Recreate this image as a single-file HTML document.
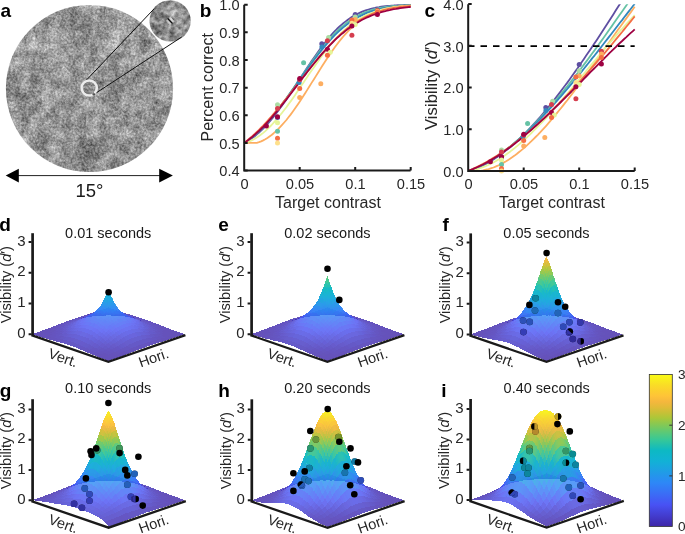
<!DOCTYPE html><html><head><meta charset="utf-8"><style>html,body{margin:0;padding:0;background:#fff;width:685px;height:534px;overflow:hidden}svg{display:block}</style></head><body>
<svg width="685" height="534" viewBox="0 0 685 534" style="will-change:transform">
<rect width="685" height="534" fill="#fff"/>
<defs>
<filter id="nz" x="0" y="0" width="100%" height="100%" color-interpolation-filters="sRGB"><feTurbulence type="fractalNoise" baseFrequency="0.45" numOctaves="2" seed="3" result="t1"/><feColorMatrix in="t1" type="matrix" values="1 0 0 0 0  1 0 0 0 0  1 0 0 0 0  0 0 0 0 1" result="g1"/><feTurbulence type="fractalNoise" baseFrequency="0.1" numOctaves="2" seed="17" result="t3"/><feColorMatrix in="t3" type="matrix" values="1 0 0 0 0  1 0 0 0 0  1 0 0 0 0  0 0 0 0 1" result="g3"/><feTurbulence type="fractalNoise" baseFrequency="0.03" numOctaves="2" seed="11" result="t2"/><feColorMatrix in="t2" type="matrix" values="1 0 0 0 0  1 0 0 0 0  1 0 0 0 0  0 0 0 0 1" result="g2"/><feComposite in="g1" in2="g3" operator="arithmetic" k1="0" k2="0.5" k3="0.42" k4="0" result="c1"/><feComposite in="c1" in2="g2" operator="arithmetic" k1="0" k2="1" k3="0.33" k4="-0.04"/></filter>
<filter id="gb" x="-50%" y="-50%" width="200%" height="200%"><feGaussianBlur stdDeviation="0.55"/></filter>
<filter id="nz2" x="0" y="0" width="100%%" height="100%%" color-interpolation-filters="sRGB"><feTurbulence type="fractalNoise" baseFrequency="0.2" numOctaves="3" seed="5" result="t1"/><feColorMatrix in="t1" type="matrix" values="1 0 0 0 0  1 0 0 0 0  1 0 0 0 0  0 0 0 0 1" result="g1"/><feTurbulence type="fractalNoise" baseFrequency="0.06" numOctaves="2" seed="9" result="t2"/><feColorMatrix in="t2" type="matrix" values="1 0 0 0 0  1 0 0 0 0  1 0 0 0 0  0 0 0 0 1" result="g2"/><feComposite in="g1" in2="g2" operator="arithmetic" k1="0" k2="0.7" k3="0.5" k4="-0.04"/></filter>
<clipPath id="cpA"><circle cx="89.5" cy="88.5" r="83.6"/></clipPath>
<clipPath id="cpI"><circle cx="170.1" cy="20.9" r="20.6"/></clipPath>
</defs>
<g clip-path="url(#cpA)"><rect x="0" y="0" width="180" height="180" filter="url(#nz)"/></g>
<g clip-path="url(#cpI)"><rect x="140" y="0" width="55" height="45" filter="url(#nz2)"/><g transform="translate(170.1,21) rotate(47)" filter="url(#gb)"><rect x="-3.6" y="-1" width="7.2" height="2" rx="1" fill="#000" opacity="0.9"/><rect x="-3.2" y="1.1" width="6.4" height="1.6" rx="0.8" fill="#eee" opacity="0.7"/><rect x="-3.2" y="-2.7" width="6.4" height="1.6" rx="0.8" fill="#eee" opacity="0.7"/><rect x="-2" y="-4.6" width="4" height="1.6" rx="0.8" fill="#222" opacity="0.6"/></g></g>
<line x1="84.8" y1="81.8" x2="154" y2="8.9" stroke="#111" stroke-width="1"/>
<line x1="93.6" y1="94.6" x2="181.7" y2="37" stroke="#111" stroke-width="1"/>
<circle cx="89.2" cy="88" r="7.6" fill="none" stroke="#ececec" stroke-width="2.5" stroke-dasharray="5.97 2.65 39.2"/>
<line x1="15" y1="175.6" x2="162" y2="175.6" stroke="#222" stroke-width="1"/>
<path d="M5.7 175.6 L18.8 168.8 L18.8 182.4 Z" fill="#000"/>
<path d="M172.9 175.6 L159.2 168.8 L159.2 182.4 Z" fill="#000"/>
<text x="89.5" y="196.8" text-anchor="middle" style="font-family:'Liberation Sans',sans-serif;font-size:18.5px" fill="#1a1a1a">15°</text>
<g fill="none" stroke-width="1.8" stroke-linejoin="round">
<polyline points="244.2,142.9 246.3,141.9 248.4,140.6 250.5,139.3 252.6,137.8 254.7,136.2 256.8,134.4 259.0,132.6 261.1,130.6 263.2,128.6 265.3,126.4 267.4,124.1 269.5,121.7 271.6,119.2 273.7,116.6 275.8,113.9 277.9,111.2 280.0,108.3 282.1,105.4 284.2,102.4 286.4,99.4 288.5,96.3 290.6,93.1 292.7,90.0 294.8,86.8 296.9,83.5 299.0,80.3 301.1,77.0 303.2,73.8 305.3,70.6 307.4,67.3 309.5,64.2 311.6,61.0 313.8,57.9 315.9,54.9 318.0,51.9 320.1,49.0 322.2,46.2 324.3,43.5 326.4,40.8 328.5,38.2 330.6,35.8 332.7,33.4 334.8,31.2 336.9,29.0 339.0,27.0 341.1,25.1 343.3,23.3 345.4,21.6 347.5,20.0 349.6,18.5 351.7,17.1 353.8,15.8 355.9,14.7 358.0,13.6 360.1,12.6 362.2,11.7 364.3,10.9 366.4,10.1 368.5,9.5 370.7,8.9 372.8,8.3 374.9,7.9 377.0,7.4 379.1,7.1 381.2,6.7 383.3,6.4 385.4,6.2 387.5,6.0 389.6,5.8 391.7,5.6 393.8,5.5 395.9,5.3 398.1,5.2 400.2,5.2 402.3,5.1 404.4,5.0 406.5,5.0 408.6,4.9 410.7,4.9" stroke="#5e4fa2"/>
<polyline points="244.2,142.9 246.3,141.6 248.4,140.2 250.5,138.6 252.6,136.9 254.7,135.2 256.8,133.3 259.0,131.3 261.1,129.3 263.2,127.1 265.3,124.9 267.4,122.6 269.5,120.1 271.6,117.6 273.7,115.1 275.8,112.4 277.9,109.7 280.0,106.9 282.1,104.1 284.2,101.2 286.4,98.3 288.5,95.3 290.6,92.3 292.7,89.3 294.8,86.3 296.9,83.2 299.0,80.1 301.1,77.1 303.2,74.0 305.3,71.0 307.4,67.9 309.5,64.9 311.6,62.0 313.8,59.0 315.9,56.2 318.0,53.4 320.1,50.6 322.2,47.9 324.3,45.3 326.4,42.7 328.5,40.3 330.6,37.9 332.7,35.6 334.8,33.4 336.9,31.3 339.0,29.3 341.1,27.4 343.3,25.6 345.4,23.9 347.5,22.3 349.6,20.7 351.7,19.3 353.8,18.0 355.9,16.7 358.0,15.6 360.1,14.5 362.2,13.5 364.3,12.6 366.4,11.8 368.5,11.0 370.7,10.3 372.8,9.7 374.9,9.1 377.0,8.6 379.1,8.1 381.2,7.7 383.3,7.3 385.4,7.0 387.5,6.7 389.6,6.4 391.7,6.2 393.8,6.0 395.9,5.8 398.1,5.7 400.2,5.5 402.3,5.4 404.4,5.3 406.5,5.2 408.6,5.1 410.7,5.1" stroke="#66c2a5"/>
<polyline points="244.2,142.9 246.3,141.6 248.4,140.1 250.5,138.5 252.6,136.8 254.7,135.0 256.8,133.1 259.0,131.1 261.1,129.1 263.2,126.9 265.3,124.7 267.4,122.3 269.5,120.0 271.6,117.5 273.7,114.9 275.8,112.3 277.9,109.7 280.0,106.9 282.1,104.2 284.2,101.3 286.4,98.5 288.5,95.6 290.6,92.6 292.7,89.7 294.8,86.7 296.9,83.7 299.0,80.8 301.1,77.8 303.2,74.8 305.3,71.8 307.4,68.9 309.5,66.0 311.6,63.1 313.8,60.3 315.9,57.5 318.0,54.7 320.1,52.1 322.2,49.4 324.3,46.9 326.4,44.4 328.5,42.0 330.6,39.7 332.7,37.4 334.8,35.2 336.9,33.2 339.0,31.2 341.1,29.3 343.3,27.4 345.4,25.7 347.5,24.1 349.6,22.5 351.7,21.1 353.8,19.7 355.9,18.4 358.0,17.2 360.1,16.1 362.2,15.1 364.3,14.1 366.4,13.2 368.5,12.4 370.7,11.6 372.8,10.9 374.9,10.3 377.0,9.7 379.1,9.1 381.2,8.7 383.3,8.2 385.4,7.8 387.5,7.5 389.6,7.1 391.7,6.9 393.8,6.6 395.9,6.4 398.1,6.2 400.2,6.0 402.3,5.8 404.4,5.7 406.5,5.5 408.6,5.4 410.7,5.3" stroke="#3288bd"/>
<polyline points="244.2,142.9 246.3,142.9 248.4,142.9 250.5,142.9 252.6,142.9 254.7,142.9 256.8,142.8 259.0,142.2 261.1,141.4 263.2,140.4 265.3,139.3 267.4,138.0 269.5,136.5 271.6,135.0 273.7,133.2 275.8,131.3 277.9,129.3 280.0,127.2 282.1,124.9 284.2,122.5 286.4,120.0 288.5,117.3 290.6,114.6 292.7,111.7 294.8,108.8 296.9,105.8 299.0,102.7 301.1,99.5 303.2,96.3 305.3,93.0 307.4,89.6 309.5,86.3 311.6,82.9 313.8,79.5 315.9,76.1 318.0,72.8 320.1,69.4 322.2,66.1 324.3,62.8 326.4,59.6 328.5,56.4 330.6,53.3 332.7,50.3 334.8,47.3 336.9,44.5 339.0,41.7 341.1,39.1 343.3,36.5 345.4,34.1 347.5,31.8 349.6,29.6 351.7,27.5 353.8,25.6 355.9,23.7 358.0,22.0 360.1,20.4 362.2,18.9 364.3,17.5 366.4,16.2 368.5,15.1 370.7,14.0 372.8,13.0 374.9,12.1 377.0,11.3 379.1,10.5 381.2,9.8 383.3,9.2 385.4,8.7 387.5,8.2 389.6,7.8 391.7,7.4 393.8,7.0 395.9,6.7 398.1,6.5 400.2,6.2 402.3,6.0 404.4,5.9 406.5,5.7 408.6,5.6 410.7,5.4" stroke="#fdae61"/>
<polyline points="244.2,142.9 246.3,142.4 248.4,141.7 250.5,140.9 252.6,139.9 254.7,138.8 256.8,137.5 259.0,136.1 261.1,134.5 263.2,132.9 265.3,131.1 267.4,129.2 269.5,127.1 271.6,125.0 273.7,122.7 275.8,120.4 277.9,117.9 280.0,115.3 282.1,112.7 284.2,110.0 286.4,107.2 288.5,104.3 290.6,101.4 292.7,98.4 294.8,95.4 296.9,92.3 299.0,89.2 301.1,86.1 303.2,83.0 305.3,79.8 307.4,76.7 309.5,73.6 311.6,70.5 313.8,67.4 315.9,64.4 318.0,61.4 320.1,58.4 322.2,55.5 324.3,52.7 326.4,50.0 328.5,47.3 330.6,44.7 332.7,42.2 334.8,39.8 336.9,37.5 339.0,35.2 341.1,33.1 343.3,31.1 345.4,29.2 347.5,27.3 349.6,25.6 351.7,23.9 353.8,22.4 355.9,21.0 358.0,19.6 360.1,18.3 362.2,17.2 364.3,16.1 366.4,15.1 368.5,14.1 370.7,13.3 372.8,12.5 374.9,11.7 377.0,11.0 379.1,10.4 381.2,9.9 383.3,9.4 385.4,8.9 387.5,8.5 389.6,8.1 391.7,7.8 393.8,7.4 395.9,7.2 398.1,6.9 400.2,6.7 402.3,6.5 404.4,6.3 406.5,6.1 408.6,6.0 410.7,5.8" stroke="#e6f598"/>
<polyline points="244.2,142.9 246.3,141.3 248.4,139.5 250.5,137.7 252.6,135.9 254.7,133.9 256.8,131.9 259.0,129.9 261.1,127.7 263.2,125.6 265.3,123.3 267.4,121.0 269.5,118.7 271.6,116.3 273.7,113.9 275.8,111.4 277.9,108.8 280.0,106.3 282.1,103.7 284.2,101.1 286.4,98.4 288.5,95.7 290.6,93.1 292.7,90.3 294.8,87.6 296.9,84.9 299.0,82.2 301.1,79.5 303.2,76.8 305.3,74.1 307.4,71.4 309.5,68.7 311.6,66.1 313.8,63.5 315.9,60.9 318.0,58.3 320.1,55.8 322.2,53.4 324.3,51.0 326.4,48.6 328.5,46.3 330.6,44.1 332.7,41.9 334.8,39.8 336.9,37.7 339.0,35.8 341.1,33.8 343.3,32.0 345.4,30.2 347.5,28.5 349.6,26.9 351.7,25.4 353.8,23.9 355.9,22.5 358.0,21.1 360.1,19.9 362.2,18.7 364.3,17.6 366.4,16.5 368.5,15.5 370.7,14.6 372.8,13.7 374.9,12.9 377.0,12.2 379.1,11.5 381.2,10.8 383.3,10.2 385.4,9.7 387.5,9.2 389.6,8.7 391.7,8.3 393.8,7.9 395.9,7.6 398.1,7.3 400.2,7.0 402.3,6.7 404.4,6.5 406.5,6.3 408.6,6.1 410.7,5.9" stroke="#f46d43"/>
<polyline points="244.2,142.9 246.3,141.5 248.4,140.0 250.5,138.3 252.6,136.6 254.7,134.8 256.8,132.9 259.0,130.9 261.1,128.9 263.2,126.8 265.3,124.6 267.4,122.3 269.5,120.0 271.6,117.6 273.7,115.1 275.8,112.6 277.9,110.1 280.0,107.5 282.1,104.9 284.2,102.2 286.4,99.5 288.5,96.7 290.6,94.0 292.7,91.2 294.8,88.4 296.9,85.7 299.0,82.9 301.1,80.1 303.2,77.3 305.3,74.6 307.4,71.8 309.5,69.1 311.6,66.5 313.8,63.8 315.9,61.2 318.0,58.7 320.1,56.2 322.2,53.7 324.3,51.3 326.4,49.0 328.5,46.7 330.6,44.5 332.7,42.3 334.8,40.2 336.9,38.2 339.0,36.3 341.1,34.4 343.3,32.7 345.4,30.9 347.5,29.3 349.6,27.7 351.7,26.2 353.8,24.8 355.9,23.5 358.0,22.2 360.1,21.0 362.2,19.8 364.3,18.8 366.4,17.7 368.5,16.8 370.7,15.9 372.8,15.0 374.9,14.3 377.0,13.5 379.1,12.8 381.2,12.2 383.3,11.6 385.4,11.1 387.5,10.5 389.6,10.1 391.7,9.6 393.8,9.2 395.9,8.9 398.1,8.5 400.2,8.2 402.3,7.9 404.4,7.6 406.5,7.4 408.6,7.2 410.7,7.0" stroke="#9e0142"/>
</g>
<circle cx="266.4" cy="125.9" r="2.5" fill="#9e0142"/>
<circle cx="277.5" cy="104.7" r="2.5" fill="#abdda4"/>
<circle cx="277.5" cy="117.4" r="2.5" fill="#5e4fa2"/>
<circle cx="277.5" cy="108.4" r="2.5" fill="#d53e4f"/>
<circle cx="277.5" cy="116.7" r="2.5" fill="#9e0142"/>
<circle cx="277.5" cy="122.8" r="2.5" fill="#e6f598"/>
<circle cx="277.5" cy="131.3" r="2.5" fill="#66c2a5"/>
<circle cx="277.5" cy="138.3" r="2.5" fill="#f46d43"/>
<circle cx="277.5" cy="142.9" r="2.5" fill="#fee08b"/>
<circle cx="299.1" cy="82.4" r="2.5" fill="#3288bd"/>
<circle cx="299.7" cy="79.8" r="2.5" fill="#d53e4f"/>
<circle cx="299.7" cy="78.5" r="2.5" fill="#9e0142"/>
<circle cx="299.7" cy="88.4" r="2.5" fill="#f46d43"/>
<circle cx="299.7" cy="97.5" r="2.5" fill="#fdae61"/>
<circle cx="303.6" cy="62.8" r="2.5" fill="#66c2a5"/>
<circle cx="320.8" cy="83.7" r="2.5" fill="#fdae61"/>
<circle cx="321.8" cy="43.8" r="2.5" fill="#5e4fa2"/>
<circle cx="321.9" cy="46.9" r="2.5" fill="#3288bd"/>
<circle cx="328.6" cy="37.6" r="2.5" fill="#abdda4"/>
<circle cx="327.4" cy="40.8" r="2.5" fill="#d53e4f"/>
<circle cx="327.4" cy="49.2" r="2.5" fill="#9e0142"/>
<circle cx="330.3" cy="52.2" r="2.5" fill="#e6f598"/>
<circle cx="327.4" cy="55.2" r="2.5" fill="#f46d43"/>
<circle cx="355.2" cy="14.6" r="2.5" fill="#5e4fa2"/>
<circle cx="355.2" cy="17.1" r="2.5" fill="#abdda4"/>
<circle cx="355.2" cy="19.5" r="2.5" fill="#fdae61"/>
<circle cx="351.9" cy="20.1" r="2.5" fill="#f46d43"/>
<circle cx="351.9" cy="23.2" r="2.5" fill="#fee08b"/>
<circle cx="355.2" cy="24.5" r="2.5" fill="#e6f598"/>
<circle cx="351.9" cy="25.9" r="2.5" fill="#9e0142"/>
<circle cx="351.9" cy="35.3" r="2.5" fill="#d53e4f"/>
<circle cx="377.4" cy="10.6" r="2.5" fill="#d53e4f"/>
<circle cx="377.4" cy="11.3" r="2.5" fill="#fdae61"/>
<circle cx="377.4" cy="12.2" r="2.5" fill="#f46d43"/>
<circle cx="377.4" cy="14.4" r="2.5" fill="#9e0142"/>
<defs><clipPath id="cpC"><rect x="468" y="4.2" width="170" height="170"/></clipPath></defs>
<g fill="none" stroke-width="1.8" stroke-linejoin="round" clip-path="url(#cpC)">
<polyline points="468.2,170.9 470.3,170.3 472.4,169.7 474.5,168.9 476.6,168.1 478.7,167.3 480.8,166.4 483.0,165.4 485.1,164.3 487.2,163.2 489.3,162.0 491.4,160.8 493.5,159.5 495.6,158.1 497.7,156.7 499.8,155.2 501.9,153.7 504.0,152.1 506.1,150.4 508.2,148.7 510.4,147.0 512.5,145.2 514.6,143.3 516.7,141.4 518.8,139.4 520.9,137.4 523.0,135.4 525.1,133.3 527.2,131.1 529.3,128.9 531.4,126.7 533.5,124.4 535.6,122.0 537.8,119.7 539.9,117.3 542.0,114.8 544.1,112.3 546.2,109.8 548.3,107.2 550.4,104.6 552.5,102.0 554.6,99.3 556.7,96.6 558.8,93.9 560.9,91.1 563.0,88.3 565.1,85.5 567.3,82.6 569.4,79.7 571.5,76.8 573.6,73.8 575.7,70.9 577.8,67.9 579.9,64.8 582.0,61.8 584.1,58.7 586.2,55.6 588.3,52.5 590.4,49.4 592.5,46.3 594.7,43.1 596.8,39.9 598.9,36.7 601.0,33.5 603.1,30.3 605.2,27.0 607.3,23.8 609.4,20.5 611.5,17.2 613.6,13.9 615.7,10.6 617.8,7.3 619.9,4.0 622.1,0.7 624.2,-2.6 626.3,-5.9 628.4,-9.3 630.5,-12.6 632.6,-16.0 634.7,-19.3" stroke="#5e4fa2"/>
<polyline points="468.2,170.9 470.3,170.2 472.4,169.4 474.5,168.6 476.6,167.7 478.7,166.7 480.8,165.7 483.0,164.7 485.1,163.6 487.2,162.4 489.3,161.2 491.4,159.9 493.5,158.6 495.6,157.3 497.7,155.8 499.8,154.4 501.9,152.9 504.0,151.3 506.1,149.7 508.2,148.0 510.4,146.3 512.5,144.6 514.6,142.8 516.7,141.0 518.8,139.1 520.9,137.2 523.0,135.3 525.1,133.3 527.2,131.2 529.3,129.2 531.4,127.1 533.5,124.9 535.6,122.7 537.8,120.5 539.9,118.3 542.0,116.0 544.1,113.7 546.2,111.3 548.3,109.0 550.4,106.6 552.5,104.1 554.6,101.6 556.7,99.1 558.8,96.6 560.9,94.1 563.0,91.5 565.1,88.9 567.3,86.2 569.4,83.6 571.5,80.9 573.6,78.2 575.7,75.5 577.8,72.7 579.9,70.0 582.0,67.2 584.1,64.4 586.2,61.6 588.3,58.7 590.4,55.9 592.5,53.0 594.7,50.1 596.8,47.2 598.9,44.3 601.0,41.4 603.1,38.4 605.2,35.5 607.3,32.5 609.4,29.5 611.5,26.6 613.6,23.6 615.7,20.6 617.8,17.6 619.9,14.5 622.1,11.5 624.2,8.5 626.3,5.5 628.4,2.4 630.5,-0.6 632.6,-3.6 634.7,-6.7" stroke="#66c2a5"/>
<polyline points="468.2,170.9 470.3,170.2 472.4,169.4 474.5,168.5 476.6,167.6 478.7,166.6 480.8,165.6 483.0,164.6 485.1,163.5 487.2,162.3 489.3,161.1 491.4,159.8 493.5,158.5 495.6,157.2 497.7,155.8 499.8,154.3 501.9,152.8 504.0,151.3 506.1,149.7 508.2,148.1 510.4,146.4 512.5,144.7 514.6,143.0 516.7,141.2 518.8,139.4 520.9,137.6 523.0,135.7 525.1,133.7 527.2,131.8 529.3,129.8 531.4,127.8 533.5,125.7 535.6,123.6 537.8,121.5 539.9,119.3 542.0,117.1 544.1,114.9 546.2,112.7 548.3,110.4 550.4,108.1 552.5,105.8 554.6,103.5 556.7,101.1 558.8,98.7 560.9,96.3 563.0,93.9 565.1,91.4 567.3,88.9 569.4,86.4 571.5,83.9 573.6,81.4 575.7,78.8 577.8,76.3 579.9,73.7 582.0,71.1 584.1,68.5 586.2,65.9 588.3,63.2 590.4,60.6 592.5,57.9 594.7,55.3 596.8,52.6 598.9,49.9 601.0,47.2 603.1,44.5 605.2,41.8 607.3,39.1 609.4,36.4 611.5,33.7 613.6,31.0 615.7,28.2 617.8,25.5 619.9,22.8 622.1,20.1 624.2,17.3 626.3,14.6 628.4,11.9 630.5,9.2 632.6,6.5 634.7,3.8" stroke="#3288bd"/>
<polyline points="468.2,170.9 470.3,170.9 472.4,170.9 474.5,170.9 476.6,170.9 478.7,170.9 480.8,170.8 483.0,170.5 485.1,170.0 487.2,169.5 489.3,168.9 491.4,168.2 493.5,167.5 495.6,166.6 497.7,165.7 499.8,164.7 501.9,163.6 504.0,162.4 506.1,161.2 508.2,159.9 510.4,158.5 512.5,157.1 514.6,155.6 516.7,154.0 518.8,152.3 520.9,150.6 523.0,148.9 525.1,147.0 527.2,145.1 529.3,143.2 531.4,141.2 533.5,139.1 535.6,137.0 537.8,134.9 539.9,132.7 542.0,130.4 544.1,128.1 546.2,125.8 548.3,123.4 550.4,120.9 552.5,118.5 554.6,116.0 556.7,113.4 558.8,110.8 560.9,108.2 563.0,105.6 565.1,102.9 567.3,100.2 569.4,97.4 571.5,94.7 573.6,91.9 575.7,89.0 577.8,86.2 579.9,83.4 582.0,80.5 584.1,77.6 586.2,74.7 588.3,71.7 590.4,68.8 592.5,65.9 594.7,62.9 596.8,59.9 598.9,57.0 601.0,54.0 603.1,51.0 605.2,48.0 607.3,45.0 609.4,42.0 611.5,39.1 613.6,36.1 615.7,33.1 617.8,30.1 619.9,27.2 622.1,24.2 624.2,21.3 626.3,18.4 628.4,15.5 630.5,12.6 632.6,9.7 634.7,6.8" stroke="#fdae61"/>
<polyline points="468.2,170.9 470.3,170.6 472.4,170.2 474.5,169.8 476.6,169.3 478.7,168.7 480.8,168.0 483.0,167.2 485.1,166.4 487.2,165.5 489.3,164.5 491.4,163.5 493.5,162.4 495.6,161.3 497.7,160.0 499.8,158.7 501.9,157.4 504.0,156.0 506.1,154.5 508.2,153.0 510.4,151.4 512.5,149.8 514.6,148.1 516.7,146.4 518.8,144.6 520.9,142.8 523.0,140.9 525.1,139.0 527.2,137.1 529.3,135.1 531.4,133.0 533.5,130.9 535.6,128.8 537.8,126.7 539.9,124.5 542.0,122.3 544.1,120.1 546.2,117.8 548.3,115.5 550.4,113.2 552.5,110.8 554.6,108.4 556.7,106.0 558.8,103.6 560.9,101.2 563.0,98.7 565.1,96.2 567.3,93.8 569.4,91.3 571.5,88.8 573.6,86.2 575.7,83.7 577.8,81.2 579.9,78.6 582.0,76.1 584.1,73.5 586.2,71.0 588.3,68.4 590.4,65.9 592.5,63.3 594.7,60.8 596.8,58.2 598.9,55.7 601.0,53.2 603.1,50.7 605.2,48.2 607.3,45.7 609.4,43.2 611.5,40.8 613.6,38.3 615.7,35.9 617.8,33.5 619.9,31.1 622.1,28.8 624.2,26.5 626.3,24.2 628.4,21.9 630.5,19.6 632.6,17.4 634.7,15.2" stroke="#e6f598"/>
<polyline points="468.2,170.9 470.3,170.0 472.4,169.1 474.5,168.1 476.6,167.1 478.7,166.1 480.8,165.0 483.0,163.9 485.1,162.7 487.2,161.6 489.3,160.4 491.4,159.1 493.5,157.8 495.6,156.5 497.7,155.2 499.8,153.8 501.9,152.4 504.0,150.9 506.1,149.4 508.2,147.9 510.4,146.4 512.5,144.8 514.6,143.2 516.7,141.6 518.8,140.0 520.9,138.3 523.0,136.6 525.1,134.8 527.2,133.1 529.3,131.3 531.4,129.5 533.5,127.6 535.6,125.7 537.8,123.9 539.9,121.9 542.0,120.0 544.1,118.0 546.2,116.0 548.3,114.0 550.4,112.0 552.5,109.9 554.6,107.8 556.7,105.7 558.8,103.6 560.9,101.5 563.0,99.3 565.1,97.1 567.3,94.9 569.4,92.7 571.5,90.4 573.6,88.2 575.7,85.9 577.8,83.6 579.9,81.3 582.0,78.9 584.1,76.6 586.2,74.2 588.3,71.9 590.4,69.5 592.5,67.1 594.7,64.6 596.8,62.2 598.9,59.7 601.0,57.3 603.1,54.8 605.2,52.3 607.3,49.8 609.4,47.3 611.5,44.8 613.6,42.2 615.7,39.7 617.8,37.1 619.9,34.6 622.1,32.0 624.2,29.4 626.3,26.8 628.4,24.2 630.5,21.6 632.6,19.0 634.7,16.4" stroke="#f46d43"/>
<polyline points="468.2,170.9 470.3,170.1 472.4,169.3 474.5,168.4 476.6,167.5 478.7,166.5 480.8,165.5 483.0,164.5 485.1,163.4 487.2,162.2 489.3,161.0 491.4,159.8 493.5,158.5 495.6,157.2 497.7,155.9 499.8,154.5 501.9,153.1 504.0,151.6 506.1,150.1 508.2,148.6 510.4,147.0 512.5,145.4 514.6,143.8 516.7,142.1 518.8,140.5 520.9,138.7 523.0,137.0 525.1,135.2 527.2,133.4 529.3,131.6 531.4,129.8 533.5,127.9 535.6,126.0 537.8,124.1 539.9,122.2 542.0,120.2 544.1,118.3 546.2,116.3 548.3,114.3 550.4,112.3 552.5,110.2 554.6,108.2 556.7,106.1 558.8,104.1 560.9,102.0 563.0,99.9 565.1,97.8 567.3,95.7 569.4,93.6 571.5,91.5 573.6,89.3 575.7,87.2 577.8,85.1 579.9,82.9 582.0,80.8 584.1,78.6 586.2,76.5 588.3,74.4 590.4,72.2 592.5,70.1 594.7,68.0 596.8,65.8 598.9,63.7 601.0,61.6 603.1,59.5 605.2,57.4 607.3,55.3 609.4,53.2 611.5,51.2 613.6,49.1 615.7,47.1 617.8,45.0 619.9,43.0 622.1,41.0 624.2,39.0 626.3,37.1 628.4,35.1 630.5,33.2 632.6,31.3 634.7,29.4" stroke="#9e0142"/>
</g>
<circle cx="490.4" cy="161.7" r="2.5" fill="#9e0142"/>
<circle cx="501.5" cy="150.1" r="2.5" fill="#abdda4"/>
<circle cx="501.5" cy="157.1" r="2.5" fill="#5e4fa2"/>
<circle cx="501.5" cy="152.1" r="2.5" fill="#d53e4f"/>
<circle cx="501.5" cy="156.7" r="2.5" fill="#9e0142"/>
<circle cx="501.5" cy="160.1" r="2.5" fill="#e6f598"/>
<circle cx="501.5" cy="164.6" r="2.5" fill="#66c2a5"/>
<circle cx="501.5" cy="168.4" r="2.5" fill="#f46d43"/>
<circle cx="501.5" cy="170.9" r="2.5" fill="#fee08b"/>
<circle cx="523.1" cy="136.7" r="2.5" fill="#3288bd"/>
<circle cx="523.7" cy="135.0" r="2.5" fill="#d53e4f"/>
<circle cx="523.7" cy="134.2" r="2.5" fill="#9e0142"/>
<circle cx="523.7" cy="140.5" r="2.5" fill="#f46d43"/>
<circle cx="523.7" cy="145.9" r="2.5" fill="#fdae61"/>
<circle cx="527.6" cy="123.4" r="2.5" fill="#66c2a5"/>
<circle cx="544.8" cy="137.5" r="2.5" fill="#fdae61"/>
<circle cx="545.8" cy="107.5" r="2.5" fill="#5e4fa2"/>
<circle cx="545.9" cy="110.4" r="2.5" fill="#3288bd"/>
<circle cx="552.6" cy="101.3" r="2.5" fill="#abdda4"/>
<circle cx="551.5" cy="104.6" r="2.5" fill="#d53e4f"/>
<circle cx="551.5" cy="112.5" r="2.5" fill="#9e0142"/>
<circle cx="554.3" cy="115.0" r="2.5" fill="#e6f598"/>
<circle cx="551.5" cy="117.5" r="2.5" fill="#f46d43"/>
<circle cx="579.2" cy="64.6" r="2.5" fill="#5e4fa2"/>
<circle cx="579.2" cy="70.8" r="2.5" fill="#abdda4"/>
<circle cx="579.2" cy="75.8" r="2.5" fill="#fdae61"/>
<circle cx="575.9" cy="77.1" r="2.5" fill="#f46d43"/>
<circle cx="575.9" cy="82.5" r="2.5" fill="#fee08b"/>
<circle cx="579.2" cy="84.6" r="2.5" fill="#e6f598"/>
<circle cx="575.9" cy="86.7" r="2.5" fill="#9e0142"/>
<circle cx="575.9" cy="98.8" r="2.5" fill="#d53e4f"/>
<circle cx="601.4" cy="51.2" r="2.5" fill="#d53e4f"/>
<circle cx="601.4" cy="54.1" r="2.5" fill="#fdae61"/>
<circle cx="601.4" cy="57.5" r="2.5" fill="#f46d43"/>
<circle cx="601.4" cy="64.1" r="2.5" fill="#9e0142"/>
<line x1="468" y1="46.2" x2="634.7" y2="46.2" stroke="#000" stroke-width="1.8" stroke-dasharray="6.5 6"/>
<path d="M244.2 4.7 V170.6 H410.6" fill="none" stroke="#1a1a1a" stroke-width="2"/>
<path d="M244.2 170.6 h3.5 M244.2 142.9 h3.5 M244.2 115.3 h3.5 M244.2 87.7 h3.5 M244.2 60.0 h3.5 M244.2 32.3 h3.5 M244.2 4.7 h3.5 M299.7 170.6 v-3.5 M355.2 170.6 v-3.5 M410.7 170.6 v-3.5" stroke="#1a1a1a" stroke-width="2"/>
<text x="239.6" y="176.3" text-anchor="end" style="font-family:'Liberation Sans',sans-serif;font-size:14.6px" fill="#262626">0.4</text>
<text x="239.6" y="148.6" text-anchor="end" style="font-family:'Liberation Sans',sans-serif;font-size:14.6px" fill="#262626">0.5</text>
<text x="239.6" y="121.0" text-anchor="end" style="font-family:'Liberation Sans',sans-serif;font-size:14.6px" fill="#262626">0.6</text>
<text x="239.6" y="93.4" text-anchor="end" style="font-family:'Liberation Sans',sans-serif;font-size:14.6px" fill="#262626">0.7</text>
<text x="239.6" y="65.7" text-anchor="end" style="font-family:'Liberation Sans',sans-serif;font-size:14.6px" fill="#262626">0.8</text>
<text x="239.6" y="38.0" text-anchor="end" style="font-family:'Liberation Sans',sans-serif;font-size:14.6px" fill="#262626">0.9</text>
<text x="239.6" y="10.4" text-anchor="end" style="font-family:'Liberation Sans',sans-serif;font-size:14.6px" fill="#262626">1.0</text>
<text x="244.5" y="189.4" text-anchor="middle" style="font-family:'Liberation Sans',sans-serif;font-size:14.6px" fill="#262626">0</text>
<text x="300.0" y="189.4" text-anchor="middle" style="font-family:'Liberation Sans',sans-serif;font-size:14.6px" fill="#262626">0.05</text>
<text x="355.5" y="189.4" text-anchor="middle" style="font-family:'Liberation Sans',sans-serif;font-size:14.6px" fill="#262626">0.1</text>
<text x="411.0" y="189.4" text-anchor="middle" style="font-family:'Liberation Sans',sans-serif;font-size:14.6px" fill="#262626">0.15</text>
<path d="M468.2 4.2 V170.9 H634.7" fill="none" stroke="#1a1a1a" stroke-width="2"/>
<path d="M468.2 170.9 h3.5 M468.2 129.2 h3.5 M468.2 87.5 h3.5 M468.2 45.8 h3.5 M468.2 4.1 h3.5 M523.7 170.9 v-3.5 M579.2 170.9 v-3.5 M634.7 170.9 v-3.5" stroke="#1a1a1a" stroke-width="2"/>
<text x="463.6" y="176.6" text-anchor="end" style="font-family:'Liberation Sans',sans-serif;font-size:14.6px" fill="#262626">0.0</text>
<text x="463.6" y="134.9" text-anchor="end" style="font-family:'Liberation Sans',sans-serif;font-size:14.6px" fill="#262626">1.0</text>
<text x="463.6" y="93.2" text-anchor="end" style="font-family:'Liberation Sans',sans-serif;font-size:14.6px" fill="#262626">2.0</text>
<text x="463.6" y="51.5" text-anchor="end" style="font-family:'Liberation Sans',sans-serif;font-size:14.6px" fill="#262626">3.0</text>
<text x="463.6" y="9.8" text-anchor="end" style="font-family:'Liberation Sans',sans-serif;font-size:14.6px" fill="#262626">4.0</text>
<text x="468.5" y="189.4" text-anchor="middle" style="font-family:'Liberation Sans',sans-serif;font-size:14.6px" fill="#262626">0</text>
<text x="524.0" y="189.4" text-anchor="middle" style="font-family:'Liberation Sans',sans-serif;font-size:14.6px" fill="#262626">0.05</text>
<text x="579.5" y="189.4" text-anchor="middle" style="font-family:'Liberation Sans',sans-serif;font-size:14.6px" fill="#262626">0.1</text>
<text x="635.0" y="189.4" text-anchor="middle" style="font-family:'Liberation Sans',sans-serif;font-size:14.6px" fill="#262626">0.15</text>
<text x="328" y="207.7" text-anchor="middle" style="font-family:'Liberation Sans',sans-serif;font-size:16px" fill="#262626">Target contrast</text>
<text x="552" y="207.7" text-anchor="middle" style="font-family:'Liberation Sans',sans-serif;font-size:16px" fill="#262626">Target contrast</text>
<text transform="translate(212.6,87.3) rotate(-90)" text-anchor="middle" style="font-family:'Liberation Sans',sans-serif;font-size:16px" fill="#262626">Percent correct</text>
<text transform="translate(436.6,85.6) rotate(-90)" text-anchor="middle" style="font-family:'Liberation Sans',sans-serif;font-size:16.8px" fill="#262626" textLength="89" lengthAdjust="spacing">Visibility (<tspan font-style="italic">d</tspan>′)</text>
<g><g opacity="0.80" shape-rendering="crispEdges"><path fill="#3f2db7" d="M131 316.9l1.8.4-4.3-.2-1.7-.3z"/><path fill="#3f30b7" d="M132.8 317.3l1.4.4-4.2-.3-1.5-.3zM134.2 317.7l1.4.4-4.2-.4-1.4-.3z"/><path fill="#3f30ba" d="M135.6 318.1l1.2.3-4.3-.4-1.1-.3zM136.8 318.4l1.1.3-4.3-.4-1.1-.3z"/></g>
<g opacity="0.80" shape-rendering="crispEdges"><path fill="#4236c6" d="M129 316.9l1.1.2 3.9 1.3-1.1-.3z"/></g>
<g opacity="0.80" shape-rendering="crispEdges"><path fill="#3f30ba" d="M137.9 318.7l1 .4-4.3-.5-1-.3zM138.9 319.1l.9.2-4.2-.5-1-.2z"/><path fill="#4236c6" d="M134 318.4l1 .3-3.9-1.2-1-.4z"/></g>
<g opacity="0.80" shape-rendering="crispEdges"><path fill="#4239c6" d="M131.1 317.5l1 .1 3.9 1.3-1-.2z"/></g>
<g opacity="0.80" shape-rendering="crispEdges"><path fill="#3f30ba" d="M81.2 318.1l4.3-.4-1.2.3-4.3.4zM80 318.4l4.3-.4-1.1.2-4.3.5zM78.9 318.7l4.3-.5-1 .4-4.3.4zM77.9 319l4.3-.4-1 .2-4.2.5zM139.8 319.3l1 .3-4.4-.5-.8-.3zM140.8 319.6l.7.3-4.1-.6-1-.2z"/><path fill="#4239c6" d="M136 318.9l.8.3-3.9-1.3-.8-.3z"/></g>
<g opacity="0.80" shape-rendering="crispEdges"><path fill="#4239c6" d="M80 319.1l3.9-1.3.9-.2-4 1.3zM132.9 317.9l.8.2 4.1 1.3-1-.2z"/></g>
<g opacity="0.80" shape-rendering="crispEdges"><path fill="#3f27ab" d="M123.2 312.4l3 1.2-4.5 1.2-3-1zM93.6 312.4l4.5 1.4-3 1-4.5-1.2zM126.2 313.4l2.6 1-4.6 1.1-2.6-.9z"/><path fill="#3f2aab" d="M128.8 314.2l2.4.9-4.6 1-2.4-.8z"/><path fill="#3f2aae" d="M131.2 315l2.1.7-4.6.8-2.1-.6z"/><path fill="#3f30b7" d="M84.1 317.3l4.2-.2-1.5.3-4.2.3zM82.6 317.7l4.2-.3-1.3.3-4.3.4z"/><path fill="#3f30ba" d="M75.4 319.9l4.1-.6-.7.3-4.3.6z"/><path fill="#4239c6" d="M80 319.1l3.9-1.3-.8.3-4 1.3zM78.4 319.7l3.9-1.4.8-.2-4 1.3zM137.8 319.4l.7.3-4-1.2-.8-.4z"/></g>
<g opacity="0.80" shape-rendering="crispEdges"><path fill="#3f27ab" d="M90.6 313.4l4.6 1.2-2.6.9-4.6-1.1z"/><path fill="#4239c6" d="M77.5 319.9l4-1.3.8-.3-3.9 1.4zM134.5 318.5l.9.2 3.9 1.3-.8-.3z"/><path fill="#453fd5" d="M131.4 317l.8.3 3.6 1.6-.9-.2zM80.2 319.1l3.6-1.6.8-.3-3.5 1.6z"/><path fill="#4851f0" d="M125.9 314.5l.8.2 3.1 1.5-.9-.3z"/><path fill="#4557f6" d="M123.5 313.3l.9.3 2.7 1.3-.8-.2z"/><path fill="#3c66f6" d="M92.5 313.2l2.3-1.5 1-.2-2.4 1.3z"/></g>
<g opacity="0.80" shape-rendering="crispEdges"><path fill="#3f27a8" d="M108.4 307.4l4.4 1.7-4.4 1.7-4.4-1.7zM104.2 308.9l4.4 1.7-4 1.4-4.4-1.6zM112.6 308.9l4 1.5-4.4 1.6-4-1.4zM100.3 310.2l4.5 1.6-3.7 1.3-4.5-1.5zM116.5 310.2l3.7 1.4-4.5 1.5-3.7-1.3zM108.4 310.4l4 1.4-4 1.3-4-1.3z"/><path fill="#3f27ab" d="M96.7 311.4l4.5 1.5-3.2 1.1-4.5-1.4zM120.1 311.4l3.2 1.2-4.5 1.4-3.2-1.1zM104.6 311.6l4 1.3-3.7 1.2-4.1-1.2zM112.2 311.6l3.8 1.3-4.1 1.2-3.7-1.2zM100.9 312.7l4.2 1.2-3.3.9-4.1-1zM115.9 312.7l3.2 1.1-4.1 1-3.3-.9zM108.4 312.7l3.7 1.2-3.7.9-3.7-.9z"/><path fill="#3f2aae" d="M97.8 313.6l4.1 1-3 .8-4.1-.8zM119 313.6l3 1-4.1.8-3-.8zM104.8 313.7l3.8.9-3.3.7-3.8-.7zM112 313.7l3.3.9-3.8.7-3.3-.7zM94.8 314.4l4.2.8-2.6.7-4.2-.6zM122 314.4l2.6.9-4.2.6-2.6-.7zM85.6 315l4.6.9-2.1.6-4.6-.8zM83.5 315.6l4.6.8-1.9.6-4.6-.7zM133.3 315.6l1.9.7-4.6.7-1.9-.6zM81.6 316.2l4.6.7-1.7.5-4.6-.6zM135.2 316.2l1.7.6-4.5.6-1.8-.5z"/><path fill="#3f2aab" d="M88 314.2l4.6 1.1-2.4.8-4.6-1z"/><path fill="#3f2db1" d="M101.6 314.4l3.8.7-3 .7-3.8-.6zM115.2 314.4l3 .8-3.7.6-3.1-.7z"/><path fill="#3f2db4" d="M108.4 314.4l3.4.7-3.4.4-3.4-.4zM98.6 315l3.9.6-2.6.2-3.9-.1zM118.2 315l2.6.7-3.9.1-2.5-.2zM89.8 315.8l4.3.3-2.2.4-4.2-.1zM127 315.8l2.1.6-4.2.1-2.2-.4zM87.7 316.3l4.2.1-1.9.4-4.2.1zM129.1 316.3l1.9.6-4.2-.1-1.9-.4z"/><path fill="#3f2ab1" d="M92.2 315.2l4.2.5-2.3.5-4.3-.3zM124.6 315.2l2.4.7-4.3.3-2.3-.5z"/><path fill="#3f30b7" d="M111.7 314.9l3.1.7-3.7-.1-2.9-.2zM105.1 314.9l3.5.4-2.8.2-3.7.1zM96 315.6l3.9.1-2.3.1-3.9.3zM120.8 315.6l2.3.5-3.9-.3-2.3-.1z"/><path fill="#3f30ba" d="M93.7 316.1l3.9-.3-2.2.2-3.9.4zM123.1 316.1l2.2.3-3.9-.4-2.2-.2zM72.9 320.7l4.2-.7-.8.6-4.3.5zM72 321.1l4.3-.5-1 .2-4.2.6z"/><path fill="#3f2db7" d="M85.8 316.9l4.2-.1-1.7.3-4.2.2z"/><path fill="#4236c6" d="M82.8 318.3l4-1.2 1-.3-3.9 1.3z"/><path fill="#4239c6" d="M76.7 320.2l3.9-1.3-.8.3-3.9 1.5zM140.1 320.3l.8.4-3.9-1.1-.8-.6z"/><path fill="#453fd5" d="M135.8 318.9l.8.3-3.6-1.5-.8-.4zM80.2 319.1l3.6-1.6-.8.4-3.6 1.5z"/><path fill="#423fd5" d="M136.6 319.2l.8.5-3.6-1.7-.8-.3z"/><path fill="#4557f6" d="M127.1 314.9l.8.4-2.8-1.3-.7-.4z"/><path fill="#4557f3" d="M127.9 315.3l.9.4-2.8-1.2-.9-.5z"/><path fill="#4260f6" d="M90.4 314.3l2.5-1.3.9-.4-2.4 1.3z"/><path fill="#3f66f6" d="M92.5 313.2l2.3-1.4-.9.7-2.3 1.2z"/></g>
<g opacity="0.80" shape-rendering="crispEdges"><path fill="#3f33bd" d="M99.5 315.7l3.6-.5 2.7.2-3.7.3zM111.1 315.4l2.6-.2 3.6.5-2.5 0z"/><path fill="#4233bd" d="M105.4 315.4l3-.5 3.1.5-3.3-.1zM89.6 316.8l3.9-.8 1.9 0-3.9.4zM121.4 316l2 0 3.8.8-1.9-.4z"/><path fill="#4233c0" d="M97.2 315.8l3.6-.7 2.3.2-3.6.5zM113.7 315.3l2.4-.3 3.5.8-2.3 0zM87.9 317.1l4-.9 1.6-.1-3.9.8zM123.4 316.1l1.5.1 4 .9-1.7-.2z"/><path fill="#4236c3" d="M102.7 315.3l3.2-.7 2.7.5-3.1.5zM108.2 315.1l2.7-.5 3.2.7-2.7.3zM86.4 317.5l3.9-1 1.6-.3-4 1zM124.9 316.2l1.6.3 3.9 1-1.5-.3zM85.1 317.8l3.9-1.2 1.3-.1-3.9 1zM126.5 316.5l1.3.1 4 1.2-1.4-.3zM83.9 318.1l3.9-1.3 1.2-.2-3.9 1.2zM127.8 316.6l1.2.3 3.9 1.2-1.1-.3z"/><path fill="#4236c6" d="M95 316l3.6-.9 2.2.1-3.6.7zM116.1 315.2l2.1-.1 3.6.9-2.2-.1z"/><path fill="#4239c9" d="M100.4 315.2l3.1-.8 2.5.4-3.3.7zM110.8 314.8l2.5-.4 3.2.8-2.4.3zM93.1 316.1l3.7-1 1.8.1-3.6.9zM118.2 315.2l1.9-.1 3.7 1-2 0z"/><path fill="#423ccc" d="M105.6 314.8l2.8-.7 2.8.7-2.8.5zM91.5 316.4l3.5-1.2 1.8-.1-3.7 1.1zM120.1 315.1l1.7.1 3.5 1.2-1.5-.2z"/><path fill="#423ccf" d="M98.2 315.2l3.2-1.1 2.2.5-3.2.8zM113.2 314.6l2.3-.5 3.1 1.1-2.1.2zM89.9 316.7l3.6-1.4 1.5-.1-3.5 1.2zM121.8 315.2l1.6.1 3.5 1.4-1.6-.3zM88.6 316.8l3.6-1.3 1.3-.2-3.6 1.4zM123.4 315.3l1.2.2 3.6 1.3-1.3-.1z"/><path fill="#423fd2" d="M108.2 314.3l2.6-.6 2.8.9-2.5.4zM103.2 314.6l2.8-.9 2.6.6-2.9.7zM87.4 317l3.5-1.4 1.3-.1-3.6 1.3zM124.6 315.5l1.3.1 3.5 1.5-1.2-.3zM86.4 317.3l3.4-1.5 1.1-.2-3.5 1.4zM125.9 315.6l1.1.2 3.5 1.5-1.1-.2zM127 315.8l1 .2 3.5 1.7-1-.4zM134.8 318.5l1 .4 3.5 1.5-1-.4z"/><path fill="#423fd5" d="M96.4 315.3l3.2-1.3 1.9.3-3.3 1.1zM115.4 314.3l1.8-.3 3.3 1.2-1.9.2zM85.4 317.5l3.4-1.5 1-.2-3.4 1.5zM84.4 317.8l3.5-1.6.9-.2-3.4 1.5zM128 316l.9.3 3.6 1.5-1-.1zM128.9 316.3l.8.2 3.6 1.6-.8-.3zM133.8 318l1 .5 3.5 1.5-.9-.3z"/><path fill="#4542d8" d="M110.6 313.9l2.2-.5 3 .9-2.3.5zM101.1 314.3l2.9-.9 2.2.5-2.9.9zM94.6 315.4l3.3-1.4 1.7.1-3.2 1.3zM117.2 314.1l1.7-.1 3.3 1.4-1.7 0z"/><path fill="#4545db" d="M105.8 313.9l2.6-.8 2.6.8-2.6.6zM93.1 315.5l3.3-1.5 1.5.1-3.3 1.3z"/><path fill="#4239c6" d="M81.8 318.7l4-1.4 1-.2-4 1.2zM80.8 318.9l4-1.3 1-.3-4 1.4zM74.9 320.9l4-1.3.9-.4-3.9 1.5z"/><path fill="#4545de" d="M112.7 313.6l2-.5 2.9 1.1-1.8.3zM99.2 314.2l2.9-1.1 2 .5-3 .9zM91.8 315.7l3.3-1.5 1.3-.1-3.3 1.4zM120.4 314.1l1.3.1 3.3 1.5-1.2-.2zM90.5 315.8l3.3-1.5 1.3-.1-3.3 1.5zM121.7 314.2l1.3.3 3.3 1.3-1.3-.1z"/><path fill="#4548e1" d="M103.7 313.6l2.7-1 2.2.7-2.7.8zM108.2 313.3l2.4-.7 2.5 1-2.2.5zM89.4 316l3.4-1.5 1-.2-3.3 1.5zM123 314.5l1.1 0 3.3 1.5-1.1-.2zM88.4 316.2l3.4-1.5 1-.2-3.4 1.5zM124.1 314.5l1 .2 3.3 1.5-1-.2zM87.5 316.4l3.3-1.5 1-.2-3.4 1.5zM125.1 314.7l.9.2 3.3 1.6-.9-.3zM126 314.9l.8.3 3.3 1.5-.8-.2zM130.1 316.3l.9.4 3.2 1.5-.8-.3zM131.9 317.1l1 .5 3.3 1.5-1-.4z"/><path fill="#4542db" d="M118.9 314.1l1.5-.1 3.4 1.5-1.6 0z"/><path fill="#4548e4" d="M114.6 313.3l1.9-.3 2.8 1.3-1.7.1zM97.5 314.3l3-1.3 1.7.3-3 1.1zM86.7 316.7l3.3-1.6.8-.2-3.3 1.5zM85.8 316.9l3.3-1.6.9-.2-3.3 1.6zM126.8 315.2l.9.3 3.3 1.5-.9-.3zM85 317.1l3.3-1.5.8-.3-3.3 1.6zM127.7 315.5l.8.2 3.3 1.5-.8-.2zM84.2 317.4l3.3-1.6.8-.2-3.3 1.5zM128.5 315.7l.9.3 3.2 1.5-.8-.3zM83.4 317.7l3.4-1.6.7-.3-3.3 1.6zM82.6 318.1l3.2-1.6 1-.4-3.4 1.6zM81.6 318.5l3.3-1.6.9-.4-3.2 1.6z"/><path fill="#454be7" d="M101.8 313.3l2.7-.9 2 .4-2.7 1zM110.4 312.8l1.9-.4 2.7.9-2 .5zM96 314.3l3-1.4 1.5.2-3 1.3zM116.4 313.1l1.4-.1 3 1.3-1.5.1z"/><path fill="#454bea" d="M106.1 312.8l2.3-.7 2.4.7-2.4.7zM94.7 314.4l3.1-1.3 1.2-.1-3 1.3zM117.8 313.1l1.3-.1 3 1.4-1.3-.1z"/><path fill="#484eed" d="M100.1 313.2l2.7-1.1 1.8.5-2.8.9zM112.2 312.6l1.8-.5 2.8 1.1-1.9.3zM92.4 314.7l2.9-1.4 1.1-.2-3 1.4zM120.4 313.2l1.1.3 3 1.2-1.1.1zM91.4 314.9l2.9-1.4 1-.2-2.9 1.4zM121.5 313.5l1 0 3 1.4-1-.2z"/><path fill="#453fd5" d="M83.5 318l3.6-1.5.8-.3-3.5 1.6zM82.7 318.3l3.5-1.6.9-.2-3.6 1.5zM129.7 316.5l.9.3 3.5 1.5-.8-.2zM81.9 318.5l3.5-1.6.8-.2-3.5 1.6zM130.6 316.8l.8.2 3.5 1.7-.8-.4zM81.1 318.8l3.5-1.6.8-.3-3.5 1.6z"/><path fill="#4851f0" d="M104.2 312.6l2.5-.9 1.9.6-2.4.7zM108.2 312.3l2-.6 2.4.9-1.9.4zM98.6 313.2l2.8-1.2 1.5.2-2.8 1.2zM113.9 312.2l1.5-.2 2.8 1.3-1.4.1zM89.6 315.3l3-1.5.8-.2-3 1.5zM124.2 313.9l.9.3 3 1.5-.9-.3zM88.7 315.5l3.1-1.5.8-.2-3 1.5zM125.1 314.2l.8.3 3 1.4-.8-.2zM87.9 315.8l3-1.5.9-.3-3.1 1.5zM87.1 316l3-1.4.8-.3-3 1.5zM126.7 314.7l.8.4 3 1.4-.7-.3zM86.4 316.3l2.9-1.4.8-.3-3 1.4zM85.4 316.7l3.1-1.5.8-.3-2.9 1.4z"/><path fill="#484eea" d="M93.4 314.5l3-1.5 1.4.1-3.1 1.4z"/><path fill="#454eea" d="M119.1 313.1l1.3 0 3 1.6-1.3-.3z"/><path fill="#4854f3" d="M102.5 312.3l2.4-.9 1.9.5-2.5.9zM110.1 311.9l1.8-.5 2.4.9-1.8.5zM106.4 311.9l2-.7 2.1.7-2.1.6zM96 313.3l2.8-1.3 1.2.1-2.6 1.3zM116.8 312.1l1.2 0 2.8 1.3-1.3 0z"/><path fill="#4851f3" d="M97.4 313.3l2.6-1.3 1.4.1-2.8 1.2zM115.4 312.1l1.4-.1 2.7 1.3-1.3.1z"/><path fill="#4557f3" d="M101 312.2l2.4-1 1.6.4-2.4.9zM111.8 311.6l1.7-.4 2.3 1-1.6.3zM93.9 313.7l2.9-1.4 1-.1-2.9 1.3zM119.1 312.3l1 .2 2.8 1.2-1 .1zM93 313.8l2.8-1.3 1-.2-2.9 1.4zM120.1 312.5l.9.1 2.8 1.3-.9-.2zM121 312.6l.9.2 2.7 1.3-.8-.2zM126 314.5l.9.3 2.9 1.3-1-.4z"/><path fill="#455af6" d="M104.6 311.6l2.1-.8 1.9.6-2 .7zM108.2 311.4l1.8-.6 2.2.8-1.8.5zM99.6 312.3l2.4-1.2 1.5.2-2.5 1.1zM113.4 311.3l1.3-.1 2.5 1.1-1.4.1zM114.7 311.3l1.2-.2 2.5 1.3-1.2 0z"/><path fill="#484ef0" d="M90.4 315.1l3-1.5.9-.1-2.9 1.4zM122.5 313.5l.9.2 3 1.4-.9-.2zM123.4 313.7l.8.2 3 1.5-.8-.3zM127.5 315.1l.9.4 3 1.4-.9-.4zM128.4 315.5l1 .4 2.9 1.4-.9-.4z"/><path fill="#4554f3" d="M94.9 313.5l2.9-1.3 1-.1-2.8 1.2zM118 312.2l1.1 0 2.8 1.5-1.1-.3z"/><path fill="#425df6" d="M103.1 311.4l2.2-.9 1.6.5-2.2.8zM109.9 311l1.6-.5 2.3.9-1.7.4zM106.5 311l1.9-.6 1.9.6-1.9.6zM97.4 312.4l2.4-1.3 1.1.1-2.5 1.2zM115.9 311.2l1.1 0 2.5 1.3-1.1 0zM96.4 312.5l2.4-1.3 1 0-2.4 1.3zM117 311.3l1 .2 2.5 1.2-1-.2zM95.4 312.7l2.5-1.2.9-.2-2.4 1.3zM118 311.5l.9-.1 2.5 1.4-.9 0zM123.9 313.3l.9.5 2.5 1.2-.9-.3z"/><path fill="#425af6" d="M98.4 312.3l2.5-1.2 1.2.1-2.5 1.2z"/><path fill="#4260f6" d="M101.7 311.3l2.2-.9 1.5.3-2.2.9zM111.4 310.7l1.5-.3 2.2 1.1-1.3.1zM94.5 312.9l2.5-1.4.9 0-2.5 1.2zM118.9 311.5l.9.2 2.5 1.3-.9-.2zM93.7 313.1l2.5-1.3.8-.2-2.5 1.3zM119.8 311.7l.8.2 2.5 1.3-.8-.2zM120.6 311.9l.8.3 2.5 1.3-.8-.3zM92.9 313.3l2.5-1.3.8-.2-2.5 1.3zM92.1 313.7l2.5-1.4.8-.3-2.5 1.3zM121.4 312.2l.8.3 2.6 1.3-.9-.3zM91.4 313.9l2.4-1.3.8-.3-2.5 1.4zM122.2 312.5l.8.3 2.5 1.4-.7-.4zM123 312.8l.9.5 2.5 1.4-.9-.5z"/><path fill="#3f60f6" d="M105 310.7l1.9-.8 1.7.7-2 .6zM108.2 310.6l1.7-.7 1.9.8-1.6.5zM100.5 311.4l2.2-1.2 1.3.4-2.3.9zM112.8 310.5l1.3-.3 2.2 1.2-1.3.2z"/><path fill="#4557f6" d="M92.2 314l2.7-1.3.9-.2-2.8 1.3zM121.9 312.8l.8.2 2.8 1.4-.9-.3zM91.4 314.2l2.7-1.3.8-.2-2.7 1.3zM122.7 313l.8.3 2.8 1.4-.8-.3zM90.5 314.5l2.8-1.4.8-.2-2.7 1.3zM89.7 314.8l2.8-1.3.8-.4-2.8 1.4zM88.9 315.1l2.9-1.4.7-.2-2.8 1.3zM88.1 315.4l2.7-1.3 1-.4-2.9 1.4z"/><path fill="#3f63f6" d="M109.7 310.1l1.5-.6 2 1.2-1.5.2zM103.6 310.7l2.1-1.2 1.4.6-2 .8zM99.4 311.4l2.4-1.3 1 .2-2.3 1.2zM114 310.3l1.1-.1 2.3 1.3-1.1 0zM115.1 310.3l1-.1 2.3 1.5-1-.1z"/><path fill="#3f66f6" d="M106.7 310.1l1.7-.7 1.7.7-1.7.7zM98.4 311.5l2.4-1.4 1 .1-2.4 1.3zM97.5 311.7l2.3-1.5 1 0-2.4 1.4zM116.1 310.3l.9.1 2.3 1.3-.9.1zM96.6 311.8l2.3-1.4.9-.1-2.3 1.5zM117 310.5l.9-.1 2.3 1.5-.9-.1zM117.9 310.5l.8.1 2.3 1.5-.8-.1zM118.7 310.7l.8.2 2.3 1.5-.8-.2zM119.5 311l.9.2 2.2 1.5-.8-.2zM120.4 311.3l.7.4 2.3 1.3-.8-.2zM121.1 311.7l.9.4 2.3 1.4-.9-.5zM90.6 314.2l2.3-1.2 1-.5-2.3 1.2z"/><path fill="#3c66f6" d="M111.1 309.6l1.4-.2 1.9 1.1-1.3.3zM102.4 310.5l2-1.3 1.4.4-2.1 1.2zM95.8 312l2.3-1.5.8 0-2.3 1.4zM95 312.2l2.3-1.5.8-.1-2.3 1.5zM94.2 312.5l2.3-1.5.8-.2-2.3 1.5zM93.4 312.8l2.4-1.3.7-.4-2.3 1.4z"/><path fill="#3c69f6" d="M108.2 309.6l1.6-.8 1.7.9-1.6.6zM105.4 309.7l1.6-1 1.6.9-1.7.7zM112.4 309.5l1.1-.4 2 1.4-1.2.1zM101.4 310.4l1.9-1.4 1.2.3-2 1.3z"/><path fill="#3c6cf6" d="M109.6 309l1.3-.6 1.9 1.3-1.4.2zM100.4 310.4l1.9-1.5 1.1.2-1.9 1.4zM113.4 309.2l1.1-.2 2 1.5-1.1.1zM99.4 310.5l2-1.6 1 .1-1.9 1.5zM114.4 309.1l1.1-.1 1.9 1.7-1-.1zM120.4 310.9l.8.6 2.1 1.4-.9-.5zM92.5 313.2l2.1-1.3 1-.7-2.1 1.6z"/><path fill="#396cf6" d="M104.1 309.4l1.8-1 1.3.5-1.6 1zM115.4 309.1l.9 0 2 1.6-1 .1zM119.4 310.3l1 .5 2 1.5-.9-.3z"/><path fill="#396ff6" d="M106.8 308.9l1.6-.9 1.6 1-1.6.8zM103 309.3l1.8-1.4 1.2.7-1.8 1zM110.8 308.5l1.2-.5 1.8 1.4-1.1.4zM98.5 310.7l2-1.7 1 0-2 1.6zM116.2 309.2l.8.2 2.1 1.5-.8-.1zM97.7 310.8l2-1.7.9 0-2 1.7zM117 309.5l.9 0 2 1.7-.8-.2zM96.9 311l2.1-1.6.8-.2-2.1 1.7zM96.1 311.3l2.1-1.7.8-.1-2.1 1.6zM117.8 309.6l.8.2 2.2 1.7-.9-.2zM118.6 309.9l.8.3 2.1 1.7-.7-.3zM95.4 311.8l2-1.8.8-.3-2.1 1.7zM94.4 312l2.1-1.5.9-.4-1.9 1.7z"/><path fill="#3972f6" d="M105.6 308.7l1.6-1.3 1.4.8-1.6.9zM108.2 308.2l1.4-.8 1.6 1.2-1.4.6zM102 309.2l1.8-1.6 1.1.4-1.8 1.4zM111.9 308.1l1.1-.4 1.8 1.6-1.1.2z"/><path fill="#3675f6" d="M104.5 308.2l1.6-1.5 1.3.9-1.6 1.2zM109.4 307.6l1.3-.9 1.6 1.6-1.3.5zM101.1 309.2l1.8-1.7 1 .2-1.8 1.6zM112.9 307.8l1-.2 1.9 1.7-1.1.1zM100.2 309.3l1.8-1.9 1 .2-1.8 1.7zM113.8 307.7l1-.1 1.8 1.8-.9 0zM114.7 307.7l.9 0 1.8 2.1-.9-.3zM115.5 307.7l1 .2 1.7 2-.9-.1zM116.4 307.9l.8.3 1.8 2-.9-.3zM117.1 308.2l.9.5 1.8 1.9-.9-.4zM96.1 310.9l1.8-1.9 1-.6-1.8 2zM117.9 308.7l.9.7 2 1.8-1.1-.6zM95.2 311.5l1.9-1.7.9-.8-1.8 1.9zM118.8 309.4l.9.7 1.9 1.7-.8-.6z"/><path fill="#3678f6" d="M107 307.6l1.4-1.2 1.4 1.2-1.4.8zM99.4 309.4l1.8-1.9.9 0-1.8 1.9zM98.6 309.8l1.8-2.1.9-.2-1.8 2zM97.8 310l1.9-2 .8-.3-1.8 2.1zM97 310.4l1.8-2 1-.4-1.9 2z"/><path fill="#3378f6" d="M103.5 307.9l1.7-1.7 1.1.6-1.7 1.5zM110.5 306.8l1.1-.4 1.7 1.6-1.1.4z"/><path fill="#337bf6" d="M105.9 306.9l1.4-1.4 1.3 1.1-1.4 1.2zM108.2 306.6l1.4-1.1 1.3 1.4-1.3.9zM102.6 307.8l1.7-1.9 1 .4-1.7 1.7zM111.5 306.5l1-.5 1.7 1.9-1 .2zM117.4 307.7l1.1 1 1.6 1.8-1-.7zM95.7 311.1l1.8-1.7 1-1-1.8 1.8z"/><path fill="#3081f6" d="M104.9 306.5l1.4-1.8 1.2.9-1.4 1.5zM109.4 305.6l1.2-.8 1.3 1.9-1.2.4zM107.1 305.7l1.3-1.3 1.4 1.3-1.4 1.1zM100.1 308.1l1.7-2.2 1-.2-1.8 2.2zM99.4 308.4l1.6-2.2.9-.3-1.7 2.2zM98.5 308.8l1.7-2.1.9-.5-1.6 2.2z"/><path fill="#337ef6" d="M101.7 307.7l1.7-2 1 .3-1.7 1.9zM112.4 306.1l1.2-.3 1.5 2.2-1 0zM113.4 305.8l.8 0 1.7 2.3-.9-.1zM115.7 306.4l.9.6 1.7 2.1-.9-.5zM97.6 309.4l1.7-2 1-.7-1.7 2.1zM116.5 307l1 .7 1.7 2.1-1-.7zM96.7 310.2l1.8-1.8.9-1-1.7 2z"/><path fill="#3084f6" d="M104 306.2l1.4-2.1 1.1.7-1.4 1.8zM110.4 304.9l1-.7 1.4 2.1-1.1.5zM98.1 308.8l1.7-2 .7-1.1-1.4 2.1zM116.2 306l.9 1.2 1.7 1.9-1.1-1z"/><path fill="#2d87f6" d="M106.1 305l1.3-1.8 1.2 1.4-1.3 1.3zM108.2 304.6l1.2-1.4 1.4 1.9-1.2.8zM103.1 306.1l1.6-2.3.9.3-1.4 2.2zM111.2 304.3l1.1-.4 1.5 2.2-1.2.3zM102.4 306.1l1.3-2.4 1.1.1-1.6 2.3zM112.1 303.9l.9-.1 1.5 2.4-.8 0zM112.9 303.8l.9.1 1.5 2.5-.9-.2zM113.7 303.9l.9.5 1.5 2.4-.9-.4zM99.9 307.1l1.5-2.3.9-.6-1.5 2.4zM114.5 304.4l1.1.6 1.2 2.4-.8-.6zM99 307.8l1.5-2.1 1-.9-1.5 2.3zM115.5 305l.8 1 1.5 2.1-1-.7z"/><path fill="#307ef6" d="M100.9 307.9l1.8-2.2.8 0-1.7 2.1zM114.1 305.8l.9.2 1.8 2.3-1-.2zM114.9 306l.9.4 1.7 2.2-.8-.3z"/><path fill="#2a8af3" d="M105.2 304.4l1.4-2 1 .9-1.3 1.8zM109.2 303.3l1.1-.9 1.3 2.1-1 .7zM115.2 304.1l.8 1.5 1.4 2-.9-1.2z"/><path fill="#2a8df3" d="M107.2 303.4l1.2-1.6 1.2 1.6-1.2 1.4zM110.1 302.5l1.1-.7 1.3 2.5-1.1.3zM114.3 302.9l.9 1.2 1.3 2.3-.8-1z"/><path fill="#2a8df0" d="M104.4 304.2l1.2-2.5 1.2.8-1.4 2z"/><path fill="#2790f0" d="M106.4 302.7l1.2-2.1 1 1.3-1.2 1.7zM108.2 301.9l1.1-1.3 1.2 2.1-1.1.9zM103.5 304.1l1.3-2.7 1 .3-1.2 2.5zM111 301.8l1-.3 1.3 2.7-1 .1zM102.7 304.2l1.3-2.7 1-.1-1.3 2.7zM111.8 301.5l1 .1 1.3 2.7-1-.1zM102 304.6l1.2-2.7.9-.4-1.2 2.7zM112.7 301.6l.9.5 1.2 2.7-.9-.5zM101.2 305.2l1.3-2.5.8-.8-1.2 2.7zM113.5 302.1l.8.8 1.4 2.5-1-.6zM100.3 306.1l1.4-2.2.8-1.2-1.3 2.5z"/><path fill="#2d8af6" d="M101.5 306.3l1.4-2.5 1-.1-1.3 2.4zM100.7 306.6l1.5-2.4.9-.4-1.5 2.5z"/><path fill="#2496ed" d="M105.4 302l1.2-2.4 1.2 1.1-1.2 2.1zM109.1 300.7l1.1-1 1.2 2.4-1.1.7zM113.3 300.8l.9 1.6 1.2 2.1-1-1.2z"/><path fill="#2496ea" d="M107.4 300.8l1-1.9 1.1 1.9-1.1 1.4zM101.5 304.3l1.2-2.2.8-1.5-1.2 2.5z"/><path fill="#2199ea" d="M104.6 301.8l1.2-2.7 1 .5-1.2 2.5zM110 299.7l1-.6 1.2 2.8-1 .3zM112.5 299.7l.9 1.1 1.1 2.5-.9-.8zM102.3 303.1l1.1-2.5.9-1-1.1 2.7z"/><path fill="#1e9ce7" d="M106.4 299.9l1.2-2.4 1 1.5-1 2zM108.2 299l1.1-1.5 1.1 2.5-1.1 1zM102.5 302.5l.7-1.9 1.2-2.1-1 2.5zM112.5 298.7l.7 1.9 1.2 2.2-1-1.6z"/><path fill="#3672f6" d="M95.2 311.5l1.9-1.7-1 1-1.9 1.4z"/><path fill="#2199e7" d="M110.9 299.1l.9.1 1.1 2.8-.9-.1zM103.9 301.9l1.1-2.9 1 .1-1.2 2.7zM111.7 299.2l.9.5 1.1 2.8-.9-.5zM103.1 302.3l1.1-2.7.9-.6-1.1 2.9z"/><path fill="#1ea2e4" d="M109.1 297.5l1-.8 1.1 2.8-1 .6zM111.6 297.2l1 1.5.9 2.5-.9-1.1z"/><path fill="#1ba2e4" d="M105.6 299.5l1.1-2.9 1.1.9-1.2 2.5zM103.3 301l1-2.5.9-1.4-1 2.9z"/><path fill="#1ba2e1" d="M107.4 297.7l1-2.1 1.1 2.1-1.1 1.6zM110 296.7l.9-.2 1 3.1-.9-.1zM104.9 299.4l1-3 .9.2-1 2.9zM104.1 300l1-2.9.9-.7-1 3zM110.8 296.5l.9.7 1 2.9-.9-.5z"/><path fill="#18a8de" d="M108.2 295.7l1-1.5 1.1 2.9-1 .8zM110.7 294.7l.8 2 1.2 2.4-1-1.5z"/><path fill="#18a8db" d="M106.5 296.9l1.1-2.7 1 1.5-1 2.2zM104.2 298.9l1.1-2.3.8-2-1 2.9z"/><path fill="#15abdb" d="M109 294.2l1-.4 1 3.1-.9.2zM105.8 296.8l1-3.1 1 .5-1.1 2.8zM105 297.5l1-2.9.9-.9-1 3.1zM109.9 293.8l.9.9 1 2.9-.9-.7z"/><path fill="#12b1d8" d="M107.4 294.5l1-2.5 1 2.5-1 1.5z"/><path fill="#12b4d2" d="M106.6 294.1l1-3.1 1 1-1 2.6zM108.2 292l1-1 1 3.2-1 .4zM105.9 295l.9-2.5.9-1.5-.9 3.1zM109.1 291l.9 1.5.9 2.6-.9-.9z"/><path fill="#0fb4cc" d="M107.4 291.3l1-2.8 1 2.8-1 1.1z"/></g>
<g opacity="0.80" shape-rendering="crispEdges"><path fill="#3f2ab1" d="M79.9 316.7l4.6.6-1.5.5-4.6-.5zM136.9 316.7l1.5.6-4.6.5-1.4-.5zM78.4 317.2l4.6.5-1.4.5-4.6-.5zM138.4 317.2l1.4.5-4.6.5-1.4-.5zM77 317.6l4.6.5-1.2.4-4.6-.4zM139.8 317.6l1.2.5-4.6.4-1.2-.4zM141 318l1.1.6-4.6.1-1.1-.3zM75.8 318l4.6.4-1.1.3-4.6-.1zM142.1 318.6l1 .2-4.6.3-1-.4zM74.7 318.6l4.6.1-1 .3-4.6-.2zM73.7 318.8l4.6.2-.9.3-4.6-.2zM143.1 318.8l.9.3-4.6.2-.9-.2zM144 319.1l.9.3-4.5.2-1-.3zM148.1 320.6l.9.3-4.6.2-.9-.3zM67.8 320.9l4.6.2-.9.3-4.6-.2zM149 320.9l.9.3-4.5.2-1-.3zM149.9 321.2l1 .4-4.5.2-1-.4zM66.9 321.2l4.6.2-1 .4-4.6-.2zM150.9 321.5l1.1.5-4.6.4-1-.6zM65.9 321.6l4.6.2-1.1.4-4.6-.2zM64.8 321.9l4.6.3-1.2.6-4.6-.2zM152 321.9l1.2.7-4.6.3-1.2-.6zM153.2 322.5l1.4.5-4.6.5-1.4-.7zM63.6 322.5l4.6.2-1.4.7-4.6-.4zM154.6 322.9l1.5.7-4.6.5-1.5-.7zM62.2 322.9l4.6.4-1.5.8-4.6-.5zM157.6 326.4l2.4 1.3-4.3.6-2.3-1.5zM56.8 327.4l4.3.5-2.7 1.6-4.2-.7zM55.4 330.5l3.7.6-3.4 1.9-3.7-.8zM55.7 332.6l3.4.5-3.7 2.3-3.4-.8zM55.5 335l3 .5-4.2 2.4-2.9-.9zM155.8 336.5l4.2 2.5-2.5.8-4.1-2.9zM57.1 338.1l2.5.6-4.5 2.4-2.5-.7zM151.5 340.8l4.6 2.7-1.5.6-4.6-2.9zM150 341.1l4.6 2.9-1.4.5-4.6-2.9zM148.6 341.5l4.6 2.9-1.2.5-4.6-2.9zM147.4 341.9l4.6 2.9-1.1.5-4.5-3zM146.4 342.2l4.5 3-1 .4-4.5-3zM145.4 342.5l4.5 3-.9.4-4.6-3zM139.4 344.5l4.6 3.2-.9.3-4.6-3zM138.5 344.9l4.6 3-1 .5-4.6-2.9zM137.5 345.4l4.6 2.9-1.1.5-4.6-3zM136.4 345.7l4.6 3-1.2.6-4.6-3zM135.2 346.2l4.6 3-1.4.6-4.6-2.9zM133.8 346.8l4.6 2.9-1.5.7-4.5-2.9zM120.5 348.7l4.1 2.6-2.7 1.3-4.1-2.4zM90.1 349.4l2.5 1.3-4.5 2.2-2.5-1.2zM105.2 349.4l3.4 1.9-3.7 1.9-3.4-1.8zM111.6 349.4l3.7 2.3-3.4 1.7-3.7-2.1zM98.9 349.7l3 1.7-4.1 2.1-3-1.6z"/><path fill="#3f2db1" d="M72.8 319.1l4.6.2-.9.3-4.6-.2zM144.9 319.4l.9.3-4.7.2-.7-.3zM71.9 319.4l4.6.2-.7.3-4.7-.2zM145.8 319.7l.7.3-4.6.2-.8-.3zM71.1 319.7l4.7.2-.9.3-4.5-.2zM146.5 320l.8.3-4.6.3-.8-.4zM70.4 320l4.5.2-.8.2-4.6-.1zM147.3 320.3l.8.3-4.6.2-.8-.2zM69.5 320.3l4.6.1-.8.3-4.6-.1zM68.7 320.6l4.6.1-.9.4-4.6-.2zM59.2 326.4l4.2.3-2.3 1.4-4.3-.5zM158.7 329.4l2.9 1.5-3.8.7-3-2zM157.8 333.4l3.8 2.3-2.9.7-3.9-2.6zM59.6 338.6l2.2.5-4.6 2.7-2.2-.8zM144.4 342.8l4.6 3-.9.4-4.6-3zM143.5 343.1l4.6 3-.8.4-4.6-3zM142.7 343.4l4.6 3-.8.4-4.6-3.1zM141.9 343.6l4.6 3.1-.7.4-4.7-3.1zM141.1 343.9l4.7 3.1-.9.4-4.5-3.1zM140.4 344.2l4.5 3.1-.9.5-4.6-3.2zM122.8 347.4l4.2 2.9-2.5 1.2-4.1-2.6zM88 348.2l2.2 1.4-4.5 2.3-2.2-1.2z"/><path fill="#3f30ba" d="M77 319.3l4.2-.5-.8.2-4.3.6zM76.1 319.6l4.3-.6-.9.3-4.1.6zM141.5 319.9l.8.3-4.2-.6-.7-.3zM74.5 320.2l4.3-.6-.9.2-4.2.6zM142.3 320.2l.8.5-4.2-.8-.8-.4zM73.7 320.4l4.2-.6-.8.3-4.2.6zM143.1 320.6l.8.2-4.2-.6-.8-.4zM143.9 320.8l.9.3-4.3-.5-.8-.5zM144.8 321.1l1 .3-4.3-.5-1-.3zM71.1 321.4l4.2-.7-1 .6-4.2.5zM145.8 321.4l1 .4-4.3-.5-1-.4zM70.1 321.8l4.2-.5-1.1.4-4.2.5zM146.8 321.8l1 .6-4.2-.6-1.1-.5zM69 322.2l4.2-.6-1.2.7-4.2.4zM147.8 322.3l1.2.5-4.2-.4-1.2-.7zM67.8 322.7l4.2-.4-1.2.6-4.4.4zM151.6 325.6l2.2 1.3-4-.2-2.1-1.6zM63 326.5l4-.3-2.4 1.8-3.9 0zM61.8 329.2l3.4-.1-3.1 2.3-3.4-.2zM62.1 331l3.1 0-3.4 2.6-3.1-.3zM149.9 334.1l3.9 3-2.3.5-3.8-3.1zM65.5 336.4l2 .3-4.2 3.1-1.9-.5zM144.8 338.4l4.2 3.4-1.3.5-4.1-3.5zM143.6 338.7l4.2 3.5-1 .4-4.3-3.5zM142.5 339l4.3 3.5-1 .4-4.3-3.4zM141.5 339.4l4.3 3.4-1 .4-4.3-3.6zM140.5 339.5l4.3 3.6-.9.4-4.2-3.6zM139.7 339.8l4.2 3.6-.8.4-4.2-3.7zM138.9 340l4.2 3.7-.8.3-4.2-3.5zM138.1 340.4l4.2 3.5-.8.4-4.1-3.6zM137.4 340.6l4.1 3.6-.7.4-4.4-3.6zM136.4 340.9l4.4 3.6-1 .4-4.2-3.6zM135.6 341.2l4.2 3.6-.9.5-4.3-3.6zM134.6 341.6l4.3 3.6-1 .6-4.3-3.7zM133.7 342l4.2 3.7-1.1.4-4.3-3.5zM132.6 342.5l4.2 3.5-1.3.6-4.1-3.4zM131.5 343.1l4.1 3.4-1.5.7-4.1-3.4zM89.9 344.5l2 1.2-4.1 2.9-2-.9zM119.3 344.6l3.8 3.1-2.4 1.4-3.8-2.9zM105.6 345.1l3 2.3-3.4 2.4-3.1-2.2zM111.3 345.4l3.5 2.5-3.2 1.9-3.4-2.4z"/><path fill="#4239c6" d="M77.5 319.9l4-1.3-.9.3-3.9 1.3zM139.3 320l.8.3-3.9-1.3-.8-.3zM140.9 320.7l1 .3-4-1.2-.9-.3zM74.9 320.9l4-1.3-1 .5-4 1.3zM68.7 324.9l3.6-.9-2.2 1.7-3.5.7zM67.5 327.1l3.3-.5-2.9 2.4-3.1.3zM67.9 328.6l2.9-.3-3.2 2.8-2.8.1zM139 335.5l3.9 3.8-1.1.5-3.9-4zM138 335.7l3.9 4.1-1.1.1-3.8-4zM137.1 335.9l3.8 4-.9.3-3.8-4zM136.3 336.2l3.8 4-.9.2-3.8-4zM135.5 336.4l3.8 3.9-.9.5-3.9-4.1zM134.6 336.7l3.9 4.1-.7.2-4.1-4zM133.8 337l4 3.9-1.1.4-3.8-3.8zM133 337.4l3.8 3.9-.9.3-3.8-4zM132.2 337.6l3.8 3.9-1.1.5-3.8-3.9zM131.2 338l3.8 3.9-1.1.5-3.8-3.8zM118.3 340.2l3.5 3.5-2.3 1.3-3.4-3.2zM105.8 340.6l2.8 2.5-3 2.4-2.9-2.2zM111 340.8l3.1 2.8-2.8 2.2-3.1-2.7z"/><path fill="#3f2aae" d="M60.7 323.5l4.6.5-1.7.8-4.6-.6zM156.1 323.5l1.7.7-4.6.7-1.7-.9zM157.8 324.1l2 .9-4.7.8-1.9-1zM59 324.1l4.6.6-1.8 1-4.7-.7zM57.1 324.9l4.7.7-2.2 1.2-4.6-1zM159.8 324.9l2 .9-4.6 1-2.1-1.1zM55 325.6l4.6 1-2.4 1.2-4.6-1zM159.9 327.5l2.7 1.3-4.1 1-2.8-1.7zM54.3 328.6l4.2.7-3 1.6-4.1-.9zM162.5 328.6l3 1.5-4.2 1-2.9-1.5zM161.4 330.7l3.4 1.7-3.7.9-3.4-1.9zM52.2 332l3.7.8-3.7 2-3.7-1.1zM161.1 332.9l3.7 2-3.4.9-3.7-2.3zM52.3 334.4l3.3.8-4.1 2-3.3-1zM161.3 335.4l4.2 2.2-3 .9-4.1-2.4zM158.5 336l4.1 2.4-2.7.7-4.2-2.5zM51.7 336.8l2.9.9-4.5 2.1-3-1zM54.5 337.5l2.7.8-4.5 2.2-2.7-.9zM157.2 339.4l4.6 2.4-2 .7-4.7-2.6zM155.1 339.8l4.7 2.6-2 .7-4.6-2.6zM153.2 340.4l4.6 2.6-1.7.6-4.6-2.7zM132.5 347.4l4.4 2.9-1.7.7-4.6-2.7zM130.7 348.2l4.5 2.7-2 .9-4.5-2.7zM128.8 349l4.5 2.7-2.2.9-4.5-2.5zM126.7 350l4.5 2.4-2.5 1.2-4.5-2.3zM117.9 350l4.1 2.4-3 1.4-4.1-2.1zM92.5 350.5l2.7 1.4-4.5 2.1-2.7-1.3zM108.4 351.1l3.7 2.1-3.7 1.7-3.7-1.9zM101.7 351.2l3.4 1.8-4.2 1.9-3.2-1.6zM95.1 351.7l3 1.6-4.5 1.9-3-1.4z"/><path fill="#3f30b7" d="M149 322.8l1.4.6-4.3-.3-1.3-.7zM66.4 323.3l4.4-.5-1.7 1-4.2.2zM150.4 323.4l1.5.6-4.2-.2-1.6-.7zM64.9 323.9l4.2-.2-1.6 1-4.3 0zM153.8 326.6l2.3 1.6-3.9.1-2.4-1.8zM155 329.5l3.1 2-3.4.3-3.1-2.3zM154.7 331.4l3.4 2.3-3.1.4-3.4-2.6zM61.9 333.2l2.7.3-3.8 2.7-2.7-.5zM152.3 334l3.8 2.8-2.4.4-3.9-3zM63.3 336.1l2.3.4-4.1 2.9-2.3-.5zM147.8 337.8l4.1 3.3-1.6.4-4.2-3.3zM146.1 338.1l4.3 3.3-1.5.5-4.1-3.4zM68.2 340.4l1.2.4-4.6 3-1.2-.5zM69.4 340.7l1.1.4-4.6 3-1.1-.4zM70.5 341l1 .5-4.6 2.9-1-.4zM71.5 341.4l.9.3-4.6 3.1-.9-.5zM72.4 341.6l.9.4-4.6 3-.9-.3zM73.3 341.9l.8.3-4.6 3.1-.8-.4zM74.1 342.1l.8.4-4.5 3.1-.9-.4zM74.9 342.4l.9.4-4.7 3-.7-.3zM75.8 342.7l.7.4-4.6 3-.8-.4zM76.5 343l.9.5-4.6 3-.9-.5zM77.4 343.4l.9.4-4.6 3-.9-.4zM78.3 343.7l1 .5-4.6 3-1-.5zM130.1 343.7l4.1 3.4-1.5.7-4.2-3.3zM79.3 344.1l1.1.6-4.6 2.9-1.1-.5zM80.4 344.6l1.2.6-4.6 2.9-1.2-.6zM128.6 344.4l4.2 3.3-1.9.9-4.1-3.1zM91.8 345.6l2.3 1.3-4.2 2.9-2.2-1.3zM99.8 345.7l2.7 1.9-3.8 2.5-2.7-1.7z"/><path fill="#4236c6" d="M141.9 321l1 .4-4-1.2-1-.4zM73.9 321.4l4-1.3-1.1.5-4 1.2zM142.9 321.3l1.1.6-4-1.1-1.1-.6zM72.8 321.7l4-1.1-1.3.7-3.9 1.1zM148.1 325l2.1 1.7-3.5-.5-2.2-1.7zM67.7 330.7l2.4 0-3.4 3.1-2.5-.1zM146.8 331.4l3.4 3-2.2.4-3.5-3.3zM70.9 333.5l1.9.2-4 3.5-1.7-.3zM140.1 335.2l3.9 3.8-1.2.4-3.9-3.8zM130.2 338.5l3.8 3.8-1.2.6-3.8-3.8zM129.1 339l3.8 3.8-1.2.7-3.9-3.8zM91.8 340.4l1.7 1.1-3.8 3.4-1.8-1zM100.7 341.4l2.4 1.9-3.5 2.8-2.4-1.8z"/><path fill="#4236c3" d="M144 321.8l1.2.7-3.8-.9-1.4-.9zM145.2 322.4l1.3.8-3.9-1-1.2-.7zM71.6 322.3l3.9-1.1-1.3.8-3.8 1zM70.4 322.9l3.8-1-1.4 1-4.1.9zM146.5 323.1l1.6.8-4-.8-1.5-1zM66.6 326.1l3.5-.6-2.3 2-3.6.4zM149.2 327.5l2.8 2.2-3.1-.2-2.8-2.4zM148.9 329.1l3.1 2.6-2.8.1-3.1-2.9zM69 333.4l2 .2-3.8 3.4-2-.3zM144.2 334.6l3.9 3.5-1.7.4-3.8-3.6zM142.7 334.8l3.8 3.6-1.4.4-3.7-3.7zM141.5 335l3.7 3.7-1.3.4-3.9-3.8zM77.9 338.9l.9.4-4.3 3.5-.8-.4zM78.8 339.2l.7.3-4.1 3.6-.9-.4zM127.9 339.6l3.9 3.8-1.5.7-3.8-3.6zM126.6 340.4l3.8 3.6-1.6.8-3.9-3.5zM93.4 341.4l2 1.4-3.8 3.2-2-1.2zM116.3 341.7l3.3 3.2-2.5 1.6-3.4-2.9z"/><path fill="#453fd5" d="M78.5 319.8l3.5-1.5 1-.4-3.6 1.5zM133.9 332.4l3.5 3.9-.9.3-3.5-4zM133.1 332.6l3.5 4-.9.2-3.5-4zM132.3 332.8l3.5 4-1 .3-3.4-4zM131.5 333.1l3.4 4-.9.3-3.4-4zM130.7 333.4l3.4 4-.9.4-3.5-4.1zM129.8 333.7l3.5 4.1-.9.2-3.5-4zM129 334l3.5 4-1.1.4-3.4-4z"/><path fill="#3f2db7" d="M151.9 323.9l1.7.9-4.2 0-1.7-1zM60.8 327.7l3.8 0-2.7 1.9-3.8-.2zM149.5 337.5l4.1 3.2-1.8.5-4.1-3.3zM65.3 339.7l1.5.5-4.6 2.8-1.5-.5zM66.8 340.1l1.4.4-4.6 2.9-1.4-.5zM81.6 345.1l1.4.8-4.6 2.9-1.4-.8zM83 345.8l1.5.8-4.6 2.8-1.5-.7zM117 346.1l3.8 2.8-2.7 1.5-3.7-2.5z"/><path fill="#423fd5" d="M78.5 319.8l3.5-1.5-1 .4-3.5 1.6zM77.5 320.3l3.5-1.6-1.1.6-3.5 1.5zM143.1 323l1.8 1.7-3.2-1-1.9-1.6zM72.9 327.9l2.2-.2-3.1 3.1-2.3.1zM141.8 328.4l3.1 3.3-1.9.1-3.2-3.5zM75.7 330.4l1.7.1-3.5 3.7-1.5-.3zM135.9 331.9l3.4 4-1.1.2-3.4-4zM134.9 332.1l3.4 4-1 .2-3.5-3.9zM128.1 334.4l3.4 4-1.1.5-3.4-4zM127.1 334.9l3.4 3.9-1.2.6-3.4-3.9zM93.4 336.1l1.6 1.1-3.4 3.6-1.7-1.1zM101.3 336.8l2.3 1.9-3 3.1-2.4-1.8z"/><path fill="#4548e4" d="M129.4 316l.7.3 3.3 1.6-.8-.4zM138.5 320.8l1.7 1.5-3-1-1.7-1.5zM77.7 325l1.9-.2-2.9 3-2 .1zM137.3 325.5l2.9 3-1.8.1-2.9-3.1zM80.2 327.4l1.4.1-3.1 3.4-1.5-.2zM81.5 327.4l1.3 0-3.2 3.7-1.2-.2zM131.1 329l3.1 3.8-.9.2-3.2-3.8zM130.2 329.2l3.2 3.8-.9.2-3.1-3.8zM129.5 329.4l3.1 3.8-.9.3-3.2-3.8zM128.6 329.7l3.2 3.8-.9.3-3.2-3.8zM127.8 330l3.2 3.8-1 .3-3.2-3.7zM126.9 330.4l3.2 3.7-.9.3-3.2-3.8zM126.1 330.6l3.2 3.8-1 .4-3.2-3.8zM93.7 331.4l1.4.7-3.2 3.5-1.4-.8zM95 332l1.4 1-3.2 3.5-1.4-1zM102 332.6l2.1 1.7-2.8 2.9-2.1-1.5z"/><path fill="#423fd2" d="M139.3 320.4l1.1.5-3.5-1.4-1.1-.6zM76.4 320.8l3.5-1.5-1.1.6-3.7 1.5zM140.4 320.9l1.4.8-3.7-1.5-1.2-.7zM75.1 321.4l3.7-1.5-1.4.8-3.6 1.4zM71.9 323.9l3.2-.8-2.1 1.9-3.3.7zM144.1 325.1l2.4 2.2-2.8-.4-2.5-2.4zM143.7 326.5l2.8 2.6-2.5-.1-2.8-2.8zM74 330.4l1.8.1-3.3 3.5-1.9-.2zM138.2 331.6l3.6 3.7-1.5.3-3.4-3.9zM137 331.7l3.4 3.9-1.2.3-3.4-4zM126 335.4l3.4 3.9-1.3.7-3.5-3.8zM124.7 336.1l3.5 3.8-1.4.9-3.4-3.8zM94.9 337.1l1.9 1.4-3.6 3.3-1.7-1.1zM115.6 337.2l3 3.3-2.3 1.6-3.1-3.1z"/><path fill="#3f2db4" d="M63.2 324.6l4.3 0-1.9 1.1-4.2-.1zM153.6 324.7l1.9 1-4.3.1-1.8-1.1zM61.4 325.5l4.2.1-2.2 1.2-4.2-.2zM155.5 325.6l2.1 1-4.2.3-2.2-1.2zM156 327.9l2.8 1.8-3.9.2-2.7-1.9zM58.2 329.1l3.8.2-3 2-3.8-.6zM58.9 330.9l3.4.2-3.4 2.3-3.4-.5zM157.9 331.2l3.4 2-3.4.6-3.4-2.3zM59 333l3 .3-3.8 2.5-3-.5zM154.9 333.7l3.9 2.6-2.8.6-3.8-2.8zM58.4 335.4l2.7.5-4.2 2.6-2.7-.7zM61 335.8l2.4.4-4.1 2.8-2.5-.6zM153.5 336.8l4.1 2.9-2.2.5-4.2-2.9zM151.3 337.2l4.2 2.9-2 .7-4.1-3.2zM61.8 339l1.8.5-4.6 2.7-1.9-.5zM63.6 339.4l1.7.4-4.6 2.8-1.7-.5zM126.9 345.4l4.1 3.1-2 .9-4.1-2.9zM125 346.4l4.1 2.9-2.2 1.1-4.2-2.9zM84.5 346.5l1.7 1-4.6 2.6-1.7-.8zM86.1 347.4l2 .9-4.5 2.6-2-.9zM94 346.8l2.4 1.6-4.1 2.5-2.5-1.2zM108.4 347.2l3.4 2.4-3.4 1.9-3.4-1.9zM102.3 347.4l3.1 2.2-3.7 2-3.1-1.7zM114.6 347.7l3.6 2.5-3.1 1.7-3.7-2.3zM96.3 348.2l2.7 1.7-4.1 2.2-2.7-1.4z"/><path fill="#3f2aab" d="M161.8 325.6l2.4 1.2-4.6 1.1-2.4-1.3zM51.5 329.8l4.1.9-3.3 1.7-4.1-1.1zM159.7 338.7l4.5 2.4-2.5.8-4.5-2.4zM115.1 351.5l4 2.1-3.2 1.5-4.2-1.9z"/><path fill="#4548e1" d="M131 316.7l.9.4 3.3 1.6-1-.5zM81.6 318.5l3.3-1.6-1 .6-3.3 1.4zM80.6 318.9l3.3-1.4-1.1.5-3.3 1.5zM136.2 319.1l1.1.6-3.3-1.5-1.1-.6zM79.5 319.5l3.3-1.5-1.2.7-3.2 1.4zM76.6 321.7l3-1-1.8 1.7-3.1.9zM139.2 322.6l2.4 2.1-2.6-.5-2.3-2.2zM139 323.8l2.6 2.6-2.4-.3-2.5-2.6zM78.7 327.4l1.6.1-3.2 3.3-1.7-.1zM134.1 328.4l3.2 3.7-1.2.2-3.2-3.7zM133 328.6l3.2 3.7-1.1.2-3.2-3.7zM132 328.8l3.2 3.7-1.1.3-3.1-3.8zM125.2 331l3.2 3.7-1.1.6-3.2-3.7zM124.2 331.5l3.2 3.7-1.2.6-3.2-3.6zM123.1 332.1l3.2 3.6-1.4.8-3.2-3.6zM96.3 332.9l1.6 1.2-3.2 3.4-1.6-1.1zM114.8 333l2.8 3.1-1.9 1.5-3-3z"/><path fill="#4236c0" d="M68.7 323.7l4.1-.9-1.8 1-3.9.9zM75.3 338.1l1 .4-4.3 3.5-.9-.3zM76.3 338.4l.8.3-4.2 3.6-.9-.4zM77.1 338.6l.8.4-4.2 3.5-.8-.3zM79.5 339.4l.9.5-4.3 3.5-.7-.4zM80.4 339.8l.8.4-4.2 3.6-.9-.5zM81.2 340.1l1 .5-4.3 3.5-.9-.4zM125 341.2l3.9 3.5-1.8 1.1-3.7-3.6z"/><path fill="#4233c0" d="M148.1 323.8l1.7 1-4-.7-1.7-1.1zM67.1 324.6l3.9-.9-1.9 1.4-3.9.6zM150.1 326.4l2.5 1.8-3.5-.3-2.4-2zM65 329l3.1-.3-3.1 2.6-3.1 0zM65.1 330.9l2.7-.1-3.5 3-2.7-.3zM149.1 331.4l3.5 2.9-2.5.2-3.4-3zM66.9 333.4l2.2.1-3.8 3.3-2.3-.4zM145.9 334.4l3.9 3.4-1.8.4-3.9-3.5zM72 337.4l1.2.3-4.2 3.4-1.2-.4zM73.2 337.6l1.1.3-4.2 3.5-1.1-.4zM74.3 337.8l1 .4-4.2 3.6-1-.5zM82.2 340.5l1 .5-4.3 3.5-1-.5zM83.2 340.9l1.1.6-4.3 3.5-1.1-.6zM84.2 341.4l1.3.7-4.2 3.4-1.3-.6zM123.5 342.1l3.7 3.6-2 1.1-3.8-3.3zM95.3 342.7l2.3 1.5-3.8 3-2.3-1.3zM108.4 342.9l3.1 2.7-3.1 2-3-2.3zM102.9 343.1l2.9 2.2-3.5 2.5-2.8-1.9z"/><path fill="#423ccf" d="M141.8 321.7l1.2.6-3.6-1.3-1.3-.8zM143 322.2l1.5 1-3.5-1.2-1.6-1zM73.8 322l3.6-1.3-1.6 1-3.4 1.3zM144.9 324.4l2.2 1.7-3.3-.6-2.1-2zM70.6 326.5l2.7-.5-2.7 2.6-2.9.3zM70.7 328.2l2.3-.2-3.2 3-2.4 0zM143.9 328.6l3.2 3.1-2.3.1-3.1-3.3zM72.2 330.4l1.9.1-3.4 3.4-2-.2zM141.1 331.4l3.4 3.5-1.6.3-3.5-3.7zM139.5 331.4l3.5 3.7-1.3.3-3.6-3.7zM80.5 335.1l1 .4-3.9 3.8-.9-.4zM81.4 335.4l.9.2-3.8 4-1-.4zM82.2 335.6l.9.4-4 3.8-.7-.2zM83 335.9l.9.4-3.8 3.9-1-.5zM123.5 336.9l3.4 3.8-1.7.9-3.4-3.7zM96.7 338.4l1.9 1.4-3.5 3.3-2-1.4zM108.4 338.4l2.8 2.6-2.8 2.3-2.8-2.5zM103.4 338.6l2.6 2.2-3.1 2.7-2.5-1.9z"/><path fill="#3f27ab" d="M164.2 326.6l2.6 1.2-4.6 1.2-2.6-1.3zM52.6 326.6l4.6 1-2.6 1.4-4.6-1.2zM166.7 327.6l3.1 1.3-4.6 1.4-3-1.5zM50.1 327.6l4.5 1.2-2.9 1.4-4.6-1.3zM169.7 328.7l3.1 1.4-4.5 1.5-3.2-1.5zM47.2 328.7l4.6 1.3-3.3 1.5-4.5-1.4zM165.4 329.9l3.2 1.5-4.1 1.2-3.3-1.7zM48.4 331.1l4 1.1-3.7 1.7-4-1.3zM168.4 331.2l3.7 1.5-4 1.4-3.7-1.7zM44.9 332.4l4 1.3-4 1.7-4.1-1.3zM164.6 332.2l3.7 1.7-3.7 1.2-3.7-2zM168.1 333.7l4 1.7-3.7 1.4-4-1.9zM48.7 333.5l3.7 1.1-4 1.8-3.7-1.2zM164.5 334.7l4.1 1.9-3.2 1.2-4.2-2.2zM45 335l3.6 1.2-4.5 1.9-3.7-1.3zM168.3 336.4l4.5 1.8-3.1 1.2-4.6-1.8zM48.5 336l3.3 1-4.6 2-3.2-1.1zM165.2 337.4l4.6 1.8-3.1 1.1-4.5-2zM162.3 338.1l4.5 2-2.7 1.1-4.5-2.3zM124.3 351.1l4.5 2.3-2.7 1.2-4.5-2.2zM121.7 352.2l4.5 2.2-3 1.4-4.5-2.2zM104.9 352.8l3.7 1.9-4 1.7-3.8-1.7zM111.9 353l4.1 1.9-3.8 1.6-4-1.8zM98 353.1l3.2 1.6-4.5 1.9-3.2-1.6zM118.8 353.4l4.5 2.2-3.2 1.3-4.5-2zM108.4 354.5l4 1.8-4 1.6-4-1.7zM101 354.5l3.8 1.7-4.5 1.7-3.7-1.5z"/><path fill="#4851f0" d="M84.5 317.1l3-1.4 1-.5-3.1 1.5zM134.3 318.7l1.6 1.3-2.8-.8-1.5-1.4zM80.9 319.5l2.9-1-1.8 1.5-2.8.9zM135.1 320.4l2 1.8-2.3-.4-2.1-2.1zM134.8 321.4l2.3 2.3-2.1-.2-2.3-2.4zM133.2 322.9l2.7 2.8-1.7.1-2.6-2.9zM84.1 324.4l1.3.2-2.9 3.2-1.3 0zM128.5 325.9l2.9 3.5-1 .2-2.9-3.5zM127.6 326.1l2.9 3.5-.8.2-3-3.4zM126.8 326.4l3 3.4-1 .3-2.9-3.5zM126 326.6l2.9 3.5-.9.3-2.9-3.5zM125.2 326.9l2.9 3.5-1 .4-2.9-3.6zM124.3 327.2l2.9 3.6-.9.2-2.9-3.5zM123.5 327.5l2.9 3.5-1 .4-2.9-3.3zM96.3 328.4l1.5.8-3 3.2-1.4-.7zM114.1 329.1l2.7 2.9-2 1.4-2.6-2.8z"/><path fill="#4233bd" d="M149.8 324.6l1.8 1.2-3.9-.5-1.9-1.3zM64.3 327.6l3.5-.4-2.7 2.2-3.5.1zM151.8 329.4l3.1 2.3-3.1.1-3.1-2.6zM147.8 334.4l3.8 3.1-1.9.4-3.9-3.4zM70.8 337.1l1.2.4-4.2 3.3-1.4-.4zM85.4 342l1.4.8-4.1 3.4-1.5-.8zM113.9 343.4l3.4 2.9-2.7 1.8-3.5-2.5z"/><path fill="#4545de" d="M137.3 319.7l1.2.7-3.3-1.5-1.2-.7zM78.4 320.1l3.2-1.4-1.3.8-3.3 1.4zM138.5 320.4l1.3.8-3.3-1.4-1.3-.9zM140.2 322.1l1.9 1.6-3.1-.7-1.8-1.9zM75.4 323.9l2.6-.6-2.6 2.5-2.5.4zM75.5 325.4l2.3-.3-3 2.9-2.2.2zM139.1 325.7l3 3-2-.1-2.9-3zM76.9 327.4l1.9.1-3.3 3.3-1.8-.1zM136.6 328.2l3.2 3.5-1.4.3-3.2-3.5zM135.3 328.4l3.2 3.6-1.3.1-3.2-3.7zM121.8 332.8l3.2 3.6-1.3.9-3.3-3.6zM97.8 334l1.8 1.5-3.1 3.3-1.9-1.4zM108.4 333.9l2.6 2.5-2.6 2.4-2.6-2.5zM103.9 334.2l2.3 2.1-2.8 2.7-2.3-2z"/><path fill="#484eed" d="M132.3 317.3l1 .5-2.9-1.3-1-.6zM133.3 317.8l1.1.6-3-1.3-1-.6zM83.5 317.7l3-1.5-1.1.6-3 1.4zM82.4 318.2l3-1.4-1.2.7-3 1.4zM135.9 319.7l1.7 1.6-2.8-.5-1.7-1.8zM79.9 321.4l2.3-.6-2.3 2.3-2.3.4zM80 322.7l2-.2-2.7 2.6-1.9.2zM134.9 323.1l2.7 2.7-1.8 0-2.7-2.8zM81.2 324.5l1.7 0-2.9 3.3-1.6-.1zM131.5 325.4l2.9 3.4-1.2.2-2.8-3.4zM130.5 325.6l2.8 3.4-1.1.2-2.8-3.5zM121.6 328.5l2.9 3.3-1.2.7-2.9-3.3zM120.5 329.1l2.9 3.3-1.4.8-2.9-3.3zM98.9 330.1l1.6 1.2-2.9 3.1-1.6-1.2zM108.4 330l2.4 2.2-2.4 2.1-2.3-2.2zM104.4 330.2l2.1 1.9-2.6 2.5-2.1-1.8z"/><path fill="#484ef0" d="M84.5 317.1l3-1.4-1 .5-3 1.5zM82.8 324.4l1.4 0-2.9 3.4-1.4 0zM129.5 325.7l2.8 3.5-1 .2-2.9-3.5zM122.6 328l2.9 3.3-1.1.6-2.9-3.3zM97.7 329.1l1.3 1.1-2.9 3.1-1.4-1z"/><path fill="#423ccc" d="M72.4 322.9l3.4-1.3-1.7 1.2-3.5 1.1zM144.5 323.1l1.7 1.1-3.5-1.1-1.7-1.2zM69.8 325.4l3.2-.7-2.3 2.2-3.3.5zM146.3 327l2.8 2.4-2.8-.2-2.8-2.6zM142.8 331.4l3.4 3.3-1.8.3-3.4-3.5zM76.7 334.1l1.2.4-3.9 3.7-1.2-.3zM77.8 334.4l1.1.3-3.9 3.8-1.1-.4zM78.8 334.6l1 .2-3.8 4-1.1-.4zM79.7 334.8l.9.3-3.8 3.9-.9-.2zM83.8 336.2l1 .5-3.9 3.8-.9-.4zM84.7 336.6l1.1.5-3.9 3.8-1.1-.5zM85.7 337l1.1.6-3.9 3.7-1.1-.5zM86.7 337.5l1.1.6-3.8 3.7-1.2-.6zM121.9 337.8l3.4 3.7-1.6 1-3.6-3.5zM113.4 338.9l3.1 3-2.6 1.9-3.1-2.8z"/><path fill="#3f33bd" d="M65.2 325.5l3.9-.6-2.1 1.5-4 .4zM152.5 327.9l2.7 1.9-3.5 0-2.7-2.2zM151.7 331.4l3.5 2.6-2.7.4-3.5-2.9zM64.5 333.4l2.5.1-3.9 3-2.4-.4zM67.4 336.6l1.7.3-4.1 3.2-1.8-.4zM69 336.8l1.8.4-4.3 3.3-1.6-.5zM86.7 342.7l1.6 1-4.1 3.2-1.6-.8zM88.2 343.6l1.8 1-4.1 3.2-1.8-1zM121.5 343.4l3.8 3.3-2.3 1.1-3.8-3.1zM97.5 344.1l2.4 1.8-3.8 2.7-2.4-1.5z"/><path fill="#4557f6" d="M87.1 315.9l2.8-1.4.9-.4-2.7 1.3zM84.8 317.6l2.5-1.1-1.5 1.4-2.4.8zM83.9 319l2.1-.4-2.1 2-2.1.4zM86.5 321.9l1.3.1-2.7 2.9-1.3-.2zM126.1 323.1l2.7 3.2-1 .2-2.7-3zM125.2 323.4l2.7 3.1-.9.3-2.6-3.3zM124.5 323.5l2.6 3.3-.9.2-2.7-3.2zM123.6 323.8l2.7 3.2-.9.3-2.7-3.3zM122.8 324l2.7 3.3-1 .3-2.6-3.2zM122 324.4l2.6 3.2-.9.3-2.7-3.2zM121.1 324.7l2.7 3.1-1 .6-2.7-3.1zM98.7 325.7l1.3 1-2.5 2.8-1.5-.8zM113.6 325.7l2.2 2.6-1.7 1.2-2.3-2.5zM108.4 326.4l2.1 2.2-2.1 1.8-2-2z"/><path fill="#4545db" d="M77 320.8l3.3-1.3-1.5 1.1-3.4 1.2zM74.8 323l3-.8-2.3 2.1-2.9.6zM141.4 324.4l2.5 2.4-2.5-.3-2.6-2.6zM138.2 328.2l3.2 3.5-1.7.1-3.2-3.5zM82.9 331.4l.9.1-3.5 4-.9-.3zM83.7 331.5l.9.3-3.4 4-1-.3zM84.5 331.8l.9.2-3.4 4-.9-.2zM85.3 332l.9.4-3.4 3.9-.9-.3zM86.1 332.4l1 .3-3.5 3.9-.9-.3zM87 332.7l.9.3-3.4 4-1-.4zM120.5 333.6l3.3 3.6-1.7 1-3.2-3.5zM112.9 334.5l2.9 3-2.4 1.8-2.8-3z"/><path fill="#4542db" d="M139.8 321.1l1.6 1-3.3-1.2-1.6-1.1zM80.9 330.9l1.1.2-3.4 3.9-1.1-.2zM81.9 331.1l1.1.3-3.5 3.8-1-.2zM87.8 333l1 .5-3.3 3.9-1.1-.4zM88.7 333.5l1.1.6-3.3 3.8-1.1-.6z"/><path fill="#454eea" d="M134.4 318.4l1.2.7-3-1.3-1.2-.7zM81.2 318.9l3-1.4-1.3 1.1-3 1.1zM79.2 320.6l2.8-.8-2 2-2.6.6zM119.2 329.8l2.9 3.3-1.4.9-2.9-3.3zM112.4 330.5l2.6 2.8-2.1 1.6-2.5-2.8z"/><path fill="#4557f3" d="M129.8 316.1l1 .6-2.9-1.2-1-.7zM87.1 315.9l2.8-1.4-1 .6-2.8 1.3zM86.1 316.4l2.8-1.3-1.1.6-2.8 1.3zM132 317.8l1.5 1.4-2.5-.6-1.5-1.6zM83.5 318.4l2.3-.7-1.8 1.7-2.4.6zM83.9 320.2l1.9-.2-2.2 2.4-2 .3zM131.1 320.7l2.4 2.5-1.6 0-2.4-2.6zM85.1 321.9l1.5.1-2.7 2.8-1.4-.1zM128 322.8l2.8 3.2-1.1.1-2.8-3zM127 323l2.8 3-1.1.3-2.7-3.2zM120.2 325.2l2.7 3.1-1.1.6-2.7-3.1zM119.2 325.7l2.7 3.1-1.2.7-2.7-3zM99.9 326.6l1.5 1.1-2.7 2.8-1.3-1.1zM104.8 326.6l2 1.8-2.4 2.2-1.9-1.6zM112 326.9l2.3 2.4-1.9 1.6-2.3-2.3z"/><path fill="#4239c9" d="M70.6 323.8l3.5-1.1-1.8 1.5-3.6.9zM146.2 324l1.9 1.3-3.6-.6-1.8-1.7zM147 325.8l2.4 2-3.2-.4-2.4-2.2zM146.2 328.8l3.2 2.9-2.4.1-3.2-3.1zM70 330.6l2.3-.1-3.5 3.3-2.2-.1zM144.6 331.4l3.5 3.3-2 .1-3.4-3.3zM72.7 333.6l1.5.3-3.7 3.6-1.8-.4zM74.1 333.8l1.4.2-3.8 3.8-1.3-.4zM88.9 338.7l1.4.8-3.8 3.6-1.4-.8zM90.2 339.4l1.7 1.1-3.9 3.5-1.6-1zM120.2 338.9l3.6 3.5-2.1 1.4-3.5-3.5zM98.5 339.7l2.3 1.8-3.5 3-2.3-1.5z"/><path fill="#454bea" d="M135.6 319l1.3 1-3-1.2-1.3-1zM79.9 319.6l3-1.1-1.6 1.1-2.9 1.1zM136.9 321.9l2.3 2.2-2.3-.3-2.3-2.3zM134 325.4l2.9 3.1-1.4.3-2.9-3.3zM85.7 328l1.1.2-3.3 3.7-.9-.1zM86.7 328.2l.8.2-3.2 3.8-.9-.3zM87.4 328.4l.9.3-3.2 3.7-.9-.2zM88.2 328.7l.9.3-3.2 3.8-.9-.4zM89 329l1 .4-3.2 3.7-1-.3zM89.9 329.4l.9.3-3.2 3.7-.9-.3zM117.9 330.6l2.9 3.3-1.6 1.1-2.8-3.2z"/><path fill="#4554f3" d="M130.8 316.7l1 .6-2.8-1.3-1.1-.5zM85 317l2.8-1.3-1.2.8-2.8 1.2zM129.1 322.8l2.7 2.9-1.1.3-2.8-3.2zM118.1 326.4l2.7 3-1.4.8-2.6-3z"/><path fill="#4260f6" d="M90.4 314.3l2.5-1.3-.9.5-2.5 1.2zM128.5 316l1.4 1.2-2.3-.7-1.4-1.3zM87.6 317l1.8-.5-1.8 1.9-2 .4zM87.7 318l1.5-.2-2.2 2.3-1.6.1zM127.7 318.4l2.2 2.4-1.5 0-2.2-2.5zM89.8 319.5l1.2.2-2.4 2.7-1.2-.2zM124 320.6l2.4 2.9-1 .3-2.4-3.1zM123.1 320.7l2.4 3.1-.8.1-2.5-3zM122.3 320.9l2.5 3-1 .3-2.4-3zM121.5 321.2l2.4 3-.9.2-2.4-3zM120.7 321.4l2.4 3-.9.4-2.4-3zM119.9 321.8l2.4 2.9-1 .4-2.4-2.8zM119 322.2l2.4 2.8-1 .6-2.4-2.9zM99.7 322.6l1.2.9-2.4 2.6-1.1-.7zM108.4 323.2l1.9 1.9-1.9 1.7-1.9-1.8zM105.2 323.4l1.7 1.6-2.1 2-1.7-1.3z"/><path fill="#4542d8" d="M75.4 321.7l3.4-1.2-1.8 1.3-3.3 1.1zM141.4 322l1.7 1.2-3.3-.9-1.7-1.5zM142 323.4l2.2 2-2.9-.6-2.3-2.1zM73.1 325.9l2.5-.4-2.8 2.8-2.4.2zM141.3 326.1l2.9 2.8-2.2-.1-3-3zM75 327.6l2-.1-3.2 3.3-1.9-.1zM139.9 328.2l3.2 3.5-1.8.1-3.2-3.5zM78.7 330.5l1.2.3-3.4 3.7-1.4-.3zM79.8 330.7l1.2.2-3.4 3.9-1.2-.4zM89.7 334l1.2.6-3.4 3.8-1.1-.6zM90.8 334.5l1.4.8-3.5 3.8-1.3-.8zM119 334.6l3.2 3.5-1.8 1.2-3.2-3.4zM99.5 335.4l2 1.5-3.2 3.2-1.9-1.4zM106 336.1l2.6 2.5-2.8 2.4-2.6-2.2z"/><path fill="#4854f3" d="M131.8 317.3l1.2.7-2.8-1-1.2-1zM83.8 317.6l2.8-1.1-1.4 1.1-2.7 1.1zM133.4 318.9l1.8 1.8-2.4-.7-1.8-1.7zM132.9 319.6l2.1 2.1-2.1-.3-2.1-2.2zM82 320.7l2.1-.4-2.3 2.5-2.1.2zM132.8 321l2.4 2.4-1.8-.1-2.4-2.5zM83.7 322l1.5 0-2.6 2.8-1.7 0zM130.3 322.7l2.7 3-1.3.1-2.7-2.9zM87.4 324.8l1.1.2-3 3.4-1-.2zM88.4 325l.9.2-2.8 3.4-1.1-.2zM89.2 325.2l.9.2-2.9 3.4-.8-.2zM90 325.4l.9.3-2.9 3.4-.9-.3zM90.8 325.7l1 .3-3 3.4-.9-.3zM91.7 326l.9.4-2.9 3.4-1-.5zM92.5 326.4l.9.3-2.9 3.4-.9-.3zM93.3 326.7l1 .6-2.8 3.2-1.1-.5zM116.9 327.1l2.6 3-1.4.9-2.7-2.9zM101.3 327.6l1.6 1.3-2.7 2.7-1.6-1.2zM106.6 328.2l2 2-2.3 2.1-2.1-1.9z"/><path fill="#425df6" d="M89.5 314.7l2.5-1.2-1 .5-2.5 1.3zM127.3 315l1 .7-2.5-1.2-1-.7zM88.5 315.3l2.5-1.3-1.1.7-2.5 1.2zM128.3 315.7l1.1.5-2.5-1.1-1.1-.6zM87.4 315.9l2.5-1.2-1.1.9-2.6 1.1zM86.9 316.4l2.3-.6-1.4 1.6-2.4.5zM129.8 316.9l1.6 1.6-2.2-.5-1.6-1.7zM129.3 317.6l1.9 1.8-1.9-.3-1.9-2zM85.8 318.5l2-.4-2.2 2.2-1.9.2zM129.2 318.7l2.2 2.3-1.6-.1-2.2-2.4zM87.2 319.7l1.6 0-2.5 2.6-1.5-.1zM88.7 319.6l1.2-.1-2.4 2.8-1.3-.1zM127 320.4l2.4 2.7-1.2.1-2.4-2.7zM125.9 320.4l2.4 2.7-1.1.3-2.4-3zM124.9 320.4l2.4 3-1 .1-2.4-2.9zM92.4 322.7l.9.2-2.7 3.2-.9-.3zM93.2 322.9l.9.3-2.6 3.2-1-.3zM118.1 322.6l2.4 2.9-1.1.6-2.4-2.8zM117.1 323.2l2.4 2.8-1.2.8-2.4-2.8zM100.8 323.4l1.3 1.1-2.4 2.5-1.3-1zM116 323.9l2.4 2.8-1.3.8-2.4-2.7zM111.6 323.6l2.2 2.4-1.8 1.3-2.1-2.3zM102 324.4l1.5 1.1-2.4 2.5-1.5-1.1zM106.7 324.8l1.9 1.8-2 2-2-1.8z"/><path fill="#454be7" d="M136.9 319.9l1.6 1.1-3-1.1-1.6-1.2zM137.5 321l1.9 1.9-2.6-.6-2-1.8zM77.6 322.1l2.5-.6-2.2 2.1-2.7.6zM77.8 323.2l2.3-.4-2.5 2.6-2.4.3zM136.8 323.4l2.6 2.6-1.9-.1-2.7-2.7zM79.5 324.7l1.8-.1-2.8 3.2-1.9-.1zM135.6 325.4l2.9 3.1-1.7.1-2.9-3.1zM82.7 327.4l1.2.2-3.2 3.7-1.2-.2zM83.8 327.6l1.1.2-3.2 3.7-1.1-.2zM84.8 327.8l1 .2-3.1 3.8-1.1-.3zM90.7 329.7l1.1.5-3.3 3.7-1-.6zM91.7 330.1l1.1.7-3.3 3.6-1.1-.6zM92.7 330.7l1.1.8-3.2 3.4-1.2-.6zM100.4 331.2l1.8 1.5-2.9 3.1-1.8-1.5zM106.3 331.9l2.3 2.2-2.6 2.4-2.3-2.1zM110.6 332l2.5 2.7-2.3 1.9-2.6-2.5z"/><path fill="#4542d5" d="M73.7 322.7l3.3-1-1.9 1.6-3.2.9zM72.7 324.6l2.9-.6-2.5 2.3-2.7.5zM77.3 330.4l1.5.2-3.6 3.7-1.4-.2zM92.1 335.2l1.4 1-3.5 3.6-1.4-.8zM117.3 335.8l3.2 3.4-2 1.4-3.1-3.3zM110.8 336.2l2.8 2.9-2.6 2.1-2.8-2.6z"/><path fill="#3f66f6" d="M124.3 313.5l.9.5-2.3-1.3-.9-.6zM90.2 314.6l2.1-.7-1.5 1.5-2 .6zM126.1 315.6l1.7 1.7-1.7-.3-1.7-1.9zM91.7 317.4l1.2.1-2.2 2.5-1.2-.2zM124 318l2.2 2.8-1.1 0-2.2-2.8zM123 318l2.2 2.8-1 .2-2.2-2.9zM122.1 318.1l2.2 2.9-1 .1-2.2-2.9zM117.1 319.7l2.2 2.8-1 .5-2.2-2.7zM116.2 320.2l2.2 2.7-1.1.7-2.2-2.7zM101.7 320.4l1.1.9-2.2 2.5-1.2-.9zM111.3 320.5l1.9 2.3-1.6 1.2-1.9-2.2z"/><path fill="#4851f3" d="M133 317.9l1.3 1-2.7-1-1.4-1zM82.5 318.6l2.7-1.1-1.4 1.1-2.9 1.1zM81.8 319.7l2.3-.6-2.1 2-2.3.6zM81.9 322.4l1.9-.3-2.8 2.8-1.8.1zM131.7 322.8l2.6 2.9-1.4.1-2.7-3zM85.3 324.5l1.2.1-2.9 3.4-1.2-.3zM86.4 324.6l1.1.2-2.9 3.4-1.1-.2zM94.2 327.2l1.1.6-2.8 3.3-1.1-.7zM95.2 327.7l1.2.8-2.9 3.3-1.1-.8zM115.5 328l2.7 2.9-1.5 1.2-2.8-2.9zM110.3 328.4l2.3 2.3-2 1.7-2.4-2.2zM102.7 328.8l1.9 1.5-2.6 2.7-1.9-1.5z"/><path fill="#454be4" d="M78.4 320.5l2.9-1-1.7 1.4-3 1zM116.6 331.7l2.7 3.2-1.8 1.3-2.9-3.1z"/><path fill="#3f63f6" d="M125.2 314l1 .7-2.3-1.2-1-.8zM90.6 314.2l2.3-1.2-1.1.9-2.3 1zM126.2 314.7l1.1.6-2.3-1.1-1.1-.7zM89.5 314.8l2.3-1-1.2 1-2.2.9zM126.5 315.1l1.5 1.4-2-.5-1.5-1.5zM88.9 315.7l2-.6-1.7 1.7-1.8.5zM89.2 316.4l1.7-.3-1.9 2-1.6.2zM126.1 316.6l1.9 2.1-1.6-.1-1.9-2.3zM89.1 317.7l1.5-.1-2 2.4-1.7 0zM90.5 317.5l1.3 0-2.2 2.4-1.2 0zM125.1 318.1l2.2 2.7-1.2 0-2.2-2.8zM91.9 319.6l1 .2-2.4 3-1-.4zM92.8 319.8l1 .1-2.3 3-1.1-.1zM93.7 319.9l.9.3-2.4 2.9-.8-.2zM94.5 320.2l.9.2-2.4 2.9-.9-.2zM95.3 320.4l.9.3-2.4 2.9-.9-.3zM96.1 320.7l.9.5-2.4 2.8-.9-.5zM96.9 321.1l1 .5-2.4 2.8-1-.5zM97.8 321.5l1 .6-2.3 2.8-1.1-.6zM115.2 320.8l2.2 2.7-1.2.8-2.2-2.6zM114.1 321.6l2.2 2.6-1.3.9-2.2-2.5zM102.7 321.2l1.3 1.1-2.2 2.5-1.3-1.1zM106.9 321.6l1.7 1.8-1.9 1.8-1.7-1.6zM109.9 321.7l1.9 2.1-1.7 1.5-1.9-1.9zM103.8 322.2l1.6 1.3-2.1 2.3-1.6-1.1z"/><path fill="#455af6" d="M129.4 316.1l1.2 1-2.5-1-1.2-1zM86.2 316.6l2.6-1.1-1.5 1.1-2.5 1.1zM130.6 317l1.4 1-2.5-.8-1.4-1.2zM131.3 318.2l1.8 1.7-2.2-.4-1.8-1.8zM131 319.1l2.1 2.2-1.9-.2-2.1-2.3zM85.7 319.9l1.6-.1-2.4 2.5-1.5 0zM129.6 320.5l2.4 2.6-1.5 0-2.4-2.6zM87.7 321.9l1.2.2-2.7 2.9-1.2-.2zM88.8 322l1.1.2-2.7 3-1.1-.3zM89.8 322.1l1 .4-2.6 2.9-1.1-.3zM95.7 324l1.1.6-2.8 3-1-.6zM96.7 324.5l1.1.7-2.8 2.9-1.1-.6zM97.7 325.1l1.1.7-2.7 3-1.2-.8zM114.8 324.7l2.4 2.7-1.6 1-2.2-2.6zM103.3 325.4l1.7 1.3-2.3 2.5-1.7-1.3z"/><path fill="#3f27a8" d="M172.7 329.9l3.7 1.4-4.6 1.6-3.6-1.5zM44.1 329.9l4.5 1.4-3.6 1.5-4.6-1.5zM176.2 331.1l4 1.6-4.4 1.6-4.1-1.6zM40.6 331.1l4.5 1.5-4.1 1.7-4.4-1.6zM171.9 332.5l4.1 1.6-4.1 1.5-4-1.7zM180 332.5l4.4 1.7-4.4 1.7-4.4-1.8zM36.8 332.5l4.4 1.6-4.4 1.7-4.4-1.6zM41 333.9l4.1 1.3-4.5 1.8-4-1.4zM175.8 333.9l4.4 1.8-4 1.5-4.5-1.8zM171.8 335.2l4.6 1.8-3.7 1.4-4.5-1.8zM115.8 354.7l4.4 2-3.7 1.4-4.5-1.8zM104.6 356l4 1.7-4.4 1.7-4-1.7zM112.2 356.1l4.4 1.8-4 1.6-4.4-1.8zM108.4 357.5l4.4 1.8-4.4 1.7-4.4-1.8z"/><path fill="#396ff6" d="M93.5 312.7l2.1-1.6.9-.5-2.1 1.4zM122.6 312.5l1.2.9-2-.9-1.1-1.5zM93.1 312.8l1.9-1.1-1.3 1.7-1.8.7zM123.2 313.5l1.6 1.9-1.6-.6-1.6-2.1zM93.6 313l1.6-.8-1.6 2-1.6.5zM93.6 313.8l1.4-.4-1.7 2.4-1.4.2zM121.9 313.9l1.9 2.5-1.4-.2-1.7-2.6zM94.5 315.1l1.1-.1-2 2.8-1.1 0zM95.5 315l1 0-2 2.8-1 0zM96.4 315l1 .1-1.9 2.8-1.1-.1zM120.5 315.6l1.9 2.9-1 .1-2-2.9zM119.5 315.7l2 2.9-.8.2-2.1-3zM118.7 315.8l2.1 3-1 .2-2-3zM117.9 316l2 3-.9.3-2-2.9zM117.1 316.4l2 2.9-.9.3-2-2.9zM100.5 316.2l1 .7-2 2.6-1-.4zM116.3 316.7l2 2.9-1 .5-1.9-2.9zM101.4 316.8l1 .7-1.9 2.6-1.1-.7zM115.5 317.2l1.9 2.9-1 .5-2-2.7zM102.2 317.4l1.2.9-1.8 2.5-1.2-.8zM108.4 316.9l1.6 1.9-1.6 1.7-1.6-1.7zM105.8 317.2l1.4 1.6-1.6 2-1.5-1.3zM111 317.4l1.8 2.3-1.5 1.2-1.7-2.2z"/><path fill="#3c6cf6" d="M123.3 312.9l1 .8-2.1-1.4-1-.8zM92.5 313.2l2.1-1.3-1.1.9-2.1 1.2zM123.8 313.1l1.1 1.7-1.9-.9-1.2-1.7zM92.1 313.8l1.7-.7-1.6 1.7-1.7.5zM92.2 314.4l1.6-.6-1.7 2.2-1.6.3zM93.4 315.4l1.2-.3-2 2.7-1.2 0zM122.3 315.8l2 2.6-1.1 0-2-2.7zM121.3 315.7l2 2.7-1 .1-1.9-2.9zM114.5 317.8l2 2.7-1.1.7-2-2.5zM103.2 318.2l1.3 1.1-2 2.3-1.1-.9zM113.5 318.6l2 2.5-1.3.9-1.8-2.5zM107 318.6l1.6 1.7-1.7 1.7-1.5-1.4zM109.8 318.6l1.7 2.1-1.6 1.4-1.7-1.8z"/><path fill="#3f60f6" d="M127.3 315.2l1.2 1-2.3-.8-1.2-1.2zM88.4 315.5l2.2-.8-1.4 1.4-2.3.6zM127.9 316.2l1.6 1.7-2-.5-1.6-1.7zM127.6 317l1.9 2-1.7-.2-1.9-2.1zM126.3 318.2l2.2 2.5-1.3.1-2.2-2.7zM90.9 319.6l1.1 0-2.4 2.9-1.1-.1zM98.7 322l1.1.7-2.3 2.8-1.1-.7zM113 322.5l2.1 2.5-1.4 1.1-2.3-2.4z"/><path fill="#3c69f6" d="M124.3 313.7l1.1.7-2-1.2-1.2-.9zM91.4 313.9l2.1-1.1-1.2 1.3-2.1.8zM124.8 314.4l1.5 1.5-1.7-.5-1.6-1.9zM90.7 315l1.7-.5-1.7 1.9-1.7.3zM124.6 315l1.7 1.9-1.6-.3-1.7-2.2zM92.2 315.6l1.3-.1-2 2.3-1.3 0zM123.5 316l1.9 2.5-1.2-.1-2-2.6zM92.8 317.4l1.1 0-2.2 2.6-1.1 0zM93.8 317.4l1 0-2.2 2.8-1-.3zM94.7 317.4l1.1.1-2.3 2.8-1-.1zM95.7 317.5l.8.2-2.2 2.9-.9-.3zM96.4 317.7l.9.3-2.2 2.8-.9-.2zM97.2 318l.9.5-2.2 2.6-.9-.3zM98 318.4l.9.3-2.2 2.8-.9-.5zM98.8 318.7l1 .5-2.2 2.7-1-.5zM99.7 319.1l1.1.7-2.3 2.6-1-.6zM100.7 319.7l1.1.8-2.3 2.5-1.1-.7zM104.3 319.2l1.5 1.3-2 2.1-1.4-1.1zM112.6 319.4l1.8 2.5-1.4 1-1.9-2.3zM108.4 320.1l1.7 1.8-1.7 1.7-1.7-1.8z"/><path fill="#3972f6" d="M121.6 311.8l1 .8-1.9-1.5-1-1zM94.2 312.1l1.9-1.4-1.1 1.2-1.9 1.1zM122.1 312.2l1.3 1.7-1.7-.8-1.3-1.9zM121.8 312.7l1.6 2.1-1.4-.5-1.6-2.3zM94.9 313.4l1.2-.4-1.8 2.5-1.2.3zM120.8 313.6l1.8 2.6-1.1-.1-1.8-2.7zM97.3 315.1l.9.3-2 2.7-.8-.2zM98.1 315.4l.9.1-2 2.9-.9-.3zM98.9 315.5l.9.3-2 3-.9-.4zM99.7 315.8l.9.4-2 2.9-.9-.3zM104.7 316.1l1.3 1.2-1.7 2.3-1.3-1.1zM112.1 316.4l1.7 2.5-1.2.9-1.8-2.3z"/><path fill="#3c66f6" d="M125.4 314.2l1.2 1.2-2.1-.6-1.1-1.7zM90.8 316l1.5-.3-1.9 2.2-1.6.1zM124.6 316.2l2 2.4-1.3-.1-1.9-2.5zM121.2 318.2l2.2 2.9-.9.2-2.1-2.9zM120.5 318.4l2.1 2.9-.9.3-2.2-3zM119.6 318.6l2.2 3-.9.2-2.2-2.9zM118.8 318.9l2.2 2.9-.9.4-2.2-3zM118 319.2l2.2 3-1 .4-2.2-2.8zM105.6 320.4l1.5 1.4-1.9 2-1.6-1.4z"/><path fill="#3378f6" d="M120 310.5l1.1.9-1.7-1.5-1-1.2zM96.2 310.7l1.4-.9-1.4 2.1-1.4.7zM119.6 311.4l1.5 2.6-1.2-.2-1.5-2.9zM99.7 312.7l.8.2-1.8 3-.9-.1zM100.4 312.9l.9.5-1.8 2.8-.9-.3zM108.4 313.6l1.4 2.1-1.4 1.6-1.4-1.7z"/><path fill="#3675f6" d="M121.1 311.1l1.1 1.5-1.8-1-1-1.8zM94.7 311.7l1.7-1-1.3 1.9-1.7.8zM95 312.2l1.4-.7-1.6 2.3-1.4.4zM120.5 312l1.7 2.3-1.3-.3-1.5-2.6zM96 313l1.1-.2-1.8 2.6-1.1.1zM97 312.8l1-.2-1.8 2.8-1 0zM119.8 313.4l1.8 2.7-.9-.1-1.9-2.9zM118.9 313.1l1.9 2.9-1.1.1-1.8-3zM114.8 314.1l1.8 3-.9.5-1.9-2.9zM102.8 314.4l1.1.8-1.7 2.6-1.1-.7zM113.9 314.7l1.9 2.8-1.2.7-1.7-2.7zM103.7 315.1l1.2 1.1-1.7 2.4-1.2-.9zM107.2 315.4l1.4 1.7-1.6 1.9-1.4-1.6zM109.6 315.5l1.6 2.2-1.4 1.3-1.6-1.9z"/><path fill="#3678f6" d="M95.7 311l1.8-1.6-1.1 1.6-1.8 1.1zM120.6 311.2l1.4 1.9-1.4-.7-1.4-2.2zM96.3 311.5l1.2-.6-1.6 2.5-1.3.4zM97.9 312.6l1 0-1.8 2.9-1-.1zM98.8 312.6l1 .1-1.9 3.1-.9-.3zM118 313.1l1.8 3-.9.1-1.8-3zM117.2 313.2l1.8 3-.9.2-1.7-3zM116.6 313.4l1.6 3-.9.4-1.8-3.1zM101.2 313.4l.9.3-1.8 2.9-.9-.4zM115.6 313.7l1.8 3.1-.9.3-1.8-3zM101.9 313.7l1.1.8-1.7 2.7-1.1-.6zM110.7 314.2l1.6 2.5-1.3 1.1-1.6-2.2zM106.1 314l1.3 1.5-1.6 2.1-1.3-1.2z"/><path fill="#3081f6" d="M98.2 308.8l1.6-2-1 1.6-1.7 1.4zM118.8 309.1l1 1.1-1.7-1.4-1-1.6zM118.3 308.6l1.3 2-1.3-.8-1.2-2.4zM118.2 309.4l1.6 2.4-1.2-.5-1.5-2.7zM98.7 308.9l1.1-.7-1.5 2.7-1.2.4zM99.2 310.1l1.1-.1-1.6 3-1.1 0zM100.2 310l.9 0-1.5 3.1-1.1-.1zM115.8 310.4l1.7 3.2-.8.2-1.8-3.2zM100.9 310l1 .2-1.7 3.1-.8-.2zM101.7 310.2l1.1.4-1.7 3.2-1-.5zM115 310.6l1.8 3.2-1.1.3-1.6-3.2zM102.7 310.6l.8.5-1.7 3-.9-.3zM114.3 310.9l1.6 3.2-1 .4-1.5-3.1zM103.3 311.1l1.1.8-1.6 2.9-1.1-.7zM106.3 310.6l1.2 1.5-1.4 2.3-1.2-1.3zM110.6 310.7l1.3 2.7-1.2 1.2-1.3-2.4z"/><path fill="#2a8df3" d="M100.3 306.1l1.4-2.2-.9 1.5-1.3 1.8zM116.2 305.6l1.1 2.2-1.1-1-1.1-2.6zM100.6 305.4l1.1-1.5-1.1 2.5-1.1 1zM100.6 306l1.1-.9-1.3 2.9-.9.6zM108.4 306.4l1.2 2.2-1.2 1.9-1.2-1.9zM106.6 306.9l1 1.6-1.3 2.5-1.1-1.3zM110.3 307l1.3 2.9-1 1.2-1.4-2.6z"/><path fill="#425af6" d="M85.5 317.6l2.3-.5-2 1.8-2.1.4zM128.2 320.4l2.4 2.6-1.3.2-2.4-2.7zM90.7 322.4l1.1.2-2.8 3-.9-.2zM91.7 322.5l.8.2-2.7 3.1-.9-.2zM94 323.2l.9.4-2.6 3.2-.9-.4zM94.8 323.6l1 .5-2.7 3-.9-.3zM110.1 324.9l2.1 2.2-1.9 1.7-2.1-2.2z"/><path fill="#337ef6" d="M97.2 309.4l1.6-1.2-1.4 2-1.4.9zM97.4 309.8l1.4-.9-1.5 2.4-1.3.6zM98.4 310.5l1-.4-1.7 2.9-1 .2zM117.5 310.6l1.7 2.9-1.1 0-1.6-3.1zM113.6 311.4l1.5 3.1-1.1.6-1.6-3zM104.2 311.9l1.1 1-1.6 2.6-1.1-.8zM112.6 312.1l1.6 3-1.1.7-1.6-2.6zM109.6 312.1l1.3 2.4-1.3 1.4-1.4-2.2zM107.3 312l1.3 1.8-1.4 2-1.3-1.5z"/><path fill="#337bf6" d="M119.8 309.8l1 1.8-1.5-1-1.2-2zM119.4 310.2l1.4 2.2-1.2-.6-1.5-2.4zM97.4 310.9l1.1-.4-1.6 2.7-1.2.2zM118.6 310.9l1.5 2.9-1-.3-1.7-2.9zM105.1 312.8l1.2 1.3-1.6 2.4-1.2-1.1zM111.7 313.1l1.6 2.6-1.2 1.1-1.6-2.5z"/><path fill="#2d87f6" d="M99.6 306.8l1.1-1.4-1.1 2-1.1 1.2zM117.5 307.4l.9 1.6-1.3-1.2-1-2.2zM117.2 307.4l1.2 2.4-1.1-.8-1.2-2.6zM99.7 308.2l.8-.6-1.3 2.9-1.1.4zM116.4 308l1.3 3-1-.2-1.2-3.2zM100.4 307.6l1.1-.2-1.4 3-1.1.1zM115.6 307.6l1.2 3.2-.9 0-1.3-3.3zM113.1 308l1.4 3.3-.9.5-1.5-3.1zM112.3 308.7l1.5 3.1-1.2.7-1.4-2.9zM104.6 308.4l1 1-1.4 2.9-1.1-.8zM109.4 308.4l1.4 2.6-1.2 1.5-1.4-2.3zM105.4 309.4l1.1 1.3-1.4 2.5-1.1-1z"/><path fill="#2790f0" d="M115.5 304.4l.8 1.6-1.2-1.4-.9-2.2zM115.2 304.2l1.1 2.6-1-1-1.1-2.9zM101.6 305.1l.9-.6-1.2 3.3-1 .2zM102.4 304.5l.9-.1-1.2 3.2-.9.2zM114.4 304.8l1.3 3.2-1-.1-1.2-3.4zM113.6 304.5l1.2 3.4-.9.1-1.2-3.4zM112.8 304.6l1.2 3.4-.9.4-1.2-3.4zM112 305l1.3 3.4-1 .7-1.3-3.3zM104.8 304.8l1 .9-1.2 3.1-1.1-.6zM111.2 305.8l1.3 3.3-1.1.9-1.3-3zM105.6 305.7l1.2 1.3-1.4 2.8-1-1z"/><path fill="#2793ed" d="M101.6 304.3l1.1-2.2-1.1 2.2-1.1 1.5zM101.6 303.9l1.1-1.2-1.1 2.8-1.1.9zM103.2 304.4l.9 0-1.2 3.4-.9-.2zM104 304.4l.9.4-1.2 3.4-.9-.4zM107.6 304.4l1 2.2-1.2 2.2-1-1.6zM109.3 304.5l1.2 2.8-1.1 1.5-1.2-2.2z"/><path fill="#3084f6" d="M98.6 308.2l1.1-1.2-1.1 2.3-1.4.9zM117.3 308.6l1.5 2.7-1.2-.3-1.3-3zM111.4 309.6l1.4 2.8-1.1 1.1-1.3-2.7zM108.4 310.1l1.4 2.2-1.4 1.7-1.3-1.8z"/><path fill="#12b1d8" d="M106 294.6l.9-2.1-.9 3.1-.9 1.4zM110.8 294.7l.9 2.4-.9-1.3-.9-3.3zM108.4 293l1 3.1-1 2-1-2.2z"/><path fill="#1ba5e1" d="M104.3 298.5l1-1.9-1 2.9-1 1.3zM108.4 297.7l1.1 2.7-1.1 2.2-1-2.2z"/><path fill="#1ba2e1" d="M112.7 298.7l.8 2.3-.9-1.4-1.1-2.9zM104.3 299.1l.9-.9-1 3.6-.9.4zM105.1 298.2l.9-.1-1 3.7-.9 0zM111.7 298.4l1 3.5-.9-.1-1-3.6zM105.9 298.1l.9.7-1 3.4-.9-.4zM110.9 298.2l1 3.6-.9.5-1-3.5zM106.7 298.8l1.1 1.4-1.2 3.1-1-1.1z"/><path fill="#0fb4cc" d="M107.6 291.4l.9-2.9-.9 3.4-.9 1zM109.2 291.4l.9 1.5-.9-.9-.9-3.5zM108.4 288.5l1 3.4-1 1.5-1-1.6z"/><path fill="#2199ea" d="M102.7 302.1l.8-1.7-.9 2.7-1.1 1.2zM103.4 301.8l.9-.4-1.1 3.4-.9.1zM113.4 302l1.1 3.2-.9-.3-1.1-3.4zM105.8 301.8l1 1.1-1.2 3.2-1-.9zM111 301.9l1.2 3.5-1 .8-1.2-3.2zM108.4 302.2l1.1 2.5-1.1 2.1-1-2.2z"/><path fill="#2496ea" d="M114.3 302.4l1 2.2-1-1.3-1-2.7zM102.6 302.7l.9-.9-1.1 3.1-.9.6zM106.6 302.9l1.2 1.6-1.2 2.8-1.2-1.3zM110.2 303l1.2 3.2-1.1 1.2-1.2-2.8z"/><path fill="#12b4d2" d="M106.8 292.5l.9-1-.9 3.7-.9.4zM110 292.5l.9 3.3-.9-.5-.9-3.7zM107.6 291.5l1 1.5-1 3.1-1-.9zM109.2 291.6l.9 3.7-.9.9-1-3.2z"/><path fill="#18a8db" d="M105.2 296.6l.9-1.4-1 3.4-.9.9zM111.6 296.7l1.1 2.9-1-.8-1-3.4zM107.6 295.7l1 2.1-1 2.8-1.1-1.4zM109.2 295.8l1.1 3.4-1 1.4-1.1-2.8z"/><path fill="#1e9ce4" d="M103.4 300.4l1-1.3-1 3.1-.9.9zM107.6 300.2l1 2.1-1 2.5-1.2-1.6z"/><path fill="#1e9ce7" d="M113.4 300.6l1 2.7-1-.9-.9-3.2zM109.3 300.2l1.1 3.1-1.1 1.6-1.1-2.6z"/><path fill="#2d8af6" d="M99.6 307l1.1-1-1.1 2.6-1.1.7zM101.3 307.4l.9-.2-1.3 3.2-.9 0zM114.7 307.5l1.3 3.3-.9.2-1.3-3.4zM113.9 307.6l1.4 3.4-1 .3-1.4-3.3zM103.7 307.8l1.1.6-1.5 3.1-.9-.5zM107.4 308.4l1.2 1.9-1.3 2.1-1.2-1.5z"/><path fill="#15aedb" d="M106 295.2l.9-.4-1 3.7-.9.1zM106.8 294.8l.9.9-1 3.5-.9-.7z"/><path fill="#15abdb" d="M110.8 295.4l1 3.4-.9-.2-1-3.7zM110 294.9l1 3.7-.9.6-1.1-3.4z"/><path fill="#1ba2e4" d="M112.6 299.2l.9 3.2-.9-.5-1-3.5zM110.1 298.8l1.1 3.5-1 1.1-1.1-3.2z"/><path fill="#2496ed" d="M114.3 302.9l1.1 2.9-1-.6-1.1-3.2z"/><path fill="#2a8af3" d="M116.2 306.4l1.2 2.6-1-.6-1.2-3zM102.1 307.2l1 .2-1.4 3.2-1-.2zM102.9 307.4l1 .4-1.3 3.2-1.1-.4z"/><path fill="#396cf6" d="M123.1 314.4l1.8 2.2-1.2-.2-1.9-2.5z"/><path fill="#2a8df0" d="M115.3 305.4l1.2 3-.9-.4-1.3-3.2z"/><path fill="#219ce7" d="M104.2 301.4l.9 0-1.1 3.4-.9 0zM105 301.4l.9.4-1.1 3.4-.9-.4z"/><path fill="#2199e7" d="M112.6 301.5l1.1 3.4-.9.1-1.1-3.6zM111.8 301.4l1.1 3.6-.9.4-1.1-3.5z"/><path fill="#307ef6" d="M116.6 310.4l1.7 3.1-.9.1-1.7-3.2z"/><path fill="#3672f6" d="M113.1 315.4l1.7 2.7-1.2.9-1.7-2.5z"/><path fill="#484eea" d="M132.7 325.4l2.9 3.4-1.3 0-2.9-3.4z"/><path fill="#4239cc" d="M75.4 333.9l1.4.3-3.9 3.8-1.3-.3zM87.7 338l1.3.8-3.8 3.6-1.3-.7z"/></g></g>
<path d="M31.4 335.1 L108.4 361.9 L185.4 335.1" fill="none" stroke="#1a1a1a" stroke-width="2.3" stroke-linejoin="miter"/>
<circle cx="108.6" cy="292.3" r="3.3" fill="#000"/>
<path d="M32.6 335.2 V233.2" stroke="#1a1a1a" stroke-width="2.7"/>
<path d="M31.6 334.2 h-3 M31.6 303.5 h-3 M31.6 272.8 h-3 M31.6 242.1 h-3" stroke="#1a1a1a" stroke-width="2"/>
<text x="25.7" y="337.8" text-anchor="end" style="font-family:'Liberation Sans',sans-serif;font-size:15px" fill="#262626">0</text>
<text x="25.7" y="307.1" text-anchor="end" style="font-family:'Liberation Sans',sans-serif;font-size:15px" fill="#262626">1</text>
<text x="25.7" y="276.4" text-anchor="end" style="font-family:'Liberation Sans',sans-serif;font-size:15px" fill="#262626">2</text>
<text x="25.7" y="245.7" text-anchor="end" style="font-family:'Liberation Sans',sans-serif;font-size:15px" fill="#262626">3</text>
<text transform="translate(11.4,284.6) rotate(-90)" text-anchor="middle" style="font-family:'Liberation Sans',sans-serif;font-size:14.6px" fill="#262626">Visibility (<tspan font-style="italic">d</tspan>′)</text>
<text transform="translate(61.4,362.5) rotate(19.3)" text-anchor="middle" style="font-family:'Liberation Sans',sans-serif;font-size:14.6px" fill="#262626">Vert.</text>
<text transform="translate(155.2,362.5) rotate(-19.3)" text-anchor="middle" style="font-family:'Liberation Sans',sans-serif;font-size:14.6px" fill="#262626">Hori.</text>
<g><g opacity="0.80" shape-rendering="crispEdges"><path fill="#3f33bd" d="M296 319.2l4.2-.6-.8.2-4.3.9z"/></g>
<g opacity="0.80" shape-rendering="crispEdges"><path fill="#3f33bd" d="M294.4 319.7l4.1-.7.9-.2-4.3.9z"/></g>
<g opacity="0.80" shape-rendering="crispEdges"><path fill="#3f30ba" d="M296.9 318.9l4.3-.8-1 .5-4.2.6z"/><path fill="#3f33bd" d="M294.4 319.7l4.1-.8-.7.4-4.3.8z"/></g>
<g opacity="0.80" shape-rendering="crispEdges"><path fill="#4239c9" d="M296.5 319.7l4-1.6.8-.3-3.9 1.6z"/></g>
<g opacity="0.80" shape-rendering="crispEdges"><path fill="#3f30ba" d="M356.9 318.6l1 .3-4.3-.6-1-.3zM357.9 318.9l.9.3-4.2-.6-1-.3zM358.8 319.2l1 .5-4.4-.9-.8-.2z"/><path fill="#3f30bd" d="M359.8 319.6l.7.3-4.1-.8-1-.4z"/><path fill="#3f33bd" d="M360.5 319.8l.8.4-4.2-.8-.7-.4zM293.5 320l4.3-.8-.9.4-4.2.8zM292.7 320.3l4.2-.8-.8.4-4.2.8z"/><path fill="#4239c9" d="M296.5 319.7l4-1.6-.9.4-3.9 1.5z"/></g>
<g opacity="0.80" shape-rendering="crispEdges"><path fill="#4239c9" d="M353.5 317.9l.9.3 3.9 1.5-.8-.2zM294.9 320.3l3.9-1.6.8-.2-3.9 1.5z"/><path fill="#2496ea" d="M315.8 303.6l1.6-2.8.9-1.2-1.6 3.2z"/><path fill="#1e9fe4" d="M317.2 301.2l1.5-2.7.8-1.5-1.4 3z"/></g>
<g opacity="0.80" shape-rendering="crispEdges"><path fill="#3f27a8" d="M327.4 307.4l4.4 1.7-4.4 1.7-4.4-1.7zM323.2 308.9l4.4 1.7-4 1.4-4.4-1.6zM331.6 308.9l4 1.5-4.4 1.6-4-1.4zM319.3 310.2l4.5 1.6-3.7 1.2-4.5-1.4zM335.5 310.2l3.7 1.4-4.5 1.4-3.7-1.2zM327.4 310.4l4 1.4-4 1.3-4-1.3z"/><path fill="#3f27ab" d="M315.7 311.4l4.5 1.4-3.2 1.2-4.5-1.4zM339.1 311.4l3.2 1.2-4.5 1.4-3.2-1.2zM323.6 311.6l4 1.3-3.7 1.2-4.1-1.3zM331.2 311.6l3.8 1.2-4.1 1.3-3.7-1.2zM342.2 312.4l3 1.2-4.5 1.2-3-1zM312.6 312.4l4.5 1.4-3 1-4.5-1.2zM319.9 312.6l4.2 1.3-3.3.9-4.1-1zM334.9 312.6l3.2 1.2-4.1 1-3.3-.9zM309.6 313.4l4.6 1.2-2.6.8-4.6-1.1zM345.2 313.4l2.6.9-4.6 1.1-2.6-.8z"/><path fill="#3f2aab" d="M327.4 312.7l3.7 1.2-3.7.9-3.7-.9z"/><path fill="#3f2aae" d="M316.8 313.6l4.1 1-3 .8-4.1-.8zM338 313.6l3 1-4.1.8-3-.8zM323.8 313.7l3.8.9-3.3.6-3.8-.6zM331 313.7l3.3.9-3.8.6-3.3-.6zM307 314.1l4.6 1.1-2.4.8-4.6-.9zM347.8 314.1l2.4 1-4.6.9-2.4-.8zM304.6 315l4.6.8-2.1.6-4.6-.7zM350.2 315l2.1.7-4.6.7-2.1-.6zM302.5 315.6l4.6.7-1.9.6-4.6-.6zM352.3 315.6l1.9.7-4.6.6-1.9-.6zM300.6 316.2l4.6.6-1.7.5-4.6-.5zM354.2 316.2l1.7.6-4.5.5-1.8-.5z"/><path fill="#3f2ab1" d="M313.8 314.4l4.2.8-2.6.5-4.2-.5zM341 314.4l2.6.8-4.2.5-2.6-.5zM298.9 316.7l4.6.5-1.5.5-4.6-.4zM355.9 316.7l1.5.6-4.6.4-1.4-.5zM297.4 317.2l4.6.4-1.4.5-4.6-.4zM357.4 317.2l1.4.5-4.6.4-1.4-.5zM296 317.6l4.6.4-1.2.3-4.6-.2z"/><path fill="#3f2db1" d="M320.6 314.4l3.8.6-2.9.5-3.9-.3zM334.2 314.4l3 .8-3.8.3-3-.5zM311.2 315.1l4.2.5-2.3.5-4.3-.3zM343.6 315.1l2.4.7-4.3.3-2.3-.5z"/><path fill="#3f2db4" d="M327.4 314.4l3.4.6-3.4.4-3.4-.4zM308.8 315.7l4.3.3-2.2.4-4.2-.1zM346 315.7l2.1.6-4.2.1-2.2-.4zM306.7 316.2l4.2.1-1.9.3-4.2.2zM348.1 316.2l1.9.6-4.2-.2-1.9-.3z"/><path fill="#3f2db7" d="M317.6 315.1l3.9.2-2.6.4-3.9-.1zM337.2 315.1l2.6.5-3.9.1-2.5-.4z"/><path fill="#3f30b7" d="M330.7 314.8l3.1.5-3.7-.1-2.9 0zM324 314.8l3.6.4-2.8 0-3.7.1zM304.8 316.8l4.2-.2-1.7.3-4.2.3zM350 316.8l1.8.4-4.3-.3-1.7-.3zM303.1 317.2l4.2-.3-1.5.3-4.2.4zM351.8 317.2l1.4.4-4.2-.4-1.5-.3z"/><path fill="#3f30ba" d="M315 315.6l3.9 0-2.3 0-3.9.4zM339.8 315.6l2.3.4-3.9-.4-2.3 0zM301.6 317.6l4.2-.4-1.3.2-4.3.6zM353.2 317.6l1.4.4-4.2-.4-1.4-.4zM300.2 318l4.3-.6-1.2.3-4.3.6zM354.6 318l1.2.3-4.3-.6-1.1-.1zM299 318.3l4.3-.6-1.1.3-4.3.6zM355.8 318.3l1.1.3-4.3-.6-1.1-.3zM297.9 318.6l4.3-.6-1 .2-4.3.7z"/><path fill="#4239c9" d="M359.1 320.1l.8.3-3.9-1.5-.8-.4zM293.9 320.7l4-1.6-1 .5-4 1.5zM292.9 321.1l4-1.5-1.1.5-4 1.6z"/><path fill="#219ce7" d="M317.2 301.2l1.5-2.7-.9 1.9-1.6 2.4z"/></g>
<g opacity="0.80" shape-rendering="crispEdges"><path fill="#3f33bd" d="M318.5 315.6l3.6-.8 2.7.4-3.7.1zM330.1 315.2l2.6-.4 3.6.8-2.5-.3zM310.5 316.3l3.9-.7 2.2 0-3.9.4zM338.2 315.6l2.2 0 3.9.7-2.2-.3z"/><path fill="#4233c0" d="M324.4 315.2l3-.6 3.1.6-3.2.2zM308.6 316.6l3.9-.9 1.9 0-3.9.7zM340.4 315.7l2 0 3.8.9-1.9-.2z"/><path fill="#4236c3" d="M316.2 315.6l3.6-.9 2.3.3-3.6.7zM332.7 315l2.4-.3 3.5.9-2.3.2zM306.9 317l4-1.1 1.6-.1-3.9.9zM305.4 317.3l3.9-1.3 1.6-.1-4 1.1zM343.9 315.9l1.6.2 3.9 1.2-1.5-.3z"/><path fill="#4236c6" d="M321.7 315l3.2-.8 2.7.6-3.1.6zM327.2 314.8l2.7-.6 3.2.8-2.7.4zM304.1 317.5l3.9-1.3 1.3-.2-3.9 1.3zM345.5 316.1l1.3.1 4 1.5-1.4-.4z"/><path fill="#4239c6" d="M314 315.7l3.6-1.1 2.2.3-3.6.8zM335.1 314.9l2.1-.3 3.6 1.1-2.2 0zM302.9 317.8l3.9-1.3 1.2-.3-3.9 1.3zM346.8 316.2l1.2.3 3.9 1.3-1.1-.1zM301.8 318.1l4-1.5 1-.1-3.9 1.3zM348 316.5l1.1.2 3.9 1.4-1.1-.3z"/><path fill="#4236c0" d="M342.4 315.7l1.5.2 4 1.1-1.7-.3z"/><path fill="#423ccc" d="M319.4 314.9l3.1-1.1 2.5.6-3.2.8zM329.8 314.4l2.5-.6 3.2 1.1-2.5.3z"/><path fill="#423ccf" d="M324.6 314.4l2.8-.9 2.8.9-2.8.6zM310.5 316.1l3.5-1.6 1.8.1-3.7 1.3zM339.1 314.6l1.7-.1 3.5 1.6-1.5-.2z"/><path fill="#4239cc" d="M312.1 315.9l3.7-1.4 1.8.3-3.6 1zM337.2 314.8l1.9-.3 3.7 1.4-2-.1z"/><path fill="#423fd2" d="M317.2 314.8l3.2-1.3 2.2.5-3.1 1.1zM332.2 314l2.3-.5 3.1 1.3-2.2.3zM308.9 316.2l3.6-1.7 1.5.1-3.5 1.6zM340.8 314.6l1.6 0 3.5 1.7-1.6-.1zM307.6 316.4l3.6-1.7 1.3-.1-3.6 1.6zM342.4 314.7l1.2.1 3.6 1.6-1.3-.1z"/><path fill="#4542d5" d="M327.2 313.7l2.6-.8 2.8 1.1-2.6.6zM322.2 314l2.8-1.1 2.6.8-2.8.9zM305.4 316.8l3.4-1.8 1.1-.2-3.5 2zM344.9 314.9l1.1.2 3.5 1.8-1.1-.2zM358.3 320l1.1.5-3.5-1.7-1.1-.6zM295.4 320.3l3.5-1.8-1.1.6-3.7 1.8z"/><path fill="#4542d8" d="M315.4 314.8l3.1-1.6 2 .5-3.3 1.3zM334.4 313.7l1.9-.5 3.2 1.6-2 .2zM304.4 317l3.4-1.8 1-.2-3.4 1.8zM346 315.1l1 .2 3.5 1.8-1-.2zM303.4 317.3l3.5-1.8.9-.3-3.4 1.8zM347 315.3l.9.2 3.6 1.9-1-.3zM302.5 317.5l3.6-1.9.8-.1-3.5 1.8zM347.9 315.5l.8.2 3.6 2-.8-.3zM301.7 317.8l3.5-2 .9-.2-3.6 1.9zM348.7 315.7l.9.3 3.5 1.9-.8-.2zM300.9 318l3.5-1.9.8-.3-3.5 2zM349.6 316l.8.2 3.5 1.9-.8-.2zM300.1 318.3l3.5-1.8.8-.4-3.5 1.9zM350.4 316.2l.8.3 3.6 1.9-.9-.3zM299.2 318.7l3.6-2 .8-.2-3.5 1.8zM351.2 316.5l.8.4 3.6 1.8-.8-.3zM298.4 318.9l3.6-1.9.8-.3-3.6 2zM352 316.9l.8.3 3.6 1.9-.8-.4zM297.5 319.3l3.5-1.8 1-.5-3.6 1.9zM352.8 317.2l1 .5 3.5 1.8-.9-.4zM296.5 319.8l3.5-1.9 1-.4-3.5 1.8zM295.4 320.3l3.5-1.8 1.1-.6-3.5 1.9z"/><path fill="#4545de" d="M329.6 313.1l2.2-.7 3 1.3-2.3.5zM320.1 313.7l2.9-1.3 2.2.7-2.9 1.1zM312.1 314.8l3.3-1.8 1.5.2-3.3 1.7zM337.9 313.2l1.5-.2 3.4 1.9-1.6 0z"/><path fill="#4545e1" d="M324.8 313.1l2.6-1 2.6 1-2.6.8z"/><path fill="#4545db" d="M313.6 314.8l3.3-1.7 1.7.2-3.2 1.6zM336.2 313.3l1.7-.2 3.3 1.7-1.7.1z"/><path fill="#4239c9" d="M300.8 318.3l4-1.5 1-.2-4 1.5zM349.1 316.7l1 .2 3.9 1.5-1-.3zM299.8 318.7l4-1.6 1-.3-4 1.5zM350.1 316.9l1 .3 3.9 1.5-1-.3zM299 318.9l3.9-1.6.9-.2-4 1.6zM351.1 317.2l.8.3 3.9 1.4-.8-.2zM298.1 319.1l4-1.5.8-.3-3.9 1.6zM351.9 317.5l.8.2 4.1 1.5-1-.3zM297.4 319.4l3.9-1.6.8-.2-4 1.5zM352.7 317.7l.8.2 4 1.6-.7-.3zM360.9 320.8l1 .4-4-1.4-1-.5z"/><path fill="#4548e4" d="M331.7 312.6l2-.6 2.9 1.4-1.9.5zM318.2 313.4l2.9-1.5 2 .7-2.9 1.3zM309.5 315l3.3-1.9 1.3 0-3.3 1.9zM340.7 313.2l1.3-.1 3.3 2-1.3 0z"/><path fill="#453fd5" d="M306.4 316.7l3.5-2 1.3 0-3.6 1.7zM343.6 314.8l1.3 0 3.5 1.9-1.2-.3z"/><path fill="#454be7" d="M322.7 312.6l2.6-1.2 2.3.9-2.7 1zM327.2 312.3l2.4-.9 2.5 1.2-2.3.7zM308.4 315.2l3.4-2 1 0-3.3 1.9zM307.4 315.4l3.4-1.9 1-.2-3.4 1.9zM343.1 313.5l1-.1 3.3 2.1-1-.1zM306.5 315.7l3.3-2.2 1 0-3.4 1.9zM344.1 313.5l.9.1 3.3 2.1-.9-.1zM345 313.7l.8.1 3.3 2.1-.8-.1zM345.8 313.9l.9.3 3.3 2-.9-.3zM348.4 314.7l.7.4 3.3 2-.8-.4zM349.1 315.1l.9.4 3.2 1.9-.8-.3zM350 315.5l.9.4 3.3 2-1-.5zM299.6 318.1l3.3-2 1-.5-3.3 2.2zM350.9 315.9l1 .6 3.3 1.9-1-.5zM298.5 318.7l3.3-2 1.1-.6-3.3 2z"/><path fill="#454bea" d="M333.6 312.1l1.9-.4 2.8 1.7-1.8.2zM316.5 313.4l2.9-1.8 1.8.4-2.9 1.6zM305.7 315.8l3.3-2.1.8-.1-3.3 2.2zM304.8 316l3.3-2.1.9-.1-3.3 2.1zM304 316.3l3.3-2.2.8-.1-3.3 2zM346.7 314.2l.8.3 3.3 1.9-.8-.2zM303.2 316.7l3.3-2.3.8-.2-3.3 2.1zM347.5 314.5l.9.1 3.2 2.1-.8-.3zM302.4 316.9l3.4-2.1.7-.3-3.3 2.3zM301.6 317.2l3.2-2.1 1-.3-3.4 2.1zM300.6 317.7l3.3-2.1.9-.4-3.2 2z"/><path fill="#4548e1" d="M310.8 314.9l3.3-1.9 1.3.1-3.3 1.8zM339.4 313.1l1.3 0 3.3 1.9-1.2 0z"/><path fill="#4851f0" d="M320.8 312.1l2.7-1.3 2 .8-2.7 1.2zM313.7 313.3l3.1-1.9 1.2.2-3 1.8zM336.8 311.6l1.3-.2 3 2-1.3 0z"/><path fill="#484ef0" d="M329.4 311.6l1.9-.8 2.7 1.4-2 .6z"/><path fill="#4851f3" d="M325.1 311.6l2.3-1.1 2.4 1.1-2.4.9zM312.4 313.4l3-2 1.4.1-3.1 1.9zM338.1 311.5l1.3-.1 3 2-1.3.1z"/><path fill="#484eed" d="M315 313.3l2.9-1.8 1.6.2-2.9 1.8zM335.4 311.8l1.5-.3 2.9 1.8-1.6.2z"/><path fill="#4854f3" d="M319.1 311.9l2.7-1.5 1.8.6-2.7 1.3zM331.2 310.9l1.8-.5 2.8 1.6-1.9.4zM311.4 313.5l2.9-2.1 1.1.1-3 2zM339.4 311.5l1.1 0 3 2.2-1.1-.2zM310.4 313.7l2.9-2.2 1 0-2.9 2.1zM340.5 311.6l1 0 3 2.1-1 .1zM341.5 311.7l.9.1 3 2.1-.9-.1zM347.4 313.6l1 .4 2.9 2.1-.9-.3zM348.4 314.1l1 .5 2.9 2.1-1-.5zM349.4 314.7l1 .8 3 1.8-1.1-.5zM301.4 316.9l3-2.1 1.1-.5-3 2.1zM301.4 316.9l3-2-1.2.8-3 2z"/><path fill="#454be4" d="M342 313.2l1.1.3 3.3 1.8-1.1-.1zM351.9 316.5l1.1.6 3.3 1.9-1.1-.6z"/><path fill="#4557f3" d="M323.2 311l2.4-1.3 2 1-2.3 1.1zM327.2 310.7l2.1-1 2.3 1.3-1.9.8zM317.6 311.8l2.7-1.8 1.6.5-2.7 1.5zM332.9 310.5l1.6-.5 2.7 1.8-1.5.3zM308.6 314l3-2.2.8-.1-3 2.2zM307.7 314.2l3.1-2.2.8-.1-3 2.2zM306.9 314.4l3-2.2.9-.1-3.1 2.2zM306.1 314.7l3-2.2.8-.2-3 2.2zM305.4 315l2.9-2.2.8-.2-3 2.2zM304.4 315.4l3.1-2.2.8-.3-2.9 2.2zM303.5 315.8l3-2.2 1-.3-3.1 2.2z"/><path fill="#425af6" d="M321.5 310.7l2.3-1.6 2 .8-2.5 1.3zM329.1 309.9l1.8-.8 2.4 1.6-1.8.5z"/><path fill="#425df6" d="M325.4 309.9l2-1.2 2.1 1.2-2.1 1zM315 311.7l2.7-2.1 1.3.3-2.5 1.9zM335.8 309.9l1.3-.2 2.7 2-1.4.1zM313.9 311.7l2.9-2.1 1 .1-2.7 2.1zM337 309.8l1.2-.1 2.7 2.1-1.1 0zM338.1 309.8l1 0 2.8 2.1-1 0zM345.9 312.3l1 .5 2.9 2.1-1-.5z"/><path fill="#455af6" d="M316.4 311.7l2.5-1.9 1.5.3-2.7 1.8zM334.4 310.1l1.5-.3 2.6 1.9-1.4.2z"/><path fill="#4260f6" d="M320 310.3l2.4-1.7 1.6.6-2.4 1.6zM330.8 309.2l1.7-.6 2.3 1.7-1.6.5zM312.9 311.8l2.9-2.2 1 .1-2.9 2.1zM312 311.9l2.8-2.2 1 0-2.9 2.2zM339.1 309.9l.9 0 2.8 2.2-.9-.1zM340 310l.9 0 2.7 2.3-.8-.1zM340.9 310.1l.8.3 2.8 2.1-.9-.1zM341.7 310.5l.8 0 2.8 2.2-.8-.1zM342.5 310.6l.9.2 2.7 2.2-.8-.2zM343.4 310.8l.7.4 2.8 2.2-.8-.3zM344.1 311.3l.9.3 2.8 2.2-.9-.3zM345 311.7l.9.5 2.9 2.1-1-.4zM305.1 314.5l2.8-2.1 1-.6-2.8 2.2zM304 315.1l2.8-2 1.1-.6-2.8 2.1z"/><path fill="#3f63f6" d="M323.6 309.3l2.1-1.4 1.9 1-2 1.2zM327.2 308.9l1.9-1 2.1 1.4-1.9.8zM318.6 310.1l2.4-1.9 1.5.5-2.4 1.7zM332.4 308.7l1.4-.5 2.4 1.9-1.5.3zM309.5 312.5l2.8-2.3.8-.1-2.7 2.3zM308.7 312.8l2.8-2.3.8-.2-2.8 2.3zM307.9 313.1l2.9-2.3.7-.2-2.8 2.3z"/><path fill="#4554f3" d="M309.4 313.8l3-2.2.9 0-2.9 2.2zM342.4 311.9l.8.1 3 2.1-.8-.1zM343.2 312.1l.9.1 3 2.2-.9-.2zM344.1 312.3l.8.1 3 2.3-.8-.2zM344.9 312.5l.8.2 3.1 2.2-.9-.1zM345.7 312.8l.8.3 3 2.2-.7-.3zM346.5 313.2l.9.3 3 2.2-.9-.3zM302.5 316.3l3-2.1 1-.5-3 2.2z"/><path fill="#3c66f6" d="M322.1 308.9l2.1-1.7 1.7.9-2.2 1.4zM328.9 308.1l1.6-.9 2.3 1.7-1.8.6zM334.9 308.1l1.2-.2 2.4 2.1-1.2.1zM344.8 311l1.1.9 2.5 2.1-1.1-.8z"/><path fill="#3c69f6" d="M325.5 308.1l1.9-1.3 1.9 1.3-1.9 1zM316.4 309.9l2.3-2.1 1.2.2-2.4 2zM315.4 309.9l2.3-2.2 1.1.2-2.3 2.1zM336 308l1.1-.1 2.4 2.2-1.1 0zM337 308l1-.1 2.4 2.3-1 0zM342.9 309.6l.9.6 2.5 2.4-.9-.6zM343.8 310.2l1 .8 2.5 2.2-1-.6zM306.4 313.5l2.5-2.1 1.1-.9-2.5 2.3z"/><path fill="#3f66f6" d="M317.4 309.9l2.4-2 1.3.4-2.4 1.9zM333.7 308.3l1.3-.3 2.4 2-1.3.2z"/><path fill="#3c6cf6" d="M320.7 308.5l2.2-1.9 1.5.7-2.2 1.7zM330.4 307.3l1.5-.6 2.2 1.8-1.4.5zM314.4 310l2.4-2.3 1 .1-2.3 2.2zM313.5 310.1l2.4-2.3 1 0-2.4 2.3zM337.9 308l1 0 2.4 2.3-1 0zM312.7 310.4l2.4-2.5.9 0-2.4 2.3zM338.8 308l.9.2 2.4 2.6-.8-.4zM339.6 308.2l.9.2 2.4 2.5-.9-.1zM311.9 310.6l2.4-2.4.9-.3-2.4 2.5zM340.4 308.4l.8.4 2.6 2.4-1-.3zM310.4 311.2l2.4-2.4.8-.4-2.5 2.5zM341.2 308.8l.8.4 2.5 2.4-.7-.4zM309.4 311.6l2.4-2.4 1-.4-2.3 2.4zM342 309.2l1 .4 2.4 2.4-1-.4zM308.5 312.1l2.5-2.3.9-.6-2.5 2.4zM307.5 312.8l2.5-2.3 1-.7-2.5 2.3z"/><path fill="#396ff6" d="M324 307.4l1.9-1.5 1.7 1.1-1.9 1.3zM327.2 307l1.7-1.1 1.9 1.5-1.7.9zM319.5 308.2l2.2-2 1.3.5-2.2 1.9zM331.8 306.8l1.3-.4 2.2 1.9-1.3.3z"/><path fill="#3f60f6" d="M311.2 312.1l2.7-2.3.9 0-2.8 2.2zM310.4 312.3l2.7-2.3.8-.1-2.7 2.3zM307.1 313.5l2.7-2.3 1-.3-2.9 2.3zM306.1 313.9l2.8-2.2.9-.5-2.7 2.4z"/><path fill="#3675f6" d="M328.7 306l1.6-.9 1.9 1.9-1.6.6zM322.6 306.9l2-1.9 1.5 1.1-1.9 1.5zM325.7 306.1l1.7-1.4 1.7 1.4-1.7 1.1zM317.4 308l2.3-2.3 1.1.2-2.3 2.3zM316.5 308l2.2-2.4 1.1.2-2.3 2.3zM335.1 305.9l1-.1 2.2 2.4-1 .1zM336 305.8l1 0 2.2 2.6-1-.1zM340.1 306.9l1 .6 2.2 2.5-1-.4zM341 307.5l1 .7 2.2 2.4-1-.6zM309.6 310.9l2.2-2.4 1.1-.8-2.2 2.5zM308.5 311.8l2.3-2.3 1.1-1-2.3 2.4z"/><path fill="#3972f6" d="M318.4 308.1l2.3-2.3 1.1.5-2.2 2zM333 306.5l1.2-.5 2.2 2.2-1.2.2zM342.9 309.1l1.1 1 2.3 2.2-1.1-.9zM307.4 312.8l2.2-2.1 1.2-1.2-2.3 2.3z"/><path fill="#3678f6" d="M330.1 305.2l1.5-.8 1.8 2.3-1.3.4zM321.4 306.5l1.9-2.1 1.5.7-2.1 1.9zM315.6 308.2l2.2-2.6 1 0-2.2 2.5zM314.8 308.3l2.2-2.6.9-.1-2.2 2.6zM336.9 305.8l.9.2 2.2 2.6-.9-.2zM337.7 306l.9.2 2.2 2.6-.9-.2zM314 308.6l2.2-2.7.9-.2-2.2 2.6zM313.2 308.8l2.2-2.6.9-.3-2.2 2.7zM338.5 306.2l1 .3 2.1 2.7-.9-.4zM312.4 309.2l2.3-2.6.8-.4-2.2 2.6zM339.4 306.5l.8.4 2.2 2.7-.9-.4zM311.5 309.6l2.2-2.5 1.1-.5-2.3 2.6zM310.6 310.2l2.2-2.5 1-.6-2.2 2.5z"/><path fill="#337bf6" d="M327.2 304.9l1.6-1.3 1.7 1.7-1.6 1zM324.4 305.2l1.6-1.7 1.6 1.4-1.7 1.4zM331.4 304.5l1.1-.5 2 2.3-1.2.5zM320.4 306.1l1.9-2.3 1.2.7-2 2.1zM341.2 307l1.2 1.4 2 2.1-1.2-1z"/><path fill="#3672f6" d="M334.1 306.1l1.1-.3 2.2 2.4-1.1.1zM341.9 308.2l1 .9 2.3 2.3-1-.8z"/><path fill="#3081f6" d="M328.6 303.7l1.4-1.1 1.8 2.1-1.5.8zM323.1 304.7l1.7-2.1 1.4 1-1.6 1.8zM318.4 306l2-2.6 1 .1-1.9 2.6zM333.4 303.6l1.1-.2 1.9 2.8-1 0zM334.4 303.4l.9 0 2 2.8-1 0zM317.5 306l2-2.8 1 .2-2 2.6zM338.4 304.5l1.1.7 1.9 2.7-1-.6zM339.4 305.2l.9.8 2 2.6-1-.7zM312.5 308.1l2-2.6 1-.8-2 2.8zM311.5 308.9l2-2.4 1.1-1-2 2.6z"/><path fill="#3084f6" d="M325.8 303.7l1.6-1.6 1.6 1.7-1.6 1.3zM335.2 303.4l.9.1 2 2.9-.9-.2zM316.7 306.1l2-2.9.9 0-2 2.8zM336 303.5l.9.2 2 2.9-.9-.2zM315.9 306.3l2-2.9.9-.2-2 2.9zM315.1 306.6l2-2.9.9-.3-2 2.9zM336.8 303.7l.9.3 2.1 2.9-1-.3zM337.6 304l.9.5 2 2.8-.8-.4zM314.4 307l1.9-2.9.9-.4-2 2.9zM313.4 307.5l2-2.8 1-.6-1.9 2.9z"/><path fill="#337ef6" d="M319.4 306.1l1.9-2.6 1.1.4-1.9 2.3zM332.4 304.1l1.1-.5 2 2.5-1.1.3zM340.2 306l1.1 1 2 2.5-1.1-.9zM310.4 309.9l2.1-2.2 1.1-1.2-2 2.4z"/><path fill="#396cf6" d="M311.1 310.9l2.4-2.5.9-.2-2.4 2.4z"/><path fill="#2d87f6" d="M322 304.1l1.7-2.3 1.3.9-1.7 2.1zM312.1 308.1l1.8-2.3 1.2-1.4-1.8 2.5z"/><path fill="#2d84f6" d="M329.8 302.7l1.3-.8 1.7 2.4-1.1.5z"/><path fill="#2d8af6" d="M324.6 302.9l1.6-2.1 1.4 1.5-1.6 1.6zM327.2 302.3l1.4-1.4 1.6 2-1.4 1.1zM321 303.8l1.7-2.6 1.2.7-1.7 2.3zM330.9 302l1.2-.6 1.7 2.5-1.2.5zM338.8 303.7l1 1.3 1.8 2.4-1.1-1z"/><path fill="#2a8df3" d="M323.5 302.1l1.6-2.4 1.3 1.2-1.6 2.1zM328.4 301l1.3-1.2 1.6 2.4-1.3.8zM319.2 303.6l1.8-3 1 .2-1.8 3zM332.8 300.9l1-.1 1.8 3-.9 0zM333.7 300.8l.9 0 1.8 3.1-.9-.1zM336.2 301.4l.8.5 1.7 3-.8-.5zM315.1 305.1l1.8-2.7.9-.9-1.7 3zM337 301.9l.9.8 1.9 2.9-1.1-.7zM314.2 305.9l1.8-2.7 1-.8-1.8 2.7z"/><path fill="#2790f0" d="M326 301l1.4-1.8 1.4 1.9-1.4 1.4zM329.5 299.9l1.2-1 1.6 2.8-1.2.6zM317.6 303.8l1.8-3.1.9-.2-1.8 3.1zM316.8 304.1l1.9-3.1.7-.3-1.7 3.1zM316 304.5l1.8-3 1-.5-1.9 3.1zM337.5 301.4l1 1.5 1.5 2.5-1-1.3z"/><path fill="#2a8af3" d="M320.1 303.8l1.8-3 1 .4-1.8 2.7zM331.9 301.4l1-.5 1.9 2.9-1.1.2zM337.9 302.7l.9 1 1.7 2.7-.8-.8zM313.2 306.9l1.8-2.5 1-1.2-1.7 2.7z"/><path fill="#2793f0" d="M322.5 301.5l1.6-2.7 1.2 1-1.6 2.4z"/><path fill="#2496ed" d="M324.9 300l1.4-2.3 1.3 1.7-1.4 1.8zM327.2 299.4l1.4-1.7 1.3 2.4-1.3 1.2zM321.6 301.2l1.6-3 1.1.6-1.6 2.8z"/><path fill="#2493ed" d="M330.5 298.9l1.1-.5 1.6 2.9-1.1.5zM336.5 300.1l1 1.3 1.5 2.7-.9-1z"/><path fill="#2a8df0" d="M318.4 303.6l1.8-3.1.9.1-1.8 3zM334.5 300.8l1 .2 1.7 3.1-.9-.2zM335.5 301l.7.4 1.8 3-.9-.3z"/><path fill="#2199e7" d="M323.9 299.1l1.4-2.6 1.2 1.3-1.4 2.3zM328.4 297.8l1.2-1.3 1.3 2.7-1.2 1zM319.2 301.1l1.5-3.3 1.1-.1-1.8 3.2zM318.5 301.4l1.5-3.3.8-.3-1.6 3.3zM336.2 298.9l1 1.9 1.5 2.5-1-1.5z"/><path fill="#219ce7" d="M326.1 297.9l1.3-2 1.4 2-1.4 1.7z"/><path fill="#2496ea" d="M320.7 301l1.6-3.2 1.1.4-1.6 3zM331.4 298.4l1.2-.4 1.5 3.2-1.1.1zM335.6 299.1l.9 1 1.6 3-.9-.8z"/><path fill="#1e9fe4" d="M323 298.6l1.4-3.1 1.1 1.1-1.4 2.6zM329.4 296.5l1-.9 1.4 3.2-1.1.5zM335.3 297.4l.9 1.5 1.5 2.9-1.1-1.3z"/><path fill="#1ba2e1" d="M325.1 296.8l1.3-2.6 1.2 1.9-1.3 2zM327.2 296l1.2-1.6 1.4 2.4-1.2 1.3zM322.1 298.2l1.5-3.3 1 .6-1.4 3.1zM321.5 298.1l1.2-3.5 1.1.3-1.5 3.3zM331.1 295.1l1-.3 1.3 3.5-.8.1zM333.6 295.4l1 .8 1.2 3.3-.9-.7zM318.1 300l1.3-3 1-1.1-1.3 3.2z"/><path fill="#2199ea" d="M319.9 300.9l1.8-3.2.8.1-1.7 3.2zM332.5 298l.7-.1 1.7 3.3-1 0zM333.2 297.9l.8.1 1.7 3.4-1-.2zM334 298l.8.4 1.6 3.4-.7-.4zM317.6 301.9l1.6-3.2.8-.6-1.4 3.3zM334.8 298.4l.8.7 1.6 3.2-.8-.5zM316.7 302.8l1.6-3.2.9-.9-1.6 3.2z"/><path fill="#1ba2e4" d="M330.2 295.6l1.1-.5 1.5 3.3-1.2.4zM334.5 296.2l.8 1.2 1.4 3.1-1-1z"/><path fill="#18a8de" d="M324.2 295.8l1.4-2.9 1 1.4-1.3 2.6zM328.2 294.5l1.1-1.5 1.3 2.9-1 1zM318.5 298.9l1.1-2.7 1.1-1.8-1.4 3zM334.2 294.7l.9 2 1.3 2.6-.9-1.5z"/><path fill="#18abdb" d="M326.2 294.4l1.2-2.2 1.2 2.5-1.2 1.6z"/><path fill="#15abdb" d="M323.4 295.3l1.2-3.3 1.2.9-1.4 3zM329.1 293l1.1-.9 1.3 3.4-1.1.5zM319.3 297.4l1.4-3 .8-1.5-1.2 3.4zM333.3 293.2l1 1.5 1.2 3.1-.8-1.2z"/><path fill="#12b1d8" d="M325.4 293.2l1.2-2.8 1 1.9-1.2 2.3zM327.2 292.3l1.1-1.9 1.2 2.9-1.1 1.5zM321.8 295.1l1.2-3.6.9 0-1.2 3.5zM321 295.5l1.2-3.6.9-.4-1.2 3.6z"/><path fill="#1ba5e1" d="M320.6 298.2l1.3-3.5.9-.1-1.2 3.5zM332 294.8l.9.1 1.3 3.5-.9-.1zM319.8 298.5l1.3-3.4.9-.4-1.3 3.5zM332.8 294.9l.9.5 1.3 3.4-.9-.4zM319 299.1l1.3-3.2.9-.8-1.3 3.4zM317.5 300.8l1.1-2 1.1-2.6-1.1 2.7z"/><path fill="#12aed8" d="M322.6 295l1.2-3.5.9.5-1.1 3.3zM330.9 291.6l.9.1 1.2 3.6-.9-.1zM331.7 291.7l.9.5 1.2 3.6-.9-.5zM320.2 296.3l1.2-3.4.9-1-1.2 3.6z"/><path fill="#15aed8" d="M330.1 292.1l.9-.5 1.2 3.6-.9.3zM332.5 292.2l.9 1 1.3 3.4-1-.8z"/><path fill="#12b4d2" d="M324.4 292.4l1.2-3.3 1.2 1.4-1.2 2.8zM328.1 290.4l1.1-1.2 1.2 3.3-1.1.9zM332.3 290.4l1 1.8 1.1 2.9-1-1.5z"/><path fill="#0fb4cf" d="M326.4 290.6l1-2.4 1.1 2.4-1.1 2zM323.7 291.9l1.1-3.5 1 .7-1.2 3.3zM329 289.2l1-.8 1.1 3.6-.9.5zM331.5 289l.9 1.4 1.1 3.2-.9-1zM321.3 293.3l1.1-3.3.9-1.2-1.1 3.5z"/><path fill="#0fb7c9" d="M325.4 289.4l1.2-3 1 1.9-1 2.5zM327.2 288.3l1.1-1.9 1.1 3.1-1.1 1.3zM321.5 292.2l.8-2.6 1.1-2.4-1 3.2zM331.5 287.5l.8 2.4 1.1 2.7-1-1.8z"/><path fill="#0fb4cc" d="M329.9 288.4l.9 0 1.1 3.7-.9-.1zM322.9 291.9l1.1-3.7.9.2-1.1 3.5zM330.7 288.4l.9.6 1.1 3.6-.9-.5zM322.1 292.3l1.1-3.5.9-.6-1.1 3.7z"/><path fill="#0cb7c6" d="M328.1 286.4l1-1.2 1.1 3.6-1 .8zM324.6 288.8l1.1-3.7 1.1 1.3-1.2 3.1zM330.6 285.8l1 1.7.9 3.3-.9-1.4zM322.3 290.4l1-3.2.9-1.6-1 3.6z"/><path fill="#0fbac0" d="M326.4 286.7l1-2.8 1.1 2.7-1.1 2z"/><path fill="#2793ed" d="M314.8 304.8l1.6-2.4 1-1.6-1.6 2.8z"/><path fill="#0cbac3" d="M329 285.2l.9-.2 1 3.8-.9 0zM329.8 285l.9.8 1 3.6-.9-.6z"/><path fill="#0fbac3" d="M323.9 288.6l1-3.8.9.3-1 3.7zM323.1 289.2l1-3.6.9-.8-1 3.8z"/><path fill="#1bbdb4" d="M327.2 284l1-1.9 1.1 3.5-1 1.2zM329.7 282.7l.8 2.3 1.2 2.9-1-1.7z"/><path fill="#1ec0b4" d="M325.5 285.5l1.1-3.4 1 1.9-1 2.8z"/><path fill="#24c0ab" d="M328.1 282.1l.9-.5 1 3.8-.9.2zM324.8 285.2l1-3.7.9.6-1 3.4zM328.9 281.6l.9 1.1 1 3.5-.9-.8z"/><path fill="#2dc69f" d="M326.4 282.4l1-3 1 3-1 1.9z"/><path fill="#0fb4d2" d="M320.5 294.8l1.2-3 .8-1.8-1.1 3.3z"/><path fill="#24c3ab" d="M324 286l1-3.5.9-1-1 3.7z"/><path fill="#3cc993" d="M325.7 281.9l.9-3.7 1 1.2-1 3.1zM327.2 279.4l1-1 .9 3.6-.9.5zM324.9 282.9l.9-3 .9-1.7-.9 3.7zM328.1 278.4l.9 1.6.9 3.1-.9-1.1z"/><path fill="#12b1d5" d="M319.5 296.6l1.1-2.5 1.1-2.3-1.1 3z"/><path fill="#1ec0b1" d="M323.2 287.6l1.1-2.8.8-2.3-1 3.5z"/><path fill="#51c97e" d="M326.4 278.5l1-3.1 1 3.3-1 1.1z"/></g>
<g opacity="0.80" shape-rendering="crispEdges"><path fill="#3f2ab1" d="M358.8 317.6l1.2.5-4.6.2-1.2-.3zM360 318.1l1.1.3-4.6.2-1.1-.3zM369.9 321.6l1.1.3-4.6.4-1-.6zM283.8 321.8l4.6.3-1.2.6-4.6-.3zM371 321.8l1.2.6-4.6.4-1.2-.6zM372.2 322.3l1.4.6-4.6.5-1.4-.7zM282.6 322.3l4.6.3-1.4.7-4.6-.4zM373.6 322.8l1.5.8-4.6.4-1.5-.7zM281.2 322.8l4.6.4-1.5.8-4.6-.4zM279.7 323.5l4.6.4-1.7.8-4.6-.5zM275.8 327.4l4.3.3-2.6 1.6-4.3-.6zM378.9 327.4l2.7 1.4-4.1.8-2.8-1.6zM274.4 330.4l3.7.5-3.4 1.9-3.7-.7zM377.5 335.9l4.1 2.4-2.7.8-4.2-2.6zM273.5 337.2l2.7.6-4.5 2.3-2.7-.8zM370.5 340.7l4.6 2.8-1.5.6-4.6-3zM369 341l4.6 3-1.4.5-4.6-3zM367.6 341.4l4.6 3-1.2.5-4.6-3.1zM355.4 345.6l4.6 3.1-1.2.5-4.6-3zM354.2 346.1l4.6 3-1.4.7-4.6-3.1zM352.8 346.6l4.6 3.1-1.5.6-4.5-2.8zM351.5 347.4l4.4 2.8-1.7.8-4.6-2.8zM339.5 348.5l4.1 2.7-2.7 1.3-4.1-2.4zM330.6 349.2l3.7 2.4-3.4 1.6-3.7-2.1zM311.5 350.1l2.7 1.5-4.5 2.2-2.7-1.5z"/><path fill="#3f2db1" d="M294.8 318.1l4.6.2-1.1.3-4.6-.2zM361.1 318.4l1 .4-4.6.1-1-.3zM293.7 318.4l4.6.2-1 .3-4.6-.1zM292.7 318.8l4.6.1-.9.3-4.6-.1zM362.1 318.8l.9.3-4.6.1-.9-.3zM291.8 319.1l4.6.1-.9.4-4.6-.2zM363 319.1l.9.3-4.5.2-1-.4zM363.9 319.4l.9.2-4.7.2-.7-.2zM290.9 319.4l4.6.2-.7.1-4.7-.1zM364.8 319.6l.7.3-4.6.2-.8-.3zM290.1 319.6l4.7.1-.9.3-4.5-.1zM365.5 319.9l.8.3-4.6.1-.8-.2zM289.4 319.9l4.5.1-.8.3-4.6-.1zM366.3 320.2l.8.4-4.6 0-.8-.3zM288.5 320.2l4.6.1-.8.3-4.6 0zM287.7 320.6l4.6 0-.9.3-4.6-.1zM367.1 320.6l.9.2-4.6.2-.9-.4zM286.8 320.8l4.6.1-.9.4-4.6-.2zM368 320.8l.9.3-4.5.2-1-.3zM368.9 321l1 .6-4.5.1-1-.4zM285.9 321.1l4.6.2-1 .4-4.6-.1zM284.9 321.6l4.6.1-1.1.4-4.6-.2zM376.6 326.4l2.4 1.2-4.3.6-2.3-1.5zM377.7 329.2l2.9 1.6-3.8.7-3-2zM274.7 332.4l3.4.4-3.7 2.3-3.4-.6zM376.8 333.4l3.8 2.3-2.9.6-3.9-2.6zM274.5 334.7l3 .5-4.2 2.4-2.9-.7zM374.8 336.4l4.2 2.6-2.5.8-4.1-3zM366.4 341.7l4.6 3.1-1.1.4-4.5-3zM365.4 342.1l4.5 3-1 .5-4.5-3.1zM364.4 342.4l4.5 3.1-.9.4-4.6-3.2zM363.4 342.6l4.6 3.2-.9.4-4.6-3.2zM362.5 342.9l4.6 3.2-.8.3-4.6-3.1zM361.7 343.2l4.6 3.1-.8.5-4.6-3.2zM360.9 343.5l4.6 3.2-.7.3-4.7-3.1zM360.1 343.8l4.7 3.1-.9.4-4.5-3.1zM359.4 344.1l4.5 3.1-.9.4-4.6-3.1zM358.4 344.4l4.6 3.1-.9.4-4.6-3.1zM357.5 344.7l4.6 3.1-1 .5-4.6-3.1zM356.5 345.1l4.6 3.1-1.1.6-4.6-3.1zM324.2 349l3.4 2.1-3.7 2-3.4-1.9zM317.9 349.4l3 1.8-4.1 2-3-1.6z"/><path fill="#3f33bd" d="M361.3 320.1l.8.2-4.2-.7-.8-.2zM291.9 320.6l4.2-.8-.8.4-4.3.8zM291 320.9l4.3-.8-1 .5-4.2.8zM370.6 325.5l2.2 1.3-4-.4-2.1-1.5zM371.5 327.7l2.7 2-3.5-.1-2.7-2.3zM281.1 330.6l3.1-.1-3.4 2.7-3.1-.2zM370.7 331.2l3.5 2.7-2.7.3-3.5-3zM368.9 333.9l3.9 3.1-2.3.4-3.8-3.3zM284.5 335.8l2 .2-4.2 3.2-1.9-.4zM359.5 339.4l4.3 3.5-.9.4-4.2-3.7zM358.7 339.5l4.2 3.7-.8.4-4.2-3.7zM357.9 339.8l4.2 3.7-.8.4-4.2-3.8zM289.5 340.4l1 .3-4.6 3.1-1-.4zM357.1 340l4.2 3.8-.8.4-4.1-3.7zM290.5 340.6l.9.4-4.6 3.1-.9-.4zM356.4 340.4l4.1 3.7-.7.4-4.4-3.8zM291.4 340.9l.9.3-4.6 3.1-.9-.3zM355.4 340.6l4.4 3.8-1 .4-4.2-3.7zM292.3 341.1l.8.4-4.6 3.1-.8-.4zM354.6 341l4.2 3.7-.9.4-4.3-3.6zM293.1 341.4l.8.4-4.5 3.1-.9-.4zM293.9 341.7l.9.4-4.7 3.1-.7-.4zM294.8 342l.7.5-4.6 3-.8-.4zM295.5 342.4l.9.3-4.6 3.1-.9-.4zM296.4 342.6l.9.5-4.6 3.1-.9-.5zM297.3 343l1 .5-4.6 3.1-1-.5zM308.9 343.9l2 1.2-4.1 3-2-1.1zM324.6 344.7l3 2.4-3.4 2.3-3.1-2.2z"/><path fill="#3f30bd" d="M362.1 320.3l.8.4-4.2-.7-.8-.5z"/><path fill="#3f30ba" d="M362.9 320.6l.9.5-4.3-.8-.8-.4zM363.8 321l1 .3-4.3-.6-1-.5zM290.1 321.3l4.2-.8-1 .5-4.2.8zM364.8 321.3l1 .4-4.3-.6-1-.4zM289.1 321.7l4.2-.8-1.1.7-4.2.5zM365.8 321.7l1 .6-4.2-.7-1.1-.6zM288 322.1l4.2-.5-1.2.4-4.2.7zM366.8 322.2l1.2.6-4.2-.6-1.2-.7zM286.8 322.6l4.2-.7-1.2.8-4.4.6zM368 322.7l1.4.6-4.3-.4-1.3-.8zM285.4 323.2l4.4-.6-1.7.8-4.2.6zM282 326.5l4-.6-2.4 1.9-3.9 0zM372.8 326.5l2.3 1.6-3.9 0-2.4-1.9zM280.8 328.9l3.4-.2-3.1 2.3-3.4 0zM280.9 332.8l2.7.1-3.8 2.9-2.7-.4zM371.3 333.8l3.8 2.9-2.4.4-3.9-3.1zM282.3 335.6l2.3.3-4.1 3-2.3-.5zM365.2 337.9l4.2 3.4-1.5.5-4.1-3.5zM363.9 338.2l4.1 3.5-1.3.4-4.1-3.5zM362.6 338.5l4.2 3.5-1 .5-4.3-3.7zM284.3 339.1l1.5.4-4.6 2.9-1.5-.4zM361.5 338.7l4.3 3.7-1 .4-4.3-3.7zM285.8 339.4l1.4.4-4.6 3-1.4-.5zM360.5 339l4.3 3.7-1 .3-4.3-3.5zM287.2 339.7l1.2.4-4.6 3-1.2-.4zM288.4 340l1.1.5-4.6 3-1.1-.5zM353.6 341.4l4.3 3.6-1 .5-4.3-3.7zM352.7 341.7l4.2 3.7-1.2.6-4.2-3.7zM351.6 342.2l4.2 3.7-1.3.6-4.1-3.6zM350.5 342.8l4.1 3.6-1.5.6-4.1-3.5zM349.1 343.4l4.1 3.5-1.5.9-4.2-3.5zM298.3 343.4l1.1.6-4.6 3-1.1-.5zM299.4 343.9l1.2.7-4.6 2.9-1.2-.6zM300.6 344.5l1.4.7-4.6 2.9-1.4-.7zM338.3 344.4l3.8 3.1-2.4 1.4-3.8-3zM302 345.1l1.5.9-4.6 2.8-1.5-.8zM310.8 345l2.3 1.6-4.2 2.6-2.2-1.2zM330.3 344.8l3.5 2.8-3.2 2-3.4-2.5zM318.8 345.2l2.7 2-3.8 2.6-2.7-1.8z"/><path fill="#4239c9" d="M358.3 319.7l.8.4-3.9-1.6-.8-.3zM294.9 320.3l3.9-1.6-.9.4-4 1.6zM359.9 320.4l1 .4-4-1.5-.9-.4zM287.7 324.5l3.6-1-2.2 1.7-3.5.9zM286.5 326.7l3.3-.7-2.9 2.5-3.1.4zM286.7 330.1l2.4-.2-3.4 3.3-2.5-.1zM289.9 332.7l1.9.2-4 3.6-1.7-.3zM358 335l3.9 4-1.1.4-3.9-4.2zM357 335.2l3.9 4.2-1.1.4-3.8-4.3zM356.1 335.5l3.8 4.3-.9.1-3.8-4.2zM355.3 335.7l3.8 4.2-.9.3-3.8-4.3zM354.5 335.9l3.8 4.3-.9.2-3.9-4.2zM353.6 336.2l3.9 4.2-.8.4-4-4.3zM352.8 336.5l4 4.3-1.1.2-3.8-4.2zM352 336.8l3.8 4.2-.9.4-3.8-4.3zM351.2 337.1l3.8 4.3-1.1.4-3.8-4.3zM350.2 337.5l3.8 4.3-1.1.3-3.8-4zM349.2 338l3.8 4-1.2.6-3.8-4zM310.8 339.5l1.7 1.3-3.8 3.5-1.8-1.1zM337.3 339.6l3.5 3.6-2.4 1.6-3.3-3.6zM330 340.1l3.1 3-2.8 2.1-3.1-2.6zM319.6 340.6l2.5 2.1-3.4 2.9-2.5-1.9z"/><path fill="#3f2aae" d="M375.1 323.5l1.7.7-4.6.6-1.7-.9zM376.8 324.1l2 .9-4.7.7-1.9-1zM278 324.1l4.6.5-1.8 1.1-4.7-.7zM276.1 324.9l4.7.7-2.2.9-4.6-.7zM378.8 324.9l2 .9-4.6 1-2.1-1.2zM274 325.6l4.6.8-2.4 1.4-4.6-1.1zM380.8 325.6l2.4 1.1-4.6 1.1-2.4-1.2zM273.3 328.5l4.2.6-3 1.7-4.1-.9zM381.5 328.6l3 1.4-4.2 1-2.9-1.6zM270.5 329.7l4.1.9-3.3 1.7-4.1-1.1zM380.4 330.6l3.4 1.8-3.7.9-3.4-2zM271.2 331.9l3.7.7-3.7 2-3.7-1zM380.1 332.9l3.7 1.9-3.4 1-3.7-2.2zM271.3 334.2l3.3.7-4.1 2.1-3.3-1zM380.3 335.4l4.2 2-3 1-4.1-2.4zM267.5 335.8l3.3 1-4.6 2-3.2-1.1zM270.7 336.6l2.9.8-4.5 2.1-3-.9zM378.7 338.7l4.5 2.2-2.5 1-4.5-2.4zM376.2 339.4l4.6 2.4-2 .7-4.7-2.6zM374.1 339.8l4.7 2.6-2.1.7-4.5-2.8zM372.2 340.2l4.6 2.8-1.7.6-4.6-2.8zM349.7 348.1l4.5 2.8-2 .9-4.5-2.8zM347.8 348.9l4.5 2.8-2.2.9-4.5-2.6zM345.7 349.9l4.5 2.5-2.5 1.1-4.5-2.3zM336.9 349.9l4.1 2.4-3 1.5-4.1-2.2zM327.4 350.9l3.7 2.1-3.7 1.8-3.7-1.9zM320.7 351l3.4 1.9-4.2 1.9-3.2-1.8zM334.1 351.4l4 2.2-3.2 1.5-4.2-2.1zM314.1 351.4l3 1.6-4.5 2-3-1.4zM317 352.8l3.2 1.8-4.5 1.8-3.2-1.6z"/><path fill="#4239c6" d="M361.9 321.2l1.1.5-4-1.4-1.1-.5zM291.8 321.7l4-1.6-1.3.6-3.9 1.4zM363 321.7l1.2.6-3.8-1.3-1.4-.7zM290.6 322l3.9-1.3-1.3.9-3.8 1.2zM367.1 324.9l2.1 1.5-3.5-.6-2.2-1.9zM365.8 330.9l3.4 3.3-2.2.2-3.5-3.5zM288 332.7l2 .1-3.8 3.5-2-.2zM360.5 334.6l3.7 3.9-1.3.4-3.9-4zM359.1 334.8l3.9 4-1.2.3-3.9-4zM296.1 337.8l.8.3-4.2 3.7-.8-.4zM296.9 338l.9.5-4.3 3.6-.8-.4zM297.8 338.4l.7.3-4.1 3.7-.9-.4zM298.5 338.6l.9.4-4.3 3.8-.7-.5zM348.1 338.5l3.8 4-1.2.7-3.9-4zM346.9 339.1l3.9 4-1.5.7-3.8-3.9zM312.4 340.7l2 1.4-3.8 3.3-2-1.2z"/><path fill="#3f30b7" d="M369.4 323.3l1.5.6-4.2-.3-1.6-.7zM283.9 323.9l4.2-.6-1.6 1.1-4.3.2zM370.9 323.8l1.7.9-4.2 0-1.7-1.2zM279.8 327.5l3.8 0-2.7 1.8-3.8-.1zM374 329.4l3.1 2-3.4.4-3.1-2.5zM373.7 331.4l3.4 2.3-3.1.3-3.4-2.7zM280 335.4l2.4.3-4.1 2.8-2.5-.5zM368.5 337.4l4.1 3.1-1.8.6-4.1-3.4zM366.8 337.6l4.1 3.4-1.6.4-4.2-3.4zM280.8 338.5l1.8.4-4.6 2.7-1.9-.5zM282.6 338.8l1.7.4-4.6 2.9-1.7-.6zM347.6 344.2l4.2 3.5-1.9.8-4.1-3.3zM303.5 345.9l1.7.9-4.6 2.8-1.7-.9zM336 345.8l3.8 2.9-2.7 1.6-3.7-2.7zM305.1 346.7l2 1.1-4.5 2.6-2-.9zM313 346.4l2.4 1.6-4.1 2.5-2.5-1.5z"/><path fill="#4542d8" d="M353.8 317.7l1 .5 3.5 1.8-1-.5zM362.1 322.5l1.8 1.6-3.2-1.1-1.9-1.7zM291.9 326.9l2.2-.3-3.1 3.4-2.3.1zM360.8 327.7l3.1 3.4-1.9 0-3.2-3.6zM354.9 331.2l3.4 4.2-1.1.2-3.4-4.2zM353.9 331.4l3.4 4.2-1 .3-3.5-4.4zM352.9 331.5l3.5 4.4-.9.2-3.5-4.3zM352.1 331.8l3.5 4.3-.9.2-3.5-4.3zM351.3 332l3.5 4.3-1 .3-3.4-4.4zM350.5 332.2l3.4 4.4-.9.3-3.4-4.4zM349.7 332.5l3.4 4.4-.9.3-3.5-4.4zM348.8 332.8l3.5 4.4-.9.3-3.5-4.3zM348 333.2l3.5 4.3-1.1.4-3.4-4.3zM347.1 333.6l3.4 4.3-1.1.5-3.4-4.3zM346.1 334.1l3.4 4.3-1.2.5-3.4-4.3zM320.3 335.7l2.3 2.2-3 3.1-2.4-1.9z"/><path fill="#4236c6" d="M364.2 322.2l1.3.8-3.9-1.2-1.2-.8zM289.4 322.7l3.8-1.2-1.4.9-4.1 1.1zM285.6 325.8l3.5-.8-2.3 2.1-3.6.6zM368.2 327.2l2.8 2.3-3.1-.3-2.8-2.5zM367.9 328.8l3.1 2.7-2.8 0-3.1-3zM361.7 334.4l3.8 3.8-1.4.4-3.7-3.9zM293.3 337l1 .5-4.2 3.5-1-.3zM294.3 337.4l1 .2-4.3 3.7-.9-.4zM295.3 337.5l.8.4-4.2 3.6-.9-.3zM299.4 338.9l.8.6-4.2 3.5-.9-.3zM300.2 339.4l1 .4-4.3 3.6-.9-.5zM301.2 339.7l1 .5-4.3 3.6-1-.5zM345.6 339.8l3.8 3.9-1.6.9-3.9-3.8zM335.3 341.1l3.3 3.6-2.5 1.5-3.4-3.2z"/><path fill="#3f2db7" d="M282.2 324.5l4.3-.3-1.9 1.2-4.2.3zM375 327.8l2.8 1.7-3.9.3-2.7-2zM277.9 330.7l3.4 0-3.4 2.4-3.4-.4zM278 332.7l3 .2-3.8 2.6-3-.5zM373.9 333.6l3.9 2.6-2.8.6-3.8-2.9zM345.9 345.1l4.1 3.3-2 .9-4.1-3.1zM327.4 346.9l3.4 2.5-3.4 1.9-3.4-2.1zM321.3 347l3.1 2.2-3.7 2.2-3.1-1.8z"/><path fill="#3f2db4" d="M372.6 324.6l1.9 1-4.3.1-1.8-1.1zM280.4 325.5l4.2-.3-2.2 1.6-4.2-.4zM374.5 325.5l2.1 1.1-4.2.2-2.2-1.2zM278.2 326.2l4.2.4-2.3 1.3-4.3-.3zM277.2 328.9l3.8.1-3 2.1-3.8-.4zM376.9 331.1l3.4 2.1-3.4.6-3.4-2.3zM277.4 335.1l2.7.4-4.2 2.6-2.7-.6zM372.5 336.7l4.1 3-2.2.5-4.2-3.1zM276.1 337.7l2.5.5-4.5 2.6-2.5-.8zM370.3 337l4.2 3.1-2 .5-4.1-3.1zM278.6 338.1l2.2.5-4.7 2.6-2.1-.5zM344 346.1l4.1 3.1-2.2 1.1-4.2-3zM341.8 347.2l4.2 3-2.5 1.2-4.1-2.8zM333.6 347.4l3.6 2.7-3.1 1.7-3.7-2.4zM307 347.7l2.2 1.3-4.5 2.4-2.2-1.2zM315.3 347.8l2.7 1.8-4.1 2.2-2.7-1.5zM309.1 348.8l2.5 1.5-4.5 2.2-2.5-1.3z"/><path fill="#4236c3" d="M365.5 322.9l1.6.8-4-1-1.5-1zM287.7 323.4l4.1-1.1-1.8 1.1-3.9 1zM369.1 326.1l2.5 1.9-3.5-.4-2.4-2.1zM284 328.6l3.1-.4-3.1 2.6-3.1.1zM284.1 330.4l2.7-.2-3.5 3-2.7-.1zM368.1 331.1l3.5 3-2.5.2-3.4-3.3zM285.9 332.8l2.2 0-3.8 3.4-2.3-.3zM364.9 334.1l3.9 3.6-1.8.3-3.9-3.7zM363.2 334.2l3.9 3.7-1.7.4-3.8-3.8zM289.8 336.4l1.2.3-4.1 3.4-1.5-.4zM291 336.6l1.2.3-4.2 3.5-1.2-.4zM292.2 336.8l1.1.3-4.1 3.7-1.2-.5zM302.1 340.1l1.2.6-4.2 3.6-1.2-.6zM303.2 340.6l1.3.9-4.2 3.4-1.3-.7zM344 340.7l3.9 3.8-1.8 1-3.7-3.7zM304.4 341.4l1.4.7-4.1 3.4-1.5-.7zM314.3 342l2.3 1.6-3.8 3.2-2.3-1.5zM327.4 342.4l3.1 2.6-3.1 2.3-3-2.4zM321.9 342.5l2.9 2.4-3.5 2.5-2.8-2z"/><path fill="#453fd5" d="M359.4 320.5l1.4.7-3.7-1.7-1.2-.7zM294.1 320.9l3.7-1.8-1.4.9-3.6 1.7zM357.2 330.9l3.6 4.1-1.5.2-3.4-4.2zM343.7 335.4l3.5 4-1.4.8-3.4-4z"/><path fill="#4236c0" d="M367.1 323.6l1.7 1.1-4-.9-1.7-1.2zM288 336.1l1.8.4-4.3 3.3-1.6-.4zM305.7 342l1.6 1-4.1 3.3-1.6-.9z"/><path fill="#423fd2" d="M360.8 321.2l1.2.7-3.6-1.6-1.3-.8zM362 321.9l1.5.9-3.5-1.5-1.6-1zM292.8 321.7l3.6-1.7-1.6.9-3.4 1.6zM363.9 323.8l2.2 1.9-3.3-.8-2.1-2.1zM289.6 325.9l2.7-.8-2.7 2.8-2.9.5zM289.7 327.5l2.3-.5-3.2 3.2-2.4.2zM362.9 328l3.2 3.2-2.3 0-3.1-3.4zM291.2 329.6l1.9-.1-3.4 3.6-2-.1zM360.1 330.7l3.4 3.8-1.6.3-3.5-3.9zM358.5 330.8l3.5 4-1.3.2-3.6-4.1zM295.7 333.2l1.2.3-3.9 3.9-1.2-.3zM296.8 333.4l1.1.2-3.9 4.2-1.1-.5zM297.8 333.6l1 .2-3.8 4.1-1.1-.1zM298.7 333.8l.9.2-3.8 4.2-.9-.3zM299.5 334l1 .5-3.9 3.9-.9-.2zM300.4 334.4l.9.1-3.8 4.3-1-.4zM301.2 334.5l.9.3-3.9 4.2-.8-.2zM302 334.8l.9.4-3.8 4.1-1-.3zM302.8 335.2l1 .3-3.9 4.3-.9-.5zM303.7 335.5l1.1.5-3.9 4.1-1.1-.3zM304.7 335.9l1.1.6-3.9 4-1.1-.5zM305.7 336.4l1.1.7-3.8 3.9-1.2-.6zM342.5 336.1l3.4 4-1.7 1-3.4-3.9zM315.7 337.4l1.9 1.5-3.5 3.5-2-1.4zM327.4 337.4l2.8 2.9-2.8 2.5-2.8-2.7zM322.4 337.7l2.6 2.4-3.1 2.8-2.5-2.1z"/><path fill="#3f27ab" d="M383.2 326.5l2.6 1.2-4.5 1.3-2.7-1.4zM271.6 326.5l4.6 1.1-2.6 1.3-4.6-1.2zM385.7 327.5l3.1 1.4-4.6 1.3-3-1.4zM269.1 327.5l4.5 1.2-2.9 1.4-4.6-1.2zM388.7 328.7l3.1 1.3-4.5 1.5-3.2-1.5zM266.2 328.7l4.6 1.2-3.3 1.5-4.5-1.4zM263.1 329.8l4.5 1.4-3.6 1.6-4.6-1.5zM384.4 329.8l3.2 1.5-4.1 1.3-3.3-1.8zM267.4 331l4 1.1-3.7 1.7-4-1.2zM387.4 331.1l3.7 1.6-4 1.4-3.7-1.7zM263.9 332.4l4 1.2-4 1.7-4.1-1.3zM387.1 333.7l4 1.7-3.7 1.4-4-2zM260 333.8l4.1 1.3-4.5 1.8-4-1.3zM383.5 334.6l4.1 2-3.2 1-4.2-2zM264 334.9l3.6 1.1-4.5 1.9-3.7-1.2zM387.3 336.4l4.5 1.8-3.1 1.2-4.6-2zM384.2 337.2l4.6 2-3.1 1.1-4.5-2.1zM381.3 338l4.5 2.1-2.7 1-4.5-2.2zM343.3 351l4.5 2.3-2.7 1.2-4.5-2.2zM340.7 352.1l4.5 2.2-3 1.5-4.5-2.2zM330.9 352.8l4.1 2.1-3.8 1.5-4-1.8zM337.8 353.4l4.5 2.2-3.2 1.2-4.5-1.9zM327.4 354.4l4 1.8-4 1.7-4-1.8zM320 354.4l3.8 1.7-4.4 1.7-3.8-1.6zM334.8 354.7l4.4 1.9-3.8 1.5-4.4-1.9zM323.6 355.9l4 1.8-4.4 1.7-4-1.8z"/><path fill="#4233c0" d="M286.1 324.3l3.9-1-1.9 1.4-3.9.7zM368.8 324.6l1.8 1.1-3.9-.6-1.9-1.4zM283.3 327.4l3.5-.6-2.7 2.2-3.5.2zM370.8 329.2l3.1 2.5-3.1-.1-3.1-2.7zM283.5 332.8l2.5.1-3.9 3.1-2.4-.3zM366.8 334l3.8 3.3-1.9.5-3.9-3.6zM286.4 335.9l1.7.3-4.1 3.3-1.8-.4zM342.5 341.7l3.7 3.7-2 1.1-3.8-3.5zM307.2 342.9l1.8 1.1-4.1 3.1-1.8-.9zM332.9 342.9l3.4 3.1-2.7 1.8-3.5-2.8zM316.5 343.5l2.4 1.9-3.8 2.8-2.4-1.5z"/><path fill="#454be7" d="M298.5 318.7l3.3-2-1.2.8-3.2 1.8zM295.6 320.7l3-1.4-1.8 1.9-3.1 1.2zM358.2 321.6l2.4 2.3-2.6-.7-2.3-2.5zM358 322.8l2.6 2.9-2.4-.5-2.5-3.1zM297.7 325.9l1.6-.1-3.2 4-1.7 0zM353.1 327.4l3.2 4-1.2.2-3.2-4.2zM352 327.4l3.2 4.2-1.1.2-3.2-4.3zM351 327.5l3.2 4.3-1.1.1-3.1-4.2zM344.2 329.7l3.2 4.3-1.1.5-3.2-4.3zM343.2 330.2l3.2 4.3-1.2.5-3.2-4.2zM342.1 330.8l3.2 4.1-1.4.9-3.2-4.1zM315.3 331.4l1.6 1.3-3.2 3.7-1.6-1.2zM333.8 331.6l2.8 3.5-2 1.7-2.9-3.3z"/><path fill="#4548e4" d="M356.3 319l1.2.7-3.3-1.8-1.2-.8zM297.4 319.3l3.2-1.8-1.3.8-3.3 1.9zM359.2 321.3l1.9 1.7-3.1-1.1-1.8-1.9zM294.4 322.8l2.6-.9-2.6 2.9-2.5.5zM294.5 324.4l2.3-.7-3 3.2-2.2.3zM358.1 324.8l3 3.2-2-.2-2.9-3.4zM295.9 326.1l1.9-.2-3.3 3.9-1.8-.1zM354.3 327.2l3.2 4.1-1.3.1-3.2-4zM303.5 330.4l.9.3-3.4 4.2-.9-.1zM304.3 330.7l.9.2-3.4 4.3-.9-.3zM340.8 331.6l3.2 4.1-1.3.8-3.3-3.9zM316.8 332.6l1.8 1.6-3.1 3.6-1.9-1.5zM327.4 332.6l2.6 2.8-2.6 2.4-2.6-2.6zM322.9 332.9l2.3 2.3-2.8 2.9-2.3-2.2z"/><path fill="#4548e1" d="M357.5 319.7l1.3.8-3.3-1.7-1.3-.9zM296 320.2l3.3-1.9-1.5 1.2-3.4 1.6zM293.7 322.1l3.1-1.1-2.3 2.2-2.9 1zM355.6 327.2l3.2 4-1.4.1-3.2-4.1zM299.9 329.6l1.1.1-3.4 4.3-1.1-.2zM300.9 329.7l1.1.2-3.5 4.3-1-.2zM301.9 329.9l.9.2-3.5 4.3-.9-.2zM302.7 330.1l.9.3-3.4 4.4-1-.4zM305.1 330.9l1 .5-3.5 4.2-.9-.4zM306 331.4l.9.3-3.4 4.2-1-.3zM306.8 331.7l1 .4-3.3 4.2-1.1-.4zM307.7 332.1l1.1.5-3.3 4.2-1.1-.5zM339.5 332.5l3.3 3.9-1.7 1.1-3.2-3.9zM331.9 333.4l2.9 3.3-2.4 1.8-2.8-3.2z"/><path fill="#423ccf" d="M291.4 322.5l3.4-1.6-1.7 1.3-3.5 1.3zM363.5 322.7l1.7 1.2-3.5-1.3-1.7-1.3zM288.8 324.9l3.2-.9-2.3 2.3-3.3.7zM365.3 326.6l2.8 2.5-2.8-.3-2.8-2.8zM289 329.8l2.3-.1-3.5 3.4-2.2 0zM361.8 330.7l3.4 3.7-1.8.2-3.4-3.8zM293.1 332.9l1.4.2-3.8 3.9-1.3-.3zM294.4 333l1.4.3-3.9 3.9-1.3-.3zM306.7 337l1.3.8-3.8 4-1.3-.9zM340.9 337.1l3.4 3.9-1.6 1.1-3.6-3.8zM307.9 337.7l1.4.9-3.8 3.8-1.4-.7zM332.4 338.1l3.1 3.3-2.6 1.9-3.1-3zM317.5 338.8l2.3 1.9-3.5 3.2-2.3-1.6z"/><path fill="#4233bd" d="M284.2 325.2l3.9-.7-2.1 1.6-4 .6zM340.5 342.9l3.8 3.5-2.3 1.2-3.8-3.1z"/><path fill="#4545de" d="M358.8 320.5l1.6 1-3.3-1.6-1.6-1.1zM294.4 321l3.4-1.5-1.8 1.3-3.3 1.5zM361 322.7l2.2 2.1-2.9-.8-2.3-2.3zM360.3 325.4l2.9 2.9-2.2-.2-3-3.2zM294 326.5l2-.4-3.2 3.7-1.9.1zM357.2 327.4l3.2 3.6-1.7.2-3.2-4zM297.7 329.4l1.2 0-3.4 4.2-1.4-.2zM309.8 333.4l1.4.7-3.5 4-1.3-.8zM338 333.5l3.2 3.9-1.8 1.2-3.2-3.7zM318.4 334.1l2.1 1.7-3.2 3.4-1.9-1.5z"/><path fill="#4851f3" d="M353.4 317.3l1.2.8-3-1.8-1.2-.8zM300.2 317.7l3-2-1.3 1-3 1.8zM298.2 319.2l2.8-1.2-1.9 2.1-2.7 1.1zM355.9 320.6l2.3 2.5-2.3-.6-2.3-2.8zM351.7 323.8l2.9 3.8-1.3.2-2.9-4.1zM304.7 326.2l1.1.2-3.3 4.1-.9-.2zM305.7 326.4l.8.2-3.2 4.2-.9-.3zM306.4 326.6l.9.3-3.2 4.2-.9-.3zM307.2 326.9l.9.3-3.2 4.1-.9-.2zM308 327.2l1 .3-3.2 4.3-1-.5zM308.9 327.5l.9.4-3.2 4.2-.9-.3zM338.2 328l2.9 3.9-1.4 1-2.9-3.8zM331.4 328.6l2.6 3.3-2.1 1.9-2.5-3.2z"/><path fill="#423ccc" d="M289.6 323.4l3.5-1.3-1.8 1.6-3.6 1zM366 325.4l2.4 2.1-3.2-.5-2.4-2.4zM365.2 328.4l3.2 3-2.4-.1-3.2-3.2zM291.7 332.8l1.5.2-3.7 3.8-1.8-.4zM309.2 338.5l1.7 1.1-3.9 3.7-1.6-1zM339.2 338.2l3.6 3.8-2.1 1.3-3.5-3.6z"/><path fill="#4239cc" d="M365.2 323.8l1.9 1.3-3.6-1-1.8-1.6zM286.9 328.1l2.9-.5-3.2 2.9-2.8.2zM363.6 330.8l3.5 3.5-2 .2-3.4-3.7zM324.8 339.9l2.8 2.7-3 2.5-2.9-2.4z"/><path fill="#4851f0" d="M354.6 318.1l1.3.9-3-1.7-1.3-1zM298.9 318.5l3-1.8-1.6 1.2-2.9 1.8zM355.8 322.1l2.6 3.1-1.9-.4-2.7-3.3zM298.5 323.1l1.8-.4-2.8 3.6-1.9.2zM353 323.9l2.9 3.7-1.4 0-2.9-3.8zM302.8 325.9l1.1.1-3.2 4.1-1.1-.1zM303.8 326l1 .2-3.1 4.1-1.1-.2zM309.7 327.9l1.1.5-3.3 4.1-1-.4zM310.7 328.4l1.1.5-3.3 4.1-1.1-.5zM336.9 329l2.9 3.8-1.6 1.1-2.8-3.6zM319.3 329.5l1.9 1.6-2.8 3.4-1.9-1.6z"/><path fill="#425df6" d="M349.8 314.9l1 .9-2.8-2.1-1.1-.8zM350.8 315.7l1.2.8-2.8-1.8-1.2-1zM304 315.1l2.8-1.9-1.2.9-2.8 1.8zM302.8 315.9l2.8-1.8-1.4 1-2.7 1.8zM302.4 316.4l2.4-1.4-1.7 2.1-2.5 1.1zM351.9 317.6l2.1 2.5-2.1-.8-2.1-2.6zM302.7 319.8l1.5-.4-2.6 3.5-1.7.2zM349.3 320.5l2.7 3.7-1.3-.1-2.7-3.7zM348.1 320.4l2.7 3.7-1.1.1-2.8-3.8zM307.4 322.6l.9.1-2.8 4.1-1.1-.2zM308.2 322.7l.9.3-2.9 4-.8-.2zM309 323l.9.2-2.9 4.1-.9-.3zM309.8 323.2l1 .3-3 4.1-.9-.3zM310.7 323.5l.9.4-2.9 4-1-.3zM311.5 323.9l.9.5-2.9 3.9-.9-.4zM337.1 323.8l2.7 3.7-1.4.9-2.6-3.6zM335.9 324.7l2.6 3.6-1.4 1.1-2.7-3.5zM331 324.4l2.3 3-1.9 1.6-2.3-2.9zM320.2 325.1l1.7 1.6-2.7 3.2-1.6-1.4z"/><path fill="#4545db" d="M360.4 321.4l1.7 1.3-3.3-1.3-1.7-1.5zM291.7 323.9l2.9-1-2.4 2.5-2.8.8zM292.1 325l2.5-.5-2.8 2.8-2.4.5zM358.9 327.4l3.2 3.6-1.8.1-3.2-3.6zM296.3 329.4l1.5 0-3.6 4-1.4-.1zM311.1 334l1.4 1-3.5 3.9-1.4-.9zM329.8 335.2l2.8 3.1-2.6 2.2-2.8-2.9zM325 335l2.6 2.6-2.8 2.7-2.6-2.4z"/><path fill="#484eed" d="M355.9 319l1.6 1.1-3-1.6-1.6-1.2zM297.4 319.7l2.9-1.8-1.7 1.5-3 1.5zM296.6 320.9l2.5-1.1-2.2 2.4-2.7.9zM296.8 321.8l2.3-.8-2.5 3-2.4.7zM354.6 324l2.9 3.8-1.7-.2-2.9-3.7zM300.5 325.7l1.3.1-3.2 4-1.2 0zM312.7 329.6l1.4 1-3.2 3.8-1.4-.7zM335.6 330.2l2.7 3.6-1.9 1.4-2.8-3.5zM325.3 330.4l2.3 2.4-2.6 2.6-2.3-2.3zM329.6 330.5l2.5 3.2-2.3 1.9-2.6-2.8z"/><path fill="#4542db" d="M292.7 322.2l3.3-1.5-1.9 1.6-3.2 1.4zM294.7 329.4l1.7.1-3.5 3.8-1.5-.2zM312.4 334.9l1.6 1.2-3.4 3.8-1.7-1.1zM336.3 334.8l3.2 3.7-2.1 1.5-3-3.5z"/><path fill="#455af6" d="M352 316.5l1.3 1-2.7-1.7-1.4-1.1zM301.5 316.9l2.7-1.9-1.4 1.6-2.9 1.5zM300.7 317.9l2.4-1.2-2 2.4-2.4.9zM301 318.7l2.1-.8-2.3 2.9-2.1.5zM350.7 320.7l2.6 3.6-1.4-.1-2.7-3.7zM304.3 322.4l1.2 0-2.9 3.9-1.2-.1zM305.4 322.4l1.1 0-2.9 4-1.1-.1zM313.2 324.8l1.1.6-2.8 3.9-1.1-.5zM314.2 325.4l1.2.9-2.9 3.7-1.1-.7zM334.5 325.8l2.7 3.5-1.5 1.3-2.8-3.4zM325.6 325.8l2 2.4-2.3 2.6-2.1-2.2zM329.3 326l2.3 2.8-2 2.1-2.4-2.7z"/><path fill="#454bea" d="M357.5 320l1.7 1.5-3-1.4-1.7-1.6zM356.3 324.4l2.9 3.3-1.8.1-2.9-3.8zM350.1 327.7l3.1 4.2-.9.3-3.2-4.3zM349.2 327.9l3.2 4.3-.9.2-3.1-4.3zM348.5 328.1l3.1 4.3-.9.2-3.2-4.2zM347.6 328.4l3.2 4.2-.9.3-3.2-4.3zM346.8 328.6l3.2 4.3-1 .3-3.2-4.3zM345.9 328.9l3.2 4.3-.9.4-3.2-4.2zM345.1 329.4l3.2 4.2-1 .4-3.2-4.3z"/><path fill="#3c69f6" d="M306.4 313.5l2.5-2.1-1.1 1.1-2.6 1.9zM305.9 313.6l2.3-1.5-1.4 2-2.4 1.3zM348.3 314.6l1.9 2.5-1.9-.9-1.9-2.6zM306.2 316.6l1.6-.4-2.5 3.4-1.5.2zM346 317.2l2.4 3.6-1.2 0-2.4-3.8zM344.9 317l2.4 3.8-1.1 0-2.4-3.9zM336.1 319.7l2.4 3.8-1.2.7-2.4-3.7zM335 320.5l2.4 3.6-1.3 1-2.4-3.4zM330.6 320l2.2 3.1-1.8 1.7-2.1-3zM320.9 321l1.6 1.5-2.3 3-1.6-1.3z"/><path fill="#3f66f6" d="M348.4 313.9l1.2 1.1-2.5-1.9-1.2-1.2zM305.2 314.3l2.6-1.8-1.5 1.1-2.5 1.7zM304.5 315l2.3-1.2-2 2.3-2.1 1zM304.8 315.7l2-.9-2.2 2.8-1.9.7zM347.2 317.4l2.4 3.5-1.3-.1-2.4-3.6zM307.8 319l1.1 0-2.7 3.8-1.1 0zM308.8 319l1 .1-2.6 3.9-1.1-.2zM309.7 319.1l1.1.3-2.8 3.7-.9-.1zM310.7 319.4l.8.1-2.7 3.9-.9-.3zM313 320l.9.4-2.6 3.9-.9-.4zM313.8 320.4l1 .5-2.7 3.9-.9-.5zM314.7 320.9l1.1.5-2.8 3.8-1-.4zM315.7 321.4l1.1.7-2.8 3.7-1.1-.6zM333.9 321.6l2.3 3.4-1.6 1.2-2.2-3.3zM325.7 321.5l1.9 2.3-2 2.4-2-2.1zM329.1 321.7l2.1 3-1.9 1.7-2.1-2.6z"/><path fill="#3f27a8" d="M391.7 329.8l3.7 1.5-4.6 1.6-3.6-1.6zM395.2 331.1l4 1.6-4.4 1.6-4.1-1.6zM259.6 331.1l4.5 1.5-4.1 1.6-4.4-1.5zM390.9 332.5l4.1 1.6-4.1 1.5-4-1.7zM399 332.5l4.4 1.7-4.4 1.7-4.4-1.8zM255.8 332.5l4.4 1.5-4.4 1.8-4.4-1.6zM394.8 333.9l4.4 1.8-4 1.5-4.5-1.8zM390.8 335.2l4.6 1.8-3.7 1.4-4.5-1.8zM331.2 356l4.4 1.9-4 1.6-4.4-1.8zM327.4 357.5l4.4 1.8-4.4 1.7-4.4-1.8z"/><path fill="#4557f3" d="M353.3 317.5l1.6 1.2-2.8-1.4-1.5-1.5zM299.9 318l2.9-1.5-1.8 1.7-2.8 1.3zM354.1 318.7l2 2.2-2.3-.8-2.1-2.5zM353.8 319.7l2.3 2.8-2.1-.6-2.3-3zM352.2 321l2.7 3.4-1.7-.1-2.6-3.6zM301.8 322.5l1.4-.1-2.9 3.7-1.4.1zM347.5 324l2.9 4.1-1 .2-2.9-4.1zM346.6 324.2l2.9 4.1-.8.2-3-4.1zM345.8 324.4l3 4.1-1 .3-2.9-4.2zM345 324.6l2.9 4.2-.9.2-2.9-4.1zM344.2 324.9l2.9 4.1-1 .3-2.9-4.1zM343.3 325.2l2.9 4.1-.9.5-2.9-4.2zM342.5 325.6l2.9 4.2-1 .3-2.9-4.1zM316.7 327.1l1.3 1.2-2.9 3.5-1.4-1zM333.1 327.1l2.7 3.4-2 1.5-2.6-3.3z"/><path fill="#4542d5" d="M290.9 323.5l3.2-1.3-2.1 2.1-3.3.9zM363.1 324.5l2.4 2.4-2.8-.6-2.5-2.6zM362.7 325.9l2.8 2.8-2.5-.3-2.8-2.9zM293 329.4l1.8.1-3.3 3.7-1.9-.2zM356 331l3.4 4.2-1.2.2-3.4-4.2zM345 334.6l3.4 4.2-1.3.7-3.5-4zM313.9 336l1.9 1.5-3.6 3.6-1.7-1.3zM334.6 336.4l3 3.5-2.3 1.6-3.1-3.3z"/><path fill="#3f63f6" d="M349.6 314.9l1.4 1.1-2.5-1.4-1.4-1.6zM303.8 315.2l2.5-1.7-1.5 1.7-2.4 1.6zM350.3 315.8l1.8 2.2-2.1-.9-1.9-2.5zM350 316.7l2.1 2.6-1.9-.5-2.1-3zM304.7 317.2l1.6-.6-2.4 3.2-1.5.4zM348.6 317.8l2.4 3.3-1.5-.2-2.4-3.5zM306.7 319.1l1.2-.1-2.7 3.8-1.2 0zM343.5 320.8l2.6 4-.9.2-2.7-4zM342.6 321l2.7 4-.9.3-2.7-3.9zM341.8 321.4l2.7 3.9-1 .3-2.6-4zM316.7 322.1l1.1.9-2.7 3.6-1.2-.9zM322.3 322.4l1.7 1.6-2.3 3-1.7-1.6zM332.6 322.8l2.2 3.3-1.7 1.4-2.3-3z"/><path fill="#396ff6" d="M346.3 312.3l1.2 1.1-2.3-1.9-1.2-1.4zM307.4 312.8l2.2-2.1-1.4 1.5-2.3 1.7zM346.9 312.9l1.6 2.1-2-1-1.6-2.4zM346.6 313.6l1.9 2.6-1.7-.7-1.9-2.9zM308.1 314l1.5-.6-2 3.2-1.7.4zM345.3 314.5l2.2 3.3-1.3-.2-2.2-3.5zM309.9 315.8l1.1-.1-2.4 3.7-1.1 0zM310.9 315.7l1 .1-2.4 3.7-1-.1zM316.8 317.5l1 .6-2.3 3.7-1.1-.5zM317.7 318.1l1.1.8-2.3 3.6-1.1-.7zM322.8 318.2l1.6 1.6-2.1 3-1.6-1.5zM332 318.6l2.1 3.3-1.5 1.3-2.2-3.1z"/><path fill="#4854f3" d="M354.9 318.5l1.7 1.7-2.8-1.2-1.7-1.8zM298.9 319.7l2.3-1-2.3 2.7-2.3.7zM299 321l2-.6-2.7 3.1-1.9.5zM353.9 321.5l2.7 3.3-1.8-.4-2.7-3.4zM300.2 322.7l1.7-.2-2.9 3.7-1.6.1zM350.5 323.7l2.9 4.1-1.2 0-2.8-4zM349.5 323.8l2.8 4-1.1.1-2.8-4zM340.6 326.6l2.9 4-1.2.6-2.9-4zM339.5 327.2l2.9 3.9-1.4.9-2.9-3.9zM317.9 328.2l1.6 1.4-2.9 3.4-1.6-1.3zM327.4 328l2.4 2.7-2.4 2.3-2.3-2.4zM323.4 328.4l2.1 2.2-2.6 2.7-2.1-2.1z"/><path fill="#4260f6" d="M351 315.9l1.5 1.5-2.5-1.4-1.5-1.5zM302.9 316.7l2.1-1-2.1 2.6-2.1.8zM302.9 317.9l1.9-.7-2.2 3-2 .6zM350.1 318.4l2.4 3-1.6-.3-2.4-3.3zM304.1 319.4l1.5-.2-2.7 3.6-1.4.1zM347 320.4l2.8 3.8-1.1.1-2.8-3.9zM346 320.4l2.8 3.9-1.1.1-2.7-4zM339.2 322.5l2.7 3.9-1.1.6-2.7-3.9zM338.2 323.1l2.7 3.9-1.2.6-2.7-3.8zM318.9 323.9l1.5 1.3-2.7 3.4-1.3-1.2zM327.4 323.6l2.1 2.6-2.1 2.2-2-2.4zM323.8 323.9l2 2.1-2.4 2.8-1.9-1.9z"/><path fill="#3c6cf6" d="M347.5 313.3l1.4 1.5-2.3-1.7-1.4-1.7zM306.6 313.8l1.8-1.2-1.8 2.6-2 .9zM306.7 314.8l1.5-.8-2.2 3-1.6.6zM346.7 315.1l2.2 3.1-1.5-.4-2.2-3.3zM307.7 316.2l1.2-.2-2.4 3.5-1.3.1zM343.9 316.9l2.4 3.9-1 0-2.4-3.8zM343 317l2.4 3.8-1 .2-2.4-4zM342.1 317l2.4 4-.8.2-2.5-4zM341.3 317.2l2.5 4-1 .2-2.4-4zM339.7 317.7l2.4 4.1-.9.2-2.4-4zM338.9 318l2.4 4-1 .4-2.4-3.9zM338 318.5l2.4 3.9-1 .5-2.4-3.9zM337.1 319l2.4 3.9-1.1.6-2.4-3.8zM319.8 319.8l1.3 1.3-2.4 3.2-1.3-1.1zM327.4 319.4l1.9 2.5-1.9 2.1-1.9-2.3zM324.2 319.7l1.7 1.9-2.1 2.7-1.7-1.6z"/><path fill="#3678f6" d="M344.4 310.5l1.2 1.3-2.1-1.9-1.1-1.5zM309.2 311l2.1-1.9-1.4 1.9-2.1 1.5zM309.7 311.7l1.6-.9-1.9 3-1.6.6zM343.6 311.8l2 3.1-1.4-.4-1.8-3.4zM311.8 312.7l1.1-.2-2.2 3.6-1.1.1zM341.1 313.5l2.2 3.9-1 0-2.2-3.9zM340.2 313.5l2.2 3.9-.9.2-2-4zM339.5 313.6l2.1 4-.9.2-2.2-4zM338.6 313.8l2.2 4-.9.3-2.2-4zM337.8 314.1l2.2 4-.9.3-2.2-3.9zM337 314.5l2.2 3.9-1 .5-2.2-3.9zM336.1 315l2.2 3.9-1 .5-2.2-3.8zM319.7 314.9l1.1 1-2.3 3.4-1.1-.8zM324.6 315.5l1.5 2.1-1.9 2.5-1.6-1.6zM330.3 315.8l1.9 3.1-1.6 1.5-1.9-2.8z"/><path fill="#337bf6" d="M310.4 309.9l2.1-2.2-1.2 1.5-2.1 1.9zM343.7 309.8l1.6 2.2-1.7-1.2-1.6-2.4zM343.6 310.4l1.7 2.6-1.6-.8-1.7-3zM311.2 310.8l1.3-.7-2 3.3-1.3.4zM342.6 311.1l1.8 3.4-1.3-.3-1.9-3.6zM312.8 312.5l1-.1-2.2 3.8-1-.1zM313.7 312.4l1.1.1-2.3 3.8-1-.1zM314.7 312.5l.8.1-2.2 3.9-.9-.2zM315.4 312.6l.9.3-2.2 3.9-.9-.3zM316.2 312.9l.9.3-2.2 3.8-.9-.2zM317 313.2l.9.4-2.2 3.8-.9-.4zM317.8 313.6l1 .6-2.2 3.7-1-.5zM318.7 314.2l1.1.7-2.3 3.6-1-.6zM323.3 314l1.5 1.6-2 3-1.4-1.4zM331.6 314.4l1.8 3.3-1.4 1.3-1.9-3.1z"/><path fill="#484ef0" d="M356.6 319.9l1.8 2-2.6-.9-2-2.2zM301.7 325.8l1.2.1-3.2 4.1-1.2-.2zM311.7 328.9l1.1.7-3.2 4.2-1.2-.9z"/><path fill="#2d84f6" d="M339.7 305l1.1 1.5 2 2.3-1.3-1.4z"/><path fill="#425af6" d="M352.5 317.1l1.7 1.9-2.4-1-1.8-2.2zM351.9 318.9l2.3 3-1.9-.5-2.3-3zM306.4 322.4l1.1.2-3 4-1-.2zM312.3 324.4l1 .4-2.8 4-1.1-.5z"/><path fill="#3c66f6" d="M348.9 314.6l1.5 1.6-2.3-1.2-1.5-2.1zM348.2 315.8l2.2 3-1.7-.6-2.1-3.1zM311.4 319.5l.9.2-2.7 3.9-.9-.2zM312.2 319.7l.9.3-2.6 3.9-1-.3z"/><path fill="#3675f6" d="M345.6 311.6l1.4 1.7-2.1-1.3-1.4-2.2zM345.1 311.6l1.7 2.4-1.7-1-1.7-2.6zM345.1 312.6l1.9 2.9-1.6-.6-1.9-3.1zM309.5 313.4l1.3-.4-2.2 3.4-1.2.2zM310.7 313l1.2-.3-2.2 3.5-1.2.2zM343 313.8l2.2 3.6-1.1-.1-2.2-3.7zM342 313.6l2.2 3.7-1 .1-2.2-3.9zM335.2 315.6l2.2 3.8-1.1.7-2.2-3.7zM334.3 316.4l2.1 3.7-1.3.8-2.1-3.4zM320.7 315.8l1.1 1.2-2.2 3.2-1.2-1zM321.6 316.9l1.4 1.4-2.1 3.1-1.4-1.3z"/><path fill="#3081f6" d="M342.8 308.7l1.1 1.5-1.9-1.5-1.2-2.2zM342.2 309.2l1.7 3-1.2-.7-1.8-3.3zM312.4 310.1l1.2-.5-2 3.5-1.2.3zM340.3 310.2l1.9 3.8-.9-.1-1.8-3.9zM339.6 310l1.7 3.9-.9 0-1.9-4zM334.6 311.5l1.8 3.9-1.1.6-1.9-3.8zM333.6 312.2l1.9 3.8-1.2.8-1.9-3.6zM322.2 312.7l1.3 1.4-1.9 3.2-1.2-1.2z"/><path fill="#3084f6" d="M312.1 308.1l1.9-2.3-1.2 1.9-1.9 1.8zM342.2 308.4l1.6 2.4-1.6-1.2-1.5-2.8zM312.6 308.4l1.4-1-1.7 3.1-1.4.7zM313.5 309.6l1.1-.2-2 3.5-1.1.2zM314.5 309.4l.9-.3-1.9 3.7-1 .1zM338.5 309.9l1.9 4-.7.1-2-4zM337.7 310l2.1 4-1 .2-1.9-4.1zM336.9 310.1l1.9 4.1-.8.3-1.9-4.1zM336.1 310.4l2 4.1-.9.4-2-4zM335.3 310.9l2 4-1.1.5-1.8-3.9zM320.3 310.8l1.1.9-1.8 3.6-1.2-.7zM321.2 311.7l1.2 1-1.8 3.5-1.2-.9zM324.8 311.4l1.4 1.8-1.6 2.7-1.5-1.6zM330 311.5l1.8 3.2-1.5 1.5-1.7-2.9z"/><path fill="#2a8df3" d="M340 305.4l1.1 1.5-1.7-2.1-.9-1.9zM314 306.1l1.3-1.3-1.5 3-1.4 1zM339.6 305.5l1.5 3.1-1.2-.7-1.4-3.5zM314.9 306.6l1.1-.6-1.6 3.8-1.1.2zM338 306.5l1.7 3.9-1.1-.1-1.6-4.1zM333.9 307.2l1.7 4.1-1 .6-1.8-4zM333 307.9l1.8 4-1.2.7-1.7-3.7zM322.7 308.4l1.2 1.4-1.7 3.3-1.2-1zM326.2 308.7l1.4 2.3-1.6 2.5-1.4-1.8z"/><path fill="#2790f0" d="M314.8 304.8l1.6-2.4-1 1.8-1.8 2zM339.6 304.7l1.3 2.5-1.3-1.3-1.3-2.8zM315.2 304.8l1.2-1.1-1.5 3.3-1.2.8zM316.8 305.7l1-.2-1.6 3.9-1 .1zM317.7 305.5l1 0-1.8 4-.8-.1zM318.7 305.5l.7.2-1.6 4.1-.9-.3zM336.3 306.2l1.6 4.2-.9.1-1.5-4.1zM319.3 305.7l.9.4-1.6 4-.9-.3zM335.6 306.4l1.5 4.1-.9.3-1.6-4.1zM320.1 306.1l.9.5-1.6 4-.9-.5zM334.7 306.7l1.6 4.1-.9.5-1.6-4.1zM320.9 306.6l1.1.8-1.7 3.8-1.1-.6zM329.7 307l1.6 3.4-1.3 1.5-1.6-3zM325.1 306.8l1.3 2-1.6 3-1.3-1.8z"/><path fill="#3972f6" d="M307.9 312.1l2-1.4-1.6 2.3-1.9 1.2zM308.2 312.6l1.7-.9-1.9 2.7-1.6.8zM344.1 314.1l2.2 3.5-1.2-.2-2.2-3.6zM311.8 315.8l1 .1-2.3 3.9-1.1-.3zM312.7 315.9l.9.2-2.4 3.8-.8-.1zM313.5 316.1l.9.3-2.4 3.7-.9-.2zM314.3 316.4l.9.2-2.4 3.8-.9-.3zM315.1 316.6l.9.4-2.4 3.8-.9-.4zM315.9 317l1 .5-2.4 3.8-1-.5zM333.2 317.4l2.1 3.4-1.4 1.2-2.1-3.3zM325.9 317.4l1.7 2.2-1.9 2.3-1.7-2zM328.9 317.5l1.9 2.8-1.7 1.8-1.9-2.5z"/><path fill="#337ef6" d="M311 309.1l1.8-1.6-1.6 2.4-1.7 1.2zM341.3 310.6l2 3.6-1.1-.2-1.9-3.8zM332.6 313.2l1.9 3.6-1.3 1-1.8-3.3zM328.8 313.2l1.7 2.9-1.6 1.8-1.7-2.5z"/><path fill="#2d8af6" d="M341.2 306.5l1.1 2.3-1.6-1.6-1.2-2.5zM340.8 306.8l1.5 2.8-1.3-1-1.5-3.1zM313.8 307.4l1.2-.8-1.6 3.4-1.3.5zM339.9 307.5l1.6 3.5-1.1-.4-1.6-3.7zM323.7 309.7l1.3 1.8-1.7 2.9-1.3-1.4z"/><path fill="#2a8af3" d="M313.6 305.9l1.7-1.8-1.2 2.4-1.7 1.4zM338.8 306.9l1.7 3.7-.8-.2-1.8-3.9zM332.1 308.9l1.7 3.7-1.2 1-1.7-3.5zM328.6 308.8l1.6 3-1.4 1.8-1.6-2.7z"/><path fill="#2496ea" d="M316.1 302.8l1.6-2.4-1.2 2.4-1.4 1.7zM316.4 302.4l1.3-1.4-1.4 3.1-1.2 1.1zM317.3 302.8l1-.6-1.5 3.9-1 .3zM336.6 302.9l1.5 4-1-.3-1.5-4.1zM323.2 304l1.1 1.2-1.6 3.6-1.1-1zM331.6 304.4l1.6 3.9-1.1 1-1.6-3.8zM328.6 304.1l1.3 3.2-1.3 1.9-1.4-2.6zM326.3 304l1.3 2.6-1.4 2.5-1.3-2z"/><path fill="#2496ed" d="M338.8 303.1l.9 2-1.4-1.6-1.1-2.7zM338.4 303.1l1.3 2.8-1.1-1.1-1.4-3.2zM337.6 303.5l1.4 3.8-1-.4-1.5-4z"/><path fill="#1ba2e1" d="M336.5 299.3l.9 1.9-1.3-1.8-1-2.7zM336.2 299l1.2 3-1.1-1.2-1.2-3.4zM335.4 299.4l1.3 3.9-1-.4-1.2-4.1zM319.4 298.8l1-.6-1.3 4.1-1 .3zM334.6 298.8l1.2 4.1-.9-.1-1.3-4.3zM331.3 299.7l1.5 4.2-1.2.9-1.4-4zM323.6 299.4l1 1.2-1.4 3.8-1.1-1z"/><path fill="#12b1d8" d="M334.4 295.1l.9 2-1.3-2.1-.8-2.8zM334.2 294.6l1.1 3.2-1-1.4-1.1-3.6zM321.4 294.6l.9-.4-1.2 4.2-.9.2zM332.6 294.6l1.2 4.3-.9 0-1.2-4.3zM331.8 294.6l1.2 4.3-.9.4-1.2-4.3zM323.8 294.7l.9 1.1-1.1 4-1-.8z"/><path fill="#2793f0" d="M315.2 304.1l1.3-1.7-1.3 2.8-1.3 1.3zM338.6 304.4l1.4 3.5-1.1-.6-1.4-3.8zM327.4 306.4l1.4 2.6-1.4 2.2-1.4-2.3z"/><path fill="#3f2aab" d="M383.6 332.2l3.7 1.7-3.7 1.1-3.7-1.9zM267.7 333.4l3.7 1-4 1.8-3.7-1.1zM323.9 352.7l3.7 1.9-4 1.7-3.8-1.7z"/><path fill="#1e9fe4" d="M317.7 300.4l1-2-1.1 3-1.3 1.4zM336.3 300.4l1.4 3.5-1.1-.6-1.3-3.9zM318.6 299.7l.9-.9-1.3 3.8-1 .6zM324.4 300.6l1.1 1.5-1.4 3.5-1.1-1.2zM330.4 300.8l1.4 4-1.1 1.1-1.3-3.5zM327.4 301.5l1.4 2.8-1.4 2.5-1.3-2.6z"/><path fill="#4545e1" d="M360.4 323.6l2.5 2.6-2.5-.4-2.6-2.9zM298.8 329.4l1.2.2-3.4 4.2-1.2-.2zM308.7 332.6l1.2.9-3.4 3.9-1.1-.6z"/><path fill="#219ce7" d="M337.3 300.8l1.2 2.7-1.2-1.5-1.2-3zM319.1 301.9l.9-.1-1.4 4.1-1 0zM319.9 301.8l.9.1-1.5 4.2-.8-.2zM320.7 301.9l1 .5-1.6 4.1-.9-.4zM321.6 302.4l.8.6-1.5 4-.9-.5zM329.6 302.4l1.3 3.4-1.2 1.6-1.3-3.2z"/><path fill="#30c69f" d="M325 282.5l.9-2.6-.9 3.6-.9 1.7zM327.4 280.5l1 3.5-1 2.4-1-2.6z"/><path fill="#2d87f6" d="M312.6 307.5l1.6-1.4-1.6 2.7-1.6 1.1zM341 308.2l1.8 3.3-1.4-.5-1.6-3.5zM315.4 309.1l.9-.1-1.7 3.9-1.2-.1zM316.3 309l.8.1-1.9 3.9-.7-.1zM317.1 309.1l.9.3-2 3.9-.9-.3zM317.9 309.4l.9.3-2 3.9-.9-.3zM318.7 309.7l.9.5-2 3.8-.9-.4zM319.4 310.2l1.1.6-1.9 3.8-1.1-.6zM331.1 310.1l1.7 3.4-1.2 1.3-1.8-3.2zM327.4 310.8l1.6 2.6-1.6 2.2-1.6-2.3z"/><path fill="#2dc69f" d="M329.8 282.7l.9 2.7-.9-1.8-.9-3.6z"/><path fill="#12bac0" d="M323.3 287.2l1-2.4-1 3.4-1 1.8zM327.4 286l1.1 3.2-1.1 2.6-1-2.7z"/><path fill="#0fbac0" d="M331.7 287.5l.8 2.8-.9-1.8-1.1-3.5zM324.1 286.6l.9-.2-1 4.4-.9 0zM324.9 286.4l.9.8-1 4.1-.9-.5z"/><path fill="#3378f6" d="M309.7 310.7l1.7-1.2-1.7 2.6-1.7.9zM327.4 315.2l1.7 2.5-1.7 2.1-1.7-2.2z"/><path fill="#51c97e" d="M326.6 278.6l.9-3.2-.9 3.7-.9 1.2zM328.2 278.8l.9 1.6-.9-1.2-.9-3.8zM327.4 275.4l1 3.7-1 1.8-1-1.9z"/><path fill="#18abdb" d="M335.2 296.7l1.1 2.7-1.1-1.6-1.1-3.2z"/><path fill="#15abdb" d="M319.6 296.2l1.1-2.1-1.1 3.1-1.1 1.6zM334.3 296l1.2 3.8-.9-.6-1.3-4.1zM330.2 296l1.3 4.1-1.1 1.1-1.3-3.8zM327.4 296.5l1.2 3.2-1.2 2.2-1.2-2.5z"/><path fill="#0fb4cf" d="M321.7 291.8l.8-2.2-.9 3.2-1.1 1.7zM333.3 292.2l1 2.8-1-1.8-1-3.3zM322.4 291.1l.9-.7-1.1 4.2-.9.4zM332.4 291.5l1.1 4-.9-.5-1.1-4.3zM324.8 290.9l1 1.5-1.2 3.8-.9-1.1zM330 291.1l1.1 4.3-.9 1-1.1-4zM327.4 291.4l1.1 3-1.1 2.5-1-2.5z"/><path fill="#3cc993" d="M325.8 279.9l.9-1.2-.9 4.2-.9.6zM329 280l.9 3.6-.9-.6-.9-4.2zM326.6 278.7l1 1.8-1 3.5-.9-1.1zM328.2 278.8l.9 4.2-.9 1.1-1-3.6z"/><path fill="#1ec0b1" d="M324.2 284.8l.9-1.7-1 3.9-.9 1.2zM326.6 283.6l1 2.5-1 3.2-1.1-1.7zM328.2 283.7l1.1 4.1-1 1.6-1.1-3.3z"/><path fill="#1ec0b4" d="M330.6 285l1.1 3.5-1-1.2-1-4.1z"/><path fill="#0fb7c9" d="M322.4 289.6l1-1.8-1 3.7-.9 1.3zM332.4 289.9l1 3.3-1-1.3-.9-3.8zM326.6 288.9l1 2.6-1 3.1-1.2-1.9zM328.3 289l1.1 3.7-1.1 1.9-1.1-3.1z"/><path fill="#12b1d5" d="M320.6 294.1l1.1-1.7-1.1 3.5-1.1 1.3zM322.2 294.2l.9 0-1.2 4.3-.9-.1zM323 294.2l.9.5-1.2 4.3-.9-.5zM326.6 294.2l1 2.4-1.2 3-1-1.9zM328.3 294.2l1.2 3.5-1.1 2.1-1.2-3.2z"/><path fill="#1ba5e1" d="M318.6 298.4l1.1-1.6-1.1 3.3-1.1 1.3zM333.7 298.5l1.3 4.3-.9.1-1.3-4.4zM332.9 298.5l1.3 4.4-.9.3-1.3-4.3zM332.1 298.9l1.3 4.3-.8.7-1.4-4.2zM326.4 299.2l1.2 2.5-1.3 2.7-1.2-2zM328.4 299.4l1.4 3.3-1.2 1.8-1.4-2.9z"/><path fill="#307ef6" d="M311.2 309.5l1.6-1.1-1.7 2.8-1.6.9zM326 313.1l1.6 2.3-1.7 2.4-1.5-2.1z"/><path fill="#27c3a8" d="M325 283.1l.9-.6-1 4.3-.9.2zM325.8 282.5l.9 1.1-1 4-.9-.8z"/><path fill="#24c0ab" d="M329.8 283.2l1 4.1-.9-.3-1-4.4z"/><path fill="#0cb7c3" d="M323.3 287.8l.9-1.2-1 4.2-.9.7zM325.7 287.2l1.1 1.7-1.2 3.9-1-1.5z"/><path fill="#0cb7c6" d="M331.6 288.1l.9 3.8-.9-.8-1-4.2zM329.1 287.4l1.1 4.1-1 1.3-1.1-3.8z"/><path fill="#0fb4d2" d="M321.6 292.4l.9-1.3-1.1 3.9-.9.9zM325.6 292.4l1.2 1.9-1.2 3.5-1.2-1.6zM329.2 292.4l1.2 4-1.1 1.4-1.2-3.6z"/><path fill="#12b4d2" d="M333.3 292.8l1.1 3.6-1-.9-1.1-4z"/><path fill="#18a8db" d="M319.6 296.8l1.1-1.3-1.3 3.7-.9.9zM325.6 297.4l1 1.9-1.3 3.2-1.1-1.5z"/><path fill="#18a8de" d="M335.2 297.4l1.2 3.4-1-1-1.2-3.8zM329.3 297.4l1.3 3.8-1 1.6-1.4-3.3z"/><path fill="#2199e7" d="M337.3 301.6l1.4 3.2-1.1-.9-1.4-3.5zM334.9 302.4l1.5 4.2-.8.2-1.6-4.3zM334.1 302.5l1.6 4.3-1 .3-1.5-4.3z"/><path fill="#1e9ce7" d="M317.6 301l1.1-1.3-1.4 3.5-1.1.9zM325.3 302.1l1.2 2-1.4 3.1-1.2-1.7z"/><path fill="#24c3ab" d="M329 282.6l1 4.4-.9.8-1-4.1z"/><path fill="#0fbac3" d="M330.7 286.9l1 4.2-.9-.1-1-4.4zM329.9 286.6l1 4.4-.9.5-1-4.1z"/><path fill="#15aed8" d="M320.6 295.5l.9-.9-1.2 4-1 .6zM324.6 295.8l1.2 1.6-1.4 3.6-1-1.2z"/><path fill="#2493ed" d="M316.3 303.7l1.1-.9-1.5 3.6-1.1.6zM324.1 305.2l1.2 1.7-1.6 3.2-1.2-1.4z"/><path fill="#0fb4cc" d="M323.2 290.4l.9 0-1.1 4.2-.9 0zM331.6 290.7l1.1 4.3-.9 0-1.1-4.4zM324 290.4l.9.5-1.1 4.2-.9-.5zM330.8 290.6l1.1 4.4-.9.4-1.1-4.3z"/><path fill="#12aed8" d="M333.4 295.1l1.3 4.1-1-.3-1.2-4.3zM331 295l1.2 4.3-.9.8-1.2-4.1z"/><path fill="#18a5de" d="M320.3 298.2l.9-.2-1.3 4.2-.9.1zM321.1 298l.9.1-1.3 4.2-.9-.1zM321.9 298.1l.9.5-1.2 4.2-1-.5zM322.7 298.6l1 .8-1.4 4-.8-.6z"/><path fill="#2199ea" d="M318.2 302.2l1-.3-1.5 4-1 .2zM335.7 302.5l1.5 4.1-.9 0-1.5-4.2zM333.3 302.8l1.5 4.3-.9.5-1.4-4.1zM322.3 303l1.1 1-1.6 3.8-1.1-.8zM332.6 303.5l1.5 4.1-1.1.7-1.6-3.9z"/><path fill="#2a8df0" d="M315.9 306l1-.3-1.6 3.8-1 .3zM337.1 306.2l1.6 4.1-.9.1-1.6-4.2zM321.8 307.4l1.1 1-1.7 3.7-1.1-.9z"/><path fill="#4557f6" d="M300.9 320.4l1.9-.6-2.8 3.3-1.8.4zM303.1 322.4l1.3 0-2.9 3.8-1.3-.1zM315.3 326.2l1.5 1-3 3.7-1.4-1zM321.7 326.6l1.9 1.9-2.6 2.9-1.9-1.6z"/><path fill="#454eea" d="M296.7 323.6l1.9-.5-2.9 3.4-2 .3zM299.2 325.8l1.4-.1-3.1 4.1-1.5 0zM314 330.5l1.4 1-3.2 3.8-1.4-1zM321 331l2.1 2-2.8 3.1-2.1-1.7z"/><path fill="#396cf6" d="M308.8 316l1.2-.2-2.4 3.6-1.2.1zM340.5 317.4l2.4 4-.9.4-2.4-4.1zM318.7 318.9l1.2 1-2.4 3.4-1.1-.8z"/><path fill="#3f60f6" d="M305.5 319.2l1.3-.1-2.7 3.7-1.3 0zM345.1 320.4l2.7 4-1 .2-2.7-4zM344.2 320.6l2.7 4-.9.2-2.6-4zM341 321.6l2.6 4-.9.4-2.7-4zM340.1 322l2.7 4-1 .4-2.7-3.9zM317.7 322.9l1.3 1.1-2.5 3.5-1.5-1z"/><path fill="#2793ed" d="M330.7 305.5l1.6 3.8-1.2 1.2-1.6-3.4z"/><path fill="#4554f3" d="M348.5 323.9l2.8 4-1 .2-2.9-4.1zM341.6 326l2.9 4.1-1.1.5-2.9-4z"/></g></g>
<path d="M250.4 335.1 L327.4 361.9 L404.4 335.1" fill="none" stroke="#1a1a1a" stroke-width="2.3" stroke-linejoin="miter"/>
<circle cx="327.5" cy="268.8" r="3.3" fill="#000"/>
<circle cx="339.3" cy="299.9" r="3.3" fill="#000"/>
<path d="M251.6 335.2 V233.2" stroke="#1a1a1a" stroke-width="2.7"/>
<path d="M250.6 334.2 h-3 M250.6 303.5 h-3 M250.6 272.8 h-3 M250.6 242.1 h-3" stroke="#1a1a1a" stroke-width="2"/>
<text x="244.7" y="337.8" text-anchor="end" style="font-family:'Liberation Sans',sans-serif;font-size:15px" fill="#262626">0</text>
<text x="244.7" y="307.1" text-anchor="end" style="font-family:'Liberation Sans',sans-serif;font-size:15px" fill="#262626">1</text>
<text x="244.7" y="276.4" text-anchor="end" style="font-family:'Liberation Sans',sans-serif;font-size:15px" fill="#262626">2</text>
<text x="244.7" y="245.7" text-anchor="end" style="font-family:'Liberation Sans',sans-serif;font-size:15px" fill="#262626">3</text>
<text transform="translate(230.4,284.6) rotate(-90)" text-anchor="middle" style="font-family:'Liberation Sans',sans-serif;font-size:14.6px" fill="#262626">Visibility (<tspan font-style="italic">d</tspan>′)</text>
<text transform="translate(280.4,362.5) rotate(19.3)" text-anchor="middle" style="font-family:'Liberation Sans',sans-serif;font-size:14.6px" fill="#262626">Vert.</text>
<text transform="translate(374.2,362.5) rotate(-19.3)" text-anchor="middle" style="font-family:'Liberation Sans',sans-serif;font-size:14.6px" fill="#262626">Hori.</text>
<g><g opacity="0.80" shape-rendering="crispEdges"><path fill="#3f33bd" d="M512.6 320.2l4.2-1.1-.8.5-4.2 1.1zM581.2 320.7l.8.2-4.2-.9-.8-.4zM582 320.8l.9.5-4.3-1-.8-.4z"/></g>
<g opacity="0.80" shape-rendering="crispEdges"><path fill="#3f33bd" d="M579.6 320l.8.4-4.2-1-.8-.4zM580.4 320.3l.8.4-4.2-1-.8-.4zM511 320.9l4.2-1.2.8-.2-4.2 1.2zM582.9 321.2l.9.5-4.2-1-1-.5z"/><path fill="#4239cc" d="M574.4 318.2l.7.4 3.9 1.8-.8-.3zM575.1 318.6l.9.4 4 1.8-1-.4z"/></g>
<g opacity="0.80" shape-rendering="crispEdges"><path fill="#3f2ab1" d="M573.3 316.5l1.7.6-4.6.6-1.7-.6zM575 317l1.5.6-4.6.2-1.5-.2zM576.5 317.5l1.4.5-4.5.3-1.5-.5zM577.9 318l1.2.4-4.6.2-1.1-.4z"/><path fill="#3f2db1" d="M579.1 318.4l1.1.3-4.6.2-1.1-.3zM580.2 318.7l1 .4-4.6.1-1-.3z"/><path fill="#3f30ba" d="M519.4 318.2l4.2-.6-1.2.2-4.3.9z"/><path fill="#3f33bd" d="M577.9 319.4l.9.4-4.3-.9-.8-.4zM578.8 319.7l.8.4-4.2-1.1-.9-.2zM511 320.9l4.2-1.2-.8.3-4.3 1.2zM510.1 321.1l4.3-1.1-1 .6-4.2.9zM509.2 321.4l4.2-.9-1 .4-4.2 1zM508.2 321.8l4.2-1-1.1.6-4.2 1zM507.1 322.3l4.2-1-1.2.6-4.2 1z"/><path fill="#4239c9" d="M580 320.8l1 .4-4-1.7-1-.5zM581 321.2l1.1.6-4-1.7-1.1-.6zM582.1 321.8l1.2.5-3.9-1.6-1.3-.6z"/></g>
<g opacity="0.80" shape-rendering="crispEdges"><path fill="#3f33bd" d="M517 318.8l4.3-.9 1.1-.1-4.3.9zM576 318.9l1 .4-4.3-1.1-1-.2zM516 319.1l4.3-.9-1 .4-4.2.9z"/><path fill="#423ccc" d="M512 321l4-1.9 1-.5-4 2.1zM510.9 321.5l4-1.9 1.1-.5-4 1.9z"/><path fill="#4239c9" d="M509.7 322l3.9-1.8 1.3-.6-4 1.9z"/><path fill="#4542d8" d="M575 317.9l1.2.8 3.6 2.2-1.3-.5z"/><path fill="#484eed" d="M572.1 315.4l1.3.8 3.2 2.8-1.2-.8z"/></g>
<g opacity="0.80" shape-rendering="crispEdges"><path fill="#3f27a8" d="M546.6 307.8l4.3 1.6-4.3 1.7-4.5-1.7zM542.3 309.2l4.5 1.7-4.1 1.4-4.3-1.5zM550.7 309.2l4.1 1.6-4.5 1.5-3.9-1.4zM538.6 310.6l4.3 1.5-3.7 1.3-4.5-1.5zM554.7 310.6l3.6 1.3-4.5 1.5-3.7-1.3zM546.6 310.7l3.9 1.4-3.9 1.4-4.1-1.4z"/><path fill="#3f27ab" d="M534.8 311.7l4.5 1.5-3.2 1.1-4.5-1.3zM558.2 311.7l3.2 1.3-4.5 1.3-3.2-1.1zM542.7 311.9l4.1 1.4-3.8 1.1-4.1-1.2zM550.3 311.9l3.8 1.3-4.1 1.2-3.6-1.1zM561.3 312.8l3 1.1-4.5 1.2-3-1zM531.7 312.8l4.5 1.3-3 1-4.5-1.2zM539 313l4.2 1.2-3.3.9-4.1-1zM554 313l3.2 1.1-4.1 1-3.3-.9zM528.7 313.7l4.6 1.2-2.5.9-4.7-1.1zM564.3 313.7l2.6 1-4.5 1.1-2.7-.9z"/><path fill="#3f2aab" d="M546.6 313.1l3.6 1.1-3.6.9-3.8-.9z"/><path fill="#3f2aae" d="M535.9 313.9l4.1 1-2.9.7-4.2-.7zM557.1 313.9l3 1-4.1.9-3-.9zM542.9 314l3.9.9-3.4.6-3.8-.6zM550 314l3.4.9-3.8.6-3.2-.6zM526.1 314.5l4.7 1.1-2.5.6-4.6-.8zM566.9 314.5l2.4.9-4.6.8-2.3-.6zM523.7 315.3l4.6.8-2.1.6-4.6-.7zM569.3 315.3l2.1.7-4.6.7-2.1-.6zM521.6 315.9l4.6.7-1.9.5-4.6-.5zM571.4 315.9l1.9.7-4.6.6-1.9-.6z"/><path fill="#3f2ab1" d="M532.9 314.7l4.2.7-2.6.7-4.1-.5zM560.1 314.7l2.7.9-4.3.4-2.6-.4zM519.7 316.5l4.6.5-1.7.7-4.6-.6zM518 317l4.6.6-1.5.2-4.6-.2zM516.5 317.5l4.6.3-1.3.4-4.7-.2z"/><path fill="#3f2db1" d="M539.7 314.7l3.8.6-2.9.5-3.9-.4zM553.3 314.7l3 .9-3.9.2-2.9-.5zM530.4 315.5l4.1.4-2.3.4-4.3-.2zM562.8 315.5l2.3.6-4.3.2-2.3-.4zM515.1 318l4.7.2-1.3.4-4.6-.2zM513.9 318.4l4.6.2-1.1.2-4.6-.1zM512.8 318.7l4.6.1-1 .3-4.6 0zM511.8 319.1l4.6 0-.9.3-4.6 0zM510.9 319.4l4.6 0-.9.3-4.6-.1z"/><path fill="#3f2db4" d="M546.6 314.7l3.3.6-3.2.3-3.6-.3zM527.9 316l4.3.2-2.2.5-4.2-.1zM565.1 316l2.1.6-4.2.1-2.2-.5z"/><path fill="#3f2db7" d="M536.7 315.3l3.9.3-2.6 0-3.9.3zM556.3 315.5l2.6.4-3.9-.2-2.6-.1zM525.8 316.6l4.2 0-1.9.1-4.2.3zM567.2 316.6l1.9.5-4.2-.3-1.9-.2z"/><path fill="#3f30ba" d="M549.9 315.1l2.9.5-3.6-.4-2.8.2zM540.2 315.6l3.6-.5 3 .3-3.7-.2zM522.2 317.6l4.2-.6-1.5.3-4.2.5zM570.8 317.6l1.5.2-4.2-.5-1.5-.3zM520.7 317.8l4.2-.5-1.3.3-4.2.6zM572.3 317.8l1.5.4-4.4-.6-1.3-.3zM573.8 318.2l1.1.5-4.3-.9-1.2-.2zM574.9 318.6l1.1.4-4.3-.9-1.1-.4z"/><path fill="#3f30b7" d="M523.9 317l4.2-.3-1.7.3-4.2.6zM569.1 317.1l1.7.5-4.2-.6-1.7-.2z"/><path fill="#3f33bd" d="M517 318.8l4.3-.9-1 .4-4.3.9zM577 319.3l.9.2-4.2-.9-1-.4zM514.2 319.8l4.3-1.2-.9.3-4.2 1.1zM513.4 320l4.2-1.1-.8.2-4.2 1.2z"/><path fill="#423ccc" d="M573.4 317.9l1 .3 3.8 1.9-.8-.3z"/><path fill="#4239c9" d="M509.7 322l3.9-1.8-1.3.8-3.9 1.7zM508.4 322.7l3.9-1.7-1.5.9-4 1.5z"/><path fill="#4542d8" d="M579.8 320.9l1.3.8-3.6-2-1.3-1z"/><path fill="#453fd5" d="M581.1 321.7l1.5 1-3.5-1.9-1.6-1.1z"/><path fill="#454bea" d="M576.6 319l1.3 1-3.3-2.5-1.2-1.3z"/></g>
<g opacity="0.80" shape-rendering="crispEdges"><path fill="#3f30ba" d="M531.8 316.2l4-.6 2.2 0-3.9.3zM555 315.7l2.4-.1 3.8.6-2.3-.3z"/><path fill="#4233bd" d="M537.6 315.6l3.6-.8 2.6.5-3.6.4zM549.2 315.3l2.7-.5 3.5.9-2.6 0zM529.6 316.6l3.9-1 2.3.1-4 .6z"/><path fill="#4233c0" d="M543.4 315.3l3.2-.7 3 .7-2.9.3zM527.7 316.7l3.9-1 1.9 0-3.9 1zM559.5 315.7l1.9 0 3.9 1.2-1.9-.2z"/><path fill="#3f33bd" d="M557.4 315.7l2.1-.1 3.9 1-2.2-.3zM515.1 319.4l4.2-.9-.8.1-4.3 1.2z"/><path fill="#4236c3" d="M535.4 315.7l3.3-1.2 2.5.5-3.6.8zM551.8 315l2.4-.4 3.6 1.1-2.4.2zM526 317.1l4-1.4 1.6.1-3.9 1zM561.4 315.7l1.6.1 4 1.3-1.7-.2z"/><path fill="#4239c9" d="M540.8 315l3.1-1 2.9.8-3.3.7zM546.4 314.8l2.6-.8 3.2 1-2.7.5zM533.1 315.7l3.7-1.3 2 .3-3.4 1.2zM554.2 314.8l2.2-.4 3.5 1.3-2.1.2zM522 317.9l3.9-1.8 1.2-.1-3.9 1.7zM565.9 316l1.2.2 3.9 1.7-1.2-.2zM520.9 318.1l3.9-1.8 1.1-.2-3.9 1.8zM567.1 316.2l1.1.3 3.9 1.7-1.1-.3zM568.2 316.5l1 .1 3.9 1.8-1-.2z"/><path fill="#423ccf" d="M538.4 314.7l3.3-1.3 2.4.8-3.2 1zM548.9 314.2l2.6-.8 3.1 1.4-2.5.4zM531.2 315.9l3.6-1.8 2 .5-3.7 1.3zM556.4 314.6l1.8-.5 3.6 1.8-1.9 0z"/><path fill="#423fd2" d="M543.7 314.2l2.9-1.2 2.7 1.2-2.7.8zM529.6 315.9l3.5-2 1.7.3-3.6 1.8zM558.2 314.2l1.7-.2 3.5 2-1.6 0z"/><path fill="#4236c6" d="M524.5 317.4l3.9-1.6 1.6-.1-4 1.4zM563 315.8l1.6.1 3.9 1.5-1.5-.3z"/><path fill="#4542d5" d="M536.4 314.7l3.1-2 2.3.9-3.3 1.3zM551.4 313.6l2.1-.8 3.3 1.9-2.3.3z"/><path fill="#4239c6" d="M523.2 317.7l3.9-1.7 1.3-.2-3.9 1.6zM564.6 315.9l1.3.1 3.9 1.7-1.3-.3z"/><path fill="#4545db" d="M546.4 313.2l2.5-1.2 2.9 1.6-2.7.8zM541.4 313.6l2.7-1.6 2.7 1.2-2.9 1.2zM524.4 316.5l3.5-2.5 1.1 0-3.5 2.4zM564 314.1l1.1 0 3.5 2.6-1.1-.2zM565.1 314.2l1 .2 3.5 2.4-1 0zM572.9 316.7l1 .5 3.5 2.5-1-.4zM573.9 317.3l1.1.5 3.5 2.5-1.1-.5zM513.2 320.4l3.6-2.5 1.2-.6-3.5 2.6zM513.2 320.4l3.6-2.4-1.3.9-3.6 2.3z"/><path fill="#4545de" d="M534.4 314.4l3.3-2.2 1.9.6-3.1 2zM553.4 312.9l2.1-.5 3.1 2-1.9.4zM523.4 316.7l3.5-2.6 1 0-3.5 2.5zM522.4 316.9l3.6-2.7.9 0-3.5 2.6zM566.1 314.5l.9 0 3.6 2.5-1-.1zM521.6 317.1l3.6-2.7.8-.1-3.6 2.7zM567 314.6l.8.1 3.6 2.6-.8-.2zM520.8 317.3l3.5-2.7.9-.1-3.6 2.7zM567.8 314.8l.9.1 3.5 2.6-.8-.1zM520 317.7l3.5-2.9.8-.1-3.5 2.7zM568.7 315l.8.2 3.5 2.6-.8-.2zM569.5 315.3l.9.2 3.4 2.6-.8-.2zM570.4 315.6l.7.2 3.7 2.6-1-.2zM517.5 318.5l3.6-2.7.8-.3-3.5 2.7zM571.1 315.9l.8.3 3.6 2.6-.7-.4zM516.6 318.8l3.5-2.6 1-.3-3.6 2.7zM571.9 316.3l1 .3 3.5 2.6-.9-.3zM515.6 319.3l3.5-2.7 1-.3-3.5 2.6zM514.5 319.8l3.5-2.6 1.1-.5-3.5 2.7z"/><path fill="#453fd5" d="M528 316l3.6-2.2 1.5.2-3.5 2zM559.9 314.1l1.5-.2 3.6 2.2-1.6 0z"/><path fill="#4548e4" d="M548.7 312.2l2.2-1.1 2.9 2-2.1.7zM539.2 312.9l2.8-1.9 2.3 1.2-2.7 1.6z"/><path fill="#454be7" d="M543.9 312.2l2.7-1.6 2.5 1.6-2.5 1.2zM531.2 314.1l3.2-2.5 1.6.3-3.2 2.4zM557 312l1.6-.3 3.2 2.5-1.6.2zM574.6 317.5l1.6 1.2 3.3 2.3-1.6-1z"/><path fill="#4548e1" d="M532.7 314.2l3.2-2.4 1.9.5-3.3 2.2zM555.4 312.5l1.7-.6 3.2 2.4-1.8.2z"/><path fill="#4542d8" d="M526.7 316.2l3.6-2.4 1.3.1-3.6 2.2zM561.4 314l1.3-.1 3.6 2.3-1.3 0zM562.7 314l1.3 0 3.5 2.4-1.2-.1zM510.4 322.1l3.5-2.2 1.6-1-3.6 2.3z"/><path fill="#4239cc" d="M519.9 318.4l3.9-1.9 1-.2-3.9 1.8zM569.2 316.6l1 .2 3.9 1.9-1-.3zM570.2 316.8l.8.3 3.9 1.9-.8-.3z"/><path fill="#484eed" d="M550.8 311.2l2-.8 3 2.3-2.1.5zM537.4 312.5l2.8-2.3 2 .9-2.9 2zM528.6 314.2l3.2-2.8 1.4.1-3.2 2.7zM559.8 311.6l1.4-.2 3.2 2.9-1.4 0zM515.1 319.2l3.3-2.8 1.4-1-3.4 2.9z"/><path fill="#423ccc" d="M518.9 318.7l3.9-2 1-.2-3.9 1.9zM518.1 318.8l3.9-1.9.8-.2-3.9 2zM517.2 319.1l4-2 .8-.2-3.9 1.9zM571 317.1l.8.2 4 1.9-.9-.2zM516.4 319.3l4-1.8.8-.4-4 2zM571.8 317.3l.8.3 4 1.9-.8-.3zM515.6 319.7l4-2.1.8-.1-4 1.8zM572.6 317.6l.8.3 4 1.9-.8-.3zM514.8 319.9l4-2 .8-.3-4 2.1zM514 320.2l3.9-1.9.9-.4-4 2zM513 320.7l4-2.1.9-.3-3.9 1.9z"/><path fill="#4542db" d="M525.5 316.3l3.5-2.4 1.3 0-3.6 2.4z"/><path fill="#4851f3" d="M541.8 311.2l2.6-1.8 2.4 1.4-2.7 1.6zM546.4 310.8l2.2-1.4 2.6 1.9-2.3 1.1zM552.7 310.5l1.8-.9 2.9 2.6-1.7.6zM535.6 312.1l2.9-2.6 1.8.8-2.8 2.3zM525.6 314.5l3.2-3.1 1 .1-3.3 3zM524.8 314.8l3.3-3.3.8-.1-3.3 3.2zM564.1 311.7l.8.1 3.3 3.3-.8-.2zM523.9 315l3.2-3.3 1-.2-3.2 3.3zM564.9 311.8l.9.3 3.3 3.2-.9-.2zM565.8 312.1l.8.3 3.3 3.2-.8-.3zM566.6 312.4l.8.2 3.4 3.3-.9-.3zM567.4 312.6l.8.4 3.3 3.2-.7-.3zM568.2 313l.9.4 3.2 3.2-.8-.4zM519.7 316.6l3.3-3.2.9-.6-3.1 3.4zM518.7 317l3.3-3.2 1-.4-3.3 3.2zM517.6 317.6l3.3-3.1 1.1-.7-3.3 3.2z"/><path fill="#454eea" d="M529.9 314.1l3.2-2.7 1.4.3-3.2 2.5z"/><path fill="#454bea" d="M558.5 311.8l1.4-.3 3.2 2.7-1.4.1z"/><path fill="#4557f6" d="M539.9 310.5l2.8-2.4 1.9 1.5-2.7 1.8zM548.4 309.6l2.2-1.5 2.5 2.6-2.1.8z"/><path fill="#455af6" d="M544.2 309.6l2.4-2 2.2 2-2.2 1.4zM532.8 311.7l2.9-3.1 1.4.5-2.9 2.9zM555.9 309.2l1.4-.5 2.9 3.1-1.4.3zM570.7 313.4l1.3 1.3 3 3.1-1.2-1.2zM516.4 317.9l3-2.9 1.6-1.4-2.9 3.2z"/><path fill="#4557f3" d="M534.1 311.9l2.9-2.9 1.6.6-2.9 2.6zM554.4 309.7l1.6-.6 2.9 2.9-1.6.3zM575 317.8l1.6 1.2-3-2.5-1.6-1.8z"/><path fill="#425df6" d="M538.2 309.8l2.6-2.7 2 1.1-2.8 2.4zM550.4 308.2l1.7-1.1 2.7 2.8-1.9.9zM531.5 311.7l2.9-3.3 1.4.3-2.9 3.1zM557.2 308.8l1.4-.3 2.9 3.2-1.4.2zM530.4 311.8l2.9-3.7 1.2.3-2.9 3.4zM558.5 308.5l1.2-.1 2.9 3.5-1.2-.1zM568.4 311.4l1.2 1 2.9 3.4-1.2-.9zM569.5 312.4l1.2 1 3.1 3.2-1.4-.8zM518 316.8l2.9-3.2 1.4-1.2-2.8 3.4z"/><path fill="#4851f0" d="M527.5 314.3l3.2-2.9 1.2.1-3.2 2.8zM526.5 314.4l3.2-3 1.1.1-3.2 2.9zM562.2 311.6l1.1-.1 3.2 3.3-1-.3zM563.2 311.5l.9.2 3.3 3.2-1-.1zM569.1 313.4l.9.5 3.3 3.1-1-.4zM570 313.9l1 .6 3.3 3.1-1-.6zM516.4 318.3l3.4-2.9 1.1-.9-3.3 3.1z"/><path fill="#484ef0" d="M561.1 311.5l1.2 0 3.2 2.9-1.2 0zM571 314.5l1.1.9 3.3 2.8-1.1-.6z"/><path fill="#3f63f6" d="M542.4 308.3l2.2-2.3 2.2 1.8-2.4 2zM546.4 307.8l2-1.8 2.4 2.3-2.2 1.5zM536.7 309.3l2.7-3.1 1.6 1-2.7 2.7zM552 307.2l1.6-.8 2.7 3-1.6.6zM527.7 311.9l3-3.7.8-.1-2.9 3.7zM526.8 312.1l2.9-3.7 1.1-.2-3 3.7zM563.2 308.7l.9.3 2.9 3.8-.9-.3zM526 312.3l2.9-3.8.9-.1-2.9 3.7zM564 309l.9.4 2.9 3.6-.9-.2zM525.2 312.6l2.9-3.9.9-.2-2.9 3.8zM524.4 312.9l2.9-3.8.9-.4-2.9 3.9zM523.5 313.2l3-3.7.9-.4-2.9 3.8zM522.6 313.8l2.9-3.8 1.1-.5-3 3.7zM521.6 314.2l2.9-3.6 1.1-.6-2.9 3.8z"/><path fill="#3c6cf6" d="M540.6 307.4l2.3-2.9 1.9 1.6-2.2 2.4zM534.1 308.8l2.7-3.8 1.3.5-2.6 3.5zM554.9 305.8l1.3-.6 2.7 3.7-1.4.2zM567.1 309l1.4 1.4 2.6 3.4-1.3-1zM520.6 314l2.6-3.4 1.6-1.4-2.8 3.6z"/><path fill="#3c69f6" d="M548.2 306.1l1.9-1.5 2.3 2.8-1.8 1.1zM535.4 308.9l2.6-3.4 1.5.8-2.7 3.1zM553.5 306.5l1.5-.8 2.6 3.3-1.4.5zM568.4 310.4l1.4 1.5 2.6 3.2-1.4-1.3zM519 315.4l2.8-3 1.5-1.8-2.6 3.4z"/><path fill="#396cf6" d="M544.4 306.2l2.2-2.3 2 2.3-2 1.8z"/><path fill="#4545e1" d="M519.2 317.8l3.6-2.7.7-.2-3.5 2.9zM518.4 318.1l3.5-2.7.9-.2-3.6 2.7z"/><path fill="#3972f6" d="M539.1 306.5l2.3-3.1 1.7 1.2-2.3 2.9zM549.9 304.7l1.7-1.3 2.3 3.3-1.7.8zM532 308.5l2.7-4.1 1.1.2-2.7 3.9zM531.1 308.5l2.7-4.1 1 0-2.7 4.1zM558.2 304.7l1 0 2.7 4.1-1 0zM559.1 304.7l1 0 2.7 4.2-1-.1zM563.2 305.9l1 .5 2.6 4.1-.9-.4zM564.2 306.4l.9.7 2.7 4-1.1-.6zM523.1 311.8l2.7-3.8 1.2-1-2.7 4z"/><path fill="#4260f6" d="M529.4 311.8l2.9-3.7 1.1 0-2.9 3.7zM559.6 308.4l1.1 0 2.9 3.5-1.1 0zM560.6 308.4l1 0 2.9 3.7-1-.2zM566.4 310.1l1.1.6 2.9 3.6-1-.5zM567.4 310.7l1.1.7 2.9 3.5-1.1-.6zM519.4 315.8l2.8-3.4 1.3-1-2.9 3.5z"/><path fill="#3678f6" d="M542.7 304.8l2.1-2.8 2 2.1-2.2 2.3zM546.4 304.1l1.8-2 2.1 2.8-1.9 1.5zM537.7 305.8l2.3-3.6 1.6 1.3-2.3 3.1zM551.4 303.5l1.6-1.1 2.3 3.6-1.6.8zM566.3 307.1l1.4 1.9 2.3 3.3-1.3-1.5zM521.4 312.8l2.4-3.2 1.5-2.1-2.3 3.5z"/><path fill="#4854f3" d="M523.1 315.2l3.3-3.3.8-.2-3.3 3.3zM522.4 315.5l3.2-3.3.8-.3-3.3 3.3zM521.5 315.8l3.3-3.3.8-.3-3.1 3.3zM520.7 316.2l3.1-3.4 1-.3-3.3 3.3z"/><path fill="#3f60f6" d="M528.5 311.8l2.9-3.7 1 0-2.9 3.7zM561.5 308.4l1 .1 2.8 3.7-.9-.1zM562.4 308.5l.9.2 2.9 3.8-1-.3zM564.8 309.4l.9.3 2.9 3.7-.9-.4zM565.6 309.7l.9.4 3 3.7-1-.4zM520.5 314.9l2.9-3.5 1.2-.8-2.9 3.6z"/><path fill="#396ff6" d="M533 308.5l2.7-3.9 1.2.4-2.7 3.8zM556.1 305.2l1.2-.3 2.7 3.9-1.2.1zM557.2 304.9l1.1-.2 2.7 4.1-1.1 0zM565 307.1l1.1.9 2.7 3.8-1.1-.7zM566 308l1.2 1 2.7 3.8-1.2-1zM521.9 312.8l2.8-3.6 1.2-1.2-2.7 3.8z"/><path fill="#307ef6" d="M541.2 303.7l2.1-3.3 1.7 1.7-2.1 2.8zM548 302.2l1.7-1.8 2.1 3.3-1.7 1.3zM554 301.6l1.2-.5 2.4 4.2-1.2.3zM564 304.1l1.1 1.4 2.3 3.9-1.1-1z"/><path fill="#3081f6" d="M544.6 302.2l2-2.6 1.8 2.7-1.8 2zM535.4 305l2.4-4.2 1.2.6-2.4 4zM555.1 301.1l1.1-.4 2.4 4.4-1.1.2zM563 303.1l1 1 2.3 4.3-1-.9zM524.5 309.6l2.2-3.8 1.2-1.4-2.3 4z"/><path fill="#337bf6" d="M536.5 305.4l2.4-4 1.3.8-2.4 3.7zM552.8 302.4l1.3-.8 2.4 4-1.3.5zM565.1 305.5l1.2 1.6 2.4 3.7-1.3-1.4zM522.9 311l2.4-3.5 1.4-1.7-2.2 3.8z"/><path fill="#2d87f6" d="M539.8 302.5l2.1-3.7 1.6 1.7-2.1 3.3zM549.5 300.5l1.6-1.5 2.1 3.7-1.6 1.1zM532.7 304.8l2.3-4.7.9.1-2.3 4.6zM557.1 300.5l.9 0 2.3 4.6-.9 0zM531.9 304.8l2.3-4.7.8 0-2.3 4.7zM558 300.5l.8.1 2.3 4.7-.8-.2zM558.8 300.6l.8.2 2.3 4.7-.8-.2zM559.6 300.8l.9.3 2.2 4.7-.8-.3zM560.5 301.1l.7.5 2.3 4.7-.8-.5zM528.6 306.1l2.3-4.7.9-.5-2.3 4.7zM561.2 301.6l.9.8 2.3 4.4-.9-.5zM527.7 306.8l2.3-4.6.9-.8-2.3 4.7zM526.7 307.4l2.3-4.3 1-.9-2.3 4.6zM564.5 303.7l1.3 2.3 2.1 3.4-1.4-1.9z"/><path fill="#2a8af3" d="M543.1 300.7l1.9-3.3 1.8 2.4-2 2.6zM546.4 299.8l1.6-2.3 1.9 3.2-1.7 1.8zM550.9 299l1.4-1.2 2.1 4.2-1.4.8zM563.2 301.7l1.3 2 2 3.8-1.2-1.6zM525.1 307.9l2.1-3.5 1.5-2-2.2 3.8z"/><path fill="#3675f6" d="M530.4 308.6l2.5-4.2 1 0-2.7 4.1zM529.4 308.8l2.7-4.4.9 0-2.5 4.2zM560.8 304.9l.9.2 2.7 4.3-.9-.3zM528.6 308.9l2.7-4.3.9-.2-2.7 4.4zM527.8 309.1l2.7-4.3.9-.2-2.7 4.3zM561.6 305.1l.9.3 2.6 4.4-.8-.4zM527.1 309.5l2.6-4.3.8-.4-2.6 4.3zM526.3 309.9l2.5-4.2.9-.5-2.6 4.3zM525.2 310.4l2.7-4 .9-.7-2.5 4.2z"/><path fill="#2a8df3" d="M538.6 301.8l2.1-4.1 1.4 1.1-2.1 3.8z"/><path fill="#3084f6" d="M534.4 304.8l2.4-4.4 1.1.4-2.4 4.2zM556.1 300.7l1-.2 2.3 4.6-.9 0zM562.1 302.4l.9.7 2.3 4.4-.9-.7zM525.6 308.4l2.3-4 1.1-1.3-2.3 4.3z"/><path fill="#2793ed" d="M547.8 297.6l1.6-2 1.9 3.7-1.6 1.5zM541.7 299.1l1.9-3.6 1.6 2-1.9 3.3zM553.2 297l1.2-.6 2.1 4.7-1.2.4zM561.1 298.8l1 1.3 2.1 4.4-1-1zM527.7 304.8l2.1-4.4 1.1-1.4-2.1 4.5z"/><path fill="#3672f6" d="M560 304.7l.9.2 2.7 4.2-.9-.2zM562.5 305.4l.8.5 2.7 4.2-.9-.3zM524.2 311l2.7-4 1.1-.6-2.7 4z"/><path fill="#2496ed" d="M544.8 297.6l1.8-2.9 1.6 3-1.6 2.3zM554.3 296.4l.9-.4 2.1 4.9-.9.2zM560.2 297.8l.9 1 2.1 4.7-.9-.7z"/><path fill="#2790f0" d="M537.5 301.2l2.1-4.5 1.3 1-2.1 4.1zM552.1 297.8l1.3-.8 2.1 4.5-1.3.5zM562.1 300.1l1.1 1.6 2.1 4.2-1.1-1.4zM526.5 306.2l2.2-3.8 1.1-2-2.1 4.4z"/><path fill="#2d84f6" d="M533.6 304.8l2.3-4.6 1 .2-2.4 4.4z"/><path fill="#2199ea" d="M549.2 295.7l1.4-1.7 1.9 4.2-1.4 1.2zM534 300.5l2.1-5.1.8 0-2.1 5.1zM556.9 295.9l.8.2 2.1 5.1-.8-.2zM557.7 296.1l.8.4 2.2 5-.9-.3zM530.7 301.8l2.1-4.9.9-.7-2.1 5.1zM561.5 297.8l1.2 2.4 2 3.9-1.3-2zM527 304.8l1.9-3.4 1.4-2.6-1.7 4z"/><path fill="#2199e7" d="M540.5 298.1l1.9-4.2 1.4 1.7-1.9 3.6zM533.2 300.6l2.1-5.1.8-.1-2.1 5.1zM532.5 300.9l2-5.1.8-.3-2.1 5.1zM531.6 301.3l2.1-5.1.8-.4-2 5.1z"/><path fill="#1e9fe4" d="M546.4 294.8l1.5-2.4 1.7 3.5-1.6 2zM543.4 295.8l1.7-3.4 1.7 2.5-1.8 2.9zM550.4 294l1.3-1.2 1.9 4.6-1.3.8zM539.4 297.1l1.9-4.5 1.3 1.3-1.9 4.2zM560.5 295.9l1 1.9 1.9 4.3-1.1-1.6z"/><path fill="#2493ed" d="M536.5 300.8l2.1-4.7 1.2.6-2.1 4.5z"/><path fill="#2496ea" d="M535.7 300.6l2.1-4.9.9.4-2.1 4.7zM555.2 296l.9-.1 2.1 5-.9 0zM556.1 295.9l.8 0 2.1 5.1-.8-.1zM558.5 296.5l.8.5 2.1 5-.7-.5zM559.3 297l.9.8 2.1 5-.9-.8zM528.8 303.5l2.1-4.5 1-1.2-2.1 4.8z"/><path fill="#18a5de" d="M547.7 292.5l1.4-2.1 1.7 3.9-1.4 1.7zM537.6 296.1l1.8-5.1 1 .6-1.8 4.9zM530.7 299.4l2-4.7 1-1.3-2 4.8zM560 294.1l1.2 2.9 1.7 3.6-1.2-2.4z"/><path fill="#18a8de" d="M542.2 294.2l1.7-4 1.4 2.3-1.7 3.4zM553.5 291.4l1.1-.4 1.7 5.3-1 .1zM536.7 295.8l1.9-5.2.9.4-1.8 5.1zM554.5 291l.8-.1 1.8 5.4-.9 0zM556.8 291.5l.8.6 1.9 5.3-.9-.5zM557.6 292.1l1 .9 1.8 5.2-1-.8zM531.7 298.2l2-4.8.8-1.2-1.9 5.1z"/><path fill="#18a8db" d="M544.9 292.6l1.7-3.2 1.5 3.2-1.5 2.5zM555.2 290.9l.9.2 1.8 5.4-.9-.2zM556 291.1l.9.4 1.8 5.4-.9-.4z"/><path fill="#2d8af6" d="M531.1 305l2.3-4.8.8-.1-2.3 4.7zM530.3 305.2l2.4-4.7.7-.3-2.3 4.8zM529.5 305.6l2.3-4.7.9-.4-2.4 4.7z"/><path fill="#1ba2e1" d="M538.5 296.5l1.8-4.9 1.2 1-1.9 4.5zM551.5 292.8l1.2-.9 1.8 4.9-1.1.6zM559.5 294.4l1 1.5 1.8 4.6-1.1-1.3zM529.6 300.8l1.9-4.2 1.2-1.9-2 4.7z"/><path fill="#2499ea" d="M534.8 300.5l2-5.1 1 .3-2.1 4.9zM529.8 302.6l2.1-4.8.9-.9-2.1 4.9z"/><path fill="#15aed8" d="M541.1 293l1.7-4.5 1.3 1.7-1.7 4.1zM548.9 290.4l1.3-1.8 1.7 4.6-1.3 1.2zM558.9 291.7l1.1 2.4 1.7 4.1-1-1.9z"/><path fill="#12b1d5" d="M543.7 290.5l1.6-3.8 1.5 2.9-1.7 3.2zM546.4 289.5l1.3-2.7 1.6 3.9-1.4 2.1zM540.1 292l1.7-4.9 1.2 1.4-1.7 4.5zM550 288.6l1.2-1.2 1.6 4.9-1.1.9zM557.9 289.8l1 1.9 1.8 4.6-1-1.5zM531.3 297l1.6-4.2 1.2-2.2-1.5 4.5z"/><path fill="#1ba5de" d="M552.6 291.9l1-.5 1.8 5-1 .4zM558.5 293l1.1 1.4 1.7 4.8-.9-1z"/><path fill="#484eea" d="M513.5 320.1l3.3-2.6 1.6-1.1-3.3 2.8z"/><path fill="#0fb4cc" d="M542.6 288.9l1.6-4.3 1.3 2.2-1.6 3.8zM547.5 286.9l1.3-2.2 1.6 4.3-1.3 1.8zM537.6 290.8l1.6-5.4.9.2-1.5 5.4zM553.7 285.9l.9.1 1.6 5.5-.9-.2zM554.5 286l.9.4 1.6 5.5-.9-.4zM535.2 291.8l1.6-5.4.9-.7-1.6 5.5zM534.3 292.6l1.6-5.2 1-1-1.6 5.4zM557.5 287.8l1.1 2.8 1.6 3.9-1.1-2.4z"/><path fill="#0fb7cc" d="M545.1 286.9l1.5-3.2 1.3 3.3-1.3 2.8zM536.8 290.9l1.6-5.5.9 0-1.6 5.4zM536 291.2l1.6-5.5.9-.3-1.6 5.5z"/><path fill="#0fb4d2" d="M539.3 291.4l1.6-5.2 1 .9-1.6 4.9zM551.1 287.4l1-.9 1.6 5.3-1 .5zM557 288.4l1 1.4 1.7 5-1.1-1.4z"/><path fill="#15abdb" d="M535.9 295.8l1.8-5.4 1 .2-1.9 5.2zM535.1 295.9l1.8-5.4.9-.1-1.8 5.4zM534.3 296.2l1.8-5.4.9-.3-1.8 5.4zM533.5 296.6l1.9-5.2.8-.6-1.8 5.4zM532.6 297.3l1.8-5.1 1-.8-1.8 5.2zM530.1 299.2l1.7-3.7 1.2-2.7-1.7 4.2z"/><path fill="#0fb7c6" d="M541.6 287.5l1.6-4.6 1.2 1.7-1.6 4.3z"/><path fill="#0fb7c9" d="M548.6 284.7l1.2-1.6 1.6 4.7-1.2 1.2zM556.5 285.4l1 2.4 1.6 4.3-1.1-1.9zM532.8 293.2l1.6-3.8 1.1-2.8-1.5 4.4z"/><path fill="#0fbac0" d="M544 284.9l1.4-3.9 1.4 2.8-1.5 3.3zM546.4 283.8l1.2-2.7 1.4 3.9-1.3 2.2zM540.8 286.6l1.5-5 1 1.3-1.5 4.6zM556.3 284.2l1.5 3.3 1 3.5-1.2-2.8z"/><path fill="#0fb4cf" d="M538.5 291l1.5-5.4 1 .6-1.6 5.2zM552 286.5l1-.5 1.7 5.4-1.1.4zM552.9 286l.9-.1 1.6 5.4-.8.1zM555.3 286.4l.9.8 1.6 5.3-.9-.6zM556.1 287.2l1 1.2 1.6 5-1-.9zM533.5 293.8l1.5-5 1-1.4-1.6 5.2z"/><path fill="#0cbac3" d="M549.7 283.1l1-1.2 1.5 5-1 .9zM555.6 283.6l1 1.8 1.5 4.8-1-1.4z"/><path fill="#21c0ae" d="M543 283.3l1.4-4.4 1.2 2.1-1.4 4z"/><path fill="#1ec0b1" d="M547.4 281.1l1.2-2.1 1.4 4.5-1.2 1.6zM538.3 285.8l1.5-5.4.9 0-1.5 5.4zM537.5 286.1l1.5-5.3.9-.4-1.5 5.4zM536.7 286.8l1.5-5.2.9-.8-1.5 5.3zM555.3 281.4l1.1 2.8 1.3 4-1.1-2.4z"/><path fill="#27c3a8" d="M545.2 281.2l1.4-3.2 1.2 3.3-1.2 2.8zM535.3 287l1.3-3.9 1.1-2.6-1.3 4.3z"/><path fill="#15bdba" d="M539.9 286l1.5-5.2 1 .8-1.5 5z"/><path fill="#15babd" d="M550.6 281.9l1-.7 1.5 5.2-1 .5zM554.7 282.4l1 1.2 1.5 5.2-1-1.2z"/><path fill="#2dc3a2" d="M542.1 282l1.5-4.6 1 1.5-1.4 4.4zM548.4 279l1.2-1.5 1.2 4.8-1 1.2zM554.5 279.2l.9 2.2 1.3 4.4-1-1.8z"/><path fill="#39c996" d="M544.2 279.2l1.4-3.8 1.2 2.7-1.4 3.3zM546.4 278.1l1.2-2.6 1.2 3.8-1.2 2.2zM554.2 277.8l1 3.2 1.3 3.6-1.1-2.8z"/><path fill="#1bbdb4" d="M539.1 285.8l1.5-5.4.9.4-1.5 5.2zM552.3 280.8l.9.1 1.5 5.5-.9-.1zM553.1 280.9l.9.5 1.5 5.4-.9-.4z"/><path fill="#18bdb7" d="M551.5 281.2l.9-.4 1.5 5.5-.9.1zM553.9 281.4l.9 1 1.5 5.2-.9-.8zM535.8 287.8l1.5-5 1-1.2-1.5 5.2z"/><path fill="#36c999" d="M541.3 281.2l1.3-5 1.1 1.2-1.4 4.6z"/><path fill="#36c699" d="M549.5 277.5l.9-1 1.3 5.1-1 .7zM553.5 277.7l1.1 1.5 1.2 4.8-1-1.2z"/><path fill="#4ec984" d="M543.4 277.8l1.2-4.4 1.2 2-1.4 3.9zM547.4 275.5l1-1.9 1.4 4.3-1.2 1.5zM553.3 275.4l1 2.4 1.2 4-.8-2.2z"/><path fill="#57c97b" d="M545.4 275.6l1.2-3.2 1.2 3.3-1.2 2.7z"/><path fill="#3fc990" d="M540.5 280.8l1.3-5.1.9.5-1.3 5zM551.1 276l.9.1 1.3 5.2-.9-.1zM551.9 276.1l.9.5 1.3 5.2-.9-.5z"/><path fill="#3cc993" d="M550.3 276.5l.9-.5 1.3 5.2-.9.4zM552.7 276.6l.9 1.1 1.3 5.1-.9-1z"/><path fill="#5dc975" d="M542.5 276.6l1.2-4.6 1 1.4-1.1 4.4z"/><path fill="#5ac978" d="M548.3 273.6l1-1.2 1.2 4.5-.9 1zM552.5 273.4l.9 2 1.3 4.2-1.1-1.5z"/><path fill="#6cc966" d="M544.4 273.7l1.2-3.7 1.2 2.5-1.2 3.3zM546.4 272.5l1-2.4 1.2 3.9-1 1.9zM540.9 276l1.2-4.9.9.3-1.2 4.7zM552.3 271.8l.9 3 1.2 3.4-1-2.4z"/><path fill="#42c98d" d="M539.7 280.8l1.3-5.2.9.1-1.3 5.1zM538.1 282l1.3-5 .9-1-1.3 5.2zM536.5 283.5l1.3-3.5 1-3.1-1.2 4z"/><path fill="#66c96c" d="M541.7 276.1l1.2-4.7.9.6-1.2 4.6z"/><path fill="#66c96f" d="M549.2 272.4l.9-.8 1.2 4.8-.9.5zM551.6 272.1l1 1.3 1.1 4.7-.9-1.1z"/><path fill="#81c957" d="M543.5 272.4l1.2-4 1.1 1.6-1.2 3.8zM547.2 270.1l1.1-1.6 1.2 4.3-1.1 1.2zM551.5 269.6l.9 2.2 1.1 4-.9-2z"/><path fill="#8dc951" d="M545.4 270.2l1.2-2.8 1 2.9-1 2.5z"/><path fill="#45c98a" d="M538.9 281.2l1.3-5.2.9-.4-1.3 5.2z"/><path fill="#69c969" d="M550 271.6l.9-.1 1.2 5-.9-.1zM550.8 271.5l.9.6 1.2 4.9-.9-.5zM539.3 277.4l1.3-4.6.8-1.2-1.2 4.8z"/><path fill="#90c94e" d="M542.8 271.8l1.1-4.4.9 1-1.1 4z"/><path fill="#8dc94e" d="M548.2 268.5l.9-1 1.1 4.5-.9.8zM550.6 268.1l1 1.5 1.1 4.2-1-1.3z"/><path fill="#a5c63f" d="M544.5 268.7l1.1-3.6 1.2 2.4-1.2 2.9z"/><path fill="#a2c63f" d="M546.4 267.5l1-2.3 1.1 3.7-1.1 1.6zM550.5 266.4l1.2 2.6.8 3.2-.9-2.2z"/><path fill="#12b4d2" d="M532.5 295.1l1.5-4.5 1.1-1.8-1.5 5z"/><path fill="#6fc966" d="M540.1 276.4l1.2-4.8.9-.5-1.2 4.9z"/><path fill="#12babd" d="M534.9 289.2l1.5-4.8 1-1.6-1.5 5z"/><path fill="#1e9ce4" d="M528.5 302.8l1.8-4 1.2-2.2-1.9 4.2z"/><path fill="#96c948" d="M549 267.5l.9-.1 1.1 4.5-.9.1zM549.8 267.4l.9.7 1.1 4.4-.9-.6z"/><path fill="#99c948" d="M542 271.5l1.1-4.4.9.3-1.1 4.4z"/><path fill="#b4c639" d="M547.2 265.2l1-1.2 1 3.9-.9 1zM543.8 267.8l1-4 1 1.3-1.1 3.7zM549.7 264.6l.9 1.8 1.1 3.6-1-1.5z"/><path fill="#bdc336" d="M545.4 265.3l1.2-2.7 1 2.8-1 2.4zM543 267.5l1-4 .9.3-1 4zM542.2 268l1-3.8.9-.7-1 4z"/><path fill="#39c993" d="M537.2 283.2l1.4-4.8.9-1.4-1.3 5z"/><path fill="#99c945" d="M541.2 272l1.1-4.4.9-.5-1.1 4.4z"/><path fill="#0cb7c6" d="M533.9 291l1.5-4.4 1.1-2.2-1.5 4.8z"/><path fill="#bac339" d="M548.1 264l.9-.2 1 4-.9.1zM548.9 263.8l.9.8 1 3.9-.9-.7z"/><path fill="#d2bd36" d="M546.4 262.6l.9-1.6 1.1 3.4-1 1.2zM544.6 264.2l1.1-3.2 1.1 1.7-1.2 2.8zM548.8 261.6l.9 2.2 1 3-.9-1.8z"/><path fill="#30c69c" d="M536.3 284.8l1.3-4.3 1.1-2.1-1.4 4.8z"/><path fill="#60c972" d="M538.5 278.8l1.1-4.3 1.1-1.7-1.3 4.6z"/><path fill="#93c94b" d="M540.5 273.2l1.1-4.2.8-1.4-1.1 4.4z"/><path fill="#dbbd36" d="M547.2 261l.9-.4 1 3.6-.9.2zM543.9 263.9l1-3.5.9.6-1 3.2zM543.1 264.6l1-3.2.9-1-1 3.5zM548 260.6l.9 1 1 3.4-.9-.8z"/><path fill="#e4ba39" d="M545.5 261.2l1.1-2.3.9 2.3-.9 1.8z"/><path fill="#54c97e" d="M537.5 280.9l1.2-4 1-2.4-1.1 4.3z"/><path fill="#87c954" d="M539.5 274.9l1.1-3.8 1.1-2.1-1.1 4.2z"/><path fill="#b7c339" d="M541.5 269.4l.9-3.5.9-1.7-1 3.8z"/><path fill="#edb73c" d="M544.7 260.8l1-2.8 1.1.9-1.1 2.5zM546.4 258.9l.9-.8 1 2.9-1 .4zM544 261.8l.9-2.6.9-1.2-.9 2.8zM547.2 258.1l.9 1.3.9 2.6-.9-1z"/><path fill="#75c960" d="M538.6 277.3l1.2-3.3.9-2.9-1.1 3.8z"/><path fill="#a8c63c" d="M540.5 271.5l1.2-3.1.8-2.5-.9 3.5z"/><path fill="#d5bd36" d="M542.3 266.3l1-2.9.9-2-1 3.2z"/><path fill="#f6ba3c" d="M545.5 258.2l1.1-1.5.9 1.7-.9.9z"/></g>
<g opacity="0.80" shape-rendering="crispEdges"><path fill="#3f2db1" d="M581.2 319.1l.9.3-4.6 0-.9-.2zM582.1 319.4l.9.2-4.6.1-.9-.3zM583 319.6l.8.3-4.6.1-.8-.3zM510 319.6l4.6.1-.8.2-4.6 0zM583.8 319.9l.8.3-4.6.1-.8-.3zM509.2 319.9l4.6 0-.8.3-4.6 0zM584.6 320.2l.8.4-4.6 0-.8-.3zM508.4 320.2l4.6 0-.8.4-4.6 0zM585.4 320.6l.8.2-4.6 0-.8-.2zM507.6 320.6l4.6 0-.8.2-4.6 0zM506.8 320.8l4.6 0-.9.3-4.6 0zM586.2 320.8l.9.3-4.6.1-.9-.4zM505.9 321.1l4.6 0-.9.3-4.6 0zM587.1 321.1l.9.3-4.6.2-.9-.4zM588 321.4l1 .4-4.6.1-1-.3zM505 321.4l4.6 0-1 .4-4.6 0zM589 321.8l1.1.4-4.6.3-1.1-.6zM504 321.8l4.6 0-1.1.5-4.6-.1zM502.9 322.2l4.6.1-1.2.5-4.6-.1zM595.8 326.6l2.3 1.2-4.3.6-2.3-1.5zM494.9 327.4l4.3.3-2.6 1.6-4.2-.5zM596.7 329.4l3.1 1.6-3.9.8-3-2.2zM595.9 333.5l3.9 2.3-3.1.6-3.8-2.6zM490.4 333.9l3.4.4-4.3 2.2-3.1-.7zM593.9 336.5l4.2 2.6-2.4.7-4.2-2.9zM586.7 341.5l4.6 3-1.2.5-4.6-3.1zM585.5 341.8l4.6 3.1-1.1.4-4.6-3.1zM584.4 342.1l4.6 3.1-1 .6-4.6-3.3zM583.4 342.4l4.6 3.3-.9.3-4.6-3.2zM582.5 342.7l4.6 3.2-.9.3-4.6-3.2zM581.6 342.9l4.6 3.2-.8.4-4.6-3.2zM580.8 343.2l4.6 3.2-.8.4-4.6-3.2zM580 343.5l4.6 3.2-.8.4-4.6-3.3zM579.2 343.7l4.6 3.3-.8.4-4.6-3.3zM578.4 344l4.6 3.3-.9.5-4.6-3.3zM577.5 344.4l4.6 3.3-.9.3-4.6-3.2zM576.6 344.7l4.6 3.2-1 .5-4.6-3.2zM575.6 345.1l4.6 3.2-1.1.5-4.6-3.2zM574.5 345.5l4.6 3.2-1.2.6-4.5-3.2zM558.6 348.4l4.2 2.7-2.8 1.4-4.1-2.7zM539.8 350.4l3.4 2.2-4.2 1.7-3.2-1.7z"/><path fill="#3f2ab1" d="M590.1 322.1l1.2.6-4.6.3-1.2-.6zM591.3 322.6l1.5.6-4.7.5-1.4-.8zM501.7 322.6l4.6.2-1.4.6-4.5-.2zM592.8 323.1l1.4.7-4.6.5-1.5-.7zM500.4 323.1l4.5.2-1.5.8-4.6-.3zM498.8 323.7l4.6.3-1.6.8-4.7-.2zM594.2 323.7l1.7.9-4.5.4-1.8-.8zM598 327.6l2.8 1.4-4.3.8-2.7-1.6zM492.5 328.6l4.1.5-2.9 1.7-4.3-.8zM490.3 331.8l3.7.6-3.7 1.9-3.7-.7zM486.7 335.6l3.1.7-4.5 2-3.2-.9zM596.5 336l4.3 2.5-2.8.7-4.2-2.6zM591.4 340.4l4.5 2.7-1.7.7-4.6-3zM589.6 340.7l4.6 3-1.4.5-4.7-3zM588.1 341.1l4.7 3-1.5.5-4.6-3zM573.4 346l4.5 3.2-1.4.6-4.6-3.1zM571.9 346.6l4.6 3.1-1.5.7-4.6-2.9zM570.4 347.4l4.6 2.9-1.8.8-4.5-3zM556 349.6l4.1 2.7-3 1.5-4.1-2.5zM546.6 350.5l3.6 2.3-3.6 1.7-3.8-1.9zM536.1 352.4l3.2 1.7-4.5 1.9-3.2-1.8z"/><path fill="#3f33bd" d="M583.8 321.6l1 .4-4.2-.9-1-.5zM589.8 325.6l2.1 1.4-4-.5-2.1-1.7zM497.8 337.1l2 .4-4.6 2.5-2.1-.3zM581.8 338.4l4.1 3.7-1.2.4-4.1-3.8zM580.7 338.6l4.1 3.8-1.1.4-4.1-3.9zM579.7 338.8l4.1 3.9-.9.4-4.3-3.9zM578.6 339.1l4.3 3.9-.9.3-4.2-3.8zM577.8 339.4l4.2 3.8-.8.4-4.2-3.9zM577 339.6l4.2 3.9-.8.4-4.2-4zM576.2 339.8l4.2 4-.8.3-4.2-3.9zM575.4 340.1l4.2 3.9-.8.4-4.3-3.9zM574.5 340.4l4.3 3.9-1 .5-4.1-4zM573.8 340.7l4.1 4-1 .4-4.2-3.9zM572.8 341.1l4.2 3.9-1.1.5-4.2-3.9zM571.8 341.5l4.2 3.9-1.2.5-4.2-3.8zM570.7 342l4.2 3.8-1.2.6-4.3-3.8zM526.1 346.5l2.2 1.4-4.5 2.4-2.2-1.3z"/><path fill="#3f30ba" d="M584.8 321.9l1.1.6-4.2-.8-1.1-.7zM585.9 322.4l1.2.6-4.2-.8-1.2-.6zM505.9 322.8l4.2-1-1.3.8-4.3.8zM587.1 322.9l1.4.8-4.3-.8-1.3-.8zM504.5 323.3l4.3-.8-1.6.8-4.2.8zM588.5 323.6l1.5.7-4.2-.6-1.6-.9zM503 324l4.2-.8-1.6 1-4.2.6zM591.9 326.7l2.3 1.6-3.8-.1-2.5-1.9zM498.8 327.5l4-.4-2.8 1.9-3.8.2zM593.1 329.5l3.1 2.2-3.4.1-3.1-2.5zM497 330.4l3.4-.2-3.4 2.4-3.4-.1zM592.8 331.4l3.4 2.4-3.1.3-3.4-2.8zM497.1 332.2l3 0-3.8 2.6-2.9-.3zM590.5 333.8l3.7 3-2.4.4-3.9-3.3zM496.5 334.4l2.7.2-4.2 2.6-2.6-.4zM495.2 336.8l2.6.4-4.6 2.6-2.5-.6zM585.9 337.6l4.1 3.4-1.6.5-4.2-3.6zM584.3 337.8l4.2 3.6-1.5.5-4.1-3.7zM583 338.1l4.1 3.7-1.3.4-4.1-3.7zM569.5 342.5l4.3 3.8-1.6.7-4.1-3.7zM568.2 343.2l4.1 3.7-1.6.9-4.1-3.8zM566.7 343.9l4.1 3.8-1.8.7-4.1-3.5zM555.1 345.4l3.8 3.3-2.7 1.3-3.8-2.8zM546.6 346.4l3.3 2.5-3.3 2-3.5-2.3zM540.4 346.2l3.1 2.4-3.7 2.2-3.1-2.1zM534.4 346.8l2.7 1.9-4.1 2.4-2.6-1.8zM528.2 347.7l2.6 1.6-4.6 2.3-2.5-1.5z"/><path fill="#3f2aae" d="M595.9 324.5l1.9.7-4.6.7-1.8-1zM497.1 324.5l4.7.2-2 1-4.6-.5zM495.2 325.1l4.6.5-2 1.1-4.7-.6zM597.8 325l2.1 1.1-4.5.9-2.2-1.2zM493.1 325.9l4.7.7-2.5 1.2-4.6-.8zM599.9 325.9l2.4 1.1-4.6 1-2.3-1.2zM600.7 328.8l2.9 1.5-4.1.9-3.1-1.6zM489.5 329.8l4.3.8-3.4 1.6-4-.9zM486.6 331.1l3.9.9-3.7 1.8-4-1.1zM599.7 330.8l3.2 1.8-3.7.8-3.4-1.8zM599.2 333l3.7 2-3.3.9-3.8-2.3zM486.8 333.4l3.7.7-3.9 1.9-3.8-1zM483.1 334.8l3.7 1-4.6 1.8-3.7-1zM599.5 335.5l4.1 2.1-2.9 1-4.3-2.5zM597.8 338.8l4.5 2.4-2.5.8-4.4-2.5zM595.5 339.4l4.4 2.5-2.2.7-4.5-2.6zM593.2 339.9l4.6 2.6-1.9.7-4.5-2.7zM568.8 348l4.5 3-2 .8-4.5-2.8zM566.9 348.9l4.5 2.8-2.2 1.1-4.5-2.9zM564.8 349.8l4.5 2.9-2.5.9-4.4-2.6zM553.2 351.1l4 2.5-3.2 1.4-4.2-2.2zM543 352.4l3.8 1.9-4.1 1.7-3.8-1.9zM550 352.6l4.1 2.2-3.8 1.5-3.9-2zM539.1 353.9l3.8 1.9-4.3 1.8-3.9-1.8z"/><path fill="#3f30b7" d="M590 324.2l1.8.7-4.4-.2-1.6-1.1zM501.4 324.6l4.2-.5-1.8 1.2-4.4.4zM587.5 337.4l4.3 3.3-1.9.4-4.1-3.4zM565 344.8l4.1 3.5-2 1-4.1-3.4z"/><path fill="#4239c6" d="M583.3 322.3l1.3.7-3.9-1.5-1.3-.8zM502.7 331.9l2.4-.2-3.9 3.2-2.4-.1zM580.8 334.1l3.8 4-1.4.4-3.8-4.3zM508.6 338.6l1 .4-4.6 3.1-1-.4zM509.6 338.9l.9.3-4.6 3.1-.9-.3zM510.5 339.1l.9.4-4.6 3.1-.9-.4zM511.4 339.4l.8.3-4.6 3.2-.8-.4zM512.2 339.6l.8.4-4.6 3.1-.8-.3zM513 339.9l.8.4-4.6 3.1-.8-.4zM513.8 340.2l.8.4-4.6 3.2-.8-.5zM514.6 340.5l.9.4-4.6 3.2-.9-.4zM515.5 340.8l.9.5-4.6 3.1-.9-.4zM516.4 341.2l1 .6-4.6 3.1-1-.6zM535.7 342.2l2.3 2.2-3.8 2.8-2.4-1.7z"/><path fill="#3f2db7" d="M591.8 324.8l1.8 1-4.2 0-2-1.3zM499.4 325.5l4.4-.4-2.3 1.4-4.1.2zM594.1 328l2.7 1.7-3.8.2-2.6-2zM496.3 328.9l3.8-.2-3 2.1-3.7-.1zM593 333.7l3.8 2.6-2.7.6-3.7-3zM493.7 334.2l2.9.3-4.1 2.4-3.1-.5zM492.8 336.5l2.5.4-4.5 2.4-2.7-.6zM589.5 337.1l4.1 3.1-1.9.6-4.3-3.3zM563.1 345.8l4.1 3.4-2.2 1-4.2-3.1zM552.6 347l3.7 2.8-3.1 1.7-3.7-2.6zM537 348.5l3 2.1-4.1 2.2-3-1.9zM530.7 349.1l2.6 1.8-4.5 2.1-2.7-1.6z"/><path fill="#4236c6" d="M584.6 323l1.6.8-4-1.2-1.5-1.1zM506.8 323.3l4-1.4-1.7 1.1-3.9 1.3zM582.3 334l3.9 3.9-1.7.3-3.8-4zM503.7 334.5l1.9.1-4.1 3.3-2.1-.2zM506.3 338.1l1.2.4-4.6 3-1.2-.4zM507.5 338.4l1.1.3-4.6 3.1-1.1-.4zM563.1 340.1l3.9 4.1-1.8 1-3.8-3.9zM517.4 341.7l1.1.6-4.6 3.1-1.1-.6zM518.5 342.2l1.3.7-4.7 3-1.2-.6zM528 342.4l2 1.4-4.1 3.1-2-1.2z"/><path fill="#4236c3" d="M586.2 323.7l1.6 1-3.9-1-1.7-1.2zM505.2 324.2l3.9-1.3-1.9 1.3-3.8 1.1zM588.3 326.2l2.5 1.9-3.7-.6-2.3-2.2zM502.5 327l3.4-.9-2.7 2.3-3.5.5zM587.2 331l3.6 3.1-2.6.1-3.4-3.4zM501.4 334.5l2.4.1-4.3 3.2-2.1-.4zM584 333.9l3.8 3.8-1.7.3-3.9-3.9zM503.4 337.7l1.5.3-4.5 2.9-1.6-.4zM504.9 337.9l1.4.3-4.6 3-1.3-.4zM561.5 341.2l3.8 3.9-2 1.1-3.8-3.7zM519.8 342.8l1.3.8-4.6 3-1.4-.8zM552 342.1l3.4 3.6-2.8 1.7-3.4-3zM521.1 343.5l1.5 1-4.6 2.8-1.5-.8zM529.9 343.7l2.3 1.7-4.2 2.7-2.2-1.3z"/><path fill="#3f2db4" d="M593.6 325.7l2.2 1.1-4.3.2-2.1-1.3zM497.4 326.5l4.1-.2-2.3 1.6-4.3-.3zM493.6 330.4l3.6.1-3.4 2.1-3.7-.6zM596 331.4l3.4 1.9-3.4.6-3.4-2.4zM493.8 332.2l3.4.1-3.6 2.3-3.5-.4zM489.7 336.1l3.1.6-4.6 2.1-3-.7zM591.6 336.8l4.2 2.9-2.3.6-4.1-3.1zM560.9 347l4.2 3.1-2.4 1.2-4.2-2.7zM543.3 348.4l3.5 2.3-3.8 2.1-3.4-2.2zM549.7 348.7l3.7 2.6-3.4 1.7-3.6-2.3zM533.2 350.7l3 1.9-4.5 1.8-3-1.6z"/><path fill="#3f27ab" d="M602.3 326.8l2.6 1.2-4.4 1.2-2.8-1.4zM604.8 327.8l3 1.3-4.5 1.4-2.9-1.5zM488.2 327.8l4.6 1-3.1 1.4-4.5-1.1zM607.7 328.9l3.2 1.4-4.4 1.5-3.3-1.5zM485.3 328.9l4.5 1.1-3.1 1.5-4.6-1.2zM482.2 330.1l4.6 1.2-3.7 1.6-4.6-1.3zM603.5 330.1l3.3 1.5-4.2 1.2-3.2-1.8zM606.6 331.4l3.6 1.5-4 1.4-3.7-1.7zM483 332.5l4 1.1-4 1.6-4.1-1.1zM606.2 333.9l4 1.7-3.6 1.3-4.1-1.9zM479.1 333.9l4.1 1.1-4.5 1.8-4-1.2zM602.6 334.8l4.2 1.9-3.3 1.1-4.1-2.1zM606.5 336.5l4.4 1.8-3.2 1.3-4.5-2zM603.3 337.4l4.5 2-3 1.1-4.4-2.1zM600.5 338.2l4.4 2.1-2.7 1-4.5-2.4zM559.8 352.1l4.5 2.3-3 1.4-4.5-2.2zM556.9 353.4l4.5 2.2-3.2 1.3-4.5-2.1zM546.6 354.1l3.9 2-3.9 1.7-4.1-2zM553.9 354.6l4.4 2.1-3.6 1.5-4.6-2.1zM542.7 355.6l4.1 2-4.5 1.7-3.9-1.9z"/><path fill="#3f2aab" d="M490.7 326.8l4.6.8-2.5 1.4-4.7-1zM602.7 332.4l3.7 1.7-3.7 1.1-3.7-2zM562.5 350.9l4.4 2.5-2.7 1.2-4.5-2.3z"/><path fill="#4233c0" d="M587.8 324.6l2 1.2-4-.8-1.9-1.4zM503.4 325.1l3.8-1-2.1 1.6-4 .8zM499.8 328.6l3.5-.5-3.1 2.4-3.4.2zM589.9 329.2l3.1 2.5-3.1-.1-3.1-2.8zM500 332.1l2.8-.1-3.9 2.9-2.7-.2zM585.9 333.9l3.9 3.5-2.1.4-3.8-3.8zM499.8 337.4l2 .2-4.7 2.7-1.9-.4zM501.8 337.5l1.6.3-4.6 2.8-1.7-.4zM559.6 342.4l3.8 3.7-2.3 1.3-3.7-3.5zM522.5 344.4l1.8 1.1-4.5 2.7-1.8-1zM549.4 344.2l3.4 3-3.1 1.9-3.3-2.5zM537.8 344.2l2.8 2.2-3.8 2.5-2.7-1.9zM524.2 345.4l2 1.2-4.5 2.6-2-1.1z"/><path fill="#4542d5" d="M510.4 322.1l3.5-2.2-1.7 1.3-3.5 1.9zM583 323.6l2.2 1.9-3.3-1.1-2.1-2.3zM582 327.4l3.2 3.6-2.3-.2-3.1-3.9zM560 336l3.4 4.4-1.7 1.2-3.5-4.3z"/><path fill="#423fd2" d="M582.6 322.7l1.7 1.1-3.5-1.7-1.7-1.3zM508.7 323.1l3.5-1.9-1.8 1.5-3.6 1.6zM584.4 326.4l2.8 2.6-2.8-.5-2.8-3zM506 327.2l2.8-.9-3.1 3.2-2.8.4zM580.9 330.2l3.4 4.1-1.8.1-3.4-4.4zM513.4 335.4l1 .3-4.3 3.8-.9-.3zM514.4 335.6l.8.4-4.2 3.8-.9-.4zM515.2 335.9l.8.3-4.2 3.8-.8-.3zM516 336.1l.8.4-4.2 3.8-.8-.4zM516.8 336.4l.8.4-4.2 3.8-.8-.4zM517.6 336.7l.9.4-4.3 3.8-.8-.4zM518.5 337l.8.5-4.2 3.7-.9-.4zM519.2 337.4l1.1.5-4.3 3.7-.9-.5zM558.3 337.2l3.5 4.3-2 1.3-3.4-4.1zM543.9 338.5l2.9 3.1-3.2 2.6-2.8-2.6z"/><path fill="#423ccf" d="M584.3 323.7l1.9 1.3-3.6-1.3-1.8-1.6zM506.8 324.2l3.6-1.6-2.2 1.9-3.5 1.2zM585.1 325.2l2.4 2.2-3.2-.6-2.4-2.7zM505.6 326l3.2-1.1-2.7 2.7-3.2.7zM584.3 328.1l3.2 3.2-2.4-.2-3.2-3.6zM505.8 329.1l2.4-.5-3.4 3.4-2.4.2zM582.7 330.4l3.5 3.8-2 .1-3.4-4.1zM507.1 331.4l2-.1-3.8 3.6-1.9-.1zM510 334.8l1.3.3-4.1 3.7-1.3-.4zM511.2 335l1.2.3-4.1 3.7-1.2-.3zM512.4 335.2l1 .3-4.1 3.8-1.1-.4zM520.2 337.8l1.1.7-4.3 3.6-1-.6zM521.2 338.4l1.2.5-4.2 3.7-1.2-.6zM522.3 338.8l1.3.8-4.1 3.6-1.4-.7zM556.6 338.6l3.3 4.1-2.2 1.5-3.5-3.7zM531.5 339l2 1.6-3.8 3.5-2-1.4zM549.1 338.9l3.1 3.4-2.8 2.3-3-3zM538.6 339.1l2.6 2.5-3.4 3-2.4-2.2z"/><path fill="#4233bd" d="M501.1 326.3l4-.8-2.3 1.8-4 .5zM590.7 327.8l2.6 2-3.5-.2-2.7-2.4zM589.8 331.2l3.5 2.8-2.6.2-3.6-3.1zM588 333.8l3.9 3.3-2.2.4-3.9-3.5zM499.1 334.5l2.4.1-4 2.9-2.6-.4zM557.5 343.8l3.7 3.5-2.4 1.5-3.8-3.3zM532.1 345.2l2.4 1.8-4 2.5-2.6-1.6z"/><path fill="#454be7" d="M513.5 320.1l3.3-2.6-1.7 1.6-3.3 2.4zM579.6 322.6l2.4 3.2-2.4-1-2.7-3.4zM511.2 323.5l2.6-1.3-2.9 3.6-2.5.8zM576.3 326l3.2 4.4-1.7 0-3.2-4.7zM513.8 327.2l1.7-.2-3.5 4.4-1.6 0zM557.1 331.7l3.2 4.6-1.8 1.3-3.1-4.4zM531.5 332.6l1.6 1.4-3.4 4.1-1.7-1.2zM544.1 332.9l2.7 3.1-2.9 2.9-2.5-2.7z"/><path fill="#4548e1" d="M579.5 321l1.7 1.3-3.3-2-1.7-1.7zM578 326.4l3.2 4.2-1.8-.2-3.2-4.4zM512.1 327.5l1.8-.3-3.4 4.2-1.8.2zM518.7 331.8l.9.2-3.9 4.5-.9-.2zM519.5 332l.9.4-3.9 4.4-.9-.3zM520.3 332.4l.9.2-3.9 4.5-.9-.3zM521.1 332.6l.9.3-3.8 4.5-1-.3zM533 333.9l1.8 1.6-3.5 3.9-1.7-1.4z"/><path fill="#4239c9" d="M586.2 324.8l2.1 1.7-3.5-1-2.2-1.9zM504.7 325.5l3.5-1.2-2.3 2.1-3.5.9zM587.3 327.1l2.8 2.4-3.1-.4-2.8-2.6zM503.1 328l3.1-.7-3.1 2.7-3.1.4zM587 328.7l3.1 2.8-2.8-.1-3.1-3.2zM503.2 329.6l2.7-.4-3.3 3.1-2.9.1zM584.9 330.7l3.4 3.4-2.2.2-3.5-3.8zM505.5 334.5l1.7.2-4.1 3.4-1.7-.3zM579.5 334.2l3.8 4.3-1.3.3-3.9-4.4zM578.2 334.4l3.9 4.4-1.2.2-3.9-4.5zM567.2 337.9l3.8 4.5-1.3.5-3.8-4.3zM566 338.5l3.8 4.3-1.4.8-3.8-4.3zM564.7 339.2l3.8 4.3-1.6.8-3.9-4.1zM554.4 340.4l3.4 3.7-2.6 1.7-3.4-3.6zM526.3 341.4l1.8 1.1-4.1 3.3-1.8-1.1zM546.6 341.4l3 3-3 2.4-3.2-2.8zM541 341.4l2.8 2.6-3.4 2.6-2.8-2.2z"/><path fill="#4548e4" d="M511.8 321.4l3.3-2.4-1.9 1.8-3.2 2zM580.2 322l2.1 2.3-2.8-1.3-2.4-2.6zM510.8 322.6l3-1.6-2.5 2.9-2.9 1.2zM579.6 324.4l2.7 3.4-2.3-.5-2.9-3.9zM511 325.4l2.2-.9-3.1 3.8-2.3.6zM555.6 333.1l3 4.4-1.9 1.5-3.3-4.1zM548.9 333.4l2.9 3.5-2.7 2.4-2.7-3.3zM539.4 333.7l2.4 2.5-3.2 3.3-2.2-2.1z"/><path fill="#4545de" d="M581.2 322.2l1.8 1.6-3.2-1.6-1.9-1.9zM510 322.7l3.2-1.9-2.1 2.1-3.3 1.6zM579.9 326.9l3.1 3.9-1.9-.2-3.2-4.2zM510.3 327.9l1.9-.4-3.4 4.1-2 .2zM574 330.1l3.4 4.8-1.1.2-3.4-4.9zM573 330.2l3.4 4.9-1 .2-3.5-4.9zM572 330.4l3.5 4.9-.8.3-3.6-5.1zM514.8 331.1l1.2.1-3.9 4.4-1.2-.2zM571.2 330.5l3.6 5.1-1.1.2-3.3-5.1zM515.9 331.2l1.1.2-3.9 4.4-1.1-.2zM570.5 330.7l3.3 5.1-.9.2-3.4-5zM516.9 331.4l1 .2-3.8 4.4-1.1-.2zM567.9 331.5l3.5 5.1-.9.3-3.5-5zM567.1 331.9l3.5 5-1.1.4-3.4-4.9zM566.2 332.4l3.4 4.9-1.1.5-3.4-5zM565.2 332.8l3.4 5-1.2.5-3.4-4.9zM522.7 333.4l1.1.4-3.8 4.4-1.1-.4zM523.7 333.8l1.1.6-3.8 4.4-1.1-.6zM524.7 334.4l1.2.6-3.8 4.2-1.2-.4zM553.6 334.8l3.2 4.1-2.4 1.9-3-4zM534.7 335.4l2.1 1.8-3.6 3.7-2-1.6z"/><path fill="#4851f3" d="M576.6 318.9l1.7 1.7-2.9-2.4-1.8-1.8zM514.7 319.3l3.1-2.6-1.9 2.2-3.1 2.2zM577.3 320.4l2.5 2.6-2.8-1.2-2.2-3.3zM513.6 321l2.5-1.6-2.5 3.2-2.6 1.3zM577.1 321.4l2.7 3.4-2.5-1-2.5-3.8zM575.5 322.5l2.8 4.3-1.8-.4-2.9-4.6zM515 323.8l1.8-.6-3.2 4.4-1.8.3zM570.1 325.4l3.2 5.2-1.1.2-3.1-5.3zM569.2 325.5l3.1 5.3-.9.1-3.2-5.3zM568.3 325.6l3.2 5.3-.8.2-3.3-5.3zM521 327.1l.9.3-3.4 4.8-1-.2zM521.8 327.4l1 .2-3.5 4.8-.9-.2zM522.7 327.6l.8.2-3.4 5-.9-.4zM564.2 327l3.2 5.3-1 .5-3.2-5.4zM523.4 327.8l.9.3-3.4 4.9-.9-.2zM563.3 327.4l3.2 5.4-1.1.4-3.2-5.3zM524.2 328.1l1 .4-3.5 4.8-.9-.3zM562.3 327.9l3.2 5.3-1.2.6-3.2-5.2zM525.1 328.5l.9.4-3.5 4.9-.9-.5zM552.9 329l2.9 4.4-2.2 1.8-2.8-4.1zM535.9 329.9l1.9 1.8-3.3 4.1-1.8-1.6zM546.6 330l2.5 3.6-2.5 2.6-2.7-3.1z"/><path fill="#4557f3" d="M516.4 317.9l3-2.9-1.6 1.8-3.1 2.6zM515.8 321.1l2-1-3 4.1-2 .7zM573.7 321.8l2.9 4.6-1.7-.3-2.9-4.7zM554.6 327.4l2.8 4.6-1.8 1.5-2.9-4.4zM540.1 327.9l2.1 2.6-2.8 3.6-2-2.2z"/><path fill="#3f27a8" d="M610.8 330.1l3.7 1.5-4.6 1.5-3.5-1.5zM614.3 331.4l4 1.5-4.4 1.6-4.1-1.6zM478.7 331.4l4.5 1.3-4.1 1.6-4.4-1.4zM610 332.7l4.1 1.6-4.1 1.5-4-1.7zM618.1 332.7l4.4 1.7-4.4 1.6-4.4-1.7zM474.9 332.7l4.4 1.4-4.4 1.7-4.4-1.4zM613.9 334.1l4.4 1.7-4 1.6-4.5-1.8zM609.9 335.4l4.6 1.8-3.7 1.3-4.4-1.8zM550.3 355.9l4.5 2.1-4.1 1.5-4.3-1.9zM546.6 357.4l4.3 1.9-4.3 1.7-4.5-1.9z"/><path fill="#3f63f6" d="M569.7 311.9l1.5 1.9 2.8 3-1.7-1.7zM519 315.4l2.8-3-1.7 2.1-2.7 2.6zM573.2 316l2 2.9-2.3-1.7-2.1-3.3zM518 316.7l2.3-1.9-2.3 3.4-2.3 1.6zM572.9 316.8l2.3 3.6-2.1-1.2-2.3-4zM571.3 317.7l2.7 4.5-1.8-.4-2.5-4.9zM566.5 320.4l2.9 5.5-.9.1-2.8-5.5zM565.7 320.5l2.8 5.5-.8.2-2.8-5.6zM564.9 320.6l2.8 5.6-.8.2-2.8-5.6zM564.1 320.8l2.8 5.6-.8.4-2.8-5.8zM563.3 321l2.8 5.8-.9.2-2.7-5.6zM562.5 321.4l2.7 5.6-.8.4-2.8-5.6zM561.6 321.8l2.8 5.6-.9.4-2.9-5.4zM560.7 322.4l2.9 5.4-1.1.5-2.9-5.4zM552.2 323l2.6 4.7-1.9 1.7-2.5-4.3zM546.6 324l2.2 3.6-2.2 2.8-2.4-3.2z"/><path fill="#484eed" d="M578.3 320.4l1.9 2-3.1-1.7-1.7-2.6zM512.8 320.9l3.1-2.2-2.1 2.7-3.1 1.6zM577.2 323.4l3 3.9-2-.5-2.8-4.3zM573.5 325.5l3.1 4.9-1.3 0-3.2-5zM516.7 326.9l1.3 0-3.4 4.6-1.4-.1zM517.9 326.9l1.2 0-3.4 4.7-1.2-.1zM559.9 329.4l3.2 5.1-1.4.8-3.2-4.9zM527.8 330l1.2.7-3.4 4.6-1.2-.5zM528.9 330.7l1.4 1-3.5 4.4-1.3-.8zM551 331l2.8 4.1-2.2 2-2.9-3.6z"/><path fill="#425df6" d="M574 316.8l1.8 1.7-2.9-2.3-1.7-2.4zM517.4 317l2.7-2.6-1.9 2.6-2.7 2.1zM573 318.8l2.8 4.1-2-.7-2.6-4.5zM517.7 320.1l1.7-.9-2.9 4.4-1.8.6zM570.8 320.9l3 5-1.4-.1-2.9-5.2zM569.6 320.6l2.9 5.2-1.2 0-2.8-5.4zM520.8 322.4l1.2 0-3.2 4.9-1.2 0zM521.9 322.4l1.1 0-3.2 5-1.1-.1zM522.9 322.4l1 .1-3.1 5-1.1-.1zM528.8 324.2l1 .5-3.2 5.1-1-.5zM529.7 324.7l1.1.7-3.2 5-1.1-.6zM557.3 324.7l2.9 5.1-1.4 1-2.9-4.9zM530.7 325.4l1.2.8-3.2 4.9-1.2-.7zM550.6 325l2.5 4.3-2.1 2.1-2.6-3.9zM538.4 325.9l1.9 2.1-2.7 4-2-1.8z"/><path fill="#3972f6" d="M570.1 312.3l1.5 1.9-2.5-2.7-1.4-2.5zM521.5 312.8l2.4-3.2-1.7 2.7-2.5 2.5zM569.3 313.7l2.2 4.4-1.6-.8-2.2-4.8zM523.2 314.4l1.6-.8-2.8 4.9-1.4.5zM566.1 315.4l2.6 5.4-1 0-2.6-5.7zM565.1 315.1l2.6 5.7-1 0-2.5-5.8zM557.3 317.7l2.7 5.6-1.2.8-2.7-5.5zM537.9 318.4l1.6 1.5-2.6 4.7-1.5-1.4zM550.1 318.8l2.3 4.5-1.8 2.1-2.4-3.9z"/><path fill="#4542d8" d="M507.8 324.3l3.3-1.6-2.4 2.5-3.2 1.1zM508.1 328.5l2.3-.5-3.5 3.8-2.2.1zM577.6 330l3.5 4.5-1.4.1-3.5-4.6zM510.7 331l1.6.1-3.8 4-1.7-.2zM561.5 334.9l3.5 4.6-1.7 1-3.4-4.4zM528.3 336.6l1.7 1.2-3.9 4-1.6-1.1zM551.6 336.7l3 4-2.6 1.8-3.1-3.5zM536.7 337.1l2.1 2.1-3.2 3.4-2.5-1.8z"/><path fill="#4557f6" d="M575.8 318.2l1.7 2.6-2.7-1.9-1.9-2.9zM515.6 318.7l2.6-2-2.2 3.1-2.6 1.6zM574.9 320l2.6 3.8-1.8-.9-2.8-4.1zM518.3 322.8l1.5-.3-3.3 4.8-1.4.1zM533.1 327.2l1.4 1.3-3.2 4.5-1.4-1zM548.6 327.4l2.6 3.9-2.3 2.5-2.5-3.7z"/><path fill="#3c69f6" d="M571.6 314l1.7 2.4-2.5-2.2-1.7-2.8zM519.7 314.4l2.5-2.3-2 3.1-2.4 1.9zM520 316.5l1.8-1.1-2.7 4.2-1.7.9zM569.8 316.9l2.5 4.9-1.3-.5-2.5-5.1zM522.2 318.1l1.3-.3-2.9 5-1.2.1zM523.4 317.8l1.2-.2-2.9 5.2-1.2 0zM533.3 320.6l1.2 1-2.9 5-1.2-.8zM534.4 321.6l1.4 1.2-2.9 4.8-1.4-1zM553.7 321.4l2.6 4.9-1.7 1.5-2.6-4.7zM548.4 321.4l2.4 3.9-2.2 2.5-2.2-3.7zM540.8 322l2 2.5-2.7 3.8-1.9-2.1z"/><path fill="#2d84f6" d="M525.1 307.9l2.1-3.5-1.4 2.7-2.2 2.9zM563 309.6l2.3 5.9-.9-.1-2.3-6zM549.7 312.4l2.1 4.6-1.7 2.2-2.1-4.3z"/><path fill="#307ef6" d="M568 309.4l1.4 2.4-2.2-3-1.4-2.8zM523.9 309.9l1.8-2.1-2 4.1-1.8 1.5zM567.4 309.9l2 4.2-1.6-1.2-2-4.7zM528.8 312.4l.9 0-2.6 5.6-.8-.1zM532.9 313.5l.9.6-2.6 5.7-.7-.6zM544.8 314.5l2 3.4-2.2 3.4-1.9-3z"/><path fill="#2793ed" d="M564.7 304.1l1.3 2.3-2-3.3-1.3-2.9zM527.3 304.5l1.6-2.3-1.8 4.2-1.6 1.8zM564.2 304.1l1.8 4.5-1.4-1.5-1.9-4.9zM553.4 306.8l2 6-1.2 1.1-2.1-5.5zM545 307.8l1.8 3.5-2 3.6-1.7-2.9z"/><path fill="#4545db" d="M582.2 324l2.4 2.7-2.9-.9-2.3-3.2zM508.6 324.8l2.8-1.2-2.8 3-2.8.9zM581.8 325.4l2.8 3-2.5-.6-2.7-3.4zM508.7 326.2l2.4-.7-3.2 3.4-2.4.5zM575.1 330l3.4 4.8-1.2.1-3.4-4.8zM513.5 331l1.4.1-3.9 4.3-1.3-.2zM564.1 333.4l3.4 4.9-1.3.6-3.5-4.8zM562.8 334.1l3.5 4.8-1.4.7-3.5-4.7zM525.8 334.9l1.3.9-3.8 4.1-1.3-.8zM546.6 335.8l2.7 3.3-2.7 2.7-2.9-3.1zM541.6 336l2.5 2.7-3.1 3.1-2.6-2.5z"/><path fill="#337ef6" d="M523.5 309.7l2.2-2.7-1.7 3.3-2.1 2.2zM527.9 312.4l.9 0-2.5 5.5-1 0zM533.8 314.1l.9.7-2.6 5.5-.9-.5zM548.2 314.8l2.1 4.3-1.9 2.7-2-4z"/><path fill="#3678f6" d="M569.5 311.5l1.6 2.8-2.1-2.1-1.7-3.5zM569.1 311.8l2 3.8-1.8-1.5-2-4.2zM567.7 312.5l2.3 4.8-1.3-.7-2.4-5.2zM524.7 313.6l1.1-.6-2.6 5.2-1.2.3zM536.7 316.9l1.4 1.5-2.5 4.8-1.5-1.2zM551.6 316.7l2.3 5.1-1.7 1.6-2.3-4.5z"/><path fill="#2790f0" d="M526.9 304.7l2-3.3-1.5 3.5-1.9 2.5zM563.3 305.5l2 5.5-1.2-.6-2-5.8zM530.9 307l.9-.1-2.3 5.9-.9 0zM531.8 306.9l.9.1-2.4 5.9-.8-.1zM532.7 307l.7.2-2.3 6-.8-.3zM533.4 307.2l.8.4-2.3 5.9-.8-.3zM534.2 307.6l.8.5-2.3 5.8-.8-.4zM534.9 308.1l1 .6-2.2 5.8-1-.6zM552.3 308.4l2.1 5.5-1.4 1.4-2.1-5.2zM548 308.1l1.9 4.6-1.7 2.5-1.8-4z"/><path fill="#2a8af3" d="M566.1 306.1l1.4 3-1.9-2.3-1.5-3.7zM565.7 306.4l1.8 3.9-1.6-1.7-1.8-4.5zM551.1 310.1l2.1 5.2-1.6 1.8-2.1-4.6z"/><path fill="#1e9fe4" d="M563 300.5l1.3 3-1.7-2.7-1.4-3.8zM562.7 300.4l1.6 4.1-1.5-1.9-1.6-4.7zM530.2 300.2l1.3-1.6-1.8 5.2-1.2 1.1zM561.6 300.5l1.8 5.4-1.2-.9-1.7-5.6zM532.7 301.4l1 0-2 5.9-1 .1zM533.6 301.4l.9 0-1.9 6-1-.1zM534.4 301.4l.9.1-2 6.1-.8-.2zM535.2 301.5l.9.3-2 6.2-.9-.4zM536 301.8l.9.6-2 6.1-.9-.5zM536.8 302.4l1 .8-2 5.9-1-.6zM542.4 302.4l1.4 2.6-1.9 4.6-1.4-2z"/><path fill="#1ba5e1" d="M530.1 299.2l1.7-3.7-1.3 3.4-1.8 2.9zM530.3 298.6l1.5-2.4-1.6 4.4-1.5 2zM545.1 300.9l1.7 3.7-1.8 3.6-1.6-3zM547.9 301.1l1.7 4.7-1.6 2.7-1.6-4z"/><path fill="#12b1d5" d="M560.2 294.5l1.2 2.9-1.7-3.1-1.1-3.7zM559.9 294l1.5 4.3-1.3-2.1-1.5-4.8zM532.9 294.1l1.2-1.7-1.5 5.4-1.3 1.2zM559 294.1l1.7 5.7-1.1-1-1.7-6zM536.1 295.4l.9.2-1.8 6.3-.9-.1zM536.9 295.6l.9.4-1.8 6.2-.9-.3zM542.8 295.5l1.3 2.4-1.7 4.9-1.3-2zM550.2 296.2l1.7 5.6-1.3 1.8-1.7-5.2z"/><path fill="#0fb4d2" d="M532.8 293.2l1.6-3.8-1.1 3.2-1.7 3.3zM558 292.8l1.7 6-1.1-.8-1.6-6.2zM547.7 294l1.6 4.7-1.4 2.8-1.5-4.2z"/><path fill="#18bdb7" d="M535.3 287l1.4-3.9-.9 3.1-1.6 3.6zM535.6 286.2l1.1-2.6-1.3 4.6-1.2 2.1zM536.4 286.1l1-1.1-1.5 5.8-1 .8zM551.6 286.2l1.5 6.2-1 1-1.5-6zM542.3 286.7l1 1.8-1.5 5.4-1-1.5zM547.6 286.9l1.4 4.8-1.3 2.7-1.3-4.2zM545.4 286.7l1.4 3.5-1.5 4-1.3-3z"/><path fill="#396cf6" d="M571 313.9l2.1 3.3-2.1-1.6-2-3.8zM525.5 317.5l1 0-2.9 5.4-.9-.1zM531.4 319.4l1 .5-2.9 5.2-1-.5z"/><path fill="#3675f6" d="M522 312.1l2-2.2-2 3.5-2.1 1.8zM522 313l1.8-1.5-2.2 4.3-1.9 1.1zM564.2 315l2.5 5.8-.8.1-2.6-5.9zM563.3 315l2.6 5.9-.8.1-2.6-5.9zM562.5 315.1l2.6 5.9-.8.2-2.6-6zM561.7 315.2l2.6 6-.8.2-2.6-5.9zM560.9 315.5l2.6 5.9-.8.4-2.6-5.9zM560.1 315.9l2.6 5.9-.9.4-2.6-5.8zM559.2 316.4l2.6 5.8-.9.6-2.6-5.9zM546.6 317.7l2 4-2 2.7-2.2-3.3zM542.9 318.1l1.9 2.9-2.2 3.8-2-2.5z"/><path fill="#2d8af6" d="M525.6 307l1.8-2.5-1.8 3.7-1.8 2.1zM527.9 308.2l1.1-.6-2.3 5.5-1.1.3zM560.6 309.4l2.1 6.1-.8.1-2.3-6.2zM559.6 309.4l2.3 6.2-.8.3-2.3-6.2zM558.8 309.7l2.3 6.2-.8.4-2.3-6.2zM537.7 310.7l1.3 1.3-2.3 5.3-1.3-1.2zM546.6 311.1l1.8 3.9-1.8 3.1-2-3.4z"/><path fill="#0fb7cc" d="M558.7 290.6l1.3 3.8-1.3-2.6-1.2-4.3zM555.4 291l1.6 6.5-.9.1-1.6-6.6zM554.6 291l1.6 6.6-.9.3-1.6-6.5z"/><path fill="#3081f6" d="M567.4 308.7l1.8 3.5-1.8-1.9-1.8-3.9zM525.2 310.1l1.5-1.1-2.1 5-1.6.8zM565.1 310.6l2.3 5.5-1.2-.3-2.2-5.8zM529.7 312.4l.8.1-2.6 5.7-.8-.2zM530.5 312.5l.8.3-2.6 5.6-.8-.2zM531.3 312.8l.8.3-2.6 5.7-.8-.4zM532.1 313.1l.8.4-2.4 5.7-1-.4zM554.2 313.5l2.3 5.5-1.4 1.2-2.3-5.3zM540 313.7l1.6 2.1-2.3 4.5-1.6-1.5z"/><path fill="#0fb7c6" d="M534.2 289.4l1.5-3.2-1.4 4.1-1.3 2.6zM557.6 289.2l1.5 5.3-1.1-1.3-1.5-5.7zM537.6 289.6l.9.1-1.6 6.3-.9-.2zM538.4 289.7l.9.4-1.6 6.3-.9-.4zM546.6 290.1l1.3 4.1-1.3 3.4-1.5-3.6z"/><path fill="#2dc6a2" d="M536.6 283.1l1.2-3.1-1.2 4-1.1 2.6zM546.6 283.1l1.2 4-1.2 3.4-1.4-3.6z"/><path fill="#18a8db" d="M561.3 297l1.5 3.8-1.5-2.5-1.5-4.3z"/><path fill="#27c3a8" d="M556.4 284.2l1.3 3.7-1.3-2.6-1.2-4.3zM539 283.9l.9.1-1.5 6.1-.9-.1zM539.8 284l.9.5-1.5 6-.9-.4zM548.6 284.4l1.4 5.1-1.2 2.3-1.4-4.9z"/><path fill="#e7ba39" d="M544.1 261.4l.9-2.2-.9 3-.9 1.6zM546.6 259.8l.9 2.8-.9 2.3-1.1-2.3z"/><path fill="#12aed8" d="M531.7 295.5l1.5-3-1.5 4.1-1.5 2.4zM534.4 295.8l1-.3-1.8 6.3-1 0zM538.6 296.6l.9.9-1.8 6.1-1-.8zM546.6 297.2l1.5 4.1-1.5 3.5-1.7-3.7z"/><path fill="#e4ba39" d="M548.9 261.6l.9 2.6-.9-1.7-.9-3.1z"/><path fill="#c3c336" d="M542.4 265.9l1-2.5-1 3.4-.9 2zM543.2 265.1l.9-.2-1 4.4-.9.2zM544 264.9l.9.8-1 4.3-.9-.7zM546.6 264.5l1 3.4-1 2.6-1.2-2.9z"/><path fill="#bdc336" d="M550.6 266.4l1.1 3-1.1-2.1-1-3.5zM549.8 265.6l1 4.5-.9-.3-1-4.6zM549 265.2l1 4.6-.9.6-1-4.5z"/><path fill="#219ce7" d="M528.8 301.4l1.6-2.8-1.6 4-1.6 2.3zM530.8 302.5l1.1-.7-2 5.8-1.1.4zM538.6 304.2l1.1 1.3-2 5.6-1.1-1.1zM546.6 304.4l1.6 3.9-1.6 3.2-1.8-3.5z"/><path fill="#f6ba3c" d="M545.6 258l1.1-1.3-1 2.2-.9.7zM547.2 258.1l1 1.7-.9-.8-.8-2.3zM546.6 256.7l.9 2.2-.9 1.3-1.1-1.5z"/><path fill="#57c97b" d="M554.3 277.8l1.1 3.6-1.1-2.5-1.1-4.1zM538.7 277.5l1-2-1.1 4.9-1.1 1.5zM544.6 277.4l1.2 2.4-1.4 4.5-1-2.2z"/><path fill="#5dc975" d="M538.7 276.9l1.1-2.9-1.1 3.9-1.1 2.5zM553.4 276.5l1.3 5-1.1-1-1.1-5.4zM546.6 276.4l1.2 3.8-1.2 3.3-1.2-3.5z"/><path fill="#2496ed" d="M564.2 303.1l1.6 3.7-1.6-2.3-1.6-4.1z"/><path fill="#93c94b" d="M540.6 271.1l1.1-2.7-1.1 3.6-1 2.4zM549.1 270l1.1 5.1-.9 1.1-1.1-4.8zM546.6 270.1l1 3.6-1 3.1-1.2-3.2z"/><path fill="#8dc951" d="M552.4 271.8l1 3.4-1-2.4-.9-3.8z"/><path fill="#455af6" d="M575 318.5l2.3 3.3-2.3-1.4-2.3-3.6zM515.9 319.4l2.3-1.6-2.5 3.7-2.3 1.1zM572.1 321.4l2.9 4.7-1.3-.2-3-5zM519.7 322.5l1.2-.1-3.2 4.9-1.3 0zM556.1 325.9l2.8 4.9-1.7 1.3-2.8-4.6zM531.8 326.2l1.4 1-3.2 4.8-1.4-.9zM544.4 327l2.4 3.2-2.7 3.1-2.3-2.7z"/><path fill="#f0b73c" d="M544.9 259.2l.9-.7-.9 3.3-.9.4zM545.7 258.5l1.1 1.3-1.1 3-1-1z"/><path fill="#edb73c" d="M548.1 259.4l.9 3.1-.9-.5-.9-3.4zM547.3 258.6l1 3.4-1 .8-.9-3z"/><path fill="#d5bd36" d="M543.3 263.4l.9-1.6-1 3.7-.9 1.3zM545.7 262.4l1.1 2.2-1.2 3.2-1-1.7zM547.3 262.4l1.1 3.9-1 1.7-1-3.5z"/><path fill="#d2bd36" d="M549.7 263.8l1 3.5-.9-1.3-1-3.9z"/><path fill="#abc639" d="M541.6 268.4l.9-2-.9 4-1.1 1.6zM545.6 267.4l1.2 2.8-1.2 3.6-1.1-2.4z"/><path fill="#a5c63f" d="M551.6 269l.9 3.8-.9-1.7-1.1-4.2z"/><path fill="#75c960" d="M539.7 274l1-2.4-1.1 4.3-1 2zM541.3 273.6l.9-.1-1.2 5.4-.9 0zM542.1 273.5l.9.6-1.2 5.4-.9-.6zM545.6 273.4l1.2 3.1-1.2 3.7-1.2-2.5zM547.4 273.5l1.2 4.5-1 2.4-1.2-3.9z"/><path fill="#6cc966" d="M553.3 274.8l1.1 4.1-1-2-1.1-4.5zM551.7 274.4l1.2 5.5-.9-.1-1.2-5.6z"/><path fill="#42c98d" d="M537.7 280l1.1-2.5-1.2 4.4-1.1 2.1zM552.8 279.5l1.3 6-.9 0-1.3-6.1zM551.2 279.9l1.3 6-.9.7-1.3-5.8zM545.6 279.8l1.2 3.4-1.4 3.9-1.2-2.9zM547.6 280l1.2 4.8-1.2 2.5-1.2-4.1z"/><path fill="#39c996" d="M555.3 281l1.2 4.3-1.1-2.2-1.2-4.6z"/><path fill="#0fbac0" d="M557.6 287.5l1.2 4.3-1.2-2.2-1.3-4.7zM556.6 287.5l1.5 5.7-1-1-1.5-5.8z"/><path fill="#0fb4cf" d="M533.1 292.5l1.3-2.6-1.5 4.6-1.3 2.1zM534 292.4l1.1-1.2-1.5 5.6-1.1 1zM557.1 291.8l1.6 6.2-1-.4-1.6-6.2zM552.1 293l1.6 6.2-1 1.2-1.6-6zM541.8 293.5l1.2 2-1.7 5.3-1.1-1.6zM545.3 293.8l1.5 3.6-1.7 3.9-1.4-3.1z"/><path fill="#debd36" d="M544.1 261.8l.9-.4-1 3.9-.9.2zM544.9 261.4l.9 1-1 3.7-.9-.8z"/><path fill="#dbbd36" d="M548.9 262.1l1 3.9-.9-.4-1-4zM548.1 261.6l1 4-.9.7-1-3.9z"/><path fill="#bac339" d="M542.4 266.4l.9-1.3-1 4.4-.8.9zM544.8 265.7l1 1.7-1.1 4.1-.9-1.5z"/><path fill="#b4c639" d="M550.6 266.9l1.1 4.2-1-1-1-4.5z"/><path fill="#8ac951" d="M540.6 271.6l1.1-1.6-1.1 4.6-1.1 1.3zM544.7 271.1l1.1 2.3-1.2 4.4-1.1-2z"/><path fill="#81c957" d="M552.4 272.4l1.1 4.5-.9-1.4-1.1-4.8z"/><path fill="#3c6cf6" d="M520.1 314.8l2.1-1.8-2.3 3.9-2.1 1.3zM571 315.2l2.3 4-1.9-1.1-2.2-4.4zM568.5 316.2l2.5 5.1-1.2-.3-2.6-5.3zM524.5 317.6l1-.1-2.8 5.3-1 0zM532.3 319.9l1.1.7-2.9 5.2-1.1-.7zM555.1 319.8l2.5 5.3-1.5 1.2-2.6-4.9zM544.6 320.9l2.2 3.3-2.4 3.2-2-2.8z"/><path fill="#4ec984" d="M554.3 278.5l1.2 4.6-.9-1.6-1.3-5z"/><path fill="#21c0ae" d="M556.4 284.9l1.3 4.7-1.1-1.7-1.3-5.2z"/><path fill="#27c3a5" d="M536.6 283.6l1.1-2.1-1.3 5-1.1 1.7zM544.4 283.9l1.2 2.9-1.4 4.5-1.2-2.4z"/><path fill="#0fb4cc" d="M558.7 291.4l1.5 4.8-1.2-1.7-1.5-5.3zM535 291.2l1-.8-1.6 5.8-.9.6zM556.2 291.4l1.6 6.2-.9-.1-1.6-6.5zM553.8 291.4l1.6 6.5-.8.5-1.7-6.4zM553 292l1.7 6.4-1.1.8-1.6-6.2zM540.9 292l1 1.5-1.6 5.7-1-1.3z"/><path fill="#0fb7c9" d="M534.3 289.9l1.2-2.1-1.5 5-1.2 1.7zM535.9 290.4l1-.6-1.6 6.1-1 .3zM536.8 289.8l.9-.2-1.6 6.2-.9.1zM539.2 290.1l.9.8-1.5 6.1-1-.6zM540 290.9l1 1.1-1.6 5.9-.9-.9zM548.8 291.4l1.6 5.2-1.3 2.2-1.6-4.8zM544.2 290.9l1.3 3-1.6 4.4-1.3-2.4z"/><path fill="#96c948" d="M541.6 270l.8-.9-1.1 4.9-.8.6zM543.9 269.6l.9 1.5-1.1 4.7-.9-1.3z"/><path fill="#90c94e" d="M551.6 270.7l1.1 4.8-1-.7-1.1-5.1z"/><path fill="#15abdb" d="M531.7 296.2l1.3-2.1-1.6 4.9-1.3 1.6zM557.7 297.2l1.8 6.6-.9-.2-1.8-6.5zM556.9 297.1l1.8 6.5-.9.2-1.8-6.6zM556.1 297.2l1.8 6.6-.9.2-1.8-6.5zM555.3 297.5l1.8 6.5-.9.5-1.7-6.5zM554.6 298l1.7 6.5-1 .7-1.8-6.4zM543.9 297.9l1.4 3.1-1.7 4.3-1.4-2.6zM549.1 298.4l1.7 5.2-1.4 2.3-1.7-4.7z"/><path fill="#18a8de" d="M561.3 297.9l1.6 4.7-1.3-1.7-1.6-5.1zM558.6 297.6l1.8 6.3-1-.1-1.8-6.6zM553.6 298.8l1.8 6.4-1 .9-1.8-6.1z"/><path fill="#66c96f" d="M539.6 275.5l1.1-1.3-1.3 5.2-.9 1zM543.7 275.4l1.1 2-1.2 4.7-1.1-1.6z"/><path fill="#4236c0" d="M500.2 330.1l3.1-.4-3.4 2.8-3.1 0zM543.6 343.8l3.2 2.8-3.5 2.2-3.1-2.4z"/><path fill="#2199e7" d="M528.8 302.2l1.5-2-1.7 4.7-1.6 1.5zM562.8 302.2l1.9 4.9-1.4-1.2-1.8-5.4zM558.6 303.2l2.1 6.6-1 0-2-6.4zM557.8 303.4l2 6.4-.9.3-2-6.5zM557 303.6l2 6.5-.9.4-2-6.4zM543.6 304.9l1.6 3-1.9 4.2-1.6-2.6z"/><path fill="#2dc3a2" d="M555.4 282.7l1.3 5.2-1-1.1-1.2-5.7z"/><path fill="#36c699" d="M537.6 281.5l1.1-1.5-1.4 5.4-1 1.1zM543.6 281.7l1 2.2-1.4 5-1-1.8z"/><path fill="#2d87f6" d="M525.6 307.8l1.6-1.8-2 4.5-1.6 1.4zM565.9 308.2l2 4.7-1.5-1.1-1.9-5.1zM526.7 309l1.2-.8-2.3 5.2-1.1.6zM562.1 309.4l2.3 6-.9 0-2.3-6.2zM561.2 309.2l2.3 6.2-.8.1-2.2-6.1zM558.1 310.1l2.2 6.2-1 .5-2.2-6.2zM557.2 310.6l2.2 6.2-1 .5-2.2-5.9zM556.3 311.4l2.2 5.9-1.1.8-2.2-5.7zM538.8 312l1.4 1.7-2.3 5.1-1.4-1.5zM543.3 311.7l1.7 2.9-2.1 3.9-1.7-2.5z"/><path fill="#0fbac3" d="M535.4 287.8l1.1-1.7-1.5 5.5-1.1 1.2zM543.2 288.5l1.2 2.4-1.6 5-1.2-2z"/><path fill="#9fc642" d="M542.3 269.1l.9-.2-1.1 5-.9.1zM543.1 268.9l.9.7-1.1 4.9-.9-.6z"/><path fill="#99c948" d="M550.7 269.7l1.1 5.1-.9-.2-1.1-5.2z"/><path fill="#6fc966" d="M540.6 274.2l.8-.6-1.2 5.3-.9.5zM550.9 274.2l1.2 5.6-.9.5-1.2-5.6zM542.9 274.1l.9 1.3-1.2 5.1-.9-1z"/><path fill="#66c96c" d="M552.6 275.1l1.1 5.4-.9-.6-1.2-5.5z"/><path fill="#15aed8" d="M560.1 295.8l1.6 5.1-1.1-1.1-1.7-5.7z"/><path fill="#36c999" d="M554.6 281.1l1.2 5.7-1-.9-1.3-5.8z"/><path fill="#3fc990" d="M538.6 280l.9-1-1.3 5.6-1 .8zM553.6 280.1l1.3 5.8-.9-.4-1.3-6zM542.6 280.1l1.1 1.6-1.4 5.4-1-1.3z"/><path fill="#b7c339" d="M548.2 265.9l1 4.5-.9 1.4-1.1-4.2z"/><path fill="#3f60f6" d="M518 317.8l2.1-1.3-2.5 4-2.1 1zM519.3 319.2l1.7-.6-2.9 4.6-1.7.4zM567.5 320.4l2.8 5.4-.9.1-2.9-5.5zM559.7 322.9l2.9 5.4-1.2.7-2.9-5.3zM536.9 324.2l1.7 1.8-2.8 4.3-1.7-1.6zM542.6 324.4l2 2.8-2.6 3.6-2.1-2.6z"/><path fill="#99c945" d="M549.9 269.4l1.1 5.2-.9.5-1.1-5.1z"/><path fill="#4851f0" d="M513.7 322.2l2.2-1.1-3 3.8-2.2.9zM572.2 325.4l3.2 5-1.2.1-3.2-5.1zM571.1 325.4l3.2 5.1-1.1.1-3.2-5.2zM519 326.9l1.1.1-3.4 4.8-1.1-.2zM520 327l1.1.1-3.5 4.9-1-.2zM525.9 328.9l1 .5-3.4 4.8-1.1-.4zM561.2 328.6l3.2 5.2-1.4.7-3.2-5.1zM526.8 329.4l1.1.6-3.4 4.8-1.1-.6zM542 330.4l2.3 2.7-2.7 3.3-2.4-2.5z"/><path fill="#2a8df0" d="M527.1 306l1.6-1.5-2.1 4.9-1.5 1.1zM530 307.2l.9-.2-2.3 5.8-.9 0zM535.8 308.7l1 .9-2.2 5.6-1-.7zM541.9 309.2l1.6 2.6-2.1 4.3-1.6-2.1z"/><path fill="#48c987" d="M539.4 279l.9-.5-1.3 5.8-.9.3zM541.8 279.1l.9 1-1.3 5.7-.9-.9z"/><path fill="#a8c63c" d="M547.4 267.6l1.1 4.2-1.1 2.1-1-3.7z"/><path fill="#1ec0b1" d="M537.3 285l1-.8-1.5 6-1 .6zM554 285.1l1.5 6.3-.9 0-1.5-6.3zM553.2 285.1l1.5 6.3-.9.4-1.5-6.3zM552.4 285.5l1.5 6.3-.9.6-1.5-6.2zM541.4 285.4l1 1.3-1.5 5.7-1-1.1z"/><path fill="#15bdba" d="M555.7 286.4l1.5 5.8-1-.4-1.5-6.3z"/><path fill="#337bf6" d="M523.8 311.5l1.5-1.4-2.2 4.7-1.6 1zM566.3 311.4l2.4 5.2-1.4-.5-2.2-5.5zM525.8 313l1.1-.3-2.6 5.3-1.1.2zM526.9 312.7l1-.3-2.6 5.5-1 .1zM534.7 314.8l1.1.9-2.7 5.3-1.1-.7zM535.7 315.7l1.2 1.2-2.7 5.1-1.2-1zM553 314.9l2.3 5.3-1.6 1.6-2.3-5.1zM541.4 315.7l1.7 2.5-2.3 4.2-1.7-2.2z"/><path fill="#18a5de" d="M531.4 298.6l1.3-1.2-1.9 5.5-1.2.9zM559.6 298.4l1.7 6-1-.5-1.8-6.3zM552.7 300l1.8 6.1-1.1 1.1-1.8-5.8zM541.3 300.4l1.3 2-1.9 5.2-1.3-1.7z"/><path fill="#4bc984" d="M540.2 278.5l.9 0-1.3 5.9-.9-.1zM541 278.5l.9.6-1.3 5.8-.9-.5z"/><path fill="#87c954" d="M548.3 271.4l1.2 4.8-1.1 1.8-1.2-4.5z"/><path fill="#2493ed" d="M528.7 304.5l1.1-1.1-2 5.2-1.3.8zM562.2 304.6l2 5.8-1.1-.4-2-6zM540.7 307.2l1.4 2-2.1 4.9-1.4-1.7z"/><path fill="#2a8df3" d="M564.6 306.7l1.9 5.1-1.3-.8-2-5.5zM529 307.6l1-.4-2.3 5.6-1 .3zM536.7 309.6l1.2 1.1-2.3 5.4-1.1-.9z"/><path fill="#69c969" d="M550.1 274.7l1.2 5.6-.9.9-1.2-5.4z"/><path fill="#1bbdb4" d="M554.8 285.5l1.5 6.3-.9-.4-1.5-6.3z"/><path fill="#24c0ab" d="M538.2 284.2l.9-.3-1.5 6.1-.9.2zM540.6 284.5l.9.9-1.5 5.9-.9-.8z"/><path fill="#45c98a" d="M552 279.4l1.3 6.1-.9.4-1.3-6z"/><path fill="#18abdb" d="M532.6 297.4l1.1-1-1.9 5.8-1.1.7zM540.3 298.8l1.1 1.6-1.8 5.5-1.1-1.3z"/><path fill="#1ba2e1" d="M560.6 299.4l1.7 5.6-1.1-.6-1.7-6zM551.7 301.4l1.9 5.8-1.3 1.6-1.9-5.6z"/><path fill="#60c972" d="M549.3 275.8l1.2 5.4-.9 1.6-1.3-5.2z"/><path fill="#2496ea" d="M529.7 303.4l1.2-.9-2 5.5-1.2.6zM561.2 304l2 6-1-.2-2-6.3zM554.4 305.7l2 6.1-1.1 1-2-6zM539.6 305.5l1.3 1.7-2.1 5.2-1.3-1.3z"/><path fill="#15aedb" d="M533.6 296.4l.9-.6-1.8 6-1 .4zM539.4 297.5l1 1.3-1.8 5.8-1-1z"/><path fill="#396ff6" d="M521.7 315.4l1.6-1-2.6 4.6-1.7.6zM567.2 315.7l2.6 5.3-1.1-.2-2.6-5.4zM526.5 317.5l.8.1-2.8 5.4-.9-.1zM527.3 317.6l.8.2-2.8 5.4-.8-.2zM528.1 317.8l.8.2-2.8 5.5-.8-.3zM528.9 318l.8.4-2.8 5.4-.8-.3zM529.7 318.4l1.1.4-3 5.3-1-.3zM530.7 318.8l.8.6-2.9 5.2-.9-.5zM556.3 318.6l2.6 5.5-1.5 1-2.5-5.3zM539.3 319.9l1.7 2.2-2.6 4.2-1.7-1.8z"/><path fill="#54c97e" d="M548.4 277.6l1.4 5.2-1.2 2-1.2-4.8z"/><path fill="#39c993" d="M550.4 280.8l1.3 5.8-1 1.2-1.2-5.4z"/><path fill="#30c69c" d="M549.6 282.4l1.2 5.4-1 1.7-1.4-5.1z"/><path fill="#12b1d8" d="M535.3 295.5l.9-.1-1.8 6.4-.9 0zM537.7 296l1 .6-1.9 6.2-.9-.6z"/><path fill="#1e9ce7" d="M531.8 301.8l1-.4-2 6-1 .2zM537.7 303.2l1 1-2 5.8-1-.9z"/><path fill="#454eea" d="M513.1 324.5l2-.7-3.2 4.1-1.9.4zM574.7 325.7l3.2 4.7-1.4 0-3.1-4.9zM537.6 331.6l2 2.2-3 3.7-2.2-1.8z"/><path fill="#2499ea" d="M560.3 303.5l2 6.3-1-.2-2-6.2zM555.3 304.8l2 6.2-1 .8-2-6.1z"/><path fill="#3084f6" d="M564 310l2.3 5.8-1-.3-2.3-5.9zM555.3 312.4l2.2 5.7-1.2.9-2.3-5.5z"/><path fill="#12babd" d="M550.7 287.4l1.5 6-1 1.4-1.5-5.7z"/><path fill="#2199ea" d="M559.4 303.4l2 6.2-.8.2-2.1-6.6zM556.2 304.1l2 6.4-1 .5-2-6.2zM549.4 305.5l1.9 4.9-1.6 2.4-1.9-4.6z"/><path fill="#0cb7c6" d="M549.8 289.1l1.5 5.7-1.1 1.8-1.6-5.2z"/><path fill="#3f66f6" d="M520.9 318.6l1.4-.5-2.8 4.8-1.5.3zM535.7 322.8l1.4 1.5-2.9 4.5-1.4-1.2z"/><path fill="#12b4d2" d="M551.2 294.4l1.6 6-1.1 1.4-1.6-5.6z"/><path fill="#4854f3" d="M516.7 323.2l1.7-.4-3.2 4.6-1.7.2zM567.5 325.8l3.3 5.3-1 .3-3.2-5.4zM566.7 326l3.2 5.4-.9.2-3.2-5.2zM565.9 326.4l3.2 5.2-1 .3-3.2-5.3zM565 326.6l3.2 5.3-.9.4-3.2-5.3zM534.4 328.4l1.6 1.6-3.2 4.3-1.6-1.4z"/><path fill="#423ccc" d="M505 331.6l2.2-.1-3.7 3.4-2.4-.1zM508.8 334.7l1.3.2-4.1 3.6-1.5-.3zM576.1 334.7l3.9 4.5-1.1.3-3.8-4.6zM575.2 334.9l3.8 4.6-.9.3-3.7-4.6zM574.5 335.2l3.7 4.6-.9.2-3.9-4.6zM573.5 335.4l3.9 4.6-.9.2-3.9-4.6zM572.7 335.6l3.9 4.6-.9.3-3.9-4.6zM571.9 335.9l3.9 4.6-1 .3-3.8-4.6zM571.1 336.2l3.8 4.6-.9.3-3.8-4.6zM570.3 336.5l3.8 4.6-1.1.4-3.8-4.6zM569.3 336.9l3.8 4.6-1.1.4-3.8-4.5zM568.3 337.4l3.8 4.5-1.2.5-3.8-4.5zM523.5 339.5l1.4 1-4.1 3.4-1.4-.8zM533.4 340.5l2.4 1.8-3.9 3.3-2.3-1.6z"/><path fill="#4260f6" d="M568.5 320.4l2.8 5.4-1 0-2.8-5.4zM523.8 322.5l1 .1-3.2 5.2-.9-.3zM524.7 322.6l.9.2-3.1 5.2-1-.2zM525.5 322.8l.9.3-3.2 5.1-.8-.2zM526.3 323.1l.9.3-3.2 5.1-.9-.3zM527.1 323.4l1 .3-3.2 5.2-1-.4zM528 323.7l.9.5-3.2 5.1-.9-.4zM558.6 323.7l2.9 5.3-1.4.8-2.9-5.1z"/><path fill="#453fd5" d="M579.2 330l3.4 4.4-1.6.1-3.5-4.5z"/><path fill="#1e9ce4" d="M550.6 303.2l1.9 5.6-1.4 1.7-1.9-5z"/><path fill="#454bea" d="M515.4 327l1.4-.1-3.5 4.5-1.4 0zM530.2 331.6l1.4 1.1-3.5 4.3-1.4-1z"/><path fill="#423fd5" d="M509 331.2l1.8-.1-3.9 3.9-1.7-.2zM529.9 337.7l1.7 1.4-3.8 3.7-1.8-1.1z"/><path fill="#4542db" d="M576.3 330l3.5 4.6-1.4.2-3.4-4.8zM512.2 331l1.4 0-3.8 4.2-1.4-.1zM527 335.7l1.4 1-3.8 4.1-1.4-1z"/><path fill="#3672f6" d="M558.3 316.9l2.6 5.9-1 .5-2.6-5.6z"/><path fill="#4239cc" d="M507.1 334.6l1.7.2-4.2 3.5-1.6-.3zM577.1 334.5l3.9 4.5-1.1.2-3.9-4.5zM524.8 340.4l1.6 1.1-4.1 3.3-1.6-1z"/><path fill="#4545e1" d="M569.6 331l3.4 5-.9.3-3.4-5.1zM568.8 331.2l3.4 5.1-.9.3-3.5-5.1zM517.8 331.6l1 .2-3.9 4.5-.9-.3zM521.9 332.9l.9.5-3.8 4.4-.9-.4z"/><path fill="#484eea" d="M558.6 330.4l3.2 4.8-1.6 1.2-3.2-4.6z"/></g></g><circle cx="535.6" cy="298.3" r="3.3" fill="#000"/><circle cx="535.6" cy="298.3" r="3.3" fill="#12b1d6" fill-opacity="0.75"/><circle cx="535.0" cy="310.5" r="3.3" fill="#000"/><circle cx="535.0" cy="310.5" r="3.3" fill="#288ff1" fill-opacity="0.75"/><circle cx="558.0" cy="313.1" r="3.3" fill="#000"/><circle cx="558.0" cy="313.1" r="3.3" fill="#2d87f7" fill-opacity="0.75"/><circle cx="523.1" cy="320.6" r="3.3" fill="#000"/><circle cx="523.1" cy="320.6" r="3.3" fill="#3b6cf6" fill-opacity="0.75"/><circle cx="529.7" cy="321.9" r="3.3" fill="#000"/><circle cx="529.7" cy="321.9" r="3.3" fill="#3a6ef6" fill-opacity="0.75"/><circle cx="523.5" cy="332.1" r="3.3" fill="#000"/><circle cx="523.5" cy="332.1" r="3.3" fill="#4751f2" fill-opacity="0.75"/><circle cx="569.4" cy="322.3" r="3.3" fill="#000"/><circle cx="569.4" cy="322.3" r="3.3" fill="#4160f5" fill-opacity="0.75"/><circle cx="580.3" cy="322.6" r="3.3" fill="#000"/><circle cx="580.3" cy="322.6" r="3.3" fill="#4649e4" fill-opacity="0.75"/><circle cx="563.2" cy="326.8" r="3.3" fill="#000"/><circle cx="563.2" cy="326.8" r="3.3" fill="#3f63f5" fill-opacity="0.75"/><circle cx="569.1" cy="332.5" r="3.3" fill="#000"/><circle cx="569.1" cy="332.5" r="3.3" fill="#4546e0" fill-opacity="0.75"/><circle cx="572.8" cy="339.0" r="3.3" fill="#000"/><circle cx="572.8" cy="339.0" r="3.3" fill="#423bcd" fill-opacity="0.75"/><circle cx="569.8" cy="331.5" r="3.3" fill="#000"/><circle cx="569.8" cy="331.5" r="3.3" fill="#4546e0" fill-opacity="0.75"/><path d="M572.13 333.83A3.3 3.3 0 0 0 567.47 329.17Z" fill="#000"/><circle cx="580.7" cy="341.3" r="3.3" fill="#000"/><circle cx="580.7" cy="341.3" r="3.3" fill="#4032bd" fill-opacity="0.75"/><path d="M580.70 344.60A3.3 3.3 0 0 0 580.70 338.00Z" fill="#000"/>
<path d="M469.5 335.3 L546.5 361.9 L623.5 335.3" fill="none" stroke="#1a1a1a" stroke-width="2.3" stroke-linejoin="miter"/>
<circle cx="546.6" cy="253.1" r="3.3" fill="#000"/>
<circle cx="529.4" cy="304.9" r="3.3" fill="#000"/>
<circle cx="558.0" cy="302.2" r="3.3" fill="#000"/>
<circle cx="565.2" cy="306.8" r="3.3" fill="#000"/>
<path d="M470.7 335.4 V233.4" stroke="#1a1a1a" stroke-width="2.7"/>
<path d="M469.7 334.4 h-3 M469.7 303.8 h-3 M469.7 273.2 h-3 M469.7 242.6 h-3" stroke="#1a1a1a" stroke-width="2"/>
<text x="463.8" y="338.0" text-anchor="end" style="font-family:'Liberation Sans',sans-serif;font-size:15px" fill="#262626">0</text>
<text x="463.8" y="307.4" text-anchor="end" style="font-family:'Liberation Sans',sans-serif;font-size:15px" fill="#262626">1</text>
<text x="463.8" y="276.8" text-anchor="end" style="font-family:'Liberation Sans',sans-serif;font-size:15px" fill="#262626">2</text>
<text x="463.8" y="246.2" text-anchor="end" style="font-family:'Liberation Sans',sans-serif;font-size:15px" fill="#262626">3</text>
<text transform="translate(449.5,284.8) rotate(-90)" text-anchor="middle" style="font-family:'Liberation Sans',sans-serif;font-size:14.6px" fill="#262626">Visibility (<tspan font-style="italic">d</tspan>′)</text>
<text transform="translate(499.5,362.7) rotate(19.3)" text-anchor="middle" style="font-family:'Liberation Sans',sans-serif;font-size:14.6px" fill="#262626">Vert.</text>
<text transform="translate(593.3,362.7) rotate(-19.3)" text-anchor="middle" style="font-family:'Liberation Sans',sans-serif;font-size:14.6px" fill="#262626">Hori.</text>
<g><g opacity="0.80" shape-rendering="crispEdges"><path fill="#3f2db4" d="M140.1 483.7l1.2.3-4.6 0-1.3-.3zM141.3 484l1.1.4-4.6-.1-1.1-.3zM142.4 484.4l1 .3-4.6-.1-1-.3zM143.4 484.7l.9.3-4.6-.1-.9-.3zM144.3 485l.9.3-4.6-.2-.9-.2z"/></g>
<g opacity="0.80" shape-rendering="crispEdges"><path fill="#3f2db4" d="M69.6 486.1l4.6-.5-.8.3-4.6.5zM68.8 486.4l4.6-.5-.9.3-4.6.5zM67.9 486.7l4.6-.5-.9.4-4.6.5zM67 487.1l4.6-.5-1 .3-4.6.5z"/><path fill="#4233c0" d="M135.8 483.5l.9.2 4.3 1.5-.9-.2z"/></g>
<g opacity="0.80" shape-rendering="crispEdges"><path fill="#3f2db4" d="M146 485.6l.8.2-4.6-.1-.8-.3z"/><path fill="#4233c0" d="M141 485.2l.8.3-4.3-1.5-.8-.3zM137.5 484l.9.3 4.2 1.5-.8-.3zM145.1 486.7l.9.3-4.3-1.4-.9-.4zM146 487l1 .5-4.3-1.4-1-.5zM147 487.5l1.1.4-4.3-1.3-1.1-.5z"/><path fill="#4236c3" d="M70.2 487l4.3-1.7 1-.4-4.3 1.8zM69.1 487.4l4.3-1.7 1.1-.4-4.3 1.7z"/><path fill="#4233bd" d="M148.1 487.8l1.2.7-4.2-1.2-1.3-.7z"/></g>
<g opacity="0.80" shape-rendering="crispEdges"><path fill="#4233c0" d="M138.4 484.3l.7.2 4.3 1.6-.8-.3z"/><path fill="#4236c3" d="M67.9 487.9l4.2-1.7-1.3.6-4.3 1.6z"/><path fill="#4236c0" d="M66.5 488.4l4.3-1.6-1.6.8-4.2 1.5z"/><path fill="#423ccf" d="M140.4 484.5l1.2.7 3.9 2.2-1.3-.6z"/></g>
<g opacity="0.80" shape-rendering="crispEdges"><path fill="#3f2db4" d="M145.2 485.3l.8.3-4.6-.2-.8-.3z"/><path fill="#4233c0" d="M143.4 486.1l.8.3-4.2-1.5-.9-.4z"/><path fill="#423ccc" d="M145.5 487.4l1.3.7-3.9-2.1-1.3-.8z"/><path fill="#423fd2" d="M68.8 487.8l4-2.3 1.5-.9-3.9 2.4z"/><path fill="#4239cc" d="M146.8 488.1l1.6.9-4-1.9-1.5-1.1z"/></g>
<g opacity="0.80" shape-rendering="crispEdges"><path fill="#3f2db4" d="M72.9 485l4.6-.3-.9.2-4.6.4zM72 485.3l4.6-.4-.8.2-4.6.5zM71.2 485.6l4.6-.5-.8.3-4.6.4zM146.8 485.8l.8.3-4.6-.1-.8-.3zM70.4 485.8l4.6-.4-.8.2-4.6.5z"/><path fill="#423fcf" d="M139.2 483.8l1.2.7 3.8 2.3-1.1-.5z"/><path fill="#423fd2" d="M68.8 487.8l4-2.3-1.7 1.1-4 2.1z"/><path fill="#4548e1" d="M138.4 482.1l1.3 1.1 3.6 3.1-1.3-.8z"/><path fill="#4545de" d="M139.7 483.2l1.5 1.3 3.6 2.9-1.5-1.1z"/></g>
<g opacity="0.80" shape-rendering="crispEdges"><path fill="#3f27a8" d="M108.6 473.6l4.4 1.6-4.4 1.7-4.4-1.7zM104.4 475l4.4 1.7-4.1 1.4-4.3-1.5zM112.8 475l4.1 1.6-4.3 1.5-4.2-1.4zM100.5 476.4l4.4 1.5-3.6 1.3-4.5-1.5zM116.8 476.4l3.6 1.3-4.5 1.5-3.5-1.3z"/><path fill="#3f27ab" d="M108.6 476.5l4.2 1.4-4.2 1.3-4.1-1.3zM96.9 477.5l4.5 1.5-3.3 1-4.5-1.3zM120.3 477.5l3.3 1.2-4.5 1.3-3.3-1zM104.7 477.7l4.1 1.3-3.6 1.1-4.2-1.1zM112.7 477.7l3.5 1.3-4.2 1.1-3.6-1.1zM123.5 478.5l3 1.1-4.5 1.2-3-1zM93.7 478.5l4.5 1.3-3 1-4.5-1.2z"/><path fill="#3f2aae" d="M101.1 478.8l4.2 1.1-3.3.9-4.2-1zM108.6 478.8l3.7 1.1-3.7.9-3.7-.9zM97.9 479.6l4.2 1-2.9.6-4.3-.6zM119.3 479.6l3 1-4.3.6-2.9-.6zM88.1 480.3l4.7.9-2.4.6-4.7-.7zM129.1 480.2l2.4.9-4.7.7-2.3-.6zM85.7 481l4.7.7-2.2.5-4.6-.5zM131.5 481l2.1.7-4.6.6-2.2-.6z"/><path fill="#3f2aab" d="M116.1 478.8l3.3 1-4.2 1-3.3-.9zM90.7 479.4l4.6 1.2-2.5.8-4.7-1zM126.5 479.4l2.6 1-4.6 1-2.6-.8z"/><path fill="#3f2ab1" d="M105 479.7l3.8.9-3.3.4-3.8-.4zM112.2 479.7l3.3.9-3.8.4-3.3-.4zM94.9 480.5l4.3.5-2.6.4-4.2-.2zM122.3 480.5l2.6.7-4.3.2-2.6-.4zM83.6 481.6l4.6.5-1.9.6-4.6-.4zM133.6 481.6l1.9.7-4.6.4-1.9-.5zM81.7 482.2l4.6.4-1.7.3-4.6-.1zM135.5 482.2l1.7.6-4.6.3-1.7-.5z"/><path fill="#3f2db4" d="M101.7 480.5l3.9.3-2.8.1-4 .1zM115.5 480.5l2.9.5-3.9 0-2.9-.2zM108.6 480.4l3.4.4-3.4-.3-3.4.3zM92.4 481.1l4.2.2-2.4.4-4.2 0zM124.9 481.1l2.3.6-4.2 0-2.4-.4zM77.1 483.7l4.7-.1-1.3.3-4.6.1zM75.9 484l4.6-.1-1.1.2-4.6.3zM74.8 484.4l4.6-.3-1 .3-4.6.3zM73.8 484.7l4.6-.3-.9.3-4.6.3z"/><path fill="#3f2db7" d="M90 481.7l4.2-.1-2.1.2-4.3.3zM127.2 481.7l2.2.5-4.3-.4-2.1-.2z"/><path fill="#3f2db1" d="M80 482.8l4.6.1-1.5.4-4.6-.1zM137.2 482.7l1.6.5-4.7.1-1.5-.3zM78.5 483.2l4.6.1-1.3.3-4.7.1zM138.8 483.2l1.3.5-4.7 0-1.3-.4z"/><path fill="#3f30ba" d="M87.8 482.1l4.3-.3-1.9.1-4.3.7z"/><path fill="#3f30b7" d="M129.4 482.2l1.9.4-4.3-.6-1.9-.2z"/><path fill="#423ccf" d="M67.1 488.7l4-2.1-1.9 1.2-4 1.9z"/><path fill="#454be7" d="M70.7 486.9l3.6-3 1.7-1.3-3.6 3.2z"/><path fill="#4545db" d="M144.8 487.4l1.7 1.1-3.6-2.4-1.7-1.6z"/><path fill="#3f66f6" d="M134.3 475.8l1.5 2 3 4-1.7-1.7z"/></g>
<g opacity="0.80" shape-rendering="crispEdges"><path fill="#3f30ba" d="M96.2 481.3l3.9-.6 2.7.2-4 .1zM114.5 480.9l2.6-.1 3.9.5-2.6-.3zM84.2 482.9l4.3-.9 1.7-.1-4.3.8zM127 482l1.7.1 4.3.9-1.7-.4z"/><path fill="#3f33bd" d="M108.4 480.7l3.1-.5 3.4.7-2.9.1zM102.4 480.9l3.4-.7 3 .5-3.6.2zM93.8 481.6l4-1 2.3.2-3.9.6zM117.1 480.9l2.4-.2 3.9.9-2.4-.2zM82.7 483.4l4.3-1.2 1.5-.1-4.3.9zM128.7 482.2l1.5.1 4.3 1.1-1.5-.3zM130.2 482.3l1.4.2 4.2 1.3-1.3-.4z"/><path fill="#4236c3" d="M99.7 480.8l3.5-1.2 2.7.8-3.4.7zM111.4 480.4l2.6-.7 3.5 1.2-2.7.2zM91.7 481.9l3.9-1.5 2.2.3-4 1zM76.2 485l4.3-1.7.9-.2-4.3 1.7zM75.4 485.2l4.4-1.6.7-.3-4.3 1.7zM74.6 485.5l4.3-1.7.9-.2-4.4 1.6zM73.8 485.7l4.3-1.7.8-.2-4.3 1.7zM73 486l4.2-1.7.9-.3-4.3 1.7zM72.1 486.3l4.3-1.7.8-.3-4.2 1.7zM71.2 486.7l4.3-1.8.9-.3-4.3 1.7z"/><path fill="#4236c6" d="M105.5 480.4l3.1-1 3.2 1-3.2.5zM89.8 482l4-1.8 1.8.3-3.9 1.5zM121.6 480.5l1.9-.1 3.9 1.7-1.9-.2z"/><path fill="#4236c0" d="M119.5 480.8l2.1-.4 3.9 1.5-2.1-.2zM78 484.5l4.3-1.6 1-.2-4.3 1.5zM77.1 484.8l4.3-1.7.9-.2-4.3 1.6z"/><path fill="#4239c9" d="M97.4 480.7l3.4-1.6 2.5.7-3.5 1.2zM113.9 479.9l2.6-.8 3.4 1.8-2.5.2zM88.1 482.2l3.9-2 1.8.1-4 1.8zM123.5 480.5l1.7-.1 3.9 1.9-1.7-.2z"/><path fill="#423ccf" d="M102.9 479.8l3.1-1.4 2.8 1.2-3.1 1zM108.4 479.6l2.8-1.2 3.1 1.5-2.6.7zM95.2 480.7l3.5-2.2 2.2.8-3.4 1.6zM116.4 479.2l2.1-.6 3.5 2.1-2.2.3zM85.2 482.7l3.9-2.6 1.4.1-3.9 2.3zM128.1 480.5l1.3 0 3.8 2.5-1.2-.2z"/><path fill="#4233bd" d="M81.4 483.7l4.2-1.2 1.4-.3-4.3 1.2zM131.6 482.5l1.2.3 4.3 1.3-1.3-.3z"/><path fill="#4542d8" d="M100.5 479.3l3.1-2.1 2.6 1.4-3.2 1.4zM111 478.6l2.5-1.2 3.3 1.9-2.6.8zM76.8 484.5l4-2.9.8-.1-3.9 2.8zM76 484.8l3.9-2.9.9-.2-4 2.9zM75.1 485.1l3.9-2.9.9-.2-3.9 2.9zM74.1 485.5l3.9-2.9 1-.3-3.9 2.9z"/><path fill="#4545db" d="M105.8 478.6l2.8-1.9 2.8 1.9-2.8 1.2zM91.6 480.5l3.5-2.9 1.8.5-3.4 2.5zM120.4 478.2l1.7-.4 3.5 2.9-1.8.1z"/><path fill="#4233c0" d="M80.1 484l4.3-1.5 1.2 0-4.2 1.2zM79 484.2l4.3-1.5 1.1-.2-4.3 1.5zM132.8 482.8l1.1.2 4.3 1.4-1.1-.3zM133.9 483l1 .2 4.3 1.5-1-.3zM144.2 486.4l.9.3-4.3-1.5-.8-.3z"/><path fill="#4542d5" d="M93.4 480.5l3.4-2.5 2 .6-3.5 2.2zM118.4 478.7l2.1-.6 3.4 2.6-2 .1zM79.4 483.8l3.8-2.9.8-.1-3.9 2.8zM78.5 484l3.9-2.9.8-.1-3.8 2.9zM77.7 484.2l3.9-2.8.8-.2-3.9 2.9zM73 485.9l3.9-2.8 1.1-.4-3.9 2.9z"/><path fill="#423ccc" d="M86.6 482.4l3.9-2.3 1.5.2-3.9 2zM126.7 480.5l1.4-.1 3.9 2.3-1.4-.1z"/><path fill="#4239cc" d="M125.2 480.5l1.5-.1 3.9 2.1-1.5-.2z"/><path fill="#4548e1" d="M98.4 478.8l3.3-2.6 2.1 1.1-3.2 2.2zM113.4 477.6l2.2-1.2 3.2 2.5-2.1.6zM90.1 480.4l3.6-3 1.5.3-3.5 2.9zM123.5 477.7l1.5-.3 3.5 3.3-1.5.1zM68.8 488l3.6-2.4 1.9-1.7-3.6 3z"/><path fill="#454be7" d="M108.4 476.9l2.6-1.8 2.8 2.5-2.6 1.2zM103.4 477.4l2.8-2.3 2.6 1.8-2.8 1.9zM87.5 480.5l3.5-3.5 1.3.3-3.5 3.2zM126.1 477.5l1.2-.1 3.5 3.6-1.1-.1zM136 480.4l1.1.8 3.7 3.6-1.2-.7z"/><path fill="#423fcf" d="M84 482.7l3.9-2.5 1.2 0-3.9 2.6zM129.4 480.6l1 0 3.9 2.6-1.1-.1z"/><path fill="#454bea" d="M96.5 478.3l3.2-2.9 2.1.9-3.3 2.6zM115.5 476.5l2-1.1 3.3 3-2.1.6zM86.4 480.8l3.5-3.8 1.2 0-3.5 3.6zM127.2 477.4l1.1.1 3.5 3.7-1.1-.2zM128.2 477.5l1 .1 3.6 3.8-1.1-.2zM134.1 479.4l.9.4 3.6 3.8-.8-.5zM135 479.8l1 .6 3.6 3.7-1-.5zM72.4 485.8l3.6-3.2 1.5-1.2-3.6 3.5z"/><path fill="#4545de" d="M122 477.9l1.6-.3 3.5 3.1-1.6.1z"/><path fill="#4851f3" d="M110.8 475.2l2.3-1.6 2.8 3.1-2.3 1.1zM101.4 476.5l2.7-2.9 2.3 1.7-2.8 2.3z"/><path fill="#423fd2" d="M82.9 482.9l3.9-2.5 1.1-.1-3.9 2.5zM81.9 483.1l3.9-2.7 1 .1-3.9 2.5zM130.4 480.7l1 .1 3.9 2.6-1-.1zM131.4 480.9l1 .1 3.8 2.7-.9-.2zM132.4 481.1l.8.1 3.9 2.7-.9-.1zM133.2 481.3l.8.1 3.9 2.8-.8-.2zM134 481.5l.8.2 4 2.8-.9-.2zM134.8 481.8l.8.2 3.9 2.7-.7-.1zM135.6 482.1l.8.4 4 2.6-.9-.3zM136.4 482.5l1 .2 3.8 2.7-.8-.2zM137.4 482.8l.8.5 3.9 2.5-.9-.3zM138.2 483.3l1 .5 3.9 2.5-1-.5z"/><path fill="#4554f3" d="M106 475.3l2.6-2.3 2.6 2.3-2.6 1.8z"/><path fill="#4851f0" d="M94.8 477.9l3.2-3.4 1.8 1-3.2 2.9zM117.4 475.5l1.8-.8 3.2 3.4-1.7.4zM81.2 481.8l3.5-4.1.9-.2-3.5 4zM80.4 482l3.5-4 .9-.3-3.5 4.1zM79.5 482.3l3.5-3.9 1-.4-3.5 4zM78.6 482.6l3.5-3.9 1-.3-3.5 3.9zM138.4 481.4l1.6 1.8 3.3 3.2-1.7-1.5z"/><path fill="#4548e4" d="M88.7 480.4l3.5-3.2 1.6.3-3.6 3zM124.9 477.5l1.3-.1 3.6 3.4-1.4 0z"/><path fill="#455af6" d="M112.9 473.7l2.1-1.3 2.8 3.3-2.1 1.1zM99.4 475.7l2.8-3.5 2.1 1.5-2.7 2.9zM122 473.7l1.3-.2 3.2 4.3-1.3 0zM134.2 477.4l1.4 1 3.2 4.1-1.4-.9z"/><path fill="#423fd5" d="M81 483.3l3.9-2.8.9 0-3.9 2.7z"/><path fill="#4260f6" d="M103.9 473.9l2.7-3.1 2.2 2.4-2.6 2.3zM108.4 473.2l2.3-2.3 2.6 2.9-2.3 1.7zM114.8 472.5l1.9-1.4 2.8 3.9-1.8.8zM88.6 477.4l3.2-4.6 1.1.1-3.2 4.5zM125.4 473.4l.9 0 3.2 4.6-1-.1zM126.2 473.4l1 .1 3.2 4.7-1-.2zM127.1 473.5l.9.2 3.2 4.7-.9-.2zM127.9 473.7l.9.2 3.2 4.9-.9-.4zM128.7 473.9l.9.3 3.2 4.8-.9-.2zM129.5 474.2l1 .4 3.1 4.7-.9-.3zM130.4 474.6l.9.5 3.2 4.7-1-.5zM131.2 475.1l1 .6 3.2 4.5-1-.4zM78.4 480.9l3.3-4.3 1.3-.9-3.2 4.5zM135.7 477.8l1.7 2.3 3 3.5-1.7-1.8z"/><path fill="#4854f3" d="M93.4 477.7l3.1-3.8 1.6.7-3.2 3.4zM119.1 474.8l1.6-.7 3.2 3.8-1.6.3zM136.8 479.7l1.6 1.7 3.2 3.5-1.6-1.3zM72 485.9l3.3-3.1 1.9-1.9-3.3 3.4z"/><path fill="#453fd5" d="M80.1 483.5l3.9-2.8.9-.1-3.9 2.8zM71.7 486.4l3.9-2.7 1.3-.5-3.9 2.8zM70.4 487l3.9-2.4 1.3-.8-3.9 2.7z"/><path fill="#3f60f6" d="M97.7 474.8l3-3.9 1.7 1.4-2.9 3.5zM87.7 477.5l3.2-4.7 1 0-3.2 4.6z"/><path fill="#4557f6" d="M91.9 477.6l3.2-4.2 1.5.6-3.1 3.8zM120.6 474.2l1.5-.5 3.2 4.1-1.5.2zM135.5 478.4l1.4 1.3 3.2 3.9-1.4-1.1zM73.9 484.3l3.3-3.4 1.7-1.7-3.2 3.8z"/><path fill="#3c69f6" d="M102 472.5l2.6-3.6 2.2 2-2.7 3.1zM110.5 471l2.1-2 2.6 3.7-2.1 1.3zM76.8 481.3l2.9-3.8 1.8-2.1-2.9 4.2z"/><path fill="#454eea" d="M85.4 480.8l3.5-3.8 1.1 0-3.5 3.8zM129.1 477.6l1 .2 3.5 3.8-.8-.2zM130 477.8l.9.2 3.5 3.8-.9-.2zM130.8 478l.8.4 3.6 3.7-.8-.3zM131.6 478.4l.8.2 3.6 3.8-.8-.3zM132.4 478.6l.8.3 3.6 3.9-.8-.4zM133.2 478.9l.9.5 3.7 3.7-1.1-.3zM73.9 484.9l3.6-3.5 1.3-.9-3.6 3.6z"/><path fill="#3c6cf6" d="M106.4 471l2.2-2.9 2.3 3-2.3 2.3zM94.8 473.8l2.9-4.6 1.5.8-2.9 4.3zM118 470.2l1.5-.7 2.9 4.6-1.5.4zM132.9 474.1l1.4 1.7 2.8 4.3-1.3-1.3z"/><path fill="#425af6" d="M90.7 477.4l3.2-4.3 1.3.3-3.2 4.2z"/><path fill="#3c66f6" d="M96.2 474.3l2.9-4.3 1.7 1-3 3.9z"/><path fill="#3f66f6" d="M116.5 471.2l1.6-1 2.9 4.3-1.6.6z"/><path fill="#484eed" d="M84.5 480.9l3.5-3.8 1-.1-3.5 3.8zM83.6 481.1l3.5-3.9 1-.1-3.5 3.8zM82.8 481.3l3.5-3.9.9-.2-3.5 3.9zM76.5 483.5l3.6-3.7 1.1-.6-3.5 3.8zM75.2 484.1l3.5-3.6 1.4-.7-3.5 3.7z"/><path fill="#3972f6" d="M100.4 471.2l2.5-4.1 1.9 1.9-2.6 3.6zM112.4 469.1l1.9-1.7 2.6 4-1.9 1.4zM120.6 469l1.2-.4 3 5.2-1.3.1zM130.6 471.7l1.1 1.1 2.8 5-1.1-1zM80.1 478.2l2.8-4.6 1.4-1.4-2.8 4.8zM136 478.2l1.7 2.3-2.6-3.7-1.6-2.9z"/><path fill="#425df6" d="M89.6 477.4l3.2-4.5 1.2.2-3.2 4.3zM123.2 473.5l1.3-.1 3.1 4.4-1.2 0zM124.4 473.4l1.1 0 3.1 4.5-1.1-.1zM132.1 475.7l1.1.7 3.2 4.4-1.1-.6zM133.1 476.4l1.2 1 3.2 4.2-1.2-.8zM77.1 481.8l3.2-4 1.5-1.2-3.3 4.3zM75.6 483l3.2-3.8 1.6-1.4-3.2 4z"/><path fill="#3678f6" d="M104.4 469.2l2.3-3.6 2.1 2.7-2.2 2.9zM108.4 468.3l2.2-2.7 2.2 3.7-2.1 2zM90.7 473.2l2.8-5.4.9.1-2.8 5.3zM89.8 473.2l2.9-5.5.8.1-2.8 5.4zM124.6 468.4l.9.2 2.7 5.5-.8-.2zM125.5 468.6l.7.2 2.8 5.5-.8-.2zM126.2 468.8l.8.3 2.8 5.5-.8-.3zM127 469.1l.8.5 2.9 5.4-.9-.4zM82.7 476.1l2.8-5.1 1.2-.9-2.9 5.3z"/><path fill="#337bf6" d="M98.8 470.4l2.6-4.7 1.7 1.5-2.5 4.1zM89 473.3l2.8-5.5.9-.1-2.9 5.5zM88.2 473.5l2.8-5.6.8-.1-2.8 5.5zM87.5 473.8l2.7-5.7.8-.2-2.8 5.6zM86.6 474l2.8-5.6.8-.3-2.7 5.7zM85.7 474.3l2.8-5.4.9-.5-2.8 5.6zM84.8 474.8l2.9-5.4.8-.5-2.8 5.4zM131.9 471.5l1.6 2.4 2.5 4.3-1.5-2z"/><path fill="#3378f6" d="M114.1 467.5l1.7-1.6 2.6 4.7-1.7.9zM83.8 475.4l2.9-5.3 1-.7-2.9 5.4z"/><path fill="#484ef0" d="M82 481.5l3.5-4 .9-.1-3.5 3.9zM77.6 483l3.5-3.8 1.1-.5-3.5 3.9z"/><path fill="#396ff6" d="M93.6 473.5l2.9-4.9 1.3.6-2.9 4.6zM119.4 469.5l1.3-.5 2.9 4.9-1.3.2zM131.7 472.8l1.2 1.3 2.9 4.7-1.3-1zM78.5 479.6l2.9-4.2 1.5-1.8-2.8 4.6z"/><path fill="#3084f6" d="M102.7 467.4l2.3-4 1.9 2.3-2.3 3.6zM110.4 465.7l1.8-2.3 2.3 4.3-1.9 1.7zM117 464.8l1.3-.8 2.7 5.4-1.3.5zM129.5 467.8l1.1 1.7 2.5 5-1.2-1.3zM81.2 475.8l2.5-4.4 1.6-2.2-2.6 4.8z"/><path fill="#2d87f6" d="M106.5 465.8l2.1-3.4 2.2 3.4-2.2 2.7zM96.2 469l2.7-5.4 1.3.9-2.7 5.1zM118.2 464l1.4-.6 2.4 5.6-1.1.4zM128.3 466.4l1.2 1.4 2.4 5.4-1.1-1.1zM82.7 474l2.6-4.8 1.4-1.8-2.6 5.2z"/><path fill="#3672f6" d="M92.5 473.3l2.9-5.1 1.2.4-2.9 4.9zM121.7 468.6l1.1-.2 3 5.4-1.1 0z"/><path fill="#3081f6" d="M97.4 469.6l2.6-5.1 1.6 1.2-2.6 4.7zM115.6 465.9l1.6-1.1 2.6 5.1-1.6.7zM130.6 469.5l1.3 2 2.6 4.7-1.4-1.7z"/><path fill="#3f63f6" d="M86.8 477.6l3.2-4.8 1 0-3.2 4.7zM86 477.8l3.2-4.9.9-.1-3.2 4.8zM85.2 477.9l3.2-4.8.9-.2-3.2 4.9zM84.4 478.1l3.3-4.7.8-.3-3.2 4.8zM83.6 478.4l3.2-4.8 1-.2-3.3 4.7zM82.7 478.8l3.2-4.9 1-.3-3.2 4.8zM81.8 479.1l3.2-4.7 1-.5-3.2 4.9zM80.8 479.6l3.2-4.6 1.1-.6-3.2 4.7zM79.7 480.2l3.2-4.5 1.2-.7-3.2 4.6zM74.9 483.2l3-3.3 1.9-2.4-2.9 3.8z"/><path fill="#2a8df3" d="M101.2 466l2.4-4.6 1.6 2.1-2.3 4zM112 463.5l1.7-2 2.3 4.7-1.7 1.6zM94.2 468.3l2.6-5.8 1 .4-2.6 5.7zM120.5 463l1-.2 2.4 6-.9 0zM121.5 462.8l.7 0 2.6 6-.9 0zM125.5 463.9l.8.7 2.6 5.9-.9-.5zM126.3 464.6l1 .8 2.5 5.8-.9-.7zM85.3 471.4l2.5-5.5 1.1-1.1-2.4 5.7zM129.8 467.1l1.5 2.9 2.4 4.3-1.6-2.4zM83.5 471.8l2.4-4.4-1.6 3.1-2.5 3.9z"/><path fill="#3675f6" d="M91.5 473.2l2.9-5.3 1.1.3-2.9 5.1zM122.8 468.4l.9 0 2.8 5.4-.8 0zM123.7 468.4l.9 0 2.8 5.5-.9-.1zM127.8 469.6l.9.5 2.8 5.4-.8-.5zM128.7 470.1l.9.7 2.8 5.3-.9-.6zM129.6 470.8l1 .9 2.8 5.1-1-.7zM81.5 477l2.8-4.8 1.2-1.2-2.8 5.1z"/><path fill="#2793ed" d="M104.8 463.7l2.1-4.2 1.9 3.1-2.1 3.4zM108.4 462.6l1.9-3 2.1 4.1-1.8 2.3zM113.5 461.5l1.6-1.6 2.3 5.3-1.6 1.1zM90 468.5l2.7-6.1.7-.2-2.6 6.1zM89.2 468.8l2.5-6.1 1-.3-2.7 6.1zM128.5 464.6l1.3 2.5 2.3 4.8-1.3-2z"/><path fill="#2493ed" d="M99.8 464.9l2.3-5.2 1.7 1.7-2.4 4.7zM83.5 471.8l2.4-4.4 1.5-2.7-2.3 4.9z"/><path fill="#2d8af6" d="M95.2 468.6l2.6-5.7 1.2.7-2.7 5.4z"/><path fill="#219ce7" d="M103.4 461.7l2-4.7 1.7 2.6-2.1 4.2zM110.1 459.7l1.7-2.6 2.1 4.7-1.7 2zM116.2 458.7l1.2-.8 2.3 5.9-1.3.6zM126.1 460.9l1.1 1.6 2.5 5.7-1.2-1.4zM127.9 462.7l1.6 3.5 2 4.2-1.5-2.9z"/><path fill="#1e9fe4" d="M106.7 459.7l1.9-3.6 1.9 3.7-1.9 3zM117.3 457.9l1.1-.5 2.3 6-1.1.4zM125.1 459.6l1 1.3 2.4 5.9-1-1zM86.5 467.8l2.2-5.4 1.3-1.8-2.4 5.7z"/><path fill="#2a8af3" d="M119.5 463.4l1-.4 2.5 5.8-1 .2zM127.3 465.4l1 1 2.5 5.7-1-.9zM84.1 472.6l2.6-5.2 1.1-1.5-2.5 5.5z"/><path fill="#2199ea" d="M98.6 464l2.3-5.6 1.4 1.3-2.3 5.2zM114.9 459.9l1.4-1.2 2.3 5.7-1.4.8zM127.2 462.5l1.3 2.1 2.3 5.3-1.1-1.7z"/><path fill="#1ba5e1" d="M101.9 460.1l2.1-5.2 1.6 2.1-2 4.8zM111.6 457.1l1.6-2 2.1 5.2-1.6 1.6zM120.1 456.8l.8 0 2.3 6.5-.8-.1zM120.9 456.8l.8.2 2.3 6.5-.8-.2zM121.7 457l.8.4 2.3 6.4-.8-.3zM122.5 457.4l1.1.5 2.1 6.4-.9-.5zM88.7 465.2l2.4-6 1-1.1-2.4 6.2zM126.6 459.7l1.3 3 2.1 4.8-1.3-2.5zM85.7 467.8l2.1-4.4 1.5-3.2-2.1 4.9z"/><path fill="#2a8df0" d="M93.3 468.2l2.5-6 1 .3-2.6 5.8zM122.2 462.8l.8.1 2.7 6.1-.9-.2zM124.6 463.4l.9.5 2.5 6.1-.8-.5z"/><path fill="#15abdb" d="M105.2 457.3l1.9-4.3 1.7 3.3-1.9 3.6zM108.4 456.2l1.7-3.2 1.9 4.4-1.7 2.6zM100.7 458.8l2.1-5.6 1.4 1.7-2.1 5.2zM113 455.1l1.4-1.6 2.1 5.6-1.4 1.2zM125.3 457.2l1.3 2.5 2.1 5.3-1.4-2.1zM87.2 465.1l2.1-4.9 1.4-2.7-2.2 5.3z"/><path fill="#1e9ce7" d="M97.6 463.3l2.2-5.9 1.2 1-2.2 5.6z"/><path fill="#454be4" d="M137.1 481.2l1.3.9 3.6 3.4-1.2-.7z"/><path fill="#2790f0" d="M92.5 468.1l2.5-6 .8.1-2.5 6zM91.6 468.2l2.6-6.2.8.1-2.5 6zM123 462.9l.8.2 2.6 6.1-.7-.2zM123.8 463.1l.8.3 2.6 6.1-.8-.3zM87.5 469.8l2.4-5.9 1-.7-2.6 6.1zM86.5 470.5l2.4-5.7 1-.9-2.4 5.9z"/><path fill="#1ba2e4" d="M96.6 462.9l2.2-6.2 1.1.7-2.2 5.9z"/><path fill="#12b1d2" d="M109.9 453.1l1.7-2.6 1.8 5-1.6 2zM123.2 453.7l1 1.7 2.1 5.9-1-1.3zM126.8 460.1l1.3 3-1.9-4.5-1.3-3.5z"/><path fill="#12b4d2" d="M103.8 455.2l1.9-4.8 1.6 2.7-1.9 4.3zM98.7 457.1l2-6.2 1.1.9-2 6z"/><path fill="#0fb4cf" d="M106.9 453.2l1.7-3.8 1.7 3.8-1.7 3.3zM97.8 456.8l2-6.6 1 .7-2 6.2zM117.3 450.8l1-.3 2 6.7-1 .1zM118.2 450.5l.9 0 2 6.7-.9 0zM120.6 451l1 .6 2.1 6.7-1.1-.5zM121.5 451.6l.8.9 2.1 6.5-.7-.7zM90.9 459.6l2-6.1 1.1-1.3-2 6.3z"/><path fill="#12b1d5" d="M99.7 457.8l2-6 1.2 1.4-2 5.6zM115.5 452.2l1.1-.8 1.9 6.4-1.1.5zM88.5 462.8l2.2-5.3 1.2-2.1-2 5.6z"/><path fill="#12b1d8" d="M114.3 453.5l1.3-1.3 1.9 6.1-1.2.8zM124.2 455.4l1.1 1.8 2.1 5.7-1.1-1.6z"/><path fill="#1ba2e1" d="M95.6 462.6l2.4-6.2.9.3-2.2 6.2zM118.3 457.4l.9-.5 2.5 6.3-1 .2zM119.2 456.9l.9-.1 2.3 6.4-.7 0zM123.5 457.9l.7.7 2.3 6.4-.8-.7zM124.2 458.6l.9 1 2.4 6.2-1-.8zM87.6 466.3l2.4-5.7 1.1-1.4-2.4 6z"/><path fill="#2793f0" d="M90.8 468.3l2.6-6.1.8-.2-2.6 6.2zM88.3 469.3l2.6-6.1.8-.5-2.5 6.1z"/><path fill="#0fb4cc" d="M111.4 450.5l1.3-2.1 1.9 5.5-1.4 1.6zM96.9 456.4l2-6.6 1 .4-2 6.6zM96.1 456.3l2-6.7.9.2-2 6.6zM119 450.5l.9.1 2 6.8-.9-.2zM119.8 450.6l.9.4 2 6.8-.9-.4zM91.9 458.5l2-6.3 1-1.1-2 6.7zM123.6 452.1l1.3 3 1.9 5-1.4-2.5zM89.1 460.6l1.9-4.6 1.3-3.2-1.7 5.1z"/><path fill="#0fb7cc" d="M102.6 453.6l2-5.5 1.3 2.3-1.9 4.9zM92.8 457.8l2-6.7.9-.7-2 6.7z"/><path fill="#18a5de" d="M94.8 462.5l2.2-6.5 1 .4-2.4 6.2zM89.7 464.3l2.4-6.2.9-.7-2.3 6.2z"/><path fill="#0cb7c6" d="M108.4 449.5l1.6-3.3 1.8 4.6-1.7 2.6zM105.5 450.7l1.7-4.6 1.6 3.4-1.7 3.9zM112.5 448.4l1.3-1.6 1.9 5.8-1.3 1.3zM101.6 452.2l1.8-5.8 1.4 1.7-2 5.5zM122.5 449.8l1.2 2.3 1.8 5.5-1.2-1.8zM90.5 457.9l1.7-5.1 1.5-2.6-1.9 5.6z"/><path fill="#18a8de" d="M94 462.4l2.3-6.5.8.1-2.3 6.5zM93.2 462.6l2.3-6.6.8-.1-2.3 6.5zM92.5 462.8l2.2-6.6.8-.2-2.3 6.6zM91.5 463.1l2.3-6.4.9-.5-2.1 6.6zM90.7 463.6l2.3-6.2.8-.7-2.3 6.4z"/><path fill="#0fb4d2" d="M116.5 451.4l.9-.6 2 6.5-1 .5zM122.3 452.5l.9 1.2 2.1 6.3-1-1zM89.8 461l2.1-5.6 1.1-1.9-2 6.1z"/><path fill="#1bbdb4" d="M109.8 446.3l1.4-2.6 1.7 5.1-1.3 2.1zM92.8 453.9l1.8-5.9 1.1-1.6-1.8 6.2zM122.1 447.4l1.2 3.4 1.8 4.7-1.4-3z"/><path fill="#1ec0b1" d="M104.4 448.5l1.6-5 1.4 2.7-1.7 4.6zM115.6 444.8l1-.4 1.8 6.5-1 .3zM119.7 445.5l1 1 1.8 6.4-.9-.9z"/><path fill="#24c0ab" d="M107 446.3l1.6-3.8 1.6 3.9-1.6 3.4zM98.8 450.2l1.8-6.5 1.1.7-1.9 6.2zM117.3 444.2l.9.2 1.8 6.6-.9-.1zM118.1 444.4l.9.4 1.8 6.6-.9-.4zM93.8 452.6l1.8-6.2 1.1-1.2-1.9 6.3z"/><path fill="#15bdba" d="M100.6 451.3l1.8-6.2 1.1 1.3-1.8 5.8z"/><path fill="#12babd" d="M113.7 446.8l1.1-1.2 1.9 6.2-1.1.8zM121.5 447.9l1.1 1.9 1.8 6-1.1-1.7z"/><path fill="#2dc6a2" d="M103.2 446.8l1.7-5.4 1.3 2.1-1.6 5z"/><path fill="#2dc3a2" d="M111 443.7l1.3-2 1.7 5.5-1.3 1.6zM121 444.6l1.2 2.8 1.6 5.1-1.2-2.3z"/><path fill="#3cc993" d="M105.8 443.8l1.6-4.4 1.4 3.2-1.6 3.9zM108.4 442.6l1.4-3.1 1.6 4.5-1.4 2.6zM102.3 445.5l1.6-5.7 1.1 1.6-1.6 5.4z"/><path fill="#1ec0b4" d="M99.7 450.6l1.9-6.2.9.7-1.8 6.2z"/><path fill="#18bdb7" d="M114.7 445.6l1-.8 1.8 6.4-.9.6zM120.6 446.5l1 1.4 1.8 6.2-1-1.2z"/><path fill="#39c996" d="M112.2 441.7l1.1-1.5 1.6 5.8-1.1 1.2zM120 442.5l1.1 2.1 1.6 5.6-1.1-1.9zM93.5 450.6l1.5-5.2 1.2-2.5-1.6 5.5z"/><path fill="#0fb7c9" d="M95.3 456.4l2-6.7.9-.1-2 6.7zM94.5 456.6l2.2-6.7.7-.2-2 6.7zM93.6 457.1l2-6.7 1.1-.5-2.1 6.7z"/><path fill="#57c97b" d="M104.7 441.8l1.6-5 1.3 2.7-1.6 4.4zM115.8 438.4l.9 0 1.6 6.4-.9-.2zM116.6 438.4l1 .4 1.5 6.4-.9-.4z"/><path fill="#54c97e" d="M109.6 439.5l1.3-2.5 1.6 5.1-1.3 2zM100.5 444.1l1.6-6.2 1 .7-1.5 6.2zM115 438.5l.9-.1 1.6 6.2-.9.2zM117.5 438.8l.8.8 1.6 6.3-.9-.7z"/><path fill="#5dc975" d="M107.2 439.6l1.4-3.7 1.4 3.8-1.4 3.2zM98.9 443.8l1.7-6.3.8 0-1.6 6.3zM98.1 444.1l1.6-6.3 1-.3-1.7 6.3zM97.3 444.8l1.6-6.4.9-.6-1.6 6.3z"/><path fill="#48c987" d="M101.5 444.8l1.5-6.2 1 1.2-1.6 5.7zM94.5 448.4l1.6-5.5 1.1-1.9-1.6 5.8z"/><path fill="#45c98a" d="M113.2 440.2l1-1.1 1.6 6.1-1 .8zM119.1 440.8l1 1.7 1.6 5.8-1-1.4z"/><path fill="#21c0ae" d="M116.5 444.4l.9-.2 1.8 6.7-.9 0zM118.9 444.8l.9.7 1.9 6.5-1-.6z"/><path fill="#27c3a8" d="M98 450l1.8-6.6.9.3-1.8 6.5zM94.7 451.5l1.9-6.3.9-.8-1.9 6.4z"/><path fill="#69c969" d="M103.7 440.2l1.6-5.3 1.2 1.9-1.6 5z"/><path fill="#69c96c" d="M110.7 437l1.2-1.8 1.5 5.4-1.1 1.5zM118.7 437.5l1.1 2.5 1.4 5-1.1-2.1z"/><path fill="#7ec95a" d="M106.1 437.1l1.5-4.2 1.2 3.1-1.4 3.8z"/><path fill="#7bc95a" d="M108.4 436l1.3-3 1.4 4.3-1.3 2.6z"/><path fill="#4ec981" d="M114.1 439.1l1-.6 1.6 6.3-1 .4zM118.2 439.6l1 1.2 1.6 6.1-1-1zM93.7 449l1.4-4.2 1.3-3.4-1.4 4.4z"/><path fill="#2ac3a5" d="M97.2 450.1l1.8-6.7.9 0-1.8 6.6zM96.5 450.3l1.7-6.6.9-.3-1.8 6.7zM95.5 450.8l1.9-6.4.9-.7-1.7 6.6zM92.1 453.2l1.8-4.6 1.2-3.2-1.5 5.2z"/><path fill="#7bc95d" d="M102.9 439l1.4-5.5 1.1 1.4-1.5 5.3z"/><path fill="#78c960" d="M111.8 435.2l1.1-1.3 1.4 5.6-1 1.1zM96 443.3l1.4-4.9 1.1-2.4-1.4 5.4z"/><path fill="#5ac978" d="M99.7 443.8l1.6-6.3.9.4-1.6 6.2zM96.5 445.6l1.5-6.1 1-1.1-1.6 6.4z"/><path fill="#99c948" d="M105.1 435.3l1.5-4.7 1.2 2.3-1.5 4.3zM99.6 438.2l1.5-5.8.9-.4-1.4 5.9z"/><path fill="#96c948" d="M109.5 433l1.2-2.1 1.4 4.7-1.2 1.8zM100.5 437.9l1.4-5.9.9.1-1.5 5.8zM98.8 438.8l1.4-5.7 1-.7-1.5 5.8zM117.5 433.1l1.1 2.9 1.3 4.4-1.1-2.5z"/><path fill="#a2c63f" d="M107.4 433.1l1.2-3.4 1.3 3.5-1.3 3.1z"/><path fill="#8ac951" d="M102 438.3l1.6-5.7.8.9-1.4 5.5zM113.6 433.1l1-.4 1.4 6.1-.9.1zM116 433.4l1 .8 1.4 5.8-.8-.8z"/><path fill="#84c957" d="M112.8 433.9l.9-.8 1.5 5.8-1 .6zM116.9 434.2l.9 1.4 1.5 5.6-1-1.2z"/><path fill="#aec639" d="M104.1 433.9l1.5-5 1.2 1.7-1.5 4.7z"/><path fill="#abc639" d="M110.6 430.9l1-1.5 1.4 4.9-1.1 1.3zM116.5 430.9l1.1 2.2 1.3 4.8-1.1-1.9z"/><path fill="#bdc336" d="M106.4 430.9l1.2-3.8 1.2 2.7-1.2 3.5z"/><path fill="#bdc339" d="M108.4 429.8l1.2-2.6 1.3 4-1.2 2.2z"/><path fill="#90c94b" d="M101.2 437.9l1.5-5.8 1 .5-1.6 5.7z"/><path fill="#bac339" d="M103.5 433l1.2-5.2 1 1.1-1.4 5z"/><path fill="#b7c339" d="M111.5 429.4l1.1-1 1.2 5.1-.9.8zM115.6 429.4l1 1.5 1.3 5.1-.9-1.4zM98.3 436.4l1.4-4.7 1-2-1.3 5.1z"/><path fill="#d5bd36" d="M105.4 429.3l1.3-4.2 1.1 2-1.2 3.9zM115.5 426.9l.8 2.5 1.4 4.1-1.1-2.2z"/><path fill="#d2bd36" d="M109.4 427.2l1.2-1.8 1.2 4.4-1.1 1.5z"/><path fill="#dbbd36" d="M107.4 427.3l1.2-3.1 1.2 3.2-1.2 2.7z"/><path fill="#90c94e" d="M114.5 432.7l.8.1 1.5 6-.9 0zM115.2 432.8l.9.6 1.6 5.8-1-.4zM97.9 439.9l1.5-5.5.9-1.3-1.4 5.7z"/><path fill="#c6c036" d="M102.6 432.5l1.3-5.3.9.6-1.2 5.2z"/><path fill="#c0c336" d="M112.5 428.4l.8-.6 1.4 5.3-1 .4zM114.8 428.4l.9 1 1.4 5.2-1-.8z"/><path fill="#e1ba39" d="M104.6 428.2l1.2-4.5 1.1 1.4-1.3 4.2z"/><path fill="#deba36" d="M110.5 425.4l.9-1.4 1.3 4.8-1.1 1z"/><path fill="#edb73c" d="M106.5 425.4l1.2-3.5 1.1 2.4-1.2 3.2zM108.4 424.3l1.2-2.3 1.2 3.7-1.2 1.9zM103 427.5l1.2-4.7.9.1-1.2 4.7zM101.5 428.8l1.1-4.6.9-1-1.2 4.6z"/><path fill="#2199e7" d="M85.1 469.6l2.3-4.9 1.3-2.3-2.2 5.4z"/><path fill="#c9c036" d="M101.8 432.4l1.3-5.3.9.1-1.3 5.3zM100.1 433.5l1.5-5.1.8-1-1.3 5.4z"/><path fill="#c3c036" d="M113.2 427.8l.9 0 1.3 5.4-.8-.1zM114 427.8l.9.6 1.3 5.4-.9-.6z"/><path fill="#eaba39" d="M103.8 427.6l1.2-4.7.9.8-1.2 4.5zM112.1 423.4l.9 0 1.2 4.8-.9 0zM112.9 423.4l.9.6 1.2 4.8-.9-.6z"/><path fill="#e7ba39" d="M111.3 424l.9-.6 1.2 4.8-.8.6zM113.7 424l.9 1.1 1.2 4.7-.9-1zM100.5 430.1l1.2-4.3 1-1.6-1.1 4.6z"/><path fill="#337ef6" d="M79.5 477.9l2.5-3.9 1.7-2.6-2.5 4.4z"/><path fill="#f6ba3c" d="M105.6 424.1l1.2-3.7 1.1 1.5-1.2 3.6zM109.4 422l1-1.5 1.2 3.9-1 1.4zM113.5 421.6l1.1 2 1.1 3.7-1.1-1.8z"/><path fill="#51c97e" d="M95.5 446.8l1.6-5.8 1-1.5-1.5 6.1z"/><path fill="#f9bd39" d="M107.5 422.1l1.1-2.7 1.2 2.8-1.2 2.4zM110.3 420.5l.9-.8 1.1 4.1-.9.6z"/><path fill="#ccc036" d="M101 432.8l1.3-5.4.9-.3-1.3 5.3zM98.6 434.8l1.3-3.7 1-3-1.2 4z"/><path fill="#15babd" d="M91.7 455.8l2-5.6 1-2.2-1.8 5.9z"/><path fill="#fcc039" d="M104.9 423.3l1.1-3.9.9 1-1.1 3.7zM111.1 419.7l.9-.1 1.1 4.2-.9 0zM111.9 419.6l.9.6 1.1 4.2-.9-.6zM102.5 424.6l1.1-3.8.9-1.2-1.1 4z"/><path fill="#ffc636" d="M106.6 420.7l1.1-3.2 1.1 2-1.1 2.8zM108.4 419.5l1.2-1.8 1 3.1-1 1.6zM112.6 418.7l1 2.3 1.1 3-1.1-2z"/><path fill="#f0b73c" d="M102.2 427.8l1.2-4.6.9-.4-1.2 4.7z"/><path fill="#84c954" d="M97 441.4l1.4-5.4 1.1-1.6-1.5 5.5z"/><path fill="#78c95d" d="M117.7 435.6l1.1 1.9 1.4 5.4-1-1.7z"/><path fill="#ffc339" d="M104.1 423.2l1.1-4.1.9.3-1.1 3.9zM103.3 423.6l1.1-4 .9-.5-1.1 4.1z"/><path fill="#fccc33" d="M109.4 417.7l.9-1 1.1 3.4-1 .8zM111.8 417.2l.9 1.5 1 3.3-.9-1.4z"/><path fill="#fccc30" d="M105.8 419.8l1.1-3.4 1 1.1-1.1 3.3z"/><path fill="#fccf30" d="M107.5 417.7l1.1-2.2 1.2 2.4-1.2 1.9zM110.2 416.7l.9-.2 1 3.5-.9.1zM105.1 419.5l1-3.4.9.3-1 3.4zM111 416.5l.9.7 1 3.4-.9-.6zM103.5 421.2l1.1-3.2.8-1.3-1 3.3z"/><path fill="#c3c336" d="M99.3 434.8l1.3-5.1 1.1-1.3-1.5 5.1z"/><path fill="#f9d82a" d="M108.4 415.6l1-1.2 1.1 2.7-.9 1zM106.7 416.7l1.1-2.5 1 1.4-1.1 2.3zM104.5 418.4l.8-2.4 1-1.6-1 2.7zM110.9 414.8l1 1.8.9 2.5-.9-1.5z"/><path fill="#e1ba36" d="M114.5 425.1l1.1 1.8 1.1 4.4-1-1.5z"/><path fill="#fcbd39" d="M112.7 420.2l.9 1.4 1.1 3.9-.9-1.1z"/><path fill="#fcd22d" d="M104.3 420l1-3.3.9-.6-1 3.4z"/><path fill="#f9db27" d="M109.2 414.4l1-.4 1.1 2.9-1 .2zM105.9 416.5l1.1-2.8 1 .5-1.1 2.6zM110.1 414l.9.8 1 2.8-.9-.7z"/><path fill="#54c97b" d="M119.7 440l1.2 3.2 1.4 4.6-1.2-2.8z"/><path fill="#63c96f" d="M94.9 445.8l1.4-4.4 1.2-3-1.4 4.9z"/><path fill="#f9e124" d="M107.6 414.4l1-1.8 1 2.1-1 1.2z"/><path fill="#a5c63c" d="M97.3 438.8l1.5-4.4 1-2.7-1.4 4.7z"/><path fill="#debd36" d="M99.6 432.1l1.2-4 1-2.3-1.2 4.3z"/><path fill="#f9bd3c" d="M101.6 426.2l1.1-3.6 1-1.8-1.1 3.8z"/><path fill="#f9de27" d="M105.2 417.1l1-2.7.9-.7-1 2.8z"/><path fill="#f9e721" d="M106.8 414l1-1.9 1 .6-1 1.9zM108.4 412.6l1-.4 1 2.2-1 .4zM106.1 414.8l.9-1.9.9-.8-.9 2zM109.3 412.2l.9 1 .9 2-.9-.8z"/><path fill="#8dc94e" d="M97.3 438.8l1.5-4.4-1.1 3.3-1.5 4.1z"/><path fill="#f3b73c" d="M100.7 428.5l1.2-3.3.9-2.6-1.1 3.6z"/><path fill="#fcc933" d="M102.6 423l1-2.9 1.1-2.1-1.1 3.2z"/><path fill="#f9ed1e" d="M107.6 412.3l1-.9 1 1-1 .6z"/></g>
<g opacity="0.80" shape-rendering="crispEdges"><path fill="#4233c0" d="M134.9 483.2l.9.3 4.3 1.5-.9-.3zM65 489.1l4.2-1.5-1.7 1-4.1 1.2zM63.4 489.7l4.1-1.2-1.9 1.1-4.2 1.1zM58.2 493.2l3.9-.5-3 2.1-3.9.2zM55.9 496.4l3.3-.2-3.8 2.6-3.3-.4zM146.5 502.6l4.3 4.1-1.6.3-4.1-4.2z"/><path fill="#3f2db4" d="M147.6 486.1l.8.3-4.6-.1-.8-.3zM148.4 486.4l.9.3-4.6-.1-.9-.3zM149.3 486.7l.9.4-4.6-.2-.9-.3zM150.2 487.1l1 .3-4.6 0-1-.5zM151.2 487.4l1.1.5-4.6-.1-1.1-.4zM66 487.4l4.6-.5-1.1.4-4.6.6zM64.9 487.9l4.6-.6-1.2.5-4.6.5zM152.3 487.9l1.2.4-4.6.1-1.2-.6zM63.7 488.3l4.6-.5-1.4.5-4.5.7zM62.4 488.9l4.5-.7-1.5.8-4.6.7zM60.8 489.6l4.6-.7-1.6.8-4.7.5zM157.9 492.2l2.4 1.4-4.3.2-2.3-1.6zM51.5 494.8l4.1 0-3.2 2-4.2-.5zM159 494.9l3 1.9-3.9.3-3-2.2zM48.3 496.1l4.2.5-3.8 1.6-4-.6zM158.1 498.9l3.9 2.5-3 .6-3.9-2.9zM156.1 501.9l4.2 2.8-2.5.6-4.1-3.1zM150.4 506.4l4.5 3.3-1.4.6-4.6-3.6zM148.9 506.6l4.6 3.6-1.2.4-4.6-3.7zM147.7 506.8l4.6 3.7-1.1.5-4.6-3.8zM146.6 507.1l4.6 3.8-1 .4-4.6-3.8zM145.6 507.4l4.6 3.8-.9.4-4.6-4zM122.1 514.7l4.4 5.5-3.1 1.3-4.4-5.5zM119.2 515.9l4.4 5.5-3.4 1.4-4.4-5.5zM116 517.2l4.4 5.5-3.7 1.2-4.3-5.3zM112.6 518.5l4.3 5.3-4.1 1.5-4.4-5.2zM108.6 520l4.4 5.2-4.4 1.6-4.4-5.3z"/><path fill="#3f2db1" d="M153.5 488.2l1.4.7-4.5.2-1.5-.7zM154.9 488.8l1.5.8-4.6.2-1.4-.8zM59.1 490.2l4.7-.6-2 1.1-4.6.2zM57.2 490.8l4.6-.2-2 1.1-4.7.1zM44.9 497.4l4 .6-4 1.8-4.1-.7zM41 498.9l4.1.7-4.4 1.7-4.1-.7zM158.8 501.6l4.1 2.5-2.7.7-4.2-2.8zM153.5 505.7l4.6 3.1-1.8.6-4.5-3.3zM151.8 506l4.6 3.3-1.5.5-4.5-3.3z"/><path fill="#4236c3" d="M69.1 487.4l4.3-1.7-1.3.5-4.2 1.7zM60.8 491.9l4-1-2.7 2.1-4 .5zM152.8 493l2.7 2.1-3.5-.3-2.6-2.8zM152 496.4l3.5 2.9-2.8 0-3.3-3.5zM150.3 498.8l3.8 3.6-2.2.2-3.9-3.9zM57.2 500.8l2.6.3-4.6 2.7-2.5-.6zM143.9 502.8l4.2 4.4-1.2.3-4.2-4.6zM142.8 502.9l4.2 4.6-1.1.3-4.2-4.7zM141.8 503.1l4.2 4.7-1 .1-4.2-4.7zM112.1 513.8l4.1 3.7-3.6 1.4-4.2-3.4zM108.6 515.4l4.2 3.4-4.2 1.6-4.1-3.5zM104.7 516.8l4.1 3.5-4.4 1.5-4-3.2z"/><path fill="#3f2ab1" d="M156.4 489.5l1.7.7-4.6.5-1.7-1zM158.1 490.1l1.9.8-4.6.6-1.9-.9zM55.1 491.7l4.7-.1-2.5 1.1-4.6 0zM160.3 493.4l2.6 1.3-4.1.6-2.8-1.7zM161.9 496.5l3.2 1.7-3.7.8-3.4-2.2zM161.4 498.6l3.7 2.2-3.3.7-3.8-2.5zM155.4 505.4l4.6 2.8-2 .7-4.5-3.1z"/><path fill="#3f33bd" d="M149.3 488.4l1.5.7-4.4-1.1-1.3-.8zM150.8 489l1.4.8-4.2-.9-1.6-1zM61.4 490.6l4.2-1.1-2.1 1.2-4.1 1zM154.1 492.2l2.3 1.5-3.9-.3-2.3-2.1zM55.3 494.7l3.9-.2-3.4 2.3-3.7-.1zM155.3 494.8l3.1 2.2-3.4 0-3.1-2.5zM155 496.6l3.4 2.6-3.1.2-3.4-2.9zM52.4 498.1l3.2.4-4.1 2.1-3.3-.6zM149.8 502.4l4.1 3.6-1.8.4-4.1-3.8z"/><path fill="#3f2aae" d="M160 490.8l2.1 1-4.6.7-2.1-1.1zM162.1 491.6l2.4 1.1-4.6 1.1-2.4-1.4zM52.7 492.6l4.6 0-2.5 1.2-4.7-.1zM50.1 493.5l4.7.2-3 1.5-4.6-.3zM47.3 494.7l4.5.3-3.3 1.5-4.5-.4zM162.8 494.5l3 1.5-4.1.9-3-1.8zM165.7 495.8l3.3 1.5-4.2 1.1-3.2-1.7zM164.9 498l3.9 1.8-3.9 1.1-3.7-2.1zM164.8 500.5l4.2 1.9-3.3 1.1-4.1-2.2zM161.7 501.1l4.1 2.3-3 .8-4.1-2.5zM160 504.4l4.5 2.5-2.5.9-4.5-2.8zM157.6 504.9l4.5 2.8-2.2.6-4.5-2.8z"/><path fill="#3f30ba" d="M152.2 489.7l1.7 1-4.2-.8-1.7-1.1zM59.4 491.6l4.1-1-2.3 1.5-4.3.6zM56.9 492.5l4.3-.6-2.7 1.7-4.1.2zM156.3 493.4l2.8 1.8-3.9 0-2.7-2.1zM52.3 496.4l3.7.1-3.7 2-3.8-.5zM155.2 499l3.9 2.9-2.8.4-3.8-3.3zM48.5 499.8l3.3.6-4.5 2-3.3-.7zM151.7 502.2l4.1 3.5-2 .4-4.1-3.6z"/><path fill="#3f30b7" d="M153.9 490.6l1.9.9-4.2-.4-1.9-1.3zM54.5 493.5l4-.2-3 1.8-4.1 0zM48.7 497.8l3.8.5-4.1 1.9-3.7-.6zM153.8 502.1l4.1 3.1-2.2.6-4.1-3.5zM143 507.8l4.6 4.4-.8.2-4.6-4.4zM142.2 508l4.6 4.3-.8.5-4.6-4.6zM141.4 508.2l4.6 4.6-.8.2-4.6-4.6zM140.7 508.4l4.5 4.6-1 .3-4.5-4.7zM139.8 508.6l4.5 4.7-1 .5-4.5-5zM138.9 508.8l4.5 5-1.1.2-4.5-4.9zM137.9 509.1l4.5 4.9-1.2.5-4.5-5.1zM136.8 509.4l4.5 5.1-1.3.4-4.6-5.2zM135.5 509.7l4.6 5.2-1.4.6-4.6-5.4zM134.2 510.1l4.6 5.4-1.7.6-4.5-5.5zM132.7 510.6l4.5 5.5-1.8.7-4.5-5.6zM131 511.2l4.5 5.5-2 .8-4.5-5.5zM129.1 511.9l4.5 5.5-2.2 1-4.6-5.6z"/><path fill="#4239c9" d="M148.4 489l1.7 1-4-1.7-1.7-1.2zM63.1 490.7l3.9-1.4-2.2 1.8-4 1zM150.6 491.3l2.3 2-3.5-1-2.4-2.4zM61.8 492.6l3.5-.9-3.1 2.6-3.4.4zM149.5 495.7l3.4 3.5-2.4 0-3.5-4zM61.1 498.4l2.4-.1-4 3.1-2.6-.3zM146.2 498.4l3.9 4.3-1.8.2-3.9-4.5zM61.8 501.1l2 .4-4.7 2.8-1.9-.4zM138.5 503.6l4.1 4.8-.9.2-4.2-4.9zM137.6 503.7l4.2 4.9-.9.2-4.2-5zM136.8 503.8l4.2 5-1 .2-4.2-5zM135.9 504l4.2 5-1 .2-4.2-5zM135 504.2l4.2 5-1.1.3-4.2-5zM123.1 508.5l4.1 4.5-2.4 1.1-4.2-4.4zM120.7 509.6l4.2 4.4-2.7 1.1-4.2-4.1zM101.2 514.5l3.7 2.5-4.3 1.8-3.8-2.4z"/><path fill="#3f2db7" d="M155.8 491.3l2.1 1.2-4.2-.1-2.1-1.5zM158.2 496.7l3.4 2.2-3.4.4-3.4-2.6zM45 499.4l3.6.6-4.5 1.9-3.6-.8zM144.7 507.5l4.6 4-.9.4-4.6-4.1zM143.8 507.7l4.6 4.1-.8.4-4.6-4.4zM126.9 512.7l4.6 5.6-2.5 1-4.5-5.5zM124.6 513.7l4.5 5.5-2.7 1.1-4.5-5.5z"/><path fill="#3f2aab" d="M164.5 492.5l2.6 1.2-4.6 1.2-2.6-1.3zM44.1 495.9l4.5.4-3.6 1.5-4.5-.5zM162.6 503.8l4.5 2.2-2.7 1-4.5-2.5z"/><path fill="#4236c6" d="M150.1 489.9l1.9 1.2-4-1.3-1.9-1.5zM152.1 494.4l3.1 2.5-3.1-.1-3.1-3.3zM59 494.4l3.4-.4-3.4 2.5-3.4.2zM58.4 498.4l2.8.1-4.2 2.7-2.6-.4zM140.9 503.2l4.2 4.7-1 .2-4.1-4.7zM115.3 512.4l4.1 3.8-3.4 1.4-4.1-3.7z"/><path fill="#3f27ab" d="M167 493.5l3 1.4-4.5 1.3-3-1.5zM169.9 494.7l3.3 1.4-4.5 1.4-3.3-1.5zM40.7 497.1l4.4.5-4.1 1.7-4.4-.6zM168.8 497.1l3.7 1.6-3.9 1.3-3.9-1.8zM172.3 498.5l4.1 1.6-4.1 1.5-3.9-1.8zM36.8 498.5l4.4.6-4.4 1.7-4.4-.6zM168.6 499.6l3.9 1.8-3.7 1.2-4.1-1.9zM168.7 502.2l4.5 1.9-3.3 1.2-4.5-2zM165.5 503.1l4.5 2-3 1.1-4.5-2.2z"/><path fill="#423ccc" d="M65.2 489.7l4-1.9-2.2 1.6-3.9 1.4zM62.2 493.9l3.1-.7-3.4 3-3.1.2zM62 495.8l2.8-.3-3.9 3.3-2.8-.1zM144.5 498.4l3.9 4.5-1.7.1-3.8-4.8zM63.8 501.4l1.6.1-4.6 3-1.7-.3zM132.9 504.7l4.2 5.1-1.4.3-4.1-5zM131.7 505.1l4.1 5-1.4.4-4.2-5zM130.3 505.5l4.2 5-1.6.5-4.2-5zM128.8 506l4.2 4.9-1.8.7-4.2-4.8zM127.1 506.7l4.2 4.8-2 .8-4.2-4.7zM105.1 512.8l3.7 2.8-4.1 1.6-3.7-2.5z"/><path fill="#4236c0" d="M152 491l2.1 1.4-3.9-.9-2.2-1.8zM55.5 498.4l3 .1-4 2.4-3.1-.4zM54.7 500.5l2.6.4-4.5 2.4-2.7-.5zM145.2 502.7l4.1 4.2-1.3.3-4.2-4.3z"/><path fill="#4542d5" d="M146.5 488.5l1.9 1.4-3.6-1.9-1.9-1.9zM65.1 491.6l3.1-1.1-3.1 3-3.1.7zM65.2 493.1l2.7-.6-3.3 3.3-2.9.3zM67.4 498l1.8.1-4.1 3.7-1.7-.1zM139.3 498.1l3.8 5.2-1.1.2-3.8-5.4zM72.5 502.4l.9.2-4.6 3.4-.9-.3zM90.3 508.8l2.5 1.3-4.6 2.3-2.5-1.1z"/><path fill="#4545de" d="M68.8 488l3.6-2.4-2.2 2-3.6 1.9zM67.6 489.4l3.2-1.7-2.7 3.1-3.2 1.1zM67.8 492.4l2.4-1-3.5 4-2.3.3zM143 494l3.5 4.8-1.8 0-3.5-5.3zM69.1 494.5l2-.2-3.9 4.1-2 0zM72 498l1.4.2-4.2 4.1-1.3-.3zM73.3 498.1l1.2.2-4.2 4.1-1.2-.2zM134.1 498.6l3.8 5.5-.9.1-3.8-5.5zM133.3 498.7l3.8 5.5-1 .2-3.7-5.5zM132.5 498.9l3.7 5.5-1 .2-3.8-5.5zM131.5 499.1l3.8 5.5-1.1.3-3.8-5.5zM125.3 501.4l3.8 4.9-1.8.8-3.8-4.9zM123.6 502.1l3.8 4.9-2 .9-3.8-4.6zM92 504.8l2.2 1.3-4.1 3.1-2.3-1.1zM111.6 504.4l3.3 3.3-3.1 2.1-3.4-3.1z"/><path fill="#423ccf" d="M148.4 489.8l2.2 1.7-3.6-1.4-2.2-2.2zM149.7 491.9l2.6 2.8-3.2-.9-2.7-3.1zM149.2 493.4l3.1 3.3-2.7-.6-3.2-3.6zM63.4 498.2l2.2 0-4.1 3.3-2.1-.2zM143 498.2l3.8 4.8-1.4.1-3.8-5zM65.4 501.4l1.5.3-4.5 3.1-1.6-.4zM111.8 509.4l3.7 3.3-3.4 1.5-3.7-2.9zM108.6 511.1l3.7 2.9-3.7 1.8-3.7-2.8zM98.1 512.7l3.3 2-4.5 1.9-3.3-1.9z"/><path fill="#454bea" d="M143.3 486.4l1.9 1.8-3.3-2.7-1.9-2.3zM138.5 492.9l3.5 5.6-1.3 0-3.6-5.8zM116.6 500.4l3.3 4.3-2.6 1.6-3.4-3.8zM95.5 501.2l2.3 1.7-3.9 3.5-2.2-1.3zM108.6 501.4l3.2 3.2-3.2 2.3-3.1-2.8zM103.1 501.5l2.8 2.6-3.3 2.9-2.9-2.2z"/><path fill="#4542d8" d="M66.6 489.4l3.6-1.9-2.3 2.2-3.5 1.4zM147.4 489.8l2.4 2.4-3.3-1.2-2.4-3.1zM146.5 492.4l3.3 3.7-2.6-.6-3.1-4.3zM144.9 494.5l3.5 4.5-2-.2-3.5-4.8zM66.9 495l2.3-.4-3.9 3.9-2.2 0zM69.1 498l1.7.1-4.2 3.9-1.6-.3zM138.3 498.1l3.8 5.4-1 .1-3.7-5.4zM137.5 498.2l3.7 5.4-.9.2-3.9-5.4zM73.4 502.5l.8.3-4.6 3.4-.8-.3zM74.2 502.7l.8.3-4.6 3.4-.8-.3zM75 502.9l.8.3-4.6 3.4-.8-.3zM75.8 503.1l.8.4-4.6 3.3-.8-.3zM76.6 503.4l.9.3-4.6 3.3-.9-.3zM77.5 503.6l.9.4-4.6 3.3-.9-.4zM78.4 503.9l1 .4-4.6 3.3-1-.4zM79.4 504.2l1.1.5-4.6 3.2-1.1-.4zM80.5 504.6l1.3.5-4.7 3.2-1.2-.5zM81.8 505l1.3.6-4.6 3.2-1.4-.6zM83.1 505.5l1.5.8-4.6 3-1.5-.6zM84.5 506.2l1.8.8-4.6 2.9-1.7-.7zM117.3 505.9l3.7 4-2.8 1.4-3.7-3.7zM86.2 506.9l2 1-4.5 2.7-2-.8zM108.6 506.5l3.4 3.1-3.4 1.9-3.4-2.6zM88.1 507.8l2.3 1.1-4.6 2.6-2.2-1zM96.5 507.4l2.7 1.8-4.2 2.4-2.6-1.5z"/><path fill="#3f27a8" d="M173.1 495.9l3.7 1.4-4.6 1.6-3.6-1.6zM176.6 497.1l4 1.6-4.4 1.6-4.1-1.6zM180.4 498.5l4.4 1.7-4.4 1.6-4.4-1.7zM176.2 499.9l4.4 1.7-4 1.5-4.5-1.7zM172.2 501.2l4.6 1.7-3.7 1.4-4.5-1.9z"/><path fill="#4851f0" d="M72 485.9l3.3-3.1-2.2 2.4-3.3 2.6zM135.1 492.5l3.4 6-.8.1-3.5-6.1zM76.8 493.6l1.2 0-3.8 5-1.2-.1zM91.9 498.7l1.9 1.3-3.9 4.1-1.8-1zM100.7 499.4l2.6 2.2-3.4 3.4-2.5-1.9z"/><path fill="#4548e1" d="M145.2 488.1l2.2 2.1-3.3-2-2.2-2.8zM68 490.4l2.8-1.4-3.1 3.8-2.8.6zM144.2 491.2l3.2 4.3-2.4-.6-3.1-4.7zM141.3 493.5l3.5 5.3-1.6-.2-3.5-5.4zM74.4 498.2l1.1.3-4.2 4.1-1.1-.3zM75.5 498.4l.9.1-4.2 4.3-1-.2zM76.4 498.5l.8.1-4.1 4.3-1-.1zM129.5 499.7l3.7 5.4-1.3.4-3.8-5.4zM128.2 500.1l3.8 5.4-1.5.4-3.8-5.3zM126.8 500.6l3.8 5.3-1.6.5-3.8-5zM88.4 502.8l1.8 1-4.2 3.5-1.8-.8zM90.1 503.7l2 1.2-4.2 3.3-2-1zM105.7 503.9l3.1 2.8-3.4 2.4-3-2.3zM99.9 504.6l2.9 2.2-3.9 2.6-2.7-1.8z"/><path fill="#455af6" d="M140.4 483.6l1.9 2.2-2.9-2.9-2-2.8zM139.6 485.8l2.7 4.8-2.1-1-2.8-5.2zM136.9 487.7l3.1 5.9-1.3-.3-3.1-6.1zM77.4 488.9l1.4-.4-3.5 5.5-1.4.1zM108.6 495.2l2.8 3.7-2.8 2.9-2.8-3.2zM103.6 495.6l2.6 3-3.1 3.3-2.6-2.2z"/><path fill="#423fd2" d="M64.5 490.8l3.4-1.3-2.7 2.5-3.5.9zM147.1 495.1l3.5 4.1-2.3-.2-3.5-4.5zM64.7 495.4l2.3-.3-3.8 3.5-2.4.1zM65.5 498.1l2 0-4 3.7-2.1-.4zM141.7 498.1l3.8 5-1.4.1-3.7-5.1zM68.3 501.7l1.2.3-4.6 3.2-1.2-.3zM69.5 501.9l1.1.2-4.6 3.3-1.1-.3zM101.9 510.8l3.4 2.2-4.1 1.9-3.4-2zM95.2 511.2l3 1.7-4.5 2-3-1.5z"/><path fill="#454be7" d="M69.8 487.6l3.3-2.5-2.3 3-3.3 1.7zM144.4 487.9l2.4 3.1-2.8-1.6-2.6-3.6zM144 489l2.8 3.8-2.5-1.2-2.9-4.2zM70.1 491.4l2.3-.8-3.5 4.3-2.3.5zM139.8 493.2l3.5 5.4-1.4-.1-3.5-5.6zM72.7 493.9l1.6-.2-3.8 4.7-1.7 0z"/><path fill="#4851f3" d="M142.3 485.5l2.2 2.8-3.1-2.1-2-3.4zM140.1 489.2l3.2 5.2-1.8-.5-3.1-5.5zM134.2 492.5l3.6 6.1-1.1.2-3.4-6.3zM133.3 492.5l3.4 6.3-.8 0-3.4-6.2zM77.9 493.6l1.1 0-3.8 5.2-1.1-.2zM132.5 492.6l3.4 6.2-.8 0-3.4-6.1zM78.9 493.6l1 .1-3.8 5.2-1-.1zM79.8 493.7l1 .1-3.9 5.2-.9-.1zM89 496.9l1.5.9-3.8 4.6-1.5-.6zM90.4 497.7l1.6 1.1-3.8 4.4-1.6-.9zM120.6 497.4l3.3 5-2 1.2-3.5-4.7zM106 498.4l2.8 3.2-3.1 2.7-2.8-2.6zM111.2 498.7l3.1 4-2.7 2.1-3.2-3.2z"/><path fill="#425df6" d="M74.9 483.2l3-3.3-2.1 3.1-3.1 2.5zM75.2 486.4l2-1.2-3.2 5.1-2 .7zM135.6 487.2l3.1 6.1-1.3-.2-3.1-6.3zM78.7 488.5l1.4-.1-3.5 5.6-1.4 0zM93.7 492.9l1.5 1.2-3.5 5-1.6-1z"/><path fill="#3c69f6" d="M137.8 480.5l2 2.7-2.8-2.9-1.8-3.5zM137.2 481.4l2.5 4.8-2.1-1.4-2.4-5.4zM77.8 482.1l1.9-1.6-2.8 5.1-2 1.2zM135.8 483l2.9 5.8-1.6-.7-2.8-6.1zM128.8 486.4l3.1 6.7-.8.1-3.1-6.8zM128 486.4l3.1 6.8-.8.1-3.1-6.7zM127.2 486.6l3.1 6.7-.9.2-3.1-6.7zM126.3 486.8l3.1 6.7-.9.3-3-6.7zM125.5 487.1l3 6.7-1 .3-3-6.5zM124.5 487.6l3 6.5-1.1.4-3.1-6.4zM123.3 488.1l3.2 6.4-1.3.6-3.2-6.2zM97.9 489.2l1.9 1.9-3.1 4.9-1.9-1.6zM113.1 489.7l2.8 4.8-2.3 2.3-2.8-4.3z"/><path fill="#3675f6" d="M79.5 477.9l2.5-3.9-1.8 3.1-2.6 3.2zM131.7 480.5l2.8 6.7-1.1-.3-2.8-6.9zM85 482.2l.9-.1-3.1 6.5-.9 0zM85.9 482.1l.9.1-3.1 6.6-.9-.2zM86.8 482.2l.9.2-3.2 6.4-.8 0zM91.8 483.9l1 .6-3.1 6.3-1-.5zM92.8 484.5l1.2.9-3.2 6.1-1.2-.7zM110.7 485.4l2.6 4.6-2.3 2.8-2.6-4.2z"/><path fill="#3084f6" d="M133.7 474.3l1.7 2.9-2.5-3.7-1.6-3.5zM133.1 474.6l2.3 5.2-1.8-1.8-2.3-5.6zM97.6 480.6l1.6 1.6-2.8 5.9-1.6-1.3zM108.6 481.2l2.3 4.4-2.3 3.3-2.2-3.7z"/><path fill="#4557f3" d="M72.7 485.1l3.1-2.4-2.5 3.5-2.9 1.9zM138.5 488.4l3.1 5.5-1.6-.3-3.1-5.9zM75.9 489.4l1.6-.5-3.5 5.2-1.6.2zM113.6 496.4l3.2 4.3-2.7 2.1-3.1-4z"/><path fill="#3c6cf6" d="M77.5 479.9l2.6-2.9-2.1 3.8-2.6 2.3zM137.2 480l2.2 4-2.2-2.2-2.3-4.6zM80.3 483.6l1.4-.6-3.2 5.9-1.3.4zM108.6 488.5l2.6 4.1-2.6 3-2.6-3.4zM104.1 489l2.3 3.2-2.8 3.8-2.2-2.5z"/><path fill="#4260f6" d="M139.7 482.8l2.1 3.4-2.6-2.2-2.1-4zM139.3 483.6l2.5 4.2-2.2-1.6-2.5-4.8zM134.3 486.8l3.1 6.3-1.1-.1-3.1-6.5zM80 488.4l1.2-.2-3.5 5.8-1.2 0zM81.1 488.2l1.1 0-3.5 5.8-1.1 0zM92.2 491.9l1.6 1-3.6 5.2-1.5-.8zM117.6 492.5l3.2 5.2-2.2 1.5-3.1-4.9zM101.6 493.2l2.2 2.5-3.1 4.1-2.3-2.1z"/><path fill="#3378f6" d="M135.5 476.9l1.8 3.5-2.4-2.8-1.9-4.2zM135 477.2l2.3 4.6-2-2-2.3-5.2zM100.6 484.1l1.8 2.4-2.8 4.9-1.9-1.9z"/><path fill="#2d84f6" d="M81.7 474.4l2.5-3.9-1.8 3.9-2.5 3zM85.5 476.5l1.2-.5-2.9 6.8-1.1.2zM114.3 480.1l2.6 5.9-1.9 1.9-2.6-5.3z"/><path fill="#219ce7" d="M85.7 467.8l2.1-4.4-1.6 4.1-2.2 3.4z"/><path fill="#2793ed" d="M131.6 470.3l1.6 3.5-2.1-3.2-1.6-4.4zM84.1 470.5l2-3.3-2 4.6-2 2.6zM131.2 470.2l2 4.8-1.8-2.2-1.9-5.4zM126.3 472.4l2.6 7.5-.9-.1-2.5-7.7zM119.6 474.2l2.4 7.2-1.2.8-2.5-7z"/><path fill="#12b1d5" d="M89.1 460.6l1.9-4.6-1.4 3.9-2 3.9zM125.4 460.8l2 7-1.2-1.2-2-7.2zM92.9 461.7l.9-.2-2.2 7.5-.9.1zM93.7 461.5l1-.1-2.1 7.6-1.1 0zM97 462.4l1 .6-2.3 7.4-.9-.5zM97.9 463l1 1-2.2 7.2-1.1-.8zM104 463l1.6 3-2 5.6-1.7-2.5z"/><path fill="#15abdb" d="M128.1 463.1l1.6 3.5-2.1-3.5-1.4-4.5zM127.8 462.7l1.9 5.1-1.7-2.7-1.8-5.6zM126.7 462.5l2 6.5-1.4-1.2-2-7zM89.9 463.8l1.2-.9-2.3 7-1.2.7zM122.6 464.5l2.2 7.9-.9 0-2.2-7.9zM121.8 464.5l2.2 7.9-.9.2-2.2-7.9zM121 464.7l2.2 7.9-.9.3-2.2-7.9zM120.2 465l2.2 7.9-.8.4-2.4-7.8zM105.4 466l1.7 3.5-2.1 4.9-1.6-2.9z"/><path fill="#0cb7c6" d="M125.1 455.5l1.3 3.5-1.8-4.1-1.3-4.1zM93.9 455.4l1-.7-2 7.4-1 .5zM100.7 457.2l1.1 1.5-2 6.9-1.1-1.2z"/><path fill="#18bdb7" d="M92.1 453.2l1.8-4.6-1.3 3.9-1.8 3.9z"/><path fill="#3cc993" d="M122.2 447.8l1.3 3.4-1.6-4-1.1-4zM97.4 447.5l.9-.1-1.7 7.4-1.1 0z"/><path fill="#7ec95a" d="M119.9 440.4l1.1 3.2-1.6-4-.9-3.6zM119.6 439.6l1.4 4.7-1.2-2.5-1.3-5.2zM118.8 439.4l1.4 6.1-1-1.2-1.5-6.4zM111.9 440.2l1.5 6.1-1.1 1.9-1.5-5.8z"/><path fill="#bdc336" d="M117.7 433.5l1 2.9-1.5-3.7-.9-3.3zM116.6 432.6l1.3 5.7-.9-1-1.4-5.9z"/><path fill="#edb73c" d="M115.7 427.3l.8 2.5-1.2-3.4-.8-2.8zM115.4 426.4l1.1 4-.9-2-1.1-4.3zM101.7 426.6l1-1.2-1.1 4.9-1.1 1.1zM112.2 426l1.2 5.3-.8.9-1.3-5.2zM105.8 426.4l1 1.7-1.2 4.7-1-1.5z"/><path fill="#4545db" d="M146.6 490.6l2.8 3.2-2.8-1-2.8-3.8zM70.7 498l1.4.1-4.1 4-1.5-.2zM135.7 498.4l3.8 5.4-.8.2-3.9-5.6zM134.9 498.4l3.9 5.6-1 .1-3.8-5.5zM121.7 503.2l3.8 4.6-2.2 1.1-3.8-4.4zM94.1 506l2.5 1.6-4.1 2.7-2.5-1.2z"/><path fill="#484eed" d="M70.6 487.7l2.8-1.9-2.8 3.6-2.8 1.4zM70.7 489l2.4-1.4-3.2 4.2-2.4 1zM137.2 492.7l3.6 5.8-1.3 0-3.5-5.9zM136.1 492.6l3.5 5.9-1.1 0-3.4-6zM75.5 493.6l1.4 0-3.8 4.9-1.4-.1zM118.6 498.8l3.4 4.7-2.3 1.3-3.3-4.3zM93.7 499.9l1.9 1.4-3.8 3.9-2-1.2z"/><path fill="#2d87f6" d="M133.1 473.4l2 4.2-2-2.6-2-4.8zM82.2 474l2-2.6-2.3 4.8-2 2.1zM130.6 474.9l2.5 6.6-1.3-.6-2.3-7zM86.7 476l1-.2-2.9 6.8-1 .2zM96.4 479.4l1.4 1.2-2.8 6.2-1.4-1z"/><path fill="#18a8db" d="M87.7 463.4l1.8-3.6-1.8 4.7-1.8 3.1zM119.3 465.5l2.4 7.8-1.1.5-2.3-7.6zM100.9 466.8l1.4 1.9-2.3 6.3-1.3-1.6zM111.8 466.7l2.1 6.1-1.7 2.4-2.1-5.3z"/><path fill="#60c972" d="M120.9 443.2l1.3 4.3-1.3-3.2-1.4-4.7zM97.1 442.8l1-1.1-1.5 6.7-1.1.9zM117.6 442.7l1.5 7.4-.9-.1-1.6-7.3z"/><path fill="#1e9fe4" d="M129.6 466.2l1.7 4.4-1.7-2.8-1.9-5.1zM87.3 466.8l1.4-1.7-2.1 6.4-1.5 1.3zM127.2 467.4l2.5 6.9-1.3-.7-2.3-7.4zM90.9 468.7l.8-.1-2.5 7.4-.9 0zM91.6 468.6l1.1 0-2.7 7.4-.8 0zM92.7 468.6l.7.2-2.6 7.4-.8-.2zM93.4 468.8l.8.2-2.6 7.4-.8-.2zM94.2 469l.8.5-2.4 7.3-1-.4zM94.9 469.5l.9.5-2.4 7.3-.9-.5zM95.7 470l1.1.8-2.5 7.1-1-.6zM115.1 470.2l2.3 6.7-1.6 1.6-2.3-6.1zM103.6 471.2l1.6 2.9-2.3 5.3-1.7-2.4z"/><path fill="#72c963" d="M96.1 441.6l1.6-3.9-1.4 4.4-1.3 3.1zM101.3 441.2l.9.8-1.6 6.8-.9-.6z"/><path fill="#b1c639" d="M98.7 434.4l1.2-3.3-1.2 4.1-1.2 2.9zM106.6 434.6l1.2 2.8-1.5 4.8-1.2-2.4z"/><path fill="#24c0ab" d="M123.4 450.8l1.5 4.4-1.5-3.2-1.4-4.9zM103.4 452.6l1.4 2.3-2 6.1-1.2-1.9z"/><path fill="#4554f3" d="M141.6 485.8l2.6 3.6-2.6-1.6-2.5-4.2zM73 487.6l2.3-1.2-3.2 4.6-2.3.8zM129.2 493.1l3.6 6.2-1.1.2-3.5-6.1zM128.3 493.4l3.5 6.1-1.1.3-3.5-6.1zM127.3 493.7l3.5 6.1-1.1.3-3.6-6zM126.2 494.1l3.6 6-1.4.4-3.5-5.8z"/><path fill="#a2c63f" d="M118.7 436l1 4-1.1-3-1.3-4.3zM103.6 436.1l.8 1.4-1.4 6-1-1.1z"/><path fill="#f9e424" d="M106.3 414.4l.8-1.5-.9 2.2-1 1.3zM108.6 413.4l1 2.2-1 1.8-1-2z"/><path fill="#33c699" d="M93.8 448.6l1.4-3.8-1.4 4.7-1.5 3.3zM101.6 449.4l.9 1.4-1.8 6.8-1-1.1z"/><path fill="#f9e124" d="M111 414.8l1 2.2-1-1.4-.9-2.4z"/><path fill="#3f63f6" d="M75.6 482.7l2.5-2.3-2.5 3.9-2.6 1.9zM137.5 484.4l2.8 5.2-1.6-.8-2.9-5.8zM77.1 485.2l1.8-.8-3.2 5.4-1.8.5zM133.2 486.5l3.1 6.5-1-.1-3.1-6.5zM132.2 486.4l3.1 6.5-.9 0-3.1-6.7zM83 488.2l1 .2-3.5 5.8-1-.1zM83.9 488.4l.8 0-3.4 6-.9-.2zM84.7 488.4l.8.2-3.4 6-.8-.2zM85.5 488.6l.8.2-3.4 6-.8-.2zM86.3 488.8l.9.3-3.5 5.9-.8-.2zM87.1 489.1l1 .3-3.5 5.9-1-.3zM88 489.4l1 .5-3.5 5.9-1-.5zM88.9 489.9l1.1.5-3.5 5.7-1.1-.3zM89.9 490.4l1.2.7-3.5 5.7-1.2-.7zM91 491.1l1.3.8-3.5 5.4-1.3-.5zM119.3 491l3.1 5.8-1.7 1-3.3-5.3zM111 492.4l2.8 4.3-2.6 2.4-2.8-3.7zM106.2 492l2.6 3.4-2.8 3.4-2.6-3z"/><path fill="#fcd22d" d="M104.7 418l.7-2-.7 2.8-1.2 1.7zM105.3 417.4l.9-.2-1 3.8-.9.1zM111.9 418l1 3.9-.9-.1-1-4.1zM106.1 417.2l.9.7-1 3.7-.9-.6zM111.1 417.7l1 4.1-.9.3-1-3.9z"/><path fill="#fccf30" d="M112.7 418.7l1 2.7-1-1.9-.9-2.9zM104.6 418.4l.8-1-1 3.7-.9.8zM110.3 418.2l1 3.9-.9 1.2-1-3.7z"/><path fill="#0fb7c9" d="M90.9 456l1.6-3.6-1.6 4.7-1.6 3.1zM90.9 456.7l1.4-2.7-1.7 5.8-1.5 2.1zM125 456.8l1.8 6.1-1.4-1.7-1.8-6.6zM92.9 456.4l1.1-1-2 7.2-1.1.7zM121.6 457.2l2.1 7.8-1.1-.1-2-7.9zM120.7 457l2 7.9-.9 0-2-7.9zM119.9 457l2 7.9-.9.2-2-8zM119.1 457.1l2 8-.9.3-2-7.8zM118.3 457.6l2 7.8-1 .5-2-7.7zM117.4 458.2l2 7.7-1 .7-1.9-7.5zM101.7 458.7l1.2 1.9-2 6.6-1.2-1.6zM111.6 458.4l1.8 6.1-1.6 2.6-1.9-5.4z"/><path fill="#f9ed1b" d="M107.8 412.1l1-.7-1 1.4-1 .5zM108.6 411.4l1 1.4-1 1-1-1.2z"/><path fill="#f9ed1e" d="M109.4 412.2l1 1.4-1-.6-1-1.6z"/><path fill="#debd36" d="M116.4 429.4l1.1 3.7-1.1-2.7-1.1-4z"/><path fill="#e4ba39" d="M100.8 428.1l1.1-2.9-1.1 3.7-1.1 2.6zM115.6 428l1.1 5-1-1.2-1.2-5.2z"/><path fill="#0fb4cf" d="M126.3 458.6l1.6 4.5-1.6-3.2-1.6-5.1zM123.3 458.4l2 7.5-1-.5-2-7.8zM115.6 460.4l1.9 7.2-1.2 1.3-2-6.9zM102.8 460.6l1.4 2.4-2.1 6.1-1.4-1.9zM107.1 461.2l1.7 4.2-1.9 4.4-1.7-3.5zM110.1 461.6l1.9 5.4-1.7 3.2-1.9-4.9z"/><path fill="#337bf6" d="M80 477l2.3-3-2.3 4.3-2.2 2.5zM133.6 477.6l2.4 5.8-1.6-1-2.5-6.3zM129.6 479.7l2.8 7.1-.9-.2-2.8-7.1zM128.7 479.5l2.8 7.1-.8 0-2.9-7.2zM119.6 482.8l2.8 6.5-1.6.9-2.8-6.2z"/><path fill="#fcc339" d="M102.7 422.6l1-2.5-1 3.3-1 2.2zM111.2 421.7l1.1 4.7-.9 1-1.1-4.5z"/><path fill="#f9bd39" d="M114.7 423.6l.8 3.2-.9-2.3-1.1-3.5zM110.4 422.9l1.1 4.5-.9 1.6-1.2-4.3z"/><path fill="#f9e721" d="M107 412.9l.9-.5-.9 2.5-.9.2zM110.2 413.2l.9 2.4-.9-.4-.9-2.6zM109.4 412.6l1 2.6-1 .6-1-2.4z"/><path fill="#f9db27" d="M105.3 416l1-1.3-1 3.1-.8 1zM107.8 415.2l1 1.9-1.1 2.7-1-1.6zM109.4 415.4l1.1 3.2-.9 1.4-1.2-2.9z"/><path fill="#f9d82a" d="M111.9 416.6l.9 2.9-.9-1.1-1-3.2z"/><path fill="#fcc933" d="M103.6 420.1l1.1-1.7-1.1 3.5-1 1.5zM109.6 419.6l1 3.7-1 1.8-1.2-3.3z"/><path fill="#ffc636" d="M113.6 421l1.1 3.5-1.1-1.6-1-3.8zM104.4 420.7l.9-.1-1.1 4.4-.9.1zM105.2 420.6l.9.6-1.1 4.4-.9-.6zM106 421.2l.9 1.3-1.1 4.3-.9-1.2z"/><path fill="#f6b73c" d="M101.8 425.2l1-2.2-1.1 4-1 1.9zM103.4 424.7l.9-.1-1.2 5.2-.9 0zM104.2 424.6l.9.6-1.2 5.1-.9-.5zM107.7 424.5l1.1 3-1.2 3.5-1.1-2.6zM109.6 424.7l1.2 4.2-1.2 2.3-1.2-3.7z"/><path fill="#cfc036" d="M99.8 431.1l1.1-2.6-1.2 4.5-1.1 2.2zM114.1 430.6l1.3 6.2-.8.2-1.4-6.1zM104.7 430.9l1 1.5-1.4 5.5-.8-1.4zM109.6 430.8l1.3 4.6-1.2 2.7-1.3-4.2z"/><path fill="#c0c336" d="M117.4 432.7l1.3 4.3-1.1-2.2-1.3-4.8zM99.7 432.6l1-1.6-1.3 5.4-1.1 1.4z"/><path fill="#93c94b" d="M97.6 437.7l1.2-2.9-1.4 5-1.2 2.3zM98.4 437.4l1.1-1.4-1.5 6.1-1 1.1zM109.7 437.7l1.4 5-1.3 3.1-1.4-4.7z"/><path fill="#3fc990" d="M122.1 447.1l1.4 4.9-1.3-2.7-1.4-5.4zM121.1 446.8l1.6 6.4-1.1-1.3-1.6-6.8zM98.2 447.4l.9 0-1.8 7.4-.8 0zM99 447.4l.9.4-1.8 7.3-.9-.3zM112.3 447.8l1.6 6.5-1.2 2-1.7-5.9z"/><path fill="#51c97e" d="M95.1 444.8l1.3-3.1-1.4 5.2-1.3 2.6z"/><path fill="#1bbdb4" d="M92.4 452.4l1.5-3.3-1.7 5.3-1.4 2.7zM113.8 453.9l1.9 6.9-1.3 1.6-1.8-6.5z"/><path fill="#0cb7c3" d="M124.8 454.8l1.6 5.1-1.4-2.7-1.7-5.6zM108.6 456.9l1.7 5-1.7 3.7-1.7-4.2z"/><path fill="#12b4d2" d="M89.4 459.8l1.6-3.1-1.8 5.2-1.6 2.6zM126.3 459.5l1.8 5.6-1.4-2.2-1.8-6.1zM114.4 462l2 6.9-1.3 1.7-2-6.5z"/><path fill="#f9e71e" d="M107.8 412.4l1 1.1-1 2.1-1-.7z"/><path fill="#f9de24" d="M106.2 414.7l.9-.2-1 3.1-.9.2zM107 414.5l1 .7-1.1 3.1-1-.7z"/><path fill="#f9de27" d="M111 415.2l1 3.2-.9-.3-1-3.3zM110.2 414.8l1 3.3-.9.5-1.1-3.2z"/><path fill="#fccc30" d="M112.7 419.1l1 3.8-.9-1-1-3.9z"/><path fill="#1e9ce4" d="M86 467.2l1.8-3.1-2 5.2-1.8 2.5z"/><path fill="#fcc039" d="M102.7 423l1-1.5-1.1 4.3-1 1.2zM113.6 422.5l1.1 4.5-.9-.8-1.1-4.7zM106.8 422.5l1.1 2-1.2 4-1.1-1.7z"/><path fill="#f9ba3c" d="M114.6 424.1l1.1 4.3-1.1-1.4-1.1-4.5z"/><path fill="#e1ba39" d="M100.8 428.5l1-1.9-1.2 4.8-1 1.6zM106.7 428.1l1.1 2.5-1.2 4.4-1.2-2.2z"/><path fill="#d5bd36" d="M116.4 430l1.3 4.8-1.1-1.8-1.1-5zM101.6 429.9l.8-.5-1.3 5.8-1 .4z"/><path fill="#99c645" d="M118.6 436.6l1.3 5.2-1.1-2-1.3-5.4zM116.1 436.4l1.6 6.7-1 0-1.5-6.7zM114.6 436.6l1.4 6.7-.9.6-1.5-6.5z"/><path fill="#abc639" d="M98.7 434.8l1.1-2.2-1.4 5.2-1.1 2zM101.1 434.8l.9 0-1.4 6.4-1 0zM101.9 434.8l.9.4-1.5 6.4-.8-.4zM110.7 435.1l1.4 5.5-1.2 2.2-1.4-5.1z"/><path fill="#396ff6" d="M77.9 480.4l2.2-2.5-2.4 4.6-2.3 1.8zM81.7 483l1.2-.4-3.1 6.2-1.3.1zM96.5 487.7l1.6 1.5-3.2 5.3-1.5-1.2zM115 487.5l2.8 5.3-2.1 1.8-2.8-4.8z"/><path fill="#57c97b" d="M120.9 443.9l1.4 5.4-1.2-2.1-1.4-5.8zM119.2 443.9l1.6 7.1-1-.6-1.6-7.2zM114.2 444.5l1.6 7-1 1.3-1.6-6.9zM107.4 444.9l1.4 4.1-1.6 4.3-1.4-3.4z"/><path fill="#6cc969" d="M96.3 441.7l1.2-2.3-1.4 5.4-1.2 2.1z"/><path fill="#4557f6" d="M73.2 485.8l2.6-1.9-2.9 4.1-2.5 1.4zM96.8 495.6l2 1.9-3.5 4.1-1.9-1.4z"/><path fill="#ffc336" d="M103.6 421.5l.9-.8-1.1 4.4-.9.7z"/><path fill="#30c69f" d="M93.8 449.1l1.3-2.6-1.5 5.7-1.5 2.2zM122.2 448.9l1.6 6.1-1.2-1.8-1.6-6.4zM111.2 450.4l1.7 5.9-1.3 2.5-1.8-5.4z"/><path fill="#1ec0b1" d="M123.4 451.6l1.7 5.6-1.4-2.2-1.6-6.1zM93.6 451.8l1.1-1.7-1.8 6.7-1.2 1.2zM121.6 451.5l1.8 7.3-1-.8-1.8-7.4zM110 453.4l1.8 5.3-1.7 3.3-1.7-5z"/><path fill="#aec639" d="M117.6 434.4l1.3 5.4-1.1-1.5-1.3-5.7z"/><path fill="#1e9ce7" d="M129.6 467.4l1.9 5.4-1.6-2-2-6.1zM89.8 469l1.1-.3-2.6 7.3-.8.2zM96.7 470.8l1.1 1-2.5 7-1.1-.9z"/><path fill="#18a8de" d="M87.7 464.1l1.6-2.6-2 5.7-1.6 2.1zM124.3 465l2.2 7.8-.9-.3-2.1-7.9zM123.6 464.6l2.1 7.9-1-.1-2.2-7.9zM118.4 466.2l2.3 7.6-1.1.8-2.3-7.4z"/><path fill="#6cc966" d="M119.8 441.4l1.4 5.8-1.1-1.7-1.4-6.1zM102.1 442l1 1.1-1.5 6.7-1.1-1z"/><path fill="#81c957" d="M97.4 439.4l1.1-2-1.4 5.8-1.1 1.6z"/><path fill="#ffc339" d="M112.8 421.5l1.1 4.7-.9-.2-1.1-4.6zM112 421.4l1.1 4.6-.9.4-1.1-4.7zM108.6 421.7l1.2 3.2-1.2 2.9-1.1-3.1z"/><path fill="#f3b73c" d="M102.6 425.4l.9-.7-1.2 5.1-.8.5zM105 425.2l.9 1.2-1.2 4.9-.9-1z"/><path fill="#eaba39" d="M114.6 426.6l1.2 5.2-.9-.7-1.2-5.3zM111.4 427l1.3 5.2-1.1 1.4-1.1-5z"/><path fill="#2790f0" d="M84.2 471.4l1.7-2.5-2.3 5.4-1.8 1.9zM85.3 472.4l1.4-1.3-2.5 6.4-1.5.9zM127.4 472.7l2.4 7.4-.9-.2-2.6-7.5zM118.4 475.2l2.5 7-1.3 1-2.5-6.7zM101.4 476.6l1.7 2.4-2.5 5.5-1.8-1.9z"/><path fill="#42c98d" d="M95 446.5l1.2-2.1-1.6 6.1-1.1 1.7z"/><path fill="#ccc036" d="M100.6 431l1.1-1.1-1.5 5.7-.9.8zM114.9 430.7l1.3 6.1-.9 0-1.3-6.2zM113.3 430.9l1.4 6.1-1 .8-1.2-6z"/><path fill="#fcd52d" d="M108.6 417l1.2 2.8-1.2 2.3-1.1-2.5z"/><path fill="#fcd230" d="M106.9 417.9l1 1.5-1.1 3.5-1-1.3z"/><path fill="#3678f6" d="M80 477.9l2-2.1-2.4 5.1-2 1.6zM81.4 479.1l1.5-1.1-2.8 6-1.5.8zM130.6 480l2.8 6.9-1-.1-2.8-7.1zM87.7 482.4l.7 0-3.1 6.6-.8-.2zM88.4 482.4l.8.3-3.1 6.5-.8-.2zM89.2 482.7l.8.3-3.1 6.5-.8-.3zM90 483l.9.4-3.1 6.4-.9-.3zM90.9 483.4l.9.5-3.1 6.4-.9-.5zM118.2 484l2.8 6.2-1.7 1.2-2.8-5.8zM106.6 485l2.2 3.7-2.6 3.7-2.3-3.2z"/><path fill="#0fbac0" d="M92.2 454l1.5-2.2-1.9 6.2-1.3 1.8zM98.9 455.4l1 .7-2 7.3-1-.6zM112.7 455.9l1.8 6.5-1.3 2.1-1.8-6.1z"/><path fill="#f0b73c" d="M113.8 425.8l1.2 5.3-.9-.1-1.2-5.4zM113 425.6l1.2 5.4-.9.3-1.2-5.3z"/><path fill="#3f60f6" d="M75.7 483.9l2.2-1.8-2.8 4.7-2.4 1.2zM82.1 488.2l1 0-3.5 5.9-1-.1z"/><path fill="#4854f3" d="M141.5 487.4l3 4.2-2.4-1-2.7-4.8zM74.2 489.9l1.8-.5-3.5 4.9-1.8.3zM131.7 492.7l3.4 6.1-.8.2-3.4-6.2zM130.9 492.8l3.4 6.2-.8.1-3.4-6.2zM130.1 492.9l3.4 6.2-.8.2-3.5-6.2zM80.7 493.8l.9.2-3.8 5.2-1-.2zM81.5 494l.9.2-3.8 5.2-.9-.2zM82.3 494.2l.9.2-3.7 5.2-1-.2zM83.1 494.4l.9.2-3.8 5.2-.8-.2zM83.9 494.6l1 .3-3.8 5.2-1-.3zM84.8 494.9l1 .5-3.8 5-1-.3zM85.7 495.4l1.1.3-3.8 5.1-1.1-.4zM125 494.7l3.5 5.8-1.5.5-3.5-5.6zM86.7 495.7l1.2.7-3.8 4.8-1.2-.4zM123.6 495.4l3.5 5.6-1.6.8-3.5-5.4zM87.8 496.4l1.3.5-3.8 4.9-1.3-.6zM122.1 496.4l3.5 5.4-1.8.7-3.4-5.1zM98.6 497.4l2.3 2.1-3.3 3.7-2.4-1.7z"/><path fill="#12b1d8" d="M89.2 461.5l1.5-2.1-2.1 6.1-1.4 1.7zM92 462.2l1-.5-2.2 7.4-1.1.3zM98.8 464l1.1 1.2-2.2 7-1.1-1zM113.2 464.1l2.1 6.5-1.6 2.2-2.1-6.1z"/><path fill="#18a5de" d="M128 464.7l2 6.1-1.4-1.8-2-6.5zM88.6 465.1l1.4-1.3-2.3 6.8-1.2.9zM117.4 467.2l2.3 7.4-1.3 1-2.2-7.1z"/><path fill="#c6c036" d="M115.7 431.4l1.4 5.9-1-.5-1.3-6.1zM112.6 431.8l1.2 6-.9 1.1-1.4-5.7z"/><path fill="#54c97e" d="M96.1 444.4l1.1-1.6-1.6 6.5-1.1 1.2z"/><path fill="#fccc33" d="M107.7 419.4l1.1 2.4-1.1 3.1-1.1-2.1z"/><path fill="#9fc642" d="M99.4 436l.9-.8-1.4 6.3-1 .6z"/><path fill="#8dc951" d="M117.8 437.9l1.5 6.4-1-.7-1.4-6.7z"/><path fill="#2199ea" d="M85.8 468.9l1.6-2.1-2.2 6-1.7 1.5zM108.6 473.4l2.2 4.6-2.2 3.6-2.1-4z"/><path fill="#2a8df3" d="M131.4 472.4l2.3 5.6-1.7-1.5-2.2-6.1zM128.4 473.2l2.4 7.2-1.1-.3-2.4-7.4zM90.2 475.6l.8.2-2.8 7-.7 0zM91 475.8l.8.2-2.8 7.1-.8-.3zM91.8 476l.9.4-2.9 7-.8-.3zM92.7 476.4l.8.5-2.8 6.9-.9-.4zM117.2 476.5l2.6 6.7-1.6 1.2-2.6-6.3zM106.7 477.4l2.1 4-2.2 4-2.2-3.3zM110.6 477.8l2.2 5-2.1 3-2.3-4.5z"/><path fill="#0cbac3" d="M123.7 454.6l1.8 6.6-1.2-1.4-1.8-7zM99.8 456.1l1 1.1-2 7.2-1-1z"/><path fill="#dbbd36" d="M102.3 429.4l.9 0-1.3 5.8-.9 0zM103.1 429.4l.9.5-1.3 5.7-.9-.4z"/><path fill="#4bc984" d="M120.1 445.1l1.6 6.8-1-.9-1.6-7.1z"/><path fill="#3672f6" d="M135.3 479.4l2.4 5.4-1.8-1.4-2.4-5.8zM84 482.4l1-.2-3.1 6.4-1 0zM93.9 485.4l1.3 1-3.2 5.9-1.3-.8zM116.7 485.6l2.8 5.8-1.9 1.5-2.8-5.4zM102.2 486.4l2.1 2.7-2.7 4.5-2.2-2.3z"/><path fill="#3081f6" d="M81.9 475.8l1.8-1.9-2.4 5.6-1.8 1.4zM131.9 476.1l2.6 6.3-1.5-.9-2.4-6.6zM84.3 477.1l1.2-.6-2.8 6.5-1.2.4zM104.6 481.8l2.2 3.3-2.7 4.3-2.1-2.7z"/><path fill="#0fb4d2" d="M90.6 459.4l1.3-1.8-2 6.6-1.4 1.3zM124.3 459.4l2 7.2-1.1-.7-2-7.5z"/><path fill="#96c948" d="M117 436.9l1.4 6.7-.8-.5-1.6-6.7zM113.7 437.4l1.5 6.5-1 1-1.4-6.4zM104.3 437.5l1.1 1.9-1.5 5.7-1-1.6zM107.6 437.4l1.2 3.7-1.4 4.2-1.3-3.2z"/><path fill="#a8c63c" d="M100.2 435.2l1-.4-1.5 6.4-.9.3zM102.7 435.2l1 .9-1.6 6.3-.9-.8z"/><path fill="#4239c6" d="M59.1 496.1l3-.2-3.9 2.9-3-.1zM148.1 498.6l3.9 3.9-2 .3-3.9-4.3zM59.8 501l2 .2-4.6 2.8-2.1-.3zM140.1 503.4l4.1 4.7-.9.1-4.2-4.8zM139.2 503.4l4.2 4.8-.9.2-4.1-4.8zM118.2 510.9l4.1 4.1-3 1.3-4.2-3.8z"/><path fill="#2ac3a5" d="M94.6 450.1l1.1-1.2-1.8 6.9-1.1 1zM119.8 450l1.9 7.6-1-.2-1.8-7.7z"/><path fill="#15bdba" d="M122.6 452.8l1.8 7-1.1-1-1.8-7.3zM104.6 454.9l1.3 2.8-1.9 5.7-1.4-2.4z"/><path fill="#69c969" d="M98 441.7l1-.6-1.6 6.8-.9.5zM110.9 442.4l1.6 5.8-1.3 2.6-1.6-5.4z"/><path fill="#2493ed" d="M129.9 470.4l2.2 6.1-1.4-1.2-2.2-6.7zM86.7 471.1l1.1-.9-2.5 6.7-1.2.6zM125.6 472.1l2.4 7.7-.8 0-2.6-7.8zM124.6 472l2.6 7.8-.8 0-2.6-7.8zM120.6 473.4l2.4 7.4-1.1.6-2.4-7.2zM100 474.6l1.6 2-2.6 6-1.6-1.6zM112.2 474.8l2.3 5.6-1.9 2.5-2.2-5z"/><path fill="#0fb4cc" d="M91.8 457.6l1.2-1.2-2 6.9-1.2.9zM122.4 457.6l2 7.8-.8-.4-2.1-7.8zM116.6 459.1l1.9 7.5-1.1 1-1.9-7.2z"/><path fill="#d8bd36" d="M103.9 429.9l.9 1-1.2 5.6-1-.9z"/><path fill="#30c69c" d="M95.6 448.9l1.1-.9-1.9 7.1-1 .7z"/><path fill="#6fc963" d="M98.9 441.1l.9-.3-1.6 7-.9.1zM106.3 441.8l1.3 3.2-1.6 5-1.3-2.7z"/><path fill="#5dc975" d="M118.3 443.2l1.6 7.2-.9-.3-1.5-7.4zM115.1 443.5l1.6 7.3-1 .7-1.6-7z"/><path fill="#2d8af6" d="M83.6 473.9l1.7-1.5-2.5 6-1.6 1.1zM87.7 475.8l.8-.2-2.8 6.9-.9.1zM95.4 478.4l1.1 1-2.8 6.4-1.1-.9zM102.9 479l1.9 2.9-2.6 4.9-1.8-2.4z"/><path fill="#9cc645" d="M115.3 436.4l1.5 6.7-.9.2-1.4-6.7z"/><path fill="#e7ba39" d="M108.6 427.4l1.2 3.6-1.2 3.2-1.2-3.4z"/><path fill="#deba36" d="M110.6 428.6l1.2 5-1.1 1.9-1.3-4.7z"/><path fill="#2199e7" d="M128.6 468.6l2.2 6.7-1.2-1-2.4-6.9zM88.8 469.5l1.1-.5-2.3 7.2-1.1.2zM97.7 471.8l1.2 1.2-2.5 6.8-1.2-1zM113.7 472.4l2.3 6.1-1.7 2-2.3-5.7z"/><path fill="#36c996" d="M96.6 448l.9-.5-1.9 7.3-.9.3z"/><path fill="#24c3a8" d="M120.7 450.6l1.8 7.4-.9-.4-1.9-7.6z"/><path fill="#75c963" d="M99.7 440.8l1 0-1.7 7-.9 0z"/><path fill="#3972f6" d="M79.7 480.5l1.7-1.4-2.8 5.7-1.7.8zM132.9 481.1l2.9 6.5-1.3-.4-2.8-6.7zM82.9 482.6l1.1-.2-3.1 6.2-1.1.2zM95.1 486.4l1.5 1.3-3.1 5.6-1.6-1z"/><path fill="#d2bd36" d="M107.6 430.6l1.2 3.3-1.2 3.9-1.2-2.9z"/><path fill="#c3c336" d="M105.6 432.4l1.2 2.2-1.5 5.2-1.2-1.9z"/><path fill="#bac339" d="M111.6 433.2l1.4 5.7-1.1 1.7-1.3-5.5z"/><path fill="#75c960" d="M100.6 440.8l.8.4-1.6 7-.9-.4z"/><path fill="#63c96f" d="M116.7 442.7l1.6 7.3-.9.2-1.6-7.3zM103 443.1l1 1.6-1.6 6.5-.9-1.4z"/><path fill="#454eea" d="M142 490.2l3.2 4.7-2-.5-3.2-5.2zM74.2 493.7l1.4-.1-3.8 4.8-1.4 0z"/><path fill="#b7c339" d="M108.6 433.8l1.3 4.2-1.3 3.4-1.2-3.8z"/><path fill="#2dc3a2" d="M119 449.7l1.8 7.7-.9 0-1.8-7.8zM116.6 450.4l1.8 7.6-1 .6-1.8-7.5zM102.4 450.8l1.1 1.8-1.8 6.5-1.1-1.5z"/><path fill="#63c972" d="M115.9 442.9l1.6 7.3-.9.6-1.6-7.3z"/><path fill="#0fbac3" d="M94.8 454.7l.9-.3-2 7.5-.9.2z"/><path fill="#1ba2e1" d="M126.2 466.2l2.3 7.4-1.1-.5-2.3-7.6zM116.3 468.5l2.2 7.1-1.3 1.3-2.2-6.7zM106.9 469.4l1.9 4.2-2.1 4.2-1.9-3.5zM110.3 469.8l2.1 5.3-1.8 3.1-2.2-4.7z"/><path fill="#15aed8" d="M91 462.9l1.1-.7-2.3 7.2-1.1.5zM99.8 465.2l1.2 1.6-2.2 6.6-1.2-1.2zM108.6 465.2l1.9 4.9-1.9 3.7-1.9-4.2z"/><path fill="#8ac951" d="M112.9 438.5l1.4 6.4-1 1.4-1.5-6.1z"/><path fill="#2dc69f" d="M118.2 449.6l1.8 7.8-.9.1-1.8-7.7z"/><path fill="#12bac0" d="M95.6 454.4l1.1 0-2.1 7.4-1 .1z"/><path fill="#1ba5e1" d="M125.2 465.5l2.3 7.6-1.1-.3-2.2-7.8zM102.1 468.7l1.7 2.5-2.4 5.8-1.6-2z"/><path fill="#84c954" d="M105.3 439.4l1.2 2.4-1.6 5.5-1.2-2.2z"/><path fill="#2496ea" d="M87.7 470.2l1.2-.7-2.3 6.9-1.3.5zM105 474l1.9 3.5-2.3 4.7-1.9-2.9z"/><path fill="#2a8af3" d="M129.6 473.9l2.3 7-1.2-.5-2.4-7.2zM88.5 475.6l.9 0-2.8 7-.9-.1zM89.4 475.6l.8 0-2.7 7.2-.9-.2zM93.5 476.9l.9.6-2.8 6.8-.9-.5zM94.4 477.5l1 .9-2.8 6.5-1-.6zM115.8 478.1l2.6 6.3-1.7 1.6-2.6-5.9z"/><path fill="#337ef6" d="M82.9 478l1.4-.9-2.8 6.3-1.4.6zM127.8 479.4l2.9 7.2-.9 0-2.8-7.2zM127 479.4l2.8 7.2-.8.2-2.8-7.4zM126.2 479.4l2.8 7.4-.8 0-2.7-7.3zM121.8 481l2.9 7-1.2.5-2.8-6.7zM120.8 481.8l2.7 6.7-1.3.8-2.7-6.5zM99 482.2l1.8 1.9-2.9 5.5-1.7-1.5zM112.6 482.5l2.6 5.3-2.1 2.3-2.6-4.6z"/><path fill="#396cf6" d="M134.3 482l2.8 6.1-1.3-.5-2.9-6.5z"/><path fill="#4233bd" d="M152.6 498.9l3.8 3.3-2.4.3-3.8-3.6zM51.7 500.2l3.1.4-4.6 2.3-3-.7zM148.1 502.5l4.1 3.8-1.5.5-4.3-4.1z"/><path fill="#3cc990" d="M99.8 447.8l.9.6-1.8 7.4-.9-.7z"/><path fill="#2dc6a2" d="M117.4 449.8l1.8 7.7-.9.5-1.8-7.6z"/><path fill="#12babd" d="M96.6 454.4l.8 0-2 7.6-.9-.2zM97.3 454.4l.9.3-2 7.6-.9-.3zM98.1 454.7l.9.7-2 7.4-.9-.5z"/><path fill="#78c960" d="M108.6 441l1.4 4.7-1.4 3.5-1.4-4.1z"/><path fill="#39c996" d="M100.6 448.4l1.1 1-1.9 7.1-1-.7z"/><path fill="#484ef0" d="M72.3 490.6l2-.7-3.5 4.7-2 .3z"/><path fill="#57c978" d="M103.9 444.7l1.1 2.2-1.6 6.1-1.1-1.8z"/><path fill="#4ec984" d="M113.3 445.9l1.6 6.9-1.1 1.5-1.6-6.5z"/><path fill="#3c66f6" d="M78.8 484.4l1.5-.8-3.1 5.7-1.6.5zM129.6 486.2l3.1 6.8-.8.1-3.1-6.7z"/><path fill="#27c3a8" d="M115.7 451.1l1.8 7.5-.9.9-1.9-7.1z"/><path fill="#54c97b" d="M109.8 445.4l1.6 5.3-1.4 3.1-1.6-4.9z"/><path fill="#48c987" d="M104.9 446.9l1.3 2.7-1.6 5.7-1.4-2.3z"/><path fill="#12b1d2" d="M94.6 461.4l.9.2-2.2 7.6-.8-.2zM95.4 461.6l.9.3-2.2 7.5-.9-.2zM96.2 461.9l.9.5-2.2 7.5-.9-.5z"/><path fill="#21c0ae" d="M114.8 452.4l1.9 7.1-1.1 1.3-1.9-6.9zM107.2 452.9l1.6 4.2-1.7 4.5-1.6-3.6z"/><path fill="#39c993" d="M108.6 448.8l1.6 4.9-1.6 3.6-1.6-4.2z"/><path fill="#36c699" d="M106 449.6l1.4 3.4-1.7 5.1-1.3-2.8z"/><path fill="#2496ed" d="M123.8 472l2.6 7.8-.7.1-2.7-7.7zM123 472.2l2.7 7.7-.9.2-2.6-7.6zM122.2 472.5l2.6 7.6-1 .3-2.3-7.5zM121.6 472.9l2.3 7.5-1 .4-2.4-7.4z"/><path fill="#4548e4" d="M71 494.2l1.8-.3-3.9 4.5-1.8-.1zM77.1 498.6l1 .2-4.2 4.3-.9-.2zM78.1 498.8l.8.2-4.3 4.3-.8-.2zM78.8 499l1 .2-4.4 4.3-.8-.2zM79.8 499.2l.7.2-4.2 4.4-.9-.3zM80.4 499.4l1 .3-4.2 4.3-1-.2zM81.3 499.7l1 .4-4.2 4.2-1-.4zM82.2 500l1.1.5-4.2 4.1-1.1-.4zM83.2 500.4l1.2.5-4.2 4.1-1.2-.5zM84.3 500.8l1.3.7-4.1 3.9-1.4-.5zM85.5 501.4l1.5.7-4.2 3.8-1.4-.6zM86.9 502l1.6.9-4.2 3.7-1.6-.8zM114.1 502.4l3.4 3.8-2.8 1.7-3.3-3.4zM97.7 502.8l2.4 1.9-3.8 3.1-2.5-1.5z"/><path fill="#0fb7c6" d="M105.7 457.7l1.6 3.6-1.9 5.1-1.6-3.1z"/><path fill="#3f66f6" d="M131.3 486.2l3.1 6.7-.9 0-3-6.7zM130.5 486.2l3 6.7-.8.1-3.1-6.8zM122.1 488.9l3.2 6.2-1.5.7-3.2-6zM120.7 489.8l3.2 6-1.6 1-3.2-5.8zM99.6 491l2.2 2.3-3.2 4.5-2.1-1.9z"/><path fill="#307ef6" d="M125.5 479.5l2.7 7.3-.8.2-2.8-7.3zM124.6 479.7l2.8 7.3-.9.2-2.8-7.2zM123.7 480l2.8 7.2-.8.3-2.9-7.1zM122.8 480.4l2.9 7.1-1 .5-2.9-7z"/><path fill="#2499ea" d="M98.8 473l1.4 1.6-2.6 6.4-1.3-1.2z"/><path fill="#453fd5" d="M140.5 498.1l3.7 5.1-1.2.1-3.8-5.2zM71.6 502.2l.9.3-4.6 3.3-.9-.3zM105.4 508.7l3.4 2.6-3.7 1.9-3.4-2.2zM99.1 509l3 2-4.2 2.1-3-1.7z"/><path fill="#4542db" d="M136.5 498.4l3.9 5.4-1 0-3.8-5.4zM119.7 504.4l3.7 4.4-2.5 1.2-3.8-4zM102.6 506.6l3 2.3-3.7 2.3-3.1-2z"/><path fill="#423fcf" d="M66.9 501.6l1.4.2-4.6 3.2-1.3-.3z"/><path fill="#423fd5" d="M70.6 502l1 .3-4.6 3.3-1-.3zM114.7 507.5l3.7 3.7-3.1 1.6-3.7-3.2zM92.7 509.9l2.6 1.5-4.5 2.2-2.7-1.4z"/><path fill="#4545e1" d="M130.5 499.4l3.8 5.5-1.2.2-3.7-5.4z"/><path fill="#425af6" d="M95.1 494.1l1.8 1.6-3.4 4.6-1.9-1.3zM115.7 494.2l3.1 4.9-2.2 1.7-3.2-4.3z"/><path fill="#4239cc" d="M134 504.5l4.2 5-1.2.3-4.2-5.1zM125.2 507.5l4.2 4.7-2.3.9-4.1-4.5z"/></g></g><circle cx="84.8" cy="488.4" r="3.3" fill="#000"/><circle cx="84.8" cy="488.4" r="3.3" fill="#3577f6" fill-opacity="0.75"/><circle cx="89.5" cy="494.3" r="3.3" fill="#000"/><circle cx="89.5" cy="494.3" r="3.3" fill="#4062f5" fill-opacity="0.75"/><circle cx="89.5" cy="500.7" r="3.3" fill="#000"/><circle cx="89.5" cy="500.7" r="3.3" fill="#4751f2" fill-opacity="0.75"/><circle cx="74.1" cy="503.8" r="3.3" fill="#000"/><circle cx="74.1" cy="503.8" r="3.3" fill="#4442d8" fill-opacity="0.75"/><circle cx="81.9" cy="507.8" r="3.3" fill="#000"/><circle cx="81.9" cy="507.8" r="3.3" fill="#4443d9" fill-opacity="0.75"/><circle cx="127.3" cy="484.8" r="3.3" fill="#000"/><circle cx="127.3" cy="484.8" r="3.3" fill="#317ff7" fill-opacity="0.75"/><circle cx="130.9" cy="496.7" r="3.3" fill="#000"/><circle cx="130.9" cy="496.7" r="3.3" fill="#4655f4" fill-opacity="0.75"/><circle cx="119.6" cy="448.4" r="3.3" fill="#000"/><circle cx="119.6" cy="448.4" r="3.3" fill="#56c97b" fill-opacity="0.75"/><circle cx="97.2" cy="450.2" r="3.3" fill="#000"/><circle cx="97.2" cy="450.2" r="3.3" fill="#3cc893" fill-opacity="0.75"/><circle cx="134.6" cy="473.7" r="3.3" fill="#000"/><circle cx="134.6" cy="473.7" r="3.3" fill="#2f84f7" fill-opacity="0.75"/><circle cx="134.4" cy="499.0" r="3.3" fill="#000"/><circle cx="134.4" cy="499.0" r="3.3" fill="#4544dc" fill-opacity="0.75"/><circle cx="135.6" cy="499.0" r="3.3" fill="#000"/><circle cx="135.6" cy="499.0" r="3.3" fill="#4444db" fill-opacity="0.75"/><path d="M135.60 502.30A3.3 3.3 0 0 0 135.60 495.70Z" fill="#000"/>
<path d="M31.4 501.1 L108.6 527.7 L185.8 501.1" fill="none" stroke="#1a1a1a" stroke-width="2.3" stroke-linejoin="miter"/>
<circle cx="108.4" cy="403.0" r="3.3" fill="#000"/>
<circle cx="96.2" cy="448.4" r="3.3" fill="#000"/>
<circle cx="90.6" cy="451.2" r="3.3" fill="#000"/>
<circle cx="91.5" cy="454.9" r="3.3" fill="#000"/>
<circle cx="119.6" cy="453.1" r="3.3" fill="#000"/>
<circle cx="138.4" cy="456.8" r="3.3" fill="#000"/>
<circle cx="125.2" cy="469.9" r="3.3" fill="#000"/>
<circle cx="127.3" cy="475.4" r="3.3" fill="#000"/>
<circle cx="85.9" cy="478.4" r="3.3" fill="#000"/>
<circle cx="142.7" cy="505.6" r="3.3" fill="#000"/>
<path d="M32.6 501.2 V399.2" stroke="#1a1a1a" stroke-width="2.7"/>
<path d="M31.6 500.2 h-3 M31.6 470.0 h-3 M31.6 439.8 h-3 M31.6 409.6 h-3" stroke="#1a1a1a" stroke-width="2"/>
<text x="25.7" y="503.8" text-anchor="end" style="font-family:'Liberation Sans',sans-serif;font-size:15px" fill="#262626">0</text>
<text x="25.7" y="473.6" text-anchor="end" style="font-family:'Liberation Sans',sans-serif;font-size:15px" fill="#262626">1</text>
<text x="25.7" y="443.4" text-anchor="end" style="font-family:'Liberation Sans',sans-serif;font-size:15px" fill="#262626">2</text>
<text x="25.7" y="413.2" text-anchor="end" style="font-family:'Liberation Sans',sans-serif;font-size:15px" fill="#262626">3</text>
<text transform="translate(11.4,450.6) rotate(-90)" text-anchor="middle" style="font-family:'Liberation Sans',sans-serif;font-size:14.6px" fill="#262626">Visibility (<tspan font-style="italic">d</tspan>′)</text>
<text transform="translate(61.6,528.5) rotate(19.3)" text-anchor="middle" style="font-family:'Liberation Sans',sans-serif;font-size:14.6px" fill="#262626">Vert.</text>
<text transform="translate(155.4,528.5) rotate(-19.3)" text-anchor="middle" style="font-family:'Liberation Sans',sans-serif;font-size:14.6px" fill="#262626">Hori.</text>
<g><g opacity="0.80" shape-rendering="crispEdges"><path fill="#3f30b7" d="M364.1 485.1l.8.3-4.5-.6-.9-.2zM364.9 485.4l.9.3-4.7-.7-.7-.2zM365.8 485.7l.7.3-4.6-.7-.8-.3zM366.5 486l.8.3-4.6-.7-.8-.3zM367.3 486.3l.9.3-4.6-.6-.9-.5z"/><path fill="#3f2db7" d="M368.2 486.6l.9.3-4.6-.6-.9-.3zM369.1 486.9l1 .4-4.6-.5-1-.5zM370.1 487.3l1.1.4-4.6-.4-1.1-.5z"/><path fill="#3f2db4" d="M371.2 487.7l1.2.5-4.6-.4-1.2-.5z"/></g>
<g opacity="0.80" shape-rendering="crispEdges"><path fill="#4236c6" d="M361.7 484.6l1.1.5 4.2 2.3-1.1-.5z"/><path fill="#4236c3" d="M362.8 485.1l1.2.7 4.2 2.1-1.2-.5z"/></g>
<g opacity="0.80" shape-rendering="crispEdges"><path fill="#3f30b7" d="M287 486.6l4.6-.7-.8.3-4.7.7zM286.1 486.9l4.7-.8-1 .5-4.7.8z"/><path fill="#3f2db7" d="M285.1 487.3l4.7-.8-1.2.6-4.6.6zM284 487.7l4.6-.6-1.2.5-4.6.6z"/><path fill="#4236c3" d="M368.2 487.9l1.4.8-4.2-2-1.4-.9z"/><path fill="#4236c0" d="M369.6 488.7l1.5.6-4.2-1.7-1.5-.9z"/></g>
<g opacity="0.80" shape-rendering="crispEdges"><path fill="#4239c6" d="M287 487.7l4.2-2.2 1.2-.7-4.2 2.4z"/><path fill="#4236c6" d="M287 487.7l4.2-2.2-1.3.7-4.3 2.2z"/><path fill="#4542d5" d="M361.8 483.4l1.6 1.2 3.9 3.3-1.5-.9z"/></g>
<g opacity="0.80" shape-rendering="crispEdges"><path fill="#4236c3" d="M285.6 488.4l4.3-2.2-1.6.9-4.2 2z"/><path fill="#4236c0" d="M284.1 489.1l4.2-2-1.5 1.1-4.4 1.8z"/><path fill="#4233c0" d="M282.4 490l4.4-1.8-2 1.4-4.3 1.3z"/><path fill="#423fd2" d="M367.3 487.9l1.6 1.2-3.9-2.9-1.6-1.6z"/></g>
<g opacity="0.80" shape-rendering="crispEdges"><path fill="#423fd2" d="M284.4 489.8l3.9-3.1 1.9-1.6-3.8 3.4z"/><path fill="#484eed" d="M360.2 480.5l1.8 1.9 3.4 4.1-1.7-1.5z"/></g>
<g opacity="0.80" shape-rendering="crispEdges"><path fill="#3f27a8" d="M327.6 473.7l4.4 1.6-4.4 1.6-4.4-1.6zM323.4 475.1l4.4 1.6-4 1.5-4.4-1.6zM331.8 475.1l4 1.5-4.4 1.6-4-1.5z"/><path fill="#3f27ab" d="M319.5 476.4l4.5 1.6-3.7 1.2-4.5-1.4zM335.7 476.4l3.7 1.4-4.5 1.4-3.7-1.2zM327.6 476.5l4 1.5-4 1.3-4-1.3zM315.9 477.6l4.5 1.4-3.2 1-4.5-1.2zM339.3 477.6l3.2 1.2-4.5 1.2-3.2-1zM323.8 477.8l4 1.3-3.7 1-4.1-1.1zM331.4 477.8l3.8 1.2-4.1 1.1-3.7-1zM342.4 478.6l3 1.1-4.5 1.1-3-1zM312.8 478.6l4.5 1.2-3 1-4.5-1.1z"/><path fill="#3f2aae" d="M320.1 478.8l4.2 1.1-3.3.7-4.1-.8zM335.1 478.8l3.2 1-4.1.8-3.3-.7zM327.6 478.9l3.7 1-3.7.6-3.7-.6zM309.8 479.5l4.6 1.1-2.6.7-4.6-.9zM345.4 479.5l2.6.9-4.6.9-2.6-.7zM307.2 480.3l4.6.8-2.4.6-4.6-.6zM348 480.3l2.4.8-4.6.6-2.4-.6z"/><path fill="#3f2ab1" d="M316.9 479.6l4.2.8-2.9.4-4.2-.2zM338.3 479.6l2.9 1-4.2.2-2.9-.4zM304.8 481l4.6.6-2.1.4-4.6-.3zM350.4 481l2.1.7-4.6.3-2.1-.4z"/><path fill="#3f2db1" d="M324 479.7l3.8.6-3.2.3-3.9-.2zM331.2 479.7l3.3.7-3.9.2-3.2-.3zM302.7 481.6l4.6.3-1.9.3-4.6 0zM352.5 481.6l1.9.6-4.6 0-1.9-.3z"/><path fill="#3f2db4" d="M314 480.5l4.2.2-2.6.2-4.2.2zM341.2 480.5l2.6.6-4.2-.2-2.6-.2zM300.8 482.2l4.6 0-1.6.4-4.7.1zM354.4 482.2l1.7.5-4.6-.1-1.7-.4zM299.1 482.7l4.7-.1-1.6.2-4.6.3zM356.1 482.7l1.5.4-4.6-.3-1.5-.2zM297.6 483.1l4.6-.3-1.4.3-4.6.5zM357.6 483.1l1.4.5-4.6-.5-1.4-.3zM296.2 483.6l4.6-.5-1.2.3-4.6.5zM359 483.6l1.2.3-4.6-.5-1.2-.3z"/><path fill="#3f2db7" d="M360.2 483.9l1.1.3-4.6-.5-1.1-.3zM295 483.9l4.6-.5-1.1.3-4.6.5zM361.3 484.2l1 .4-4.6-.6-1-.3zM293.9 484.2l4.6-.5-1 .2-4.6.7zM362.3 484.6l.9.3-4.6-.7-.9-.2z"/><path fill="#3f30b7" d="M292.9 484.6l4.6-.7-.9.3-4.6.7zM292 484.9l4.6-.7-.8.2-4.7.7zM363.2 484.9l.9.2-4.6-.5-.9-.4zM291.1 485.1l4.7-.7-.9.3-4.5.7zM290.4 485.4l4.5-.7-.8.3-4.6.7zM289.5 485.7l4.6-.7-.8.2-4.6.9zM288.7 486l4.6-.9-.8.5-4.6.8zM287.9 486.3l4.6-.7-.9.3-4.6.7z"/><path fill="#423ccf" d="M284.4 489.8l3.9-3.1-2.1 2-4 2.3z"/><path fill="#454be4" d="M365.4 486.5l1.9 1.8-3.6-3.6-1.8-2.3z"/></g>
<g opacity="0.80" shape-rendering="crispEdges"><path fill="#3f30b7" d="M317.8 480.7l4-.6 2.8.3-3.9 0zM330.6 480.4l2.9-.3 3.9.6-2.9-.3z"/><path fill="#3f30ba" d="M324.2 480.4l3.4-.7 3.4.7-3.4.1zM306.9 481.9l4.2-1.1 2.2.1-4.3.8zM341.9 480.9l2.2 0 4.2 1-2.1-.2z"/><path fill="#3f2db7" d="M309 481.6l4.3-.8 2.3.1-4.2.2zM339.6 480.9l2.3-.1 4.3.8-2.4-.5z"/><path fill="#3f33bd" d="M315.2 480.9l3.8-1.3 2.8.6-4 .6zM333.5 480.2l2.7-.6 3.8 1.3-2.6-.1zM305 482.3l4.2-1.4 1.9-.1-4.2 1.2zM344.1 481l1.9-.1 4.2 1.4-1.9-.3z"/><path fill="#4236c0" d="M327.4 479.9l3.2-1 3.3 1.3-3 .4zM321.4 480.2l3.3-1.3 3.1 1-3.5.7zM301.8 482.9l4.2-1.9 1.5-.1-4.1 1.8zM347.7 481l1.5 0 4.2 1.9-1.5-.2z"/><path fill="#4236c3" d="M312.9 481l3.8-1.9 2.4.7-3.9 1.3zM336.1 479.8l2.4-.7 3.8 1.9-2.3.1zM300.4 483.2l4.4-2.1 1.2-.1-4.2 1.9zM349.2 481l1.3.2 4.3 2-1.4-.3zM350.5 481.2l1.2.1 4.3 2.2-1.2-.3z"/><path fill="#4239c9" d="M318.7 479.8l3.5-2 2.7 1.3-3.4 1.3zM330.4 479.1l2.6-1.3 3.5 2-2.7.6zM310.7 481l3.8-2.4 2.3.6-3.8 1.9zM338.4 479.2l2.3-.5 3.8 2.4-2.3 0zM295.4 484.5l4.2-2.5.8-.2-4.2 2.5zM294.5 484.8l4.3-2.6.8-.2-4.2 2.5zM293.7 485.1l4.2-2.6.9-.3-4.3 2.6zM356.5 482.5l.9.1 4.1 2.5-.7-.2zM292.9 485.3l4.2-2.6.8-.2-4.2 2.6zM357.4 482.6l.7.3 4.2 2.5-.8-.3zM292.1 485.7l4.2-2.7.8-.3-4.2 2.6zM291.2 486l4.3-2.7.8-.3-4.2 2.7zM290.4 486.3l4.1-2.6 1-.4-4.3 2.7zM289.4 486.7l4.1-2.5 1-.5-4.1 2.6z"/><path fill="#423ccc" d="M324.5 479.1l3.1-1.9 3.2 1.9-3.2 1z"/><path fill="#4233c0" d="M303.4 482.7l4.1-1.8 1.7 0-4.2 1.4zM346 480.9l1.7.1 4.2 1.7-1.7-.4z"/><path fill="#423fd5" d="M316.4 479.4l3.4-2.8 2.5 1.4-3.5 2zM332.9 478l2.7-1.4 3.2 2.8-2.4.6z"/><path fill="#4545db" d="M321.9 478l3.1-2.6 2.8 2-3.1 1.9zM327.4 477.4l2.8-2 3.1 2.6-2.7 1.3zM347 477.6l1.3 0 3.8 4-1.3-.1zM359.2 481.4l1.3 1 3.9 3.7-1.2-.7z"/><path fill="#423ccf" d="M308.8 481.1l3.9-2.9 1.9.5-3.8 2.4zM340.6 478.8l2-.4 3.8 2.7-2 .1zM368.9 489l1.9 1.3-3.9-2.3-1.9-1.9z"/><path fill="#4545de" d="M314.2 478.9l3.5-3.4 2.2 1.2-3.4 2.8zM335.4 476.7l2.1-1.2 3.5 3.5-2.3.5zM303.1 481.5l3.8-4.1 1.3.1-3.7 3.9zM302 481.8l3.8-4.4 1.2 0-3.8 4.1zM348.2 477.6l1.3 0 3.7 4.2-1.2-.2zM349.4 477.6l1.1.1 3.7 4.3-1.1-.2zM357.1 480.1l1 .6 4 4.2-1-.5zM358.1 480.7l1.1.7 4 4-1.1-.5zM290.8 485.8l4-4.3 1.2-.8-3.9 4.4zM289.5 486.5l3.9-4 1.4-1-3.9 4.3z"/><path fill="#423fd2" d="M307.1 481.1l3.9-3.2 1.8.4-3.9 2.9zM342.5 478.5l1.7-.6 3.9 3.3-1.8 0z"/><path fill="#454bea" d="M319.5 476.9l3.1-3.5 2.6 2.2-3.1 2.6zM330 475.6l2.6-2.2 3.2 3.5-2.7 1.3z"/><path fill="#484eed" d="M324.8 475.6l2.8-2.9 2.8 2.9-2.8 2zM310.7 478.3l3.4-4.6 1.8.9-3.4 4zM339.4 474.7l1.7-.9 3.4 4.4-1.7.6zM287.9 487.1l3.5-4.1 1.9-2.1-3.4 4.6z"/><path fill="#4236c6" d="M299.2 483.5l4.3-2.3 1.3-.1-4.4 2.1zM298.1 483.8l4.3-2.3 1.1-.3-4.3 2.3zM351.7 481.3l1.1.2 4.3 2.3-1.1-.3z"/><path fill="#454be7" d="M312.4 478.5l3.4-4 2 1.1-3.5 3.4zM285.8 489l3.5-3.5 2.2-2.5-3.5 4.1z"/><path fill="#454be4" d="M337.4 475.6l2.1-1 3.4 4.1-2 .4z"/><path fill="#4542d8" d="M305.6 481.2l3.8-3.6 1.7.4-3.9 3.2zM345.7 477.8l1.4-.2 3.8 3.8-1.4-.1zM360.5 482.4l1.3 1 4 3.6-1.4-.9zM286.4 488.5l3.8-3.4 1.7-1.4-4 3.7z"/><path fill="#4542d5" d="M344.1 478l1.7-.3 3.8 3.5-1.6.1z"/><path fill="#4854f3" d="M317.4 475.8l3.2-4.2 2.2 1.9-3.1 3.5zM332.4 473.5l2.3-1.9 3.1 4.2-2.1 1.2z"/><path fill="#4239c6" d="M297.1 484l4.3-2.4 1-.1-4.3 2.3zM352.8 481.5l1 .2 4.3 2.4-1-.3zM296.2 484.3l4.2-2.5 1-.2-4.3 2.4zM353.8 481.7l1 .2 4.2 2.4-.9-.2zM354.8 481.9l.8.2 4.3 2.6-.9-.4zM355.6 482.1l.9.4 4.3 2.4-.9-.2zM358.1 482.9l.8.4 4.2 2.4-.8-.3zM358.9 483.3l.8.3 4.3 2.5-.9-.4zM359.7 483.6l1 .5 4.2 2.3-.9-.3zM360.7 484.1l1 .5 4.2 2.3-1-.5zM288.2 487.2l4.2-2.4 1.1-.6-4.1 2.5z"/><path fill="#4542db" d="M304.4 481.4l3.7-3.9 1.4.2-3.8 3.6zM287.9 487.4l4-3.7 1.5-1.2-3.9 4z"/><path fill="#455af6" d="M327.4 472.9l2.6-3 2.8 3.8-2.6 2.1zM322.4 473.7l2.8-3.8 2.6 3-2.8 2.9zM305.5 477.8l3.4-5.8 1.2.2-3.4 5.6zM345.1 472.4l1.2 0 3.5 5.6-1.3 0zM355.1 475.4l1.1 1 3.3 5.4-1.1-.7zM293 482.9l3.5-5.4 1.3-1.1-3.3 5.5z"/><path fill="#425df6" d="M315.5 474.8l3.1-4.9 2.2 1.8-3.2 4.2zM334.5 471.7l2.1-1.7 3.2 4.9-2.2 1zM304.6 477.9l3.3-6 1.1.1-3.4 5.8zM303.6 478l3.4-6.1.9 0-3.3 6zM347.3 472.2l.9.2 3.6 5.8-1.1-.1zM302.8 478.1l3.4-6.1.8-.1-3.4 6.1zM348.2 472.4l.8 0 3.4 6-.7-.2zM349 472.4l.9.2 3.3 6-.8-.2zM349.9 472.6l.8.2 3.3 6.1-.8-.3zM350.7 472.8l.8.3 3.3 6.1-.8-.3zM351.5 473.1l.8.4 3.4 6-.9-.3zM352.3 473.5l.8.5 3.4 6-.8-.5zM353.1 474l1 .6 3.3 5.9-.9-.5zM296.8 480.4l3.3-6 1-.6-3.3 6.1zM295.7 481.1l3.3-5.9 1.1-.8-3.3 6zM359.1 477.9l1.9 2.9 3 4.3-1.8-2.3zM288.9 485.9l3.3-4.2 2-3.2-3 4.9z"/><path fill="#4851f3" d="M309.1 478l3.6-5 1.5.7-3.4 4.6zM341 473.8l1.6-.6 3.5 4.9-1.7.2zM358.6 478.8l1.7 1.7 3.5 4.5-1.7-1.2zM289.8 485.5l3.4-4.6 1.8-1.8-3.4 5z"/><path fill="#3f66f6" d="M329.8 470l2.3-2.6 2.8 4.5-2.3 1.9zM320.4 471.9l2.7-4.7 2.3 2.8-2.8 3.8z"/><path fill="#3c69f6" d="M325 470.1l2.6-3.9 2.6 3.9-2.6 3zM312.4 473.4l3.1-6 1.6 1.1-3.2 5.6zM338.1 468.6l1.6-1 3.2 6-1.6.6zM355.8 473.2l1.7 2.2 3 5.5-1.6-1.7zM293 481.3l3.1-5.5 1.7-2.4-3.1 6.1z"/><path fill="#3f63f6" d="M313.8 474.1l3.1-5.6 1.9 1.4-3.2 5zM336.4 470l1.9-1.4 3.1 5.6-1.7.8zM357.5 475.4l1.6 2.5 3.1 4.9-1.7-1.9zM291.2 483.4l3-4.9 1.9-2.7-3.1 5.5z"/><path fill="#4554f3" d="M307.8 477.9l3.5-5.4 1.5.5-3.6 5zM342.5 473.2l1.4-.5 3.5 5.3-1.4.1zM357.5 477.4l1.2 1.4 3.5 5-1.4-1z"/><path fill="#4548e1" d="M301 481.9l3.8-4.4 1.1-.1-3.8 4.4zM300 482.1l3.8-4.5 1.1-.1-3.8 4.4zM350.4 477.7l1.1.1 3.7 4.4-1.1-.2zM299.2 482.3l3.8-4.6.9-.1-3.8 4.5zM351.4 477.8l.8.2 3.8 4.4-.9-.2zM352.1 478l.9.2 3.9 4.6-1-.4zM352.9 478.2l.9.3 4 4.4-1-.1zM353.7 478.5l.8.3 4 4.4-.7-.3zM354.5 478.8l1 .3 3.8 4.5-.8-.4zM355.4 479.1l.8.5 3.9 4.3-.9-.3zM356.2 479.6l.9.5 4 4.3-1.1-.5zM293.1 484.5l3.9-4.5 1.1-.5-3.9 4.5zM292 485.1l3.9-4.4 1.2-.7-3.9 4.5z"/><path fill="#3972f6" d="M331.9 467.5l2.1-2.6 2.8 5.4-2.1 1.7zM318.4 470.2l2.8-5.4 2.1 2.5-2.7 4.7zM341 466.7l1.3-.5 3.1 6.6-1.3.3zM353.3 470l1.2 1.4 3.2 6.4-1.3-1zM356.5 472.8l1.8 3.6 2.9 4.8-1.9-2.9zM291.9 482.1l2.8-4.6 2.2-3.9-2.9 5.3z"/><path fill="#4557f6" d="M306.6 477.8l3.4-5.6 1.4.3-3.5 5.4zM343.8 472.7l1.4-.3 3.4 5.6-1.3 0zM356.2 476.4l1.3 1 3.3 5.4-1.3-1z"/><path fill="#337bf6" d="M322.9 467.5l2.7-4.7 2.2 3.6-2.6 3.9zM327.4 466.4l2.3-3.6 2.6 4.9-2.3 2.6zM333.8 464.9l1.9-1.9 2.8 6-1.9 1.4zM316.7 468.9l2.9-6.1 1.8 2-2.8 5.5zM306.8 472.3l3.1-7.3.9.2-3.1 7.1zM306 472.4l3.1-7.4.8 0-3.1 7.3zM345.3 465.5l.8.1 3.1 7.2-.8 0zM346.1 465.6l.9.1 3.1 7.3-.9-.2zM347 465.7l.8.2 3.1 7.3-.8-.2zM347.8 465.9l.8.5 3.1 7.1-.8-.3zM348.6 466.4l.9.3 3 7.2-.8-.4zM349.5 466.7l.8.5 3 7.2-.8-.5zM299.9 474.8l3.1-7.2 1-.7-3.1 7.3zM298.8 475.6l3.1-7 1.1-1-3.1 7.2zM354.8 469.6l1.7 3.2 2.8 5.5-1.6-2.5zM294 478.9l2.9-5.3 1.8-3.4-2.8 6z"/><path fill="#4548e4" d="M298.4 482.5l3.8-4.6.9-.2-3.8 4.6zM297.5 482.8l3.9-4.7.9-.2-3.8 4.6zM296.7 483l4-4.6.8-.3-3.9 4.7zM295.9 483.3l3.8-4.6 1.1-.3-4 4.6zM295.1 483.6l3.8-4.5.9-.4-3.8 4.6zM294.1 484l3.9-4.5 1-.4-3.8 4.5z"/><path fill="#396ff6" d="M311 472.9l3.2-6.4 1.4.9-3.1 6zM339.6 467.6l1.4-.9 3.2 6.4-1.4.5zM354.5 471.4l1.3 1.8 3.1 6-1.2-1.4zM294.7 479.5l3.1-6.1 1.6-1.9-3.1 6.4z"/><path fill="#2d87f6" d="M321 465.1l2.6-5.4 2.2 3.2-2.7 4.7zM329.5 462.9l2.1-3.1 2.6 5.4-2.1 2.6z"/><path fill="#425af6" d="M346.2 472.4l1.1-.2 3.5 5.9-1.1-.1zM354.1 474.6l1 .8 3.3 5.7-1-.6zM294.5 481.9l3.3-5.5 1.2-1.2-3.3 5.9z"/><path fill="#2a8df3" d="M325.4 463l2.2-4.4 2.3 4.4-2.3 3.6z"/><path fill="#3672f6" d="M309.8 472.6l3.1-6.7 1.4.6-3.2 6.4z"/><path fill="#3084f6" d="M315.2 467.8l2.8-6.6 1.8 1.6-2.9 6.1zM335.5 463l1.7-1.6 2.8 6.6-1.7 1zM353.2 467l1.6 2.6 2.9 6.2-1.7-2.2zM295.9 476.2l2.8-6 1.7-2.8-2.8 6.4z"/><path fill="#2793ed" d="M319.4 463.2l2.5-6.2 1.9 2.8-2.6 5.4zM331.4 459.9l1.9-2.7 2.6 6.2-1.9 1.9zM311.6 465.9l2.7-7.7 1.2.7-2.7 7.4zM339.7 459.4l1.2-.8 2.8 7.6-1.3.4zM349.6 461.7l1.1 1.4 2.8 7.3-1.1-1.1zM352.5 463.9l1.6 3.7 2.6 5.6-1.7-3.2zM296.7 474l2.5-5.3 1.9-4.1-2.6 6z"/><path fill="#3675f6" d="M308.7 472.4l3.1-6.9 1.1.4-3.1 6.7zM342.3 466.2l1.2-.4 3 7-1.1 0zM352.2 468.9l1.1 1.1 3.1 6.8-1.1-1zM296.3 477.9l3.1-6.4 1.3-1.6-3.1 6.9z"/><path fill="#2199e7" d="M323.4 460l2.3-5.2 2.1 4-2.2 4.4zM327.4 458.8l2.2-4 2.2 5.3-2.1 3.1zM308 465.5l2.8-8.1.9 0-2.8 8zM303.8 467.3l2.9-7.9 1-.8-3 8.2z"/><path fill="#2a8af3" d="M314 466.9l2.7-7 1.5 1.3-2.8 6.6zM337 461.4l1.6-1.2 2.6 6.9-1.4.9zM351.9 464.8l1.3 2.2 2.8 6.6-1.3-1.8zM297.6 473.8l2.8-6.4 1.6-2.5-2.8 7z"/><path fill="#4260f6" d="M302 478.3l3.3-6.2.9-.1-3.4 6.1zM301.2 478.5l3.3-6.1.8-.3-3.3 6.2zM300.5 478.8l3.2-6.3.8-.1-3.3 6.1zM299.5 479.1l3.4-6.2.8-.4-3.2 6.3zM298.7 479.5l3.4-6.1.8-.5-3.4 6.2zM297.8 479.9l3.3-6.1 1-.4-3.4 6.1z"/><path fill="#3378f6" d="M307.7 472.3l3.1-7.1 1 .3-3.1 6.9zM344.5 465.6l.8-.1 3.1 7.3-.9-.2zM350.3 467.2l.9.8 3.1 7-1-.6z"/><path fill="#3678f6" d="M343.5 465.8l1-.2 3 7-1 .2zM351.2 468l1 .9 3.1 6.9-1-.8zM297.6 476.8l3.1-6.9 1.2-1.3-3.1 7z"/><path fill="#219ce7" d="M317.8 461.6l2.6-6.7 1.7 2.1-2.5 6.2zM333.1 457.2l1.7-2.1 2.6 6.7-1.7 1.6zM307.2 465.6l2.8-8.2.8 0-2.8 8.1zM306.5 465.9l2.7-8.2.8-.3-2.8 8.2zM305.6 466.2l2.8-8.2.8-.3-2.7 8.2zM304.7 466.8l3-8.2.7-.6-2.8 8.2zM350.9 460.7l1.6 3.2 2.5 6.1-1.6-2.6zM298.5 470.6l2.6-6 1.7-3.5-2.6 6.7z"/><path fill="#2790f0" d="M312.7 466.3l2.7-7.4 1.4 1-2.7 7zM299.2 471.9l2.8-7 1.3-2-2.8 7.4z"/><path fill="#2a8df0" d="M338.5 460.2l1.3-.8 2.7 7.2-1.4.5zM350.7 463.1l1.2 1.7 2.8 7-1.2-1.4z"/><path fill="#18a8de" d="M321.7 457.3l2.3-5.8 1.9 3.4-2.3 5.2zM315.3 459.3l2.5-7.5 1.3 1.3-2.4 7.2zM336.1 453.4l1.3-1.2 2.5 7.6-1.3.8zM348.3 456l1.2 2.1 2.6 7.1-1.2-1.7z"/><path fill="#18a5de" d="M329.4 454.9l1.8-3.3 2.3 5.9-1.9 2.7zM300.9 465l2.3-5.8-1.8 4.8-2.4 5.1z"/><path fill="#15abdb" d="M325.5 455l2.1-4.6 2.2 4.6-2.2 4zM337.3 452.2l1.3-.8 2.4 7.6-1.2.8zM347.2 454.4l1.1 1.6 2.6 7.5-1.1-1.4z"/><path fill="#1ba2e1" d="M316.6 460.3l2.4-7.2 1.6 1.8-2.6 6.7zM334.6 455.1l1.6-1.7 2.5 7.2-1.5 1.2zM349.5 458.1l1.4 2.6 2.5 6.7-1.3-2.2zM300.2 467.8l2.6-6.7 1.5-2.9-2.4 7.1z"/><path fill="#12b1d5" d="M320.2 455.3l2.4-6.5 1.6 2.7-2.3 5.9zM331 451.6l1.7-2.6 2.3 6.5-1.7 2.1zM312.3 457.9l2.5-8.2 1 .5-2.5 8zM339.5 450.7l.9-.3 2.5 8.1-1 .3zM340.3 450.4l1 0 2.4 8-.9.1zM341.2 450.4l.8 0 2.7 8.1-1.1-.1zM343.6 450.9l1 .5 2.4 8.1-.8-.4zM344.5 451.4l.8.7 2.5 8.1-.8-.7zM345.3 452.1l.9 1 2.6 7.9-1.1-.8zM304.3 461.8l2.6-7.8 1.1-1.4-2.4 8zM348.8 454.6l1.5 3.8 2.4 5.9-1.6-3.2zM300.9 465l2.3-5.8 1.7-4-2.2 6.3z"/><path fill="#337ef6" d="M305.1 472.5l3.1-7.4.9-.1-3.1 7.4zM304.3 472.8l3.1-7.6.8-.1-3.1 7.4zM303.5 472.9l3.2-7.4.7-.3-3.1 7.6zM302.7 473.3l3.1-7.5.9-.3-3.2 7.4zM301.9 473.8l3-7.4.9-.6-3.1 7.5zM300.9 474.2l3.1-7.3.9-.5-3 7.4z"/><path fill="#2496ea" d="M310.6 465.6l2.8-7.8 1 .4-2.8 7.7zM341.8 458.4l.9-.3 2.8 7.8-.8.1zM342.7 458.1l.8-.1 2.8 8-.8-.1zM346.8 459.1l.8.7 2.9 7.8-.8-.5zM347.6 459.8l1 .8 2.8 7.8-.9-.8zM301.7 469l2.8-7.6 1.2-1.2-2.9 7.8z"/><path fill="#2493ed" d="M340.8 458.6l1-.2 2.9 7.6-1 .2zM348.6 460.6l1 1.1 2.8 7.6-1-.9zM300.5 470.3l2.8-7.4 1.2-1.5-2.8 7.6z"/><path fill="#0fb4cf" d="M323.8 451.8l2.1-5.3 1.9 4-2.1 4.7zM327.4 450.5l1.9-3.9 2.1 5.3-1.8 3.3zM318.8 453.5l2.3-6.8 1.7 2.1-2.4 6.5zM332.5 449l1.6-2.1 2.3 6.9-1.6 1.7zM309 458.1l2.7-8.4.7-.2-2.6 8.3zM308.2 458.4l2.6-8.3.9-.4-2.7 8.4zM347.5 451.6l1.3 3 2.3 6.5-1.5-2.6zM302.6 461.5l2.3-6.3 1.5-3.4-2.2 6.8z"/><path fill="#2199ea" d="M309.7 465.4l2.8-7.9.9.3-2.8 7.8zM308.9 465.4l2.8-8 .8.1-2.8 7.9zM343.5 458l1 .1 2.7 8-.9-.1zM344.5 458.1l.7.3 2.8 7.9-.8-.2zM345.2 458.4l.8.3 2.8 8.1-.8-.5zM346 458.7l.8.4 2.9 8-.9-.3zM302.8 468l2.9-7.8 1-.8-2.9 7.9z"/><path fill="#15aed8" d="M314.2 458.6l2.5-7.8 1.2 1-2.5 7.5zM303.1 463.3l2.6-7.5 1.2-1.8-2.6 7.8z"/><path fill="#0cbac3" d="M322.4 449.2l2-5.8 1.7 3.2-2.1 5.3zM316.6 451.2l2.2-7.4 1.2 1.2-2.2 7.2z"/><path fill="#0cb7c3" d="M329.1 446.7l1.7-3.2 2.1 5.9-1.7 2.6zM335.2 445.4l1.2-1 2.3 7.4-1.3.8zM345.1 447.4l1.2 1.8 2.2 7.2-1.2-1.6zM346.9 449.1l1.6 4.3 2 5.4-1.5-3.8z"/><path fill="#12babd" d="M325.7 446.7l1.9-4.3 1.9 4.4-1.9 4zM336.3 444.4l1.1-.9 2.3 7.6-1.1.7zM344.1 445.9l1.1 1.5 2.2 7.4-1.1-1.3z"/><path fill="#12b1d8" d="M313.2 458.2l2.5-8 1.1.6-2.5 7.8z"/><path fill="#12aed8" d="M338.5 451.4l1.1-.7 2.4 8.1-1.1.2zM346.2 453.1l1 1.3 2.6 7.7-1-1.1z"/><path fill="#0fb7c9" d="M317.7 452.2l2.2-7.2 1.3 1.7-2.2 6.8zM334 446.9l1.3-1.5 2.2 7.2-1.3 1.2zM346.2 449.2l1.4 2.4 2.1 6.9-1.3-2.1z"/><path fill="#21c0ae" d="M320.9 447.1l2.1-6.3 1.6 2.6-2 5.8zM313.8 449.9l2.2-7.9 1 .4-2.2 7.7zM339.9 442.8l.9.2 2.2 7.9-.9-.1zM340.7 443l.9.4 2.2 7.9-.9-.4z"/><path fill="#1ec0b1" d="M330.6 443.5l1.6-2.4 2.1 6.2-1.6 2.1zM339.1 442.8l.9 0 2.2 8-.9 0zM341.5 443.4l.9.5 2.3 7.9-1-.5zM307.8 453l2.2-7.6 1.1-1.3-2.2 7.8zM345.5 445.7l1.4 3.4 2.1 5.9-1.3-3zM304.7 455.6l2.1-5.8 1.5-3.8-2 6.2z"/><path fill="#30c69f" d="M324.2 443.7l1.9-5 1.7 3.8-1.9 4.4zM319.8 445.4l2-6.6 1.4 2-2.1 6.3zM306.2 452.2l2-6.2 1.5-3-2 6.5z"/><path fill="#2dc69f" d="M327.4 442.5l1.7-3.8 1.9 5.1-1.7 3.2zM332 441.1l1.4-1.9 2 6.6-1.3 1.5zM344.3 443l1.2 2.7 2.2 6.3-1.4-2.4z"/><path fill="#12b4d2" d="M311.5 457.8l2.4-8.3 1 .2-2.5 8.2zM306.5 459.8l2.4-8.3 1-.8-2.3 8.3z"/><path fill="#15bdba" d="M315.6 450.6l2.2-7.7 1.1.9-2.2 7.4z"/><path fill="#48c987" d="M328.9 438.8l1.7-2.9 1.8 5.6-1.6 2.4zM343.8 440.6l1.4 3.8 1.9 5.1-1.5-3.4zM308.1 446.4l1.9-5.3-1.5 4.3-1.9 4.8z"/><path fill="#4bc987" d="M322.8 441.1l1.9-5.3 1.6 3-1.9 5z"/><path fill="#0fb4d2" d="M310.6 457.8l2.5-8.4.9.1-2.4 8.3zM309.8 457.8l2.5-8.3.9-.1-2.5 8.4zM307.5 459l2.3-8.3 1-.6-2.6 8.3z"/><path fill="#54c97e" d="M325.9 438.9l1.7-4.1 1.7 4.1-1.7 3.9z"/><path fill="#3fc990" d="M318.7 444.2l2-6.8 1.2 1.4-2 6.6zM307.6 449.5l2-6.5 1.3-2.4-2 6.8z"/><path fill="#3cc993" d="M333.3 439.2l1.3-1.4 1.9 7-1.2 1zM343.2 440.9l1.2 2.1 2 6.6-1.2-1.8z"/><path fill="#1bbdb4" d="M314.7 450.1l2.2-7.7 1 .5-2.2 7.7zM338.2 443l1-.2 2.2 8-1 0zM342.3 443.9l1 .9 2.2 7.7-.9-.7z"/><path fill="#18bdb7" d="M337.3 443.5l1-.5 2.2 7.8-.9.3zM343.2 444.8l1 1.1 2.2 7.6-1-1zM306.7 454.4l2.2-7.4 1.2-1.6-2.2 7.6z"/><path fill="#12b1d2" d="M342 450.4l.8.1 2.6 8.3-.7-.3zM342.8 450.5l.8.4 2.6 8.2-.8-.3zM305.5 460.6l2.4-8 1.1-1.1-2.4 8.3z"/><path fill="#60c972" d="M330.4 435.9l1.3-2.1 1.9 5.8-1.4 1.9zM315.1 442.2l2-7.3.9.2-2 7.3zM342.6 437.6l1.2 3 1.9 5.5-1.3-2.7z"/><path fill="#63c96f" d="M321.6 439.2l2-5.7 1.3 2.3-1.9 5.4zM314.3 442.3l2-7.3.9-.1-2 7.3zM311.8 443.6l2-7.2 1-.8-2 7.3zM308.1 446.4l1.8-5.3 1.5-3.4-1.8 5.7z"/><path fill="#75c960" d="M327.4 434.9l1.6-3.2 1.8 4.5-1.7 2.9zM324.5 436.1l1.7-4.5 1.6 3.3-1.7 4.2zM320.6 437.8l1.8-6 1.4 1.7-2 5.7z"/><path fill="#4bc984" d="M317.7 443.3l2-6.9 1.1 1-2 6.8z"/><path fill="#48c98a" d="M334.5 437.8l1.1-.9 1.9 7-1.1.9zM342.2 439.4l1.1 1.5 2 6.9-1.1-1.5z"/><path fill="#4557f3" d="M291.5 484.1l3.4-5 1.6-1.6-3.4 5.4z"/><path fill="#24c0ab" d="M313 449.8l2.2-8 .9.2-2.2 7.9zM308.8 451.9l2.2-7.8 1-.9-2.2 7.9z"/><path fill="#72c963" d="M331.6 433.8l1.2-1.6 1.9 6-1.3 1.4zM341.5 435.4l1.2 2.2 1.8 5.8-1.2-2.1z"/><path fill="#54c97b" d="M316.8 442.8l2-7.2 1 .8-2 6.9z"/><path fill="#51c981" d="M335.5 436.9l.9-.5 2 7-1 .5zM341.3 438l1 1.4 2 6.9-1-1.1z"/><path fill="#90c94b" d="M328.8 431.8l1.4-2.4 1.7 4.8-1.3 2.1zM341.1 433.1l1.2 3.3 1.7 4.6-1.2-3z"/><path fill="#93c94b" d="M323.4 433.9l1.6-4.8 1.4 2.6-1.7 4.5zM318.7 436l1.9-6.3.9.9-1.8 6.2zM309.8 441.5l1.6-4.5 1.5-3.6-1.6 4.7z"/><path fill="#9cc645" d="M326 431.8l1.6-3.6 1.6 3.7-1.6 3.3zM317.8 435.5l1.8-6.3 1.1.5-1.9 6.3zM336.3 430l.9.1 1.8 6.4-.9-.2zM337.1 430.1l.9.4 1.8 6.4-.9-.4z"/><path fill="#27c3a8" d="M312.2 449.9l2.2-8 .9-.1-2.2 8zM311.5 450.1l2.1-8 .9-.2-2.2 8zM310.6 450.5l2.2-8 .9-.4-2.1 8z"/><path fill="#87c954" d="M319.6 436.8l1.8-6.2 1.1 1.2-1.8 6z"/><path fill="#81c957" d="M332.7 432.2l1.1-1.1 1.9 6.2-1.1.9zM340.5 433.5l1.1 1.9 1.8 5.9-1.1-1.5z"/><path fill="#5dc975" d="M315.9 442.4l2-7.3 1 .5-2 7.2zM310.9 444.5l2-7.1 1-1-2 7.2z"/><path fill="#57c97b" d="M336.3 436.4l1-.4 2 7.2-1 .2zM340.5 437.1l.9.9 2 7.2-1-.9zM309.9 445.8l2-7.1 1.1-1.3-2 7.1z"/><path fill="#abc639" d="M322.2 432.2l1.7-5 1.3 1.9-1.6 4.8zM311.2 438.1l1.6-4.7 1.3-2.9-1.5 5z"/><path fill="#a8c63c" d="M330 429.4l1.3-1.9 1.7 5.1-1.3 1.6zM315.5 435.6l1.7-6.4.9-.3-1.8 6.5zM314.6 436l1.8-6.3.9-.5-1.7 6.4zM340 430.6l1.2 2.5 1.6 4.9-1.2-2.2z"/><path fill="#bdc339" d="M324.8 429.4l1.6-3.9 1.4 2.8-1.6 3.7zM321.3 431l1.6-5.2 1.2 1.4-1.7 5z"/><path fill="#bac339" d="M327.4 428.3l1.4-2.6 1.6 4-1.4 2.4z"/><path fill="#5ac978" d="M337.2 436l.9-.1 2 7.3-.9 0zM338 435.9l.9.2 2 7.3-.9-.2zM338.8 436.1l.9.4 2 7.3-.9-.4zM339.6 436.5l1 .6 1.9 7.2-.9-.5z"/><path fill="#8dc94e" d="M333.7 431.1l1-.7 1.8 6.4-.9.5zM339.6 432.2l1 1.3 1.8 6.3-1-1.4z"/><path fill="#b7c339" d="M331.2 427.5l1.1-1.1 1.6 5.1-1.1 1.1zM339 428.7l1.1 1.9 1.6 5.2-1.1-1.9z"/><path fill="#96c948" d="M334.6 430.4l1-.3 1.8 6.3-1 .4zM338.7 431.2l1 1 1.8 6.2-.9-.9zM311.8 439.1l1.8-6.1 1.1-1.5-1.8 6.3z"/><path fill="#d5bd36" d="M323.7 427.5l1.6-4 1.3 2.1-1.6 3.9zM314.5 431.9l1.6-5.2 1-1.2-1.5 5.3zM312.7 433.8l1.6-3.9 1.2-3.1-1.6 4.1z"/><path fill="#d2bd36" d="M328.6 425.8l1.3-2.1 1.6 4.1-1.3 2zM319.5 429.6l1.6-5.2 1 .5-1.5 5.2zM334 425.1l.9-.2 1.6 5.5-.9.1zM334.8 424.9l.9.2 1.6 5.4-.9-.1zM335.6 425.1l1 .4 1.5 5.4-.9-.4zM336.5 425.5l.8.7 1.6 5.4-.9-.7zM338.6 426.8l1.1 2.7 1.6 4-1.1-2.5z"/><path fill="#dbbd36" d="M326.2 425.7l1.4-2.9 1.4 3.1-1.4 2.7zM317.9 429.3l1.7-5.4.8.1-1.6 5.4zM316.3 430.1l1.6-5.4.9-.5-1.6 5.4zM315.5 430.8l1.5-5.3 1-.8-1.6 5.4z"/><path fill="#24c3ab" d="M309.7 451.1l2.2-7.9 1-.7-2.2 8z"/><path fill="#66c96f" d="M313.5 442.5l2.1-7.3.8-.2-2 7.3zM312.7 442.9l2-7.3 1-.4-2.1 7.3z"/><path fill="#c9c036" d="M320.5 430.1l1.5-5.2 1 .9-1.6 5.2z"/><path fill="#c3c036" d="M332.2 426.4l1-.9 1.6 5.3-1 .7zM338.1 427.2l1 1.5 1.6 5.2-1-1.3z"/><path fill="#99c945" d="M335.5 430.1l.9-.1 1.8 6.3-.9.1zM337.9 430.5l.9.7 1.9 6.3-1-.6z"/><path fill="#a2c63f" d="M317 435.3l1.8-6.3.9.2-1.8 6.3z"/><path fill="#e1ba39" d="M322.7 426.2l1.6-4.2 1.2 1.5-1.6 4.1zM329.7 423.7l1.2-1.3 1.6 4.4-1.2 1.1zM337.6 424.8l1 2 1.6 4.2-1-1.9z"/><path fill="#edb73c" d="M325.1 423.8l1.5-3.2 1.2 2.3-1.4 3zM321.8 425.3l1.6-4.3 1.1 1-1.6 4.2zM315 428.8l1.7-4.3 1-1.7-1.7 4.3z"/><path fill="#eab73c" d="M327.4 422.9l1.3-2.1 1.4 3.2-1.3 2.1z"/><path fill="#ccc036" d="M333.1 425.5l1-.4 1.6 5.4-1 .3zM337.2 426.2l1 1 1.6 5.4-1-1zM313.5 433.4l1.6-5 1.1-1.7-1.6 5.2z"/><path fill="#a5c63c" d="M316.2 435.4l1.8-6.5.9.1-1.8 6.3z"/><path fill="#eaba39" d="M330.8 422.4l1-.9 1.5 4.4-1 .9zM336.7 423.2l.9 1.6 1.6 4.3-1-1.5z"/><path fill="#d8bd36" d="M318.7 429.4l1.6-5.4.9.4-1.6 5.2z"/><path fill="#f6ba3c" d="M324.1 422.3l1.5-3.3 1.2 1.7-1.5 3.2zM319.5 424.3l1.4-4.4.9.1-1.5 4.4zM316.9 425.9l1.5-4.4 1-.8-1.5 4.4zM315.3 427.2l1.3-3.2 1.2-2.4-1.2 3.3z"/><path fill="#f6b73c" d="M328.5 420.9l1.2-1.5 1.4 3.3-1.2 1.4zM320.2 424.4l1.5-4.4 1 .4-1.6 4.4zM336.5 421.7l1.1 2.1 1.2 3.4-1.1-2z"/><path fill="#f9bd3c" d="M326.4 420.8l1.2-2.3 1.3 2.5-1.3 2.2z"/><path fill="#f3b73c" d="M321 424.8l1.6-4.4.9.6-1.5 4.3zM332.6 421l1-.1 1.4 4.4-.9.2zM333.5 420.9l.8.1 1.5 4.5-.9-.2zM334.2 421l.9.4 1.6 4.5-1-.4zM335 421.4l.9.8 1.5 4.4-.7-.7zM316 427.1l1.7-4.3.8-1.3-1.5 4.4z"/><path fill="#f0b73c" d="M331.7 421.5l1-.5 1.5 4.5-1 .4zM335.8 422.2l1 1 1.5 4.4-1-1z"/><path fill="#18a8db" d="M301.8 465.3l2.5-7.1 1.4-2.4-2.6 7.5z"/><path fill="#fcc039" d="M323.2 421.4l1.4-3.5 1.2 1.1-1.5 3.4zM316.5 424.9l1.2-3.3 1.1-1.8-1.2 3.4z"/><path fill="#f9bd39" d="M329.5 419.4l1.1-1 1.4 3.5-1.1.9zM335.5 420.1l1.1 1.6 1.2 3.5-1-1.6z"/><path fill="#ffc636" d="M325.4 419.3l1.2-2.5 1.2 1.8-1.2 2.4zM332.2 417.6l.9.2 1.3 3.6-.8-.1zM333 417.8l.9.4 1.3 3.6-.9-.4zM317.5 423.2l1.2-3.4 1-1.3-1.4 3.4z"/><path fill="#ffc339" d="M327.4 418.6l1.2-1.6 1.3 2.7-1.2 1.5z"/><path fill="#debd36" d="M317.1 429.6l1.6-5.4 1-.3-1.7 5.4z"/><path fill="#a5c63f" d="M313.7 436.8l1.9-6.4.9-.7-1.8 6.3z"/><path fill="#ffc336" d="M322.4 420.8l1.3-3.6 1.1.7-1.4 3.5zM331.5 417.8l.8-.2 1.4 3.7-1 .1zM333.8 418.2l.9.8 1.3 3.6-.9-.8z"/><path fill="#fcc339" d="M330.4 418.4l1.2-.6 1.3 3.6-1.1.5zM334.6 419l1 1.1 1.3 3.5-1-1z"/><path fill="#0fbac0" d="M305.5 456.2l2.2-7.1 1.3-2.1-2.2 7.4z"/><path fill="#fccc33" d="M324.4 418.2l1.3-2.5 1.1 1.2-1.2 2.5zM317.6 422l1.3-2.6 1-1.9-1.3 2.7z"/><path fill="#fcc933" d="M328.4 417.1l1.2-1.1 1.2 2.7-1.1 1.1zM320.8 420.3l1.3-3.5.9.1-1.3 3.5zM320 420.5l1.3-3.5.9-.2-1.3 3.5zM319.2 421.1l1.5-3.5.7-.6-1.3 3.5zM334.5 417.7l.8 1.7 1.4 2.7-1.1-1.6z"/><path fill="#fccc30" d="M326.4 417l1.2-1.6 1.2 1.8-1.2 1.7z"/><path fill="#9fc642" d="M312.8 437.8l1.8-6.3 1.1-1.1-1.9 6.4z"/><path fill="#fcc636" d="M321.6 420.4l1.3-3.5.9.3-1.2 3.6z"/><path fill="#4ec984" d="M308.8 447.4l2-6.8 1.2-1.9-2 7.1z"/><path fill="#fccf30" d="M323.5 417.6l1.3-2.7 1.1.9-1.3 2.5zM329.4 416l1-.6 1.4 2.8-1.2.6zM333.5 416.5l1.1 1.2 1.1 2.8-1-1.1zM318.6 420.2l1.2-2.7 1-1.3-1.2 2.7z"/><path fill="#f9ba3c" d="M318.6 424.6l1.5-4.5.9-.2-1.4 4.4zM317.8 425.1l1.5-4.4.9-.6-1.5 4.5z"/><path fill="#fcd52d" d="M325.5 416l1.2-2 1.1 1.6-1.2 1.6zM321.9 417.2l1.3-2.8 1 .1-1.3 2.8zM319.5 418.9l1.2-2.7 1-1-1.1 2.8z"/><path fill="#fcd22d" d="M327.4 415.5l1.2-1.3 1.2 2.1-1.2 1.1zM322.7 417.3l1.3-2.8 1 .4-1.3 2.7zM331.1 415.2l.9.2 1.2 2.8-.9-.2zM331.9 415.4l.9.3 1.2 2.9-.9-.4z"/><path fill="#0fb7c6" d="M304.1 458.6l2.2-6.8 1.5-2.7-2.2 7.1z"/><path fill="#fcd230" d="M330.2 415.4l1-.2 1.3 2.8-.9.2zM332.7 415.7l.9.8 1.2 2.9-.9-.8z"/><path fill="#f9d82a" d="M324.6 415.2l1.2-1.8 1.1.7-1.2 2zM328.4 414.3l1-.7 1.2 2.1-1 .7zM332.5 414.7l1.1 1.2 1.1 2.2-1.1-1.2z"/><path fill="#f9db27" d="M326.5 414.2l1.1-1.2 1.2 1.4-1.2 1.4zM329.2 413.6l1-.2 1.2 2.2-1 .2zM330 413.4l1 .1 1.2 2.3-1-.2zM330.8 413.5l1 .4 1.2 2.2-1-.3zM331.7 413.9l.9.8 1.1 2.2-.9-.8z"/><path fill="#8ac951" d="M310.7 441l2-5.9 1-2.1-1.8 6.1z"/><path fill="#f9de27" d="M323.8 414.8l1.2-2 1 .7-1.2 1.8zM320.6 416.6l1.1-2.1 1-.9-1.1 2z"/><path fill="#f9e124" d="M325.6 413.7l1.1-1.6 1.1 1.1-1.1 1.2zM327.4 413.1l1.2-.7 1 1.5-1 .7zM322.2 415.1l1.2-2.1 1-.2-1.2 2z"/><path fill="#fcd52a" d="M321.2 417.4l1.2-2.7.9-.3-1.2 2.8zM320.5 418l1.1-2.8.9-.5-1.2 2.7z"/><path fill="#78c960" d="M309.5 443.4l1.8-5.7 1.4-2.6-1.9 5.9z"/><path fill="#f9de24" d="M323 414.8l1.2-2 1 0-1.2 2.1zM321.4 415.6l1.2-2 1-.6-1.2 2.1z"/><path fill="#f9e424" d="M328.4 412.5l.9-.4 1.1 1.6-1 .3zM330.7 412.6l1 .8 1.1 1.7-1-.8z"/><path fill="#f9e421" d="M324.8 413.1l1.1-1.4 1 .5-1.1 1.6zM329.1 412.1l1 .1 1.1 1.7-1-.1zM329.9 412.2l1 .4 1.1 1.7-1-.4zM321.5 414.9l1-1.5 1.3-1-1.2 1.6z"/><path fill="#f9e721" d="M326.5 412.3l1.1-.8 1.2 1.1-1.2.8zM324 413.1l1.1-1.5 1 .2-1.1 1.4zM323.2 413.4l1.1-1.5 1-.3-1.1 1.6zM322.4 414l1.3-1.6.8-.5-1.2 1.5z"/><path fill="#fcc936" d="M318.3 421.9l1.3-3.4 1.1-.9-1.4 3.5z"/><path fill="#bdc336" d="M312.5 435.5l1.5-5 1.2-2.1-1.6 5z"/><path fill="#f9ea1e" d="M327.4 411.6l1-.4 1.1 1.2-.8.4zM325.7 411.9l1.1-.9 1 .7-1.1.8zM328.2 411.3l1 .1 1.1 1.1-1 0zM329 411.5l.9.3 1.2 1.1-.9-.3z"/><path fill="#f9ed1e" d="M324.9 411.9l1.1-1 1 .2-1.1 1z"/><path fill="#e4ba39" d="M313.9 430.9l1.5-4.1 1.3-2.3-1.7 4.3z"/><path fill="#f9ed1b" d="M326.6 411.2l1-.4 1 .6-1 .5zM324.1 412.2l1.2-1 .9-.2-1.2 1z"/><path fill="#0cb7c6" d="M303 459.6l2.1-5.2 1.7-4.6-2 5.8z"/><path fill="#f9f01b" d="M325.8 411.1l1-.4 1 .3-1 .4zM327.4 410.9l1 0 1 .8-1-.1z"/><path fill="#f9d827" d="M319.7 417.9l1.2-2 .9-1.4-1.2 2.1z"/><path fill="#f9f31b" d="M326.6 410.9l1-.2 1 .4-1 .1z"/></g>
<g opacity="0.80" shape-rendering="crispEdges"><path fill="#3f2db4" d="M372.4 488.2l1.4.6-4.6-.2-1.4-.8zM282.8 488.2l4.6-.7-1.4.8-4.6.6zM373.8 488.8l1.5.6-4.6-.2-1.5-.6zM281.4 488.8l4.6-.5-1.5.7-4.6.4zM279.9 489.4l4.6-.4-1.7 1-4.6.1zM375.3 489.3l1.7.8-4.6.1-1.7-1zM379.2 493.2l2.6 1.4-4.3.4-2.6-1.9zM273.4 494.1l4.4-.1-3.1 1.9-4.2-.1zM271.4 497.2l3.7 0-3.7 2.2-3.7-.3zM267.7 500.8l3.2.3-4.4 2.1-3.3-.5zM377.6 501.4l4.2 2.7-2.7.7-4.2-3.2zM372.4 505.5l4.6 3.2-1.8.6-4.5-3.4zM370.7 505.8l4.6 3.4-1.6.6-4.5-3.6zM369.2 506.1l4.6 3.6-1.4.4-4.6-3.6zM367.8 506.4l4.6 3.6-1.2.5-4.6-3.7zM354.5 510.9l4.5 3.8-1.5.7-4.5-3.7zM353.1 511.6l4.5 3.7-1.6.7-4.5-3.5zM351.6 512.4l4.5 3.5-1.8.9-4.5-3.6zM337.1 514.7l4.1 3.2-3 1.4-4.1-2.7zM327.6 515.4l3.7 2.8-3.7 1.8-3.7-2.4zM317.2 517.1l3.2 2.3-4.5 1.9-3.2-2.1z"/><path fill="#3f2db1" d="M377 490l1.9.9-4.5.3-2-1.1zM278.2 490l4.6-.1-1.9 1-4.5 0zM380.6 496.4l3.4 1.8-3.7.7-3.4-2.4zM380.3 498.5l3.7 2.2-3.4.7-3.7-2.7zM267.9 498.8l3.7.3-4 2.1-3.7-.6zM374.5 505.2l4.4 3-2 .6-4.5-3.2zM349.9 513.1l4.5 3.6-2 .8-4.5-3.3zM324.1 517.4l3.7 2.4-4 1.8-3.8-2.2z"/><path fill="#3f2ab1" d="M276.4 490.8l4.5 0-2.1 1.2-4.6-.2zM378.9 490.8l2.1 1-4.6.5-2-1.2zM381.7 494.4l3.1 1.6-4.3.8-3-2.1zM270.6 495.5l4.2.1-3.3 2-4.1-.6zM264.2 500.4l3.6.6-4.5 1.9-3.7-.7zM380.5 501l4.3 2.4-3.1.8-4.2-2.7zM376.5 504.8l4.5 2.9-2.2.6-4.4-3zM348 514.1l4.5 3.3-2.2 1-4.5-3.1zM334.3 516.4l4 2.7-3.3 1.7-4.1-2.6zM320.2 519.2l3.8 2.2-4.4 1.8-3.8-2.1z"/><path fill="#4233c0" d="M371.1 489.3l1.7.9-4.3-1.3-1.6-1.3zM274.7 498.9l3.1-.4-4.3 2.8-3 0zM273.8 500.9l2.6-.1-4.5 2.6-2.7-.1zM368.6 501.6l4.2 4.2-1.8.4-4.1-4.5zM346.1 508.9l4.1 4.5-2 1.1-4.1-4.3zM318 512.5l3.1 2.7-4.1 2.3-3-2.3zM311.7 513l2.7 2.2-4.5 2.3-2.7-1.9z"/><path fill="#3f33bd" d="M372.8 490.1l2 1.1-4.4-1-1.9-1.4zM280.5 490.8l4.3-1.3-2.2 1.4-4.2 1.1zM375.3 493l2.6 1.9-3.8-.4-2.7-2.5zM277.5 493.9l3.7-1-3 2.5-3.8.4zM274.9 497.1l3.4-.5-3.7 2.7-3.4 0zM374.1 498.4l3.8 3.3-2.7.2-3.8-3.8zM370.5 501.5l4.3 4-2.1.4-4.2-4.2zM344.2 510.1l4.1 4.3-2.2 1.2-4.2-4zM333.7 511.1l3.7 3.9-3.1 1.8-3.7-3.2zM324.4 512.6l3.4 3-3.7 2.2-3.4-2.6z"/><path fill="#3f2aae" d="M274.2 491.7l4.6.2-2.4 1.4-4.6-.6zM381 491.6l2.4 1.1-4.6.9-2.4-1.4zM383.4 492.5l2.6 1.3-4.6 1-2.6-1.4zM271.8 492.5l4.6.6-2.6 1.4-4.6-.7zM269.2 493.6l4.6.7-3 1.6-4.4-1zM384.7 495.8l3.1 1.6-4.1 1-3.3-1.8zM267.6 496.8l4 .6-3.7 1.8-4-.8zM264.1 498.2l4 .8-4 1.8-4.1-.9zM383.8 498l3.7 1.8-3.7 1-3.7-2.1zM383.7 500.4l4.1 2.2-3.1.9-4.3-2.4zM381.5 503.8l4.5 2.4-2.7.8-4.5-2.5zM378.9 504.4l4.5 2.5-2.5.9-4.5-2.9zM345.9 515.2l4.5 3.1-2.5 1-4.5-2.8zM343.5 516.4l4.5 2.7-2.7 1.3-4.5-2.6zM340.9 517.6l4.5 2.6-3 1.3-4.5-2.4zM331.1 518l4.1 2.6-3.8 1.5-4-2.3zM327.6 519.6l4 2.3-4 1.7-4-2.2z"/><path fill="#3f30ba" d="M374.8 491.1l2 1.2-4.2-.6-2.2-1.6zM278.4 491.8l4.2-1-2.3 1.7-4.3.7zM377.1 496.4l3.4 2.4-3.4.2-3.4-3.1zM270.8 501l3 0-4.5 2.4-2.9-.3zM372.7 501.5l4.1 3.6-2.1.5-4.3-4zM342 511.5l4.2 4-2.5 1.3-4.1-3.7zM314.3 515l3 2.3-4.5 2.1-3-2.1z"/><path fill="#3f2db7" d="M376.8 492.1l2.4 1.4-4.3-.1-2.3-1.9zM276 493l4.3-.7-2.5 2-4.4.1zM375 501.5l4.2 3.2-2.5.5-4.1-3.6zM366.6 506.7l4.6 3.7-1.1.4-4.6-3.8zM365.5 506.9l4.6 3.8-1 .5-4.6-3.9zM356.7 509.9l4.6 3.9-1.1.5-4.6-3.8zM355.7 510.4l4.5 3.8-1.3.6-4.5-3.8zM339.7 513l4.1 3.7-2.7 1.3-4.1-3.2z"/><path fill="#3f27ab" d="M385.9 493.6l3 1.3-4.4 1.3-3.1-1.6zM388.8 494.7l3.2 1.4-4.5 1.5-3.1-1.6zM266.5 494.7l4.4 1-3.2 1.5-4.5-1.1zM391.9 495.9l3.7 1.5-4.6 1.6-3.6-1.6zM263.3 495.9l4.5 1.1-3.6 1.6-4.6-1.2zM259.8 497.2l4.5 1.2-4.1 1.7-4.4-1.3zM387.6 497.2l3.7 1.6-4 1.2-3.7-1.8zM391.1 498.6l4.1 1.6-4.1 1.4-4-1.8zM256 498.6l4.4 1.3-4.4 1.7-4.4-1.3zM387.3 499.6l4 1.8-3.7 1.4-4-2.2zM391 501.2l4.6 1.8-3.7 1.4-4.5-1.8zM387.5 502.4l4.5 1.8-3.2 1.2-4.4-2.1zM384.5 503.1l4.4 2.1-3 1.1-4.5-2.3zM338 518.9l4.5 2.4-3.2 1.5-4.5-2.2zM335 520.4l4.4 2.2-3.8 1.4-4.4-2.1zM331.4 521.7l4.4 2.1-4 1.6-4.4-2zM327.6 523.2l4.4 2-4.4 1.7-4.4-2z"/><path fill="#4239c9" d="M370.8 490.3l2.2 1.4-4-1.7-2.1-2zM282.2 491l4-2.3-2.4 2.1-3.9 1.7zM371.8 491.9l2.6 2.5-3.5-1-2.7-3.2zM370.9 495l3.5 3.7-2.8-.3-3.4-4.5zM369.1 497.5l3.9 4.3-2.3.1-3.8-4.9zM359.8 502.4l4.2 5.5-1 .2-4.1-5.4zM359 502.7l4.1 5.4-.9.3-4.1-5.5zM358.2 502.9l4.1 5.5-.9.2-4-5.5zM357.5 503.1l4 5.5-.8.3-4.2-5.5zM356.6 503.4l4.2 5.5-1 .3-4.2-5.5zM355.7 503.7l4.2 5.5-1 .3-4.1-5.5zM354.9 504l4.1 5.5-1 .4-4.2-5.5zM353.9 504.4l4.2 5.5-1.1.4-4.2-5.4zM338.6 506.9l3.7 4.9-2.4 1.6-3.8-4.3z"/><path fill="#4236c3" d="M373 491.6l2.3 1.7-3.9-1.1-2.4-2.3zM279.9 492.3l3.9-1.6-2.6 2.5-3.8 1zM278.1 495l3.4-1.1-3.4 3-3.4.5zM371.5 498l3.8 3.8-2.4.1-3.9-4.3zM365.5 501.7l4.1 4.8-1.5.3-4.1-5zM349.3 506.9l4.1 5-1.6.9-4.1-4.9zM336.3 509l3.7 4.3-2.8 1.8-3.7-3.9zM327.6 509.9l3.4 3.7-3.4 2.2-3.4-3z"/><path fill="#4545de" d="M367.3 488.3l2.1 1.9-3.5-2.6-2.2-2.9zM285.8 489l3.5-3.5-2.3 2.9-3.6 2.6zM284.3 492.2l2.7-1.8-3.5 4.4-2.7 1.1zM366 492.7l3.4 5.2-2.2-.5-3.5-5.8zM360.6 495.8l3.8 6.4-1.3.1-3.9-6.5zM359.3 495.8l3.9 6.5-1.2.2-3.9-6.7zM287.4 499.6l1.2.2-4.6 3.7-1.2-.3zM288.6 499.7l1.2.2-4.7 3.7-1.1-.2zM348.3 499.1l3.8 6.7-1.3.7-3.8-6.6zM347.1 499.9l3.8 6.6-1.4.8-3.8-6.4zM298.5 502.9l1.1.7-4.6 3.7-1.1-.6zM335.6 501.6l3.2 5.6-2.5 2.2-3.4-4.9zM299.5 503.5l1.3 1-4.5 3.5-1.3-.8zM322.1 502.7l2.8 3.9-3.3 3.4-2.9-3.1z"/><path fill="#423fd5" d="M369.4 490l2.4 2.3-3.6-1.9-2.3-3zM283.4 490.8l3.6-2.6-2.6 3.2-3.6 1.7zM368.3 493.9l3.5 4.5-2.6-.5-3.3-5.2zM333.1 504.4l3.4 4.9-2.8 2.2-3.3-4.3z"/><path fill="#4854f3" d="M364 485.1l2.3 2.7-3.3-3.6-2-3.4zM288.9 485.9l3.3-4.2-2.3 3.6-3.3 3.3zM363.2 487.5l3.1 5.6-2.4-1.1-2.9-6.3zM332.6 495.8l3.2 6.1-2.7 2.9-3.1-5.5z"/><path fill="#3f30b7" d="M377.8 494.6l3 2.1-3.8.1-3-2.6zM274.5 495.5l3.8-.4-3.4 2.4-3.7 0zM377 498.6l3.8 2.7-3.1.5-3.7-3.3zM271.5 499l3.3 0-4.2 2.4-3.2-.3zM364.5 507.2l4.6 3.9-.9.4-4.6-3.9zM363.6 507.5l4.6 3.9-.9.4-4.6-4zM362.7 507.7l4.6 4-.8.3-4.6-3.9zM361.9 508l4.6 3.9-.7.4-4.7-4zM361.1 508.2l4.7 4-.9.4-4.5-4zM360.4 508.5l4.5 4-.8.4-4.6-4zM359.5 508.8l4.6 4-.9.4-4.6-4zM358.6 509.1l4.6 4-.9.4-4.6-3.9zM357.7 509.5l4.6 3.9-1 .5-4.6-3.9zM330.8 513.4l3.7 3.2-3.4 1.8-3.7-2.8zM320.9 515l3.4 2.6-4.1 2-3.3-2.3z"/><path fill="#454bea" d="M366.3 487.7l2.3 2.8-3.1-2.4-2.5-4zM365.6 489.5l3 4.8-2.5-1.2-3.1-5.6zM289.8 495.4l1.4-.3-4.1 4.9-1.5.1zM304.7 499.8l1.3 1.2-4.1 4.8-1.5-1.1z"/><path fill="#3f66f6" d="M361.3 481.2l2 3.3-2.9-3.7-2.1-4.4zM291.9 482.1l2.8-4.6-2.3 4.6-2.8 3.4zM360.6 482.2l2.7 5.7-2.2-1.8-2.8-6.6zM292.1 483.5l2.1-2.4-2.9 6.1-2.3 1.8zM330 489.8l2.8 6.3-2.6 3.5-2.8-5.5zM320.6 490.4l2.2 3.9-3.1 5.3-2.3-3.3z"/><path fill="#2d87f6" d="M356.7 473.2l1.8 3.6-2.6-4.8-1.8-4.4zM296.7 474l2.5-5.3-2 5.1-2.7 4.1zM356.1 473.5l2.4 6.4-1.9-2.4-2.5-7.1zM299.4 475.7l1.3-1.1-3.1 8.2-1.3.7zM314.1 479.4l1.5 2-3 7.7-1.5-1.7zM329.7 479.4l2.6 6.8-2.3 4-2.6-6.2z"/><path fill="#3f27a8" d="M395.4 497.2l4 1.6-4.4 1.6-4.1-1.6zM399.2 498.6l4.4 1.7-4.4 1.6-4.4-1.7zM395 500l4.4 1.7-4 1.5-4.5-1.8z"/><path fill="#18a5de" d="M352.7 464.3l1.6 3.7-2.3-5.3-1.7-4.3zM329.6 468.4l2.2 7.1-2.1 4.3-2.3-6.6z"/><path fill="#4239cc" d="M280.9 492.8l3.5-1.7-3 3.1-3.5 1.1zM330.6 507.1l3.3 4.3-3.1 2.4-3.4-3.7z"/><path fill="#4236c0" d="M374.3 494.1l3 2.6-3.4-.5-3.1-3.1zM373.9 495.8l3.4 3.1-3.1-.1-3.4-3.7zM367 501.6l4.1 4.6-1.6.3-4.1-4.8zM347.8 507.8l4.1 4.9-1.8.8-4.1-4.5z"/><path fill="#454be7" d="M286.6 488.3l3.3-3.2-2.7 4-3.2 2.3zM363.8 491.6l3.5 5.8-2-.4-3.3-6.4zM288.2 495.6l1.7-.2-4.2 4.7-1.6 0zM337.6 499.2l3.4 6.2-2.4 1.9-3.2-5.6zM305.9 500.9l1.6 1.6-4 4.3-1.7-1.1zM330.2 499.2l3.1 5.5-2.7 2.8-3.2-4.6z"/><path fill="#4545db" d="M368.5 490.1l2.7 3.3-3.2-1.6-2.6-4.1zM284.2 491l3.1-2.3-3.1 3.9-3.1 1.6zM368.1 491.4l3.1 4-2.8-1.1-3-4.8zM284.7 496.6l2.1-.5-4.3 4.2-2 .1zM286 499.7l1.4 0-4.6 3.6-1.4-.1zM300.7 504.4l1.5 1.1-4.5 3.4-1.5-1zM327.6 502.8l3.2 4.5-3.2 3-3.1-3.7zM309.1 503.9l2 2-4.1 3.9-2-1.7z"/><path fill="#455af6" d="M363.3 484.1l2.4 4-2.9-2.7-2.3-4.9zM289.7 485.1l2.7-3.4-2.7 4.8-2.8 2.6zM362.9 485l2.8 4.9-2.5-2-2.7-5.7zM289.8 486.1l2.3-2.6-3.1 5.5-2.4 1.8zM356.2 488.4l3.3 7.8-1.1 0-3.3-8.1zM293.3 489.8l1.5-.4-3.9 6.1-1.4.3zM343.9 492.4l3.4 7.9-1.3 1-3.4-7.7zM308.1 494l1.4 1.4-3.8 5.9-1.3-1.1zM327.6 494l2.8 5.5-2.8 3.7-2.8-4.6zM322.6 494.2l2.6 4.4-3.1 4.5-2.6-3.6z"/><path fill="#337bf6" d="M358.6 476.5l2.1 4.4-2.6-3.6-2.1-5.3zM358.2 476.9l2.5 5.7-2.3-2.7-2.4-6.4zM356.6 477.1l2.7 7.3-1.7-1.4-2.8-7.9zM351.2 479.4l3.1 9-1 0-3-9.2zM350.3 479.2l3 9.2-.8.1-3-9.4zM302.1 481.4l.8 0-3.4 8-.8-.1zM302.9 481.4l.8.1-3.2 8.1-1-.2zM303.7 481.5l.8.3-3.3 8.1-.7-.3zM304.5 481.8l.8.3-3.3 8.1-.8-.3zM344.6 481l2.9 9.3-1.1.7-2.9-9.2zM305.3 482.1l.9.4-3.4 8.1-.8-.4zM343.6 481.8l2.9 9.2-1.2.8-3-9zM306.2 482.5l.8.5-3.4 8.1-.8-.5zM334 482.5l2.8 7.8-2.1 2.8-2.8-7.2z"/><path fill="#2199e7" d="M354.4 467.9l1.8 4.5-2.3-4.2-1.9-5.5zM354 467.8l2.2 6.1-2-3.1-2.2-6.8zM346.9 469.6l2.8 9.9-1 .1-2.7-10zM342.8 470.9l2.7 9.9-.9.6-2.8-9.8z"/><path fill="#0fb4cf" d="M350.5 458.8l1.7 4.3-2.1-4.3-1.6-5.4zM350.2 458.4l2 6-1.8-3.3-1.9-6.7zM348.9 458l2.2 7.9-1.5-1.7-2.1-8.3zM305.6 458.5l1.3-1.5-2.5 8.8-1.3 1.1zM342.9 460.2l2.5 9.9-.8.3-2.6-10zM342.1 460.4l2.6 10-1.1.4-2.4-10zM317.8 460.9l1.3 2.3-2.4 8.4-1.4-2zM332.7 461l2.3 8.2-1.7 2.9-2.3-7.7z"/><path fill="#2dc69f" d="M347.1 449.5l1.6 4.3-2.1-4.6-1.4-4.8z"/><path fill="#75c960" d="M344 441l1.4 3.8-1.8-4.4-1.3-4zM343.8 440.4l1.6 5.4-1.5-3-1.6-5.6zM342.7 440.2l1.8 6.9-1.2-1.5-1.8-7.1zM311.9 440.8l1.1-1.1-2 7.8-1.1.9zM319.7 442.1l1.1 1.7-2 7.6-1.1-1.5z"/><path fill="#bac339" d="M341.4 433.5l1.1 3.3-1.7-3.8-1.1-3.5zM312.8 433.4l1.5-3.5-1.5 4.2-1.5 3.3zM314.6 433.4l1.1-.8-1.9 6.9-1 .6zM320.6 434.4l.9 1.4-1.8 6.7-1-1.3zM327.6 434.6l1.6 4.7-1.6 3.7-1.6-4.4z"/><path fill="#eab73c" d="M338.7 427.2l1.2 2.7-1.5-3.3-.9-2.8z"/><path fill="#ffc339" d="M336.8 422l.9 2.2-1.5-2.5-.9-2.3zM317.7 421.9l1.1-1.5-1.2 3.8-1.1 1.4zM319.3 422.4l.9-.2-1.5 4.8-.9.2zM320.1 422.2l.9.2-1.4 4.7-1-.1zM320.9 422.4l.9.3-1.5 4.9-.8-.5zM321.7 422.7l1 .8-1.6 4.8-.9-.7zM325.6 422.8l1.2 2.3-1.5 3.7-1.2-2.3z"/><path fill="#fcd22d" d="M334.8 418l.7 1.8-1.3-2.1-.7-1.8zM319.8 417.8l1-1-1.2 3.1-1 .9zM333.6 418l1.2 3.5-.9-.4-1.2-3.5zM321.3 418.7l.9.1-1.3 4-.9-.2zM322.1 418.8l.9.4-1.3 3.9-.9-.3zM325.7 418.5l1.1 1.8-1.2 2.9-1.2-1.7z"/><path fill="#f9e124" d="M332.4 415.1l1.4 1.2-1.4-1.2-.8-1.7zM321.7 414.5l1-1.1-1 1.8-1 1.1zM332.6 414.7l1.2 2.1-1.2-.8-1-2.1zM321.7 414.8l1-.6-1.1 2.4-1 .6zM331 415.1l1.2 2.8-1 .2-1.2-2.7zM327.6 415.1l1.2 2-1.2 1.7-1.1-2zM325.8 415.4l1.1 1.3-1.2 2.2-1.1-1.2z"/><path fill="#f9ed1e" d="M323.4 412.7l1.2-.9.8-.6-1.3 1.1zM330 412.2l1.1 1.5-1 .1-1.1-1.7zM324.3 412.5l1 .1-1.1 1.9-1-.1zM328.4 412.4l1.1 1.5-.9.7-1.2-1.6zM325.1 412.6l1 .6-1.1 1.7-1-.5z"/><path fill="#f9ea1e" d="M331.1 412.8l.8 1-1.3-1-.8-1zM323.7 412.4l.9-.6-.9 1.4-1.3.6zM330.8 412.6l1.1 1.7-1-.5-1.1-1.6zM323.7 412.8l.8-.3-1.1 1.9-1 .2zM327.6 412.9l1.2 1.5-1.2 1.1-1.1-1.4zM325.9 413.1l1 .9-1.1 1.8-1-1z"/><path fill="#f9f31b" d="M326 410.9l1-.1-1 .1-1 .6zM328.4 410.9l1 .8-1-.1-1-.8zM328.4 411.2l1 1.2-1 .4-1-1.2z"/><path fill="#f9f01b" d="M329.2 411.8l1 .3-1-.3-1-.8zM325.2 411.2l1-.2-1 .9-1 .2zM329.2 411.4l1 1.1-1 0-1-1.2zM325.2 411.5l1 .2-1.1 1.3-1-.2zM327.6 411.5l1 1.2-1 .6-1-1zM326 411.6l1 .6-1.1 1.3-1-.6z"/><path fill="#484eed" d="M365.6 487.7l2.7 4.1-2.7-1.9-2.9-4.9zM287.2 488.7l2.7-2.6-3.1 4.7-2.8 1.8zM362 490.6l3.3 6.4-1.6-.4-3.4-6.8zM288.2 492.1l2-1-3.7 5.3-2.1.6zM291.1 495.1l1.3 0-4.1 5-1.3-.1zM339.6 497l3.3 6.8-2.1 1.7-3.4-6.3zM303.4 498.9l1.4 1-4.3 4.9-1.3-1zM312.7 499l1.9 2.5-3.8 4.7-2-2zM325 498.4l2.8 4.6-3.1 3.8-2.8-3.9z"/><path fill="#423ccc" d="M371 493l3.1 3.1-3.1-.7-3.1-4zM278.8 500.4l2.1-.2-4.5 3-2.2 0zM307.2 509.4l2.2 1.9-4.5 2.7-2.2-1.8z"/><path fill="#15abdb" d="M352.1 462.7l2 5.5-2-3.8-2-6zM302.7 462.8l1.6-2.4-2.4 8-1.7 1.9zM306.6 464.1l1.1-.3-3 9.4-.9.1zM312.4 465.5l1 1-2.7 9.3-1-.9zM320.4 466l1.7 3.5-2.5 7.5-1.8-3z"/><path fill="#0fb4d2" d="M303.1 459.2l2-4.8-2 5.8-2 4.2zM344.6 460.2l2.4 9.8-.9 0-2.5-9.9zM343.7 460.1l2.5 9.9-.9.1-2.5-9.9zM341.3 460.8l2.4 10-.9.5-2.5-9.9zM327.6 462.4l2.2 6.3-2.2 4.8-2.1-5.7z"/><path fill="#2ac3a2" d="M306.7 449.8l1.8-4.4-1.8 5.4-1.8 4zM327.6 452l1.9 6-1.9 4.8-1.9-5.6z"/><path fill="#dbbd36" d="M339.8 429.5l1.3 3.8-1.3-2.7-1.3-4zM315.1 429.4l1.1-1.3-1.6 5.7-1.1 1.2zM336.6 429.6l1.5 6.4-.9 0-1.6-6.4zM334.9 429.8l1.6 6.5-.9.5-1.6-6.4zM334.1 430.4l1.6 6.4-1 .7-1.6-6.4zM322.9 430.5l1.2 2-1.7 5.5-1.1-1.8z"/><path fill="#12babd" d="M348.6 453.4l1.7 5.4-1.7-4-1.9-5.8zM310.7 454.7l1 .1-2.6 9.4-.9-.1zM311.6 454.8l.8.2-2.5 9.4-.9-.2zM312.3 455l.9.4-2.5 9.4-.9-.4zM313.1 455.4l.9.5-2.4 9.3-1-.4z"/><path fill="#edb73c" d="M315.4 426.8l1.3-2.8-1.3 3.6-1.3 2.7zM338.6 426.6l1.3 4-1.2-2-1.2-4.1zM337.7 426.7l1.5 5.1-1-.9-1.5-5.3zM317.9 426.8l.9-.2-1.6 5.9-.9.1zM320.3 427.2l.9.7-1.6 5.9-.9-.7zM330.9 427.5l1.5 5.3-1.1 1.5-1.6-5.1zM327.6 427.9l1.4 3.9-1.4 3.2-1.4-3.9z"/><path fill="#ffc636" d="M317.7 421.6l1.2-2.2-1.2 2.9-1.2 2.1zM336.4 421.6l1.3 3.3-1.1-1.6-1.3-3.4zM330.6 422.4l1.4 4.2-1.1 1.3-1.4-4.3zM327.6 422.5l1.3 3.1-1.3 2.7-1.2-3.1z"/><path fill="#9cc645" d="M342.4 436.4l1.5 4.4-1.5-3.2-1.5-4.7zM339.7 436.4l1.8 7.4-.9-.4-1.9-7.5z"/><path fill="#3c69f6" d="M360.6 480.5l2.4 4.9-2.4-2.8-2.5-5.7zM292.4 481.7l2.3-3.3-2.7 5.5-2.4 2.6zM357.6 482.6l2.9 7.6-1.7-.7-3-8zM294.9 484.1l1.6-1-3.4 7.1-1.5.6zM338.3 487.6l3.1 8-1.8 1.8-3.2-7.5zM312.7 488.7l1.5 2.1-3.3 6.6-1.8-1.6zM325.2 489l2.6 5.2-2.8 4.6-2.6-4.4z"/><path fill="#f9bd3c" d="M337.6 423.8l1.1 3.2-1.1-2.1-1.3-3.3zM316.6 424l1.2-2.1-1.2 3.7-1.3 2zM317.6 423.8l.9-.9-1.5 4.7-1 .9zM323.4 424.6l1.1 1.6-1.6 4.7-1.1-1.5zM326.6 425l1.2 3.1-1.4 3.3-1.3-2.7z"/><path fill="#f9ed1b" d="M330 411.8l1 1.1-1-.3-1-1.1zM324.4 411.8l1-.3-1.2 1.4-.8.3zM329.2 412.1l1.1 1.6-1 .3-1.1-1.5zM326.8 412.1l1 1-1.1 1.2-1-1z"/><path fill="#3678f6" d="M294.6 477.5l2.5-4.1-2.5 5.4-2.4 3.3zM294.6 478.4l2.3-3.3-2.8 6.4-2.2 2.4zM300.1 481.5l1-.1-3.3 7.9-1 0zM342.4 482.8l3 9-1.4 1-3-8.8zM307.9 483.7l1 .9-3.3 7.8-1-.8zM327.6 483.9l2.6 6.2-2.6 4.3-2.6-5.2zM323.1 484.4l2.3 4.7-2.8 5.5-2.2-3.9z"/><path fill="#f9e721" d="M331.7 413.4l1.1 1.7-1.1-.8-1.1-1.7zM322.6 413.4l1.2-.6-1.2 1.8-1.1.6zM330.9 413.4l1.1 2.2-1-.1-1.1-2.1zM330.1 413.4l1.1 2.1-1 .3-1.1-2.2zM329.3 413.6l1.1 2.2-1 .5-1-2zM326.7 413.9l1.1 1.4-1.1 1.7-1.1-1.4z"/><path fill="#72c963" d="M309.9 441.1l1.6-4.1-1.6 4.9-1.6 3.9zM327.6 442.6l1.7 5.5-1.7 4.3-1.7-5.1z"/><path fill="#f9f318" d="M326.8 410.7l1 .2-1 .5-1-.3zM327.6 410.7l1 .7-1 .5-1-.7zM326 410.9l1 .2-1 .9-1-.2zM326.8 411l1 .7-1 .8-1-.7z"/><path fill="#fccc30" d="M335.4 419.4l1.1 2.6-1.1-1.7-1.1-2.7zM318.8 419.4l1.1-1.6-1.2 3-1.1 1.5zM319.6 419.5l1.1-.6-1.4 3.9-1 .5zM323.7 420l1.1 1.2-1.4 3.8-1-1.1zM326.6 420.2l1.2 2.5-1.2 2.7-1.2-2.4z"/><path fill="#fcd52d" d="M319.8 417.5l1.1-1.6-1.1 2.3-1.1 1.6zM334.4 417.6l1.1 2.7-.9-1.2-1.1-2.7zM332.8 417.6l1.2 3.5-.9-.1-1.2-3.5zM330.4 418.4l1.4 3.4-1.2 1-1.2-3.6zM327.6 418.4l1.2 2.4-1.2 2.1-1.2-2.6z"/><path fill="#54c97e" d="M345.3 444.4l1.6 5-1.6-3.6-1.6-5.4z"/><path fill="#2199ea" d="M299.1 468.7l2.2-4.7-2.2 5.8-2.2 4zM348.7 470l2.7 9.8-1-.2-2.8-9.8zM347.6 469.8l2.9 9.8-.9-.1-2.8-9.9zM341.9 471.6l2.8 9.8-1.1.8-2.8-9.7zM327.6 473.1l2.3 6.6-2.3 4.6-2.2-5.6z"/><path fill="#f9db27" d="M333.6 415.9l.9 2.1-.9-1.2-1.1-2.1zM320.8 415.9l1-1.1-1.1 2.4-1 1zM321.6 416.2l.9-.2-1.2 3.1-.8.2zM322.4 416l.9.1-1.2 3.1-.9-.1zM323.2 416.1l1 .4-1.3 3.1-1-.4zM324 416.5l1 .9-1.3 3-1-.8zM326.7 416.6l1.1 2-1.2 2-1.1-1.9z"/><path fill="#2a8df3" d="M356.1 472l2.2 5.3-2.2-3.4-2.2-6.1z"/><path fill="#bdc339" d="M341 432.9l1.5 4.7-1.3-2.5-1.5-4.9zM340.1 432.8l1.6 6.1-1.1-1.1-1.6-6.4z"/><path fill="#d8bd36" d="M314.2 429.9l1.3-2.7-1.5 4.4-1.3 2.5zM337.3 429.9l1.6 6.4-.9-.3-1.5-6.4zM326.4 431l1.4 3.8-1.6 4-1.4-3.4z"/><path fill="#99c948" d="M311.4 437l1.5-3.3-1.6 5.2-1.5 3zM326.2 438.4l1.6 4.4-1.7 4.7-1.6-4z"/><path fill="#4ec984" d="M308.4 445.4l1.6-3.9-1.8 5.8-1.6 3.5zM334.6 446.6l1.9 8.3-1.2 1.7-2-8.1zM326.1 447.1l1.7 5.1-1.9 5.2-1.7-4.5z"/><path fill="#30c69f" d="M346.8 449l1.9 5.8-1.7-3.2-1.8-6.2zM345.6 448.7l2.1 7.6-1.4-1.7-2-7.9zM308.9 449.2l1.2-1.2-2.2 8.4-1.2 1zM318.8 451l1.2 2.1-2.2 8.2-1.2-1.8zM332.2 450.9l2 7.9-1.5 2.6-2.1-7.5z"/><path fill="#f9e421" d="M331.7 413.9l1.1 2.1-1-.4-1.1-2.2zM322.6 414.2l1-.2-1.2 2.4-1 .2zM323.4 414l1 .1-1.2 2.4-1-.1zM324.2 414.1l1 .4-1.2 2.4-1-.4zM328.6 414.2l1 2-1 1.1-1.2-2.1zM325 414.5l1 1-1.2 2.3-1-1z"/><path fill="#0cbac3" d="M305 454.4l1.8-4-2 6.2-1.8 3.6zM348.6 454.4l1.9 6.7-1.6-2.7-2-7.2zM346.3 454.2l2.2 8.7-1.2-1-2.2-8.9zM308.9 455.4l1-.5-2.3 9.3-1.1.3zM314.8 456.7l1 1-2.5 9.2-1-1zM325.9 457l1.9 5.6-2.1 5.4-1.9-4.8z"/><path fill="#f9d82a" d="M333.6 416.4l1.1 2.7-1.1-.7-1.1-2.8zM320.7 416.8l1-.6-1.1 3.1-1.1.6zM324.8 417.4l1.1 1.1-1.3 3.1-1.1-1.3z"/><path fill="#18a8de" d="M301.2 464l2-4.2-2.2 6.4-2 3.6zM352.1 464l2.2 6.8-1.7-2.7-2.3-7.4zM349.6 463.8l2.5 8.8-1.3-1-2.5-9.1zM304.4 465.4l1.3-.8-2.8 9.2-1.2.4zM314.3 467.7l1.2 1.5-2.7 8.8-1.2-1.2zM325.7 467.6l2.1 5.7-2.2 5.6-2.2-4.9z"/><path fill="#fccc33" d="M335.4 419.9l1.3 3.4-1.1-1.1-1.1-3.5zM328.6 420.6l1.3 3.3-1.2 1.9-1.3-3.2z"/><path fill="#f6ba3c" d="M337.6 424.5l1.2 4.1-1.1-1.5-1.2-4.2zM335.1 424.6l1.6 5.4-1 0-1.5-5.4zM332.7 425.4l1.5 5.4-1 .7-1.5-5.3zM328.7 425.4l1.4 4.1-1.3 2.4-1.4-3.9z"/><path fill="#2d8af6" d="M297 473.4l2.2-4-2.4 6.1-2.3 3.3zM325.6 478.5l2.2 5.6-2.6 5.3-2.3-4.8z"/><path fill="#d5bd36" d="M339.8 430.2l1.5 4.9-1.2-1.9-1.5-5zM333.2 431.1l1.6 6.4-1 1.1-1.6-6.2zM328.8 431.5l1.6 4.9-1.4 3-1.6-4.7z"/><path fill="#eaba39" d="M315.4 427.2l1.3-2-1.6 4.6-1.2 1.8zM317 427.2l1-.4-1.6 5.8-.9.4zM321.1 427.9l1 1.1-1.5 5.8-1.1-1zM325.3 428.4l1.3 2.7-1.6 4.4-1.3-2.7z"/><path fill="#f9de27" d="M332.6 415.6l1.1 2.8-.9-.4-1.1-2.8zM329.4 415.9l1.2 2.9-1 .8-1.2-2.7z"/><path fill="#b7c339" d="M312.8 433.7l1.3-2.5-1.5 5.4-1.4 2.3zM325 435.1l1.4 3.4-1.7 5.1-1.3-3.2z"/><path fill="#93c94b" d="M342.4 437.2l1.6 5.6-1.3-2.2-1.6-5.9zM340.6 437.4l1.8 7.2-1-.8-1.8-7.4zM329 439l1.8 5.7-1.7 3.5-1.7-5.5z"/><path fill="#fccf30" d="M334.6 418.7l1.1 3.5-1-.7-1.2-3.5zM320.6 418.9l.8-.2-1.3 3.9-.9.2zM322.9 419.2l.9.8-1.2 3.9-1.1-.8zM329.6 419.2l1.2 3.6-1.1 1.2-1.3-3.4z"/><path fill="#423ccf" d="M281.4 493.8l3-1.6-3.4 3.7-3.1.9zM281.1 495.5l2.7-1-3.8 3.7-2.6.5zM280.2 497.8l2.4-.5-4.1 3.5-2.5.2zM367 497l3.8 4.9-2 .1-3.8-5.4zM340.8 505.1l3.7 5.3-2.3 1.5-3.8-4.9zM324.7 506.4l3.1 3.7-3.4 2.9-3-3.2zM318.9 506.7l2.9 3.1-3.8 3.1-2.8-2.6zM313.2 507.8l2.4 2.5-4.1 3.1-2.5-2.1z"/><path fill="#6cc966" d="M309.9 441.5l1.5-3-1.8 6.3-1.5 2.5zM324.7 443.2l1.6 4-1.9 5.8-1.6-3.7z"/><path fill="#4bc987" d="M345.3 445.4l1.8 6.2-1.5-2.5-1.8-6.7z"/><path fill="#fcc039" d="M336.6 422.9l1.2 4.2-1-1.1-1.3-4.2zM318.4 422.9l1-.5-1.5 4.8-1 .4zM322.6 423.5l.9 1.1-1.5 4.8-1-1.1zM329.7 423.6l1.4 4.3-1.2 1.7-1.4-4.2z"/><path fill="#fcc933" d="M318.7 420.4l1-.9-1.3 3.8-.9.9zM333.9 420.7l1.3 4.3-.9 0-1.3-4.4zM333.1 420.6l1.3 4.4-.8.2-1.4-4.3zM332.3 420.9l1.4 4.3-1 .6-1.2-4.4zM324.6 421.2l1.2 1.6-1.5 3.8-1.1-1.6z"/><path fill="#27c3a8" d="M306.7 450.4l1.6-3.5-2 6.9-1.6 2.8zM341.6 451l2.2 9.5-.9.1-2.2-9.5zM340.8 451.1l2.2 9.5-.9.2-2.2-9.4zM340 451.4l2.2 9.4-.9.4-2.2-9.5zM324.4 452.6l1.7 4.5-2.1 6.2-1.6-4.1z"/><path fill="#e1ba39" d="M338.7 428.2l1.5 5-1.1-1.4-1.5-5.1z"/><path fill="#f6b73c" d="M316.6 425.2l1.1-1.4-1.6 4.7-1.1 1.3zM335.9 425l1.5 5.3-.8-.3-1.6-5.4zM324.3 426.2l1.2 2.2-1.6 4.5-1.2-2z"/><path fill="#f9de24" d="M331.8 415.2l1.1 2.8-.9-.1-1.1-2.8zM330.2 415.4l1.2 2.7-1 .7-1.2-2.9z"/><path fill="#12b4d2" d="M303.1 459.8l1.8-3.6-2.2 7-1.8 3zM345.4 460.4l2.4 9.8-.9-.2-2.4-9.8zM340.4 461.4l2.5 9.9-1 .7-2.4-9.8zM324 462.9l1.9 4.8-2.3 6.4-1.9-4.3z"/><path fill="#ccc036" d="M314 431.2l1.2-1.8-1.6 5.6-1.1 1.6zM332.3 432.4l1.6 6.2-1.1 1.5-1.6-6.2zM323.9 432.5l1.3 2.6-1.6 5.4-1.4-2.5z"/><path fill="#abc639" d="M341.2 434.7l1.6 5.9-1.2-1.7-1.6-6.1zM330.2 436.1l1.7 6.1-1.3 2.6-1.8-5.8z"/><path fill="#3f2aab" d="M260.2 499.7l4.1.9-4.5 1.8-4-1zM323.8 521.2l4 2.2-4.4 1.7-4-2.1z"/><path fill="#ffc336" d="M335.6 421.8l1.3 4.2-1-.6-1.3-4.3z"/><path fill="#2496ea" d="M299.1 469.4l2-3.6-2.5 7-1.9 2.7zM300.3 469.9l1.7-1.9-2.7 8.1-1.7 1.4zM349.7 470.5l2.7 9.5-1.1-.2-2.7-9.8zM340.9 472.5l2.8 9.7-1.3 1-2.7-9.5zM318 473.6l1.8 3-2.9 7.6-1.7-2.4zM323.6 473.7l2.2 4.9-2.7 6.2-2.1-4.4z"/><path fill="#8ac951" d="M311.3 438.5l1.4-2.3-1.9 6.6-1.3 2zM314.7 438.7l1 0-2.1 8.1-.9 0zM317.1 439.2l.9.7-2 7.9-.9-.6zM332.8 439.7l1.9 7.3-1.3 1.9-1.8-7.1zM323.6 440.1l1.3 3.1-1.9 6.2-1.4-2.9z"/><path fill="#63c96f" d="M343.9 442.4l1.8 6.7-1.3-2-1.8-6.9zM339.7 442.8l2 8.6-.9.1-2-8.7zM337.3 443.5l2 8.6-1 .7-2-8.6zM330.6 444.4l1.8 6.9-1.6 3-1.9-6.5z"/><path fill="#3fc990" d="M308.2 446.9l1.5-2.5-2 7-1.5 2.4zM344.4 446.7l2 7.9-1.2-1.2-2-8.2zM311 447.1l1-.5-2.2 8.7-1 .5zM316.9 448.4l1 1.1-2.2 8.6-1-1zM333.4 448.5l2 8.1-1.3 2.2-2-7.9zM323 449l1.6 3.6-2 6.7-1.7-3.2z"/><path fill="#21c0ae" d="M347 451.2l2 7.2-1.4-2.1-2.1-7.6zM343.3 451.5l2.2 9.3-.9-.2-2.3-9.4z"/><path fill="#fcc636" d="M334.7 421.1l1.3 4.3-.9-.4-1.3-4.3z"/><path fill="#f3b73c" d="M336.8 425.6l1.5 5.3-1-.6-1.5-5.3zM331.8 426.2l1.5 5.3-1 1.3-1.5-5.3z"/><path fill="#fcd52a" d="M332 417.5l1.2 3.5-.9.3-1.2-3.6zM331.2 417.7l1.2 3.6-.8.5-1.4-3.4z"/><path fill="#0fb7c9" d="M304.8 456.2l1.6-2.8-2.2 7.4-1.6 2.4zM347.6 455.9l2.1 8.3-1.3-1.3-2.2-8.7zM306.8 457l1.2-1-2.4 9-1.3.8zM316.7 459.1l1.2 1.8-2.5 8.7-1.2-1.5zM322.6 458.9l1.6 4-2.3 7-1.7-3.5z"/><path fill="#12b1d5" d="M350.4 460.7l2.3 7.4-1.7-2.2-2.2-7.9zM346.3 460.8l2.5 9.6-1.1-.2-2.4-9.8zM338.6 463.4l2.4 9.5-1.2 1.2-2.5-9.4zM331.2 464.4l2.3 7.7-1.9 3.5-2.2-7.2z"/><path fill="#9fc642" d="M312.6 436.2l1.1-1.6-1.8 6.6-1.2 1.6zM334.7 437.1l1.8 7.5-.9 1-1.9-7.4zM322.4 437.6l1.4 2.5-2 6.4-1.2-2.3z"/><path fill="#e4ba39" d="M316.1 428.1l1-.9-1.5 5.8-1.1.8zM322 429l1 1.5-1.6 5.7-.9-1.4zM329.9 429.2l1.6 5.1-1.3 2.2-1.6-5z"/><path fill="#c9c036" d="M339.1 431.4l1.6 6.4-1-1-1.6-6.3zM317.2 432.1l.9.1-1.8 7-.8-.1zM318 432.2l.9.5-1.8 6.9-.9-.4z"/><path fill="#2793ed" d="M354.2 470.4l2.5 7.1-1.8-2-2.4-7.8zM350.8 471.2l2.7 9.2-1.2-.4-2.7-9.5zM304 472.9l.9-.1-3 9-1 0zM309.9 474.5l.9.9-3.1 8.7-.9-.7zM331.6 475.2l2.6 7.7-2.1 3.4-2.6-6.8z"/><path fill="#1ba2e1" d="M301 465.8l1.8-3-2.5 7.5-1.8 2.5zM351 465.5l2.4 8.4-1.4-1.3-2.5-8.8zM303.2 466.5l1.3-1.1-2.7 8.8-1.3.8zM315.4 469.2l1.4 2-2.7 8.6-1.4-1.8zM334.8 468.8l2.5 8.8-1.6 2.4-2.5-8.3zM321.9 469.5l1.9 4.3-2.6 6.7-1.8-3.5z"/><path fill="#54c97b" d="M309.6 444.4l1.3-2-2 7.2-1.3 1.8zM342.3 444.2l2 8.3-1-.6-2-8.5zM321.8 446.1l1.4 2.9-2.1 7.1-1.3-2.6z"/><path fill="#4236c6" d="M278.2 496.5l3-.9-3.7 3.2-3.1.4zM364.1 501.8l4.1 5-1.3.3-4.1-5.2zM362.9 501.9l4.1 5.2-1.2.2-4.1-5.2zM350.6 506.1l4.2 5.2-1.5.7-4.1-5.1zM321.6 509.6l3 3.2-3.7 2.6-3.1-2.7z"/><path fill="#aec639" d="M313.6 434.6l1.1-1.2-1.8 6.7-1.1 1.1zM321.4 435.8l1.1 1.8-1.8 6.6-1.1-1.7z"/><path fill="#87c954" d="M341.6 438.5l1.8 7.1-1.1-1-1.8-7.2zM313.8 439.1l1-.4-2 8.1-1 .2zM317.9 439.9l1 .9-2 8-1-1z"/><path fill="#2d84f6" d="M296.9 475.1l1.8-2.7-2.7 6.9-2 2.2zM321.2 480.1l2.1 4.4-2.7 6.3-2.2-3.7z"/><path fill="#3972f6" d="M358.3 479.5l2.9 6.6-2-1.7-2.7-7.3zM297.8 482.4l1.2-.5-3.3 7.6-1.2.3zM310 485.7l1.4 1.3-3.5 7.4-1.2-1.1zM332.1 485.9l2.8 7.1-2.3 3.2-2.8-6.3z"/><path fill="#d2bd36" d="M338.2 430.5l1.6 6.3-1-.5-1.6-6.4z"/><path fill="#15bdba" d="M306.3 453.4l1.5-2.4-2.2 7.9-1.5 1.9zM345.2 453l2.2 8.9-1.1-.7-2.2-9.1zM321.1 455.7l1.7 3.2-2.4 7.5-1.6-2.8z"/><path fill="#f9d827" d="M328.6 416.9l1.2 2.6-1.2 1.5-1.2-2.5z"/><path fill="#66c96c" d="M310.8 442.4l1.2-1.6-2 7.6-1.2 1.2zM320.7 443.8l1.2 2.3-2 7.4-1.2-2.1z"/><path fill="#219ce7" d="M352.6 467.7l2.4 7.8-1.7-1.6-2.4-8.4zM346.1 469.6l2.7 10-.9.2-2.7-10.1zM345.3 469.7l2.7 10.1-.9.2-2.6-10zM344.6 470l2.6 10-1 .3-2.7-9.9zM343.6 470.4l2.7 9.9-.9.5-2.7-9.9zM333.3 471.7l2.6 8.3-1.9 2.9-2.6-7.7z"/><path fill="#f9ba3c" d="M334.3 424.6l1.5 5.4-.9.2-1.4-5.4zM333.6 424.8l1.4 5.4-.9.6-1.5-5.4z"/><path fill="#24c0ab" d="M307.7 451l1.3-1.8-2.2 8.2-1.3 1.5zM342.4 451.2l2.3 9.4-1-.1-2.2-9.5zM338.3 452.4l2.2 9.4-.9.8-2.3-9.2zM319.9 453.1l1.3 2.6-2.2 7.9-1.3-2.3z"/><path fill="#fcc936" d="M331.6 421.4l1.2 4.4-1 .8-1.3-4.2z"/><path fill="#454eea" d="M286.9 490.4l2.4-1.8-3.4 5-2.5 1.2zM319.7 499.2l2.6 3.7-3.4 4.2-2.5-2.9z"/><path fill="#4bc984" d="M343.3 445.2l2 8.2-1.1-.9-2-8.3zM313.6 446.4l.9.1-2.2 8.9-.8-.2zM314.4 446.5l.9.3-2.2 9-.9-.4z"/><path fill="#c0c336" d="M315.6 432.6l.9-.4-1.8 6.9-1 .4zM319.6 433.4l1.1 1-1.9 6.8-1-.9z"/><path fill="#f0b73c" d="M318.7 426.6l1 .1-1.7 5.9-.9-.1zM319.6 426.7l.8.5-1.6 5.9-.9-.5z"/><path fill="#2790f0" d="M298.7 472.4l1.7-2.5-2.7 7.6-1.8 1.8zM352 472.2l2.7 8.8-1.3-.6-2.7-9.2zM301.9 473.8l1.1-.4-3.1 8.5-1.1.4zM303 473.4l1-.5-3.1 8.9-1 .1zM310.8 475.4l1 1-3.1 8.6-1-.9zM338.6 475.2l2.6 9.2-1.4 1.6-2.7-8.8zM311.7 476.4l1.2 1.2-3 8.5-1.2-1.1zM319.6 476.6l1.8 3.5-2.8 7.1-1.9-3z"/><path fill="#12b1d2" d="M304.2 460.4l1.5-1.9-2.5 8.4-1.4 1.5zM339.6 462.2l2.4 9.8-1.1.9-2.4-9.5zM319 463.2l1.5 2.8-2.5 8-1.4-2.4z"/><path fill="#c6c036" d="M316.4 432.2l.9-.1-1.7 7-1 0zM318.8 432.7l.9.7-1.8 6.9-.9-.7z"/><path fill="#a2c63f" d="M338.8 435.9l1.9 7.5-1-.2-1.8-7.6z"/><path fill="#debd36" d="M335.7 429.6l1.6 6.4-.9.3-1.6-6.5z"/><path fill="#7ec95a" d="M312.9 439.7l1-.6-2 7.9-1 .5zM318.8 440.8l1 1.3-2 7.8-1-1.1z"/><path fill="#396ff6" d="M294.2 481.1l1.9-2.2-3.1 6.9-1.8 1.4zM355.8 481.5l3.1 8-1.2-.4-3.2-8.5zM296.5 483.1l1.3-.7-3.3 7.4-1.4.4zM339.8 485.6l3 8.4-1.6 1.6-3.1-8zM311.3 487l1.5 1.7-3.6 7.1-1.4-1.4zM318.6 486.8l2.2 3.7-3.2 5.9-2.1-2.9z"/><path fill="#425df6" d="M361 485.7l3 6.3-1.9-1-3-7zM291.4 486.8l1.8-1.4-3.3 6.1-2 1zM355.1 488.1l3.3 8.1-1 0-3.3-8.2zM354.1 488l3.3 8.2-.9.1-3.4-8.3zM294.7 489.4l1.3-.3-3.9 6.4-1.3 0zM353.1 488l3.4 8.3-.8.2-3.4-8.4zM347.3 489.9l3.4 8.4-1 .5-3.4-8.2zM346.3 490.6l3.4 8.2-1.2.7-3.3-8.1zM306.9 492.9l1.3 1.1-3.7 6.2-1.4-.9zM334.7 492.7l3.1 6.9-2.2 2.4-3.2-6.1zM315.7 493.2l2.1 2.9-3.4 5.7-2-2.5z"/><path fill="#a5c63c" d="M338 435.6l1.8 7.6-.9 0-1.8-7.6z"/><path fill="#3084f6" d="M354.9 475.1l2.8 7.9-1.8-1.1-2.7-8.4zM335.7 479.6l2.8 8.4-1.9 2.3-2.8-7.8z"/><path fill="#5dc975" d="M341.4 443.4l2 8.5-1-.3-1.9-8.6zM336.4 444.2l2 8.6-1 1-1.9-8.6z"/><path fill="#39c996" d="M310 448l1.1-.9-2.2 8.7-1.1.6zM317.8 449.5l1.1 1.5-2.2 8.5-1.1-1.4z"/><path fill="#4554f3" d="M289.2 488.6l2.3-1.8-3.5 5.7-2.2 1.1zM358.7 489.1l3.4 7.3-1.3-.2-3.3-7.5zM317.6 496l2.3 3.3-3.3 5-2.4-2.6z"/><path fill="#a8c63c" d="M337.2 435.6l1.8 7.6-.9.3-1.8-7.6zM336.4 435.9l1.8 7.6-.9.4-1.8-7.5z"/><path fill="#60c972" d="M340.6 443l1.9 8.6-.9-.2-2-8.6z"/><path fill="#3378f6" d="M296.1 478.9l1.7-1.8-3.1 7.4-1.7 1.3zM352.2 479.6l3.1 8.9-1-.1-3.1-9zM301.1 481.4l1 0-3.4 7.9-.9 0zM307 483l.9.7-3.3 7.9-1-.5zM316.9 483.8l1.9 3-3.1 6.8-1.9-2.4z"/><path fill="#3f63f6" d="M359.1 484l3.1 7-1.8-.8-2.9-7.6zM293.2 485.4l1.7-1.3-3.3 6.7-1.7.7zM298 488.9l.9 0-3.7 6.7-1-.1zM298.9 488.9l.8.1-3.7 6.8-.8-.2zM299.7 489l1 .2-3.9 6.8-.8-.2zM300.7 489.2l.7.3-3.8 6.8-.8-.3zM301.4 489.5l.8.3-3.7 6.8-.9-.3zM302.2 489.8l.8.4-3.7 6.7-.8-.3zM303 490.2l.8.5-3.7 6.7-.8-.5zM303.8 490.7l1.1.5-3.8 6.7-1.1-.5zM336.6 489.9l3.2 7.5-2.2 2.2-3.1-6.9zM314 490.8l1.9 2.5-3.3 6.1-1.9-2z"/><path fill="#1bbdb4" d="M344.2 452.1l2.2 9.1-1-.4-2.2-9.3z"/><path fill="#15aed8" d="M348.4 462.5l2.5 9.1-1.2-.7-2.5-9.4zM307.7 463.8l.7-.1-2.7 9.5-1 0zM308.3 463.7l.9.1-2.6 9.5-1-.1zM310.7 464.4l1 .4-2.7 9.5-1-.5zM311.6 464.8l.9.7-2.7 9.4-.9-.6zM337.4 464.7l2.5 9.4-1.3 1.5-2.5-9.1z"/><path fill="#1e9fe4" d="M301.9 468l1.4-1.5-2.7 8.5-1.4 1.1zM316.7 471.2l1.4 2.4-2.7 8.2-1.4-2z"/><path fill="#2a8af3" d="M353.3 473.5l2.7 8.4-1.4-.9-2.7-8.8zM300.7 474.6l1.2-.8-3.1 8.5-1.2.5zM337.2 477.2l2.7 8.8-1.6 2-2.7-8.4zM312.8 477.6l1.4 1.8-3 8-1.4-1.3z"/><path fill="#4542db" d="M283.7 494.4l2.5-1.2-3.9 4.4-2.4.5zM361.9 496l3.9 6.1-1.5.1-3.8-6.4zM345.8 500.9l3.8 6.4-1.6.9-3.9-6.2zM316.6 503.9l2.5 3-3.7 3.6-2.5-2.4z"/><path fill="#8dc951" d="M315.6 438.7l.8.1-2 8.1-.9-.1zM316.3 438.8l.9.4-2 8-.9-.3z"/><path fill="#45c98a" d="M311.9 446.6l1-.2-2.2 8.7-1 .2zM316 447.4l1 1-2.2 8.7-1-.8z"/><path fill="#a5c63f" d="M335.6 436.4l1.8 7.5-1 .7-1.8-7.5z"/><path fill="#12b1d8" d="M347.3 461.5l2.5 9.4-1.1-.5-2.5-9.6z"/><path fill="#0cb7c6" d="M307.9 456l1.1-.6-2.4 9.1-1.1.5zM315.7 457.7l1.1 1.4-2.5 9-1.1-1.2zM329.3 457.7l2.1 7-1.8 4.1-2.2-6.3z"/><path fill="#66c96f" d="M338.9 442.8l2 8.7-.9.3-2-8.7zM338.1 443.1l2 8.7-.9.3-2-8.6z"/><path fill="#4239c6" d="M277.7 498.4l2.6-.5-4.2 3.2-2.7.1zM276.4 500.7l2.4-.2-4.6 2.8-2.4 0zM361.8 502.1l4.1 5.2-1.1.3-4.1-5.2zM360.8 502.4l4.1 5.2-1 .3-4.2-5.5zM352.9 504.9l4.2 5.4-1.2.5-4.2-5.4zM351.8 505.4l4.2 5.4-1.3.5-4.2-5.2zM315.5 510.1l2.7 2.6-4.1 2.7-2.7-2.2zM309.3 511.1l2.5 2.1-4.5 2.6-2.5-2z"/><path fill="#3081f6" d="M297.8 477.1l1.6-1.4-3.1 7.8-1.6 1zM315.4 481.4l1.7 2.4-3.1 7.4-1.6-2.1z"/><path fill="#48c987" d="M312.8 446.4l.9 0-2.1 8.8-1-.1zM315.2 446.8l.9.6-2.2 8.9-.9-.5zM329.1 447.8l1.9 6.4-1.7 3.9-1.9-6z"/><path fill="#bdc336" d="M331.3 433.9l1.6 6.2-1.2 2.1-1.6-6.1z"/><path fill="#4548e4" d="M286.1 493.2l2.2-1.1-3.8 4.9-2.3.6zM355.5 496.1l3.7 7-.8.2-3.8-7.1zM354.6 496.2l3.8 7.1-.7.2-3.9-7zM353.8 496.5l3.9 7-.9.3-3.8-7.1zM353 496.7l3.8 7.1-.9.3-3.7-7.1zM352.2 497l3.7 7.1-.8.3-3.6-7zM351.5 497.4l3.6 7-1 .4-3.6-6.9zM292.5 500.4l.8.2-4.6 3.9-.8-.4zM293.3 500.5l.8.4-4.6 3.9-.8-.4zM294.1 500.8l.8.4-4.5 3.8-.9-.3zM294.9 501.1l.9.4-4.7 3.9-.7-.5zM314.4 501.4l2.4 2.6-3.8 4.2-2.3-2.1z"/><path fill="#96c948" d="M333.8 438.2l1.9 7.4-1.1 1.4-1.9-7.3z"/><path fill="#0fbac0" d="M309.8 454.9l1-.2-2.5 9.4-.8.1zM313.9 455.9l1 .8-2.5 9.2-.9-.7zM335.3 456.2l2.2 8.9-1.3 1.8-2.2-8.5z"/><path fill="#18abdb" d="M305.7 464.6l1-.5-2.9 9.2-1 .5zM313.3 466.5l1.1 1.2-2.7 9.1-1.1-1z"/><path fill="#3672f6" d="M354.5 480.6l3.2 8.5-1.3-.3-3.1-8.8z"/><path fill="#4851f3" d="M360.3 489.8l3.4 6.8-1.6-.2-3.4-7.3zM290.1 491.1l1.8-.7-3.9 5.6-1.6.4zM294.4 495.1l1.1.1-4.2 5.3-.9-.2zM295.4 495.2l.9.2-4.1 5.4-1-.3zM296.2 495.4l.9.2-4.1 5.3-.9-.1zM297 495.6l.9.3-4.1 5.3-.9-.3zM297.8 495.9l1 .3-4.2 5.3-.9-.3zM298.7 496.2l.9.3-4.1 5.3-1-.3zM299.5 496.5l.9.5-4.1 5.2-.9-.4zM300.3 497l1.1.5-4.2 5.3-1-.6zM341.2 495.2l3.3 7.2-1.8 1.4-3.3-6.8zM311 497l1.8 2.1-3.9 5.2-1.8-1.6z"/><path fill="#57c97b" d="M335.6 445.2l1.9 8.6-1.1 1.1-1.9-8.3z"/><path fill="#24c3ab" d="M339.2 451.7l2.2 9.5-1 .6-2.2-9.4z"/><path fill="#78c960" d="M331.7 441.8l1.8 7.1-1.3 2.4-1.7-6.9z"/><path fill="#3675f6" d="M353.3 480l3.1 8.8-1.1-.3-3.1-8.9zM299 481.9l1.1-.4-3.3 7.8-1.1.2zM341.1 484l3 8.8-1.4 1.2-3-8.4zM308.9 484.6l1.1 1.1-3.3 7.6-1.1-.9z"/><path fill="#453fd5" d="M282.5 497.2l2.3-.5-4.2 3.8-2.2.2zM282.8 499.9l1.7-.1-4.6 3.4-1.7-.1zM311 505.8l2.3 2.1-4.2 3.6-2.2-1.8zM303.7 506.4l1.7 1.5-4.5 3.2-1.8-1.3z"/><path fill="#423fd2" d="M365.1 496.6l3.8 5.4-1.7 0-3.8-5.8zM280.9 500.1l1.9-.1-4.6 3.2-1.8-.1zM342.6 503.4l3.8 5.8-2 1.3-3.8-5.3zM305.3 507.8l2 1.8-4.5 2.8-2-1.4z"/><path fill="#1ec0b1" d="M337.4 453.4l2.3 9.2-1.1 1.2-2.3-9.3zM330.8 453.9l2.1 7.5-1.7 3.4-2.1-7.1z"/><path fill="#12aed8" d="M309.1 463.8l.9.2-2.7 9.5-.8-.2zM309.9 464l.9.4-2.7 9.4-.9-.3z"/><path fill="#4557f6" d="M357.5 488.7l3.3 7.5-1.3 0-3.3-7.8z"/><path fill="#18bdb7" d="M336.4 454.5l2.3 9.3-1.3 1.3-2.2-8.9z"/><path fill="#4542d8" d="M363.5 496.2l3.8 5.8-1.6.1-3.9-6.1zM284.5 499.7l1.5.1-4.6 3.5-1.5-.2zM344.2 502l3.9 6.2-1.8 1.1-3.8-5.9zM302.1 505.4l1.7 1.1-4.6 3.4-1.6-1.1z"/><path fill="#4557f3" d="M291.8 490.4l1.6-.6-3.8 6-1.7.2zM342.7 493.6l3.4 7.7-1.8 1.1-3.3-7.2zM309.4 495.4l1.7 1.7-3.9 5.7-1.6-1.5z"/><path fill="#2493ed" d="M304.9 472.8l.9 0-3.1 9-.8 0zM305.8 472.8l.9.1-3.2 9-.8-.1zM308.2 473.4l.9.5-3.1 9-.9-.4zM309.1 473.9l.8.6-3.1 8.9-.8-.5zM339.8 473.7l2.7 9.5-1.4 1.2-2.6-9.2z"/><path fill="#337ef6" d="M349.5 479.1l3 9.4-.8.1-3.1-9.4zM348.6 479.2l3.1 9.4-.8.2-3.1-9.4zM347.8 479.4l3.1 9.4-.8.3-3.1-9.5zM347 479.6l3.1 9.5-.9.3-3.1-9.5zM346.1 479.9l3.1 9.5-.8.4-3.1-9.4zM345.3 480.4l3.1 9.4-.9.5-3-9.3z"/><path fill="#2496ed" d="M306.7 472.9l.7.2-3.1 9.1-.8-.3zM307.4 473.1l.8.3-3.1 9.1-.8-.3z"/><path fill="#4548e1" d="M286.7 496l1.6-.4-4.1 4.5-1.8.1zM358.2 495.8l3.8 6.7-1 .3-3.8-7zM357.2 495.8l3.8 7-1 0-3.7-6.9zM356.3 495.9l3.7 6.9-.8.3-3.7-7zM289.8 499.8l1 .2-4.7 3.8-1-.3zM350.5 497.9l3.6 6.9-1 .5-3.6-6.9zM290.8 499.9l.8.3-4.6 3.8-.9-.3zM349.5 498.4l3.7 6.9-1.2.5-3.8-6.7zM291.6 500.1l.9.4-4.6 3.7-.9-.3zM295.8 501.4l.8.5-4.6 3.9-.9-.5zM296.6 501.8l.9.7-4.6 3.7-.9-.5zM297.5 502.4l1 .6-4.6 3.8-1-.7zM307.4 502.4l1.8 1.6-4.1 4.2-1.7-1.5z"/><path fill="#0fb7c6" d="M334.1 458.4l2.2 8.5-1.5 2.3-2.2-8.2z"/><path fill="#4260f6" d="M295.9 489.1l1.1-.2-3.8 6.6-1.2 0zM352.3 488.1l3.4 8.4-.9.1-3.3-8.4zM297 488.9l1 0-3.8 6.6-1 0zM351.5 488.2l3.3 8.4-.8.3-3.3-8.5zM350.7 488.4l3.3 8.5-.8.2-3.3-8.4zM349.9 488.7l3.3 8.4-.8.3-3.4-8.4zM349 489l3.4 8.4-.7.4-3.5-8.4zM348.2 489.4l3.5 8.4-1 .5-3.4-8.4zM304.8 491.2l1.1.8-3.8 6.5-1.1-.6zM305.8 492l1.2.9-3.8 6.4-1.2-.8z"/><path fill="#18a8db" d="M336.2 466.5l2.5 9.1-1.5 2-2.5-8.8z"/><path fill="#484ef0" d="M292.3 495.1l1.2 0-4 5.1-1.3-.1zM302.3 498.1l1.2.8-4.2 5-1.2-.6z"/><path fill="#4851f0" d="M293.4 495.1l1.1 0-4 5.2-1.1-.1zM301.3 497.5l1.1.6-4.2 5.2-1.1-.5z"/><path fill="#425af6" d="M345.2 491.4l3.3 8.1-1.2.8-3.4-7.9z"/></g></g><circle cx="315.9" cy="439.6" r="3.3" fill="#000"/><circle cx="315.9" cy="439.6" r="3.3" fill="#8cc850" fill-opacity="0.75"/><circle cx="338.4" cy="437.1" r="3.3" fill="#000"/><circle cx="338.4" cy="437.1" r="3.3" fill="#a2c73f" fill-opacity="0.75"/><circle cx="310.3" cy="448.4" r="3.3" fill="#000"/><circle cx="310.3" cy="448.4" r="3.3" fill="#38c896" fill-opacity="0.75"/><circle cx="309.3" cy="468.0" r="3.3" fill="#000"/><circle cx="309.3" cy="468.0" r="3.3" fill="#13aed8" fill-opacity="0.75"/><circle cx="344.9" cy="472.7" r="3.3" fill="#000"/><circle cx="344.9" cy="472.7" r="3.3" fill="#209be7" fill-opacity="0.75"/><circle cx="304.7" cy="479.3" r="3.3" fill="#000"/><circle cx="304.7" cy="479.3" r="3.3" fill="#2495ec" fill-opacity="0.75"/><circle cx="308.4" cy="481.1" r="3.3" fill="#000"/><circle cx="308.4" cy="481.1" r="3.3" fill="#2692ee" fill-opacity="0.75"/><circle cx="301.9" cy="485.8" r="3.3" fill="#000"/><circle cx="301.9" cy="485.8" r="3.3" fill="#347bf6" fill-opacity="0.75"/><circle cx="360.8" cy="480.2" r="3.3" fill="#000"/><circle cx="360.8" cy="480.2" r="3.3" fill="#3e67f5" fill-opacity="0.75"/><circle cx="354.7" cy="461.5" r="3.3" fill="#000"/><circle cx="354.7" cy="461.5" r="3.3" fill="#19a6de" fill-opacity="0.75"/><circle cx="300.9" cy="484.5" r="3.3" fill="#000"/><circle cx="300.9" cy="484.5" r="3.3" fill="#347af6" fill-opacity="0.75"/><path d="M303.23 482.17A3.3 3.3 0 0 0 298.57 486.83Z" fill="#000"/>
<path d="M250.6 501.2 L327.6 527.8 L404.6 501.2" fill="none" stroke="#1a1a1a" stroke-width="2.3" stroke-linejoin="miter"/>
<circle cx="327.7" cy="409.0" r="3.3" fill="#000"/>
<circle cx="310.3" cy="431.0" r="3.3" fill="#000"/>
<circle cx="339.3" cy="441.8" r="3.3" fill="#000"/>
<circle cx="350.5" cy="448.4" r="3.3" fill="#000"/>
<circle cx="358.0" cy="462.4" r="3.3" fill="#000"/>
<circle cx="346.4" cy="466.2" r="3.3" fill="#000"/>
<circle cx="304.7" cy="471.4" r="3.3" fill="#000"/>
<circle cx="293.4" cy="473.3" r="3.3" fill="#000"/>
<circle cx="293.4" cy="490.9" r="3.3" fill="#000"/>
<circle cx="350.2" cy="485.3" r="3.3" fill="#000"/>
<circle cx="354.3" cy="494.3" r="3.3" fill="#000"/>
<path d="M251.8 501.3 V399.3" stroke="#1a1a1a" stroke-width="2.7"/>
<path d="M250.8 500.3 h-3 M250.8 470.0 h-3 M250.8 439.7 h-3 M250.8 409.4 h-3" stroke="#1a1a1a" stroke-width="2"/>
<text x="244.9" y="503.9" text-anchor="end" style="font-family:'Liberation Sans',sans-serif;font-size:15px" fill="#262626">0</text>
<text x="244.9" y="473.6" text-anchor="end" style="font-family:'Liberation Sans',sans-serif;font-size:15px" fill="#262626">1</text>
<text x="244.9" y="443.3" text-anchor="end" style="font-family:'Liberation Sans',sans-serif;font-size:15px" fill="#262626">2</text>
<text x="244.9" y="413.0" text-anchor="end" style="font-family:'Liberation Sans',sans-serif;font-size:15px" fill="#262626">3</text>
<text transform="translate(230.6,450.7) rotate(-90)" text-anchor="middle" style="font-family:'Liberation Sans',sans-serif;font-size:14.6px" fill="#262626">Visibility (<tspan font-style="italic">d</tspan>′)</text>
<text transform="translate(280.6,528.6) rotate(19.3)" text-anchor="middle" style="font-family:'Liberation Sans',sans-serif;font-size:14.6px" fill="#262626">Vert.</text>
<text transform="translate(374.4,528.6) rotate(-19.3)" text-anchor="middle" style="font-family:'Liberation Sans',sans-serif;font-size:14.6px" fill="#262626">Hori.</text>
<g><g opacity="0.80" shape-rendering="crispEdges"><path fill="#4236c3" d="M581.8 482.6l.9.3 4.6 2.3-.9-.3z"/><path fill="#4236c0" d="M583.6 483.3l1 .5 4.6 2.2-1-.3z"/></g>
<g opacity="0.80" shape-rendering="crispEdges"><path fill="#4233c0" d="M589.2 486l1.1.5-4.6-2-1.1-.7z"/></g>
<g opacity="0.80" shape-rendering="crispEdges"><path fill="#4233c0" d="M585.7 484.5l1.2.5 4.6 2-1.2-.5z"/></g>
<g opacity="0.80" shape-rendering="crispEdges"><path fill="#4233bd" d="M591.5 487l1.4.7-4.5-1.9-1.5-.8z"/><path fill="#3f33bd" d="M592.9 487.7l1.5.6-4.6-1.6-1.4-.9z"/><path fill="#4233c0" d="M498.8 488.3l4.6-2.4 1.5-.9-4.5 2.7z"/><path fill="#3f30ba" d="M594.4 488.2l1.7.9-4.6-1.2-1.7-1.2z"/></g>
<g opacity="0.80" shape-rendering="crispEdges"><path fill="#4233bd" d="M498.8 488.3l4.6-2.4-1.6 1-4.7 2.2z"/><path fill="#3f33bd" d="M497.1 489.1l4.7-2.2-2 1.1-4.6 2z"/><path fill="#423ccf" d="M586 483.4l1.7 1.3 4.2 3.4-1.7-1.1z"/></g>
<g opacity="0.80" shape-rendering="crispEdges"><path fill="#3f30ba" d="M596.1 489l1.9 1-4.6-.9-1.9-1.3zM495.2 490l4.6-2-2 1.4-4.7 1.6z"/><path fill="#423fd5" d="M499.4 488.3l4.2-3.8 1.9-1.5-4 4.2z"/><path fill="#423ccc" d="M591.9 488.1l1.9 1.1-4.2-2.7-1.9-1.8z"/></g>
<g opacity="0.80" shape-rendering="crispEdges"><path fill="#3f27a8" d="M546.6 473.4l4.4 1.6-4.4 1.6-4.4-1.6z"/><path fill="#3f27ab" d="M542.4 474.8l4.4 1.6-4.1 1.4-4.3-1.5zM550.8 474.8l4.1 1.5-4.3 1.5-4.2-1.4zM538.5 476.1l4.4 1.5-3.6.9-4.5-1.2zM554.8 476.1l3.6 1.2-4.5 1.2-3.5-.9zM546.6 476.2l4.2 1.4-4.2.9-4.1-.9z"/><path fill="#3f2aab" d="M534.9 477.1l4.5 1.2-3.3.8-4.5-.8zM558.3 477.1l3.3 1.2-4.5.9-3.3-.9z"/><path fill="#3f2aae" d="M542.6 477.4l4.2.9-3.6.7-4.2-.7zM550.7 477.4l3.5.9-4.2.7-3.6-.7zM561.6 478.1l2.9.9-4.6.5-2.9-.5zM531.6 478.1l4.6.8-2.9.7-4.6-.6z"/><path fill="#3f2db1" d="M539 478.1l4.3.7-3.2.2-4.3-.1zM554.2 478.1l3.2.9-4.3 0-3.2-.2z"/><path fill="#3f2db4" d="M546.6 478.1l3.7.7-3.7.1-3.7-.1zM526.1 479.7l4.7-.1-2.4.2-4.7.4zM567.1 479.7l2.4.5-4.7-.4-2.3-.2z"/><path fill="#3f2ab1" d="M528.7 478.9l4.6.5-2.5.2-4.7.1zM564.5 478.9l2.6.8-4.6 0-2.6-.3z"/><path fill="#3f30b7" d="M493.1 490.9l4.7-1.6-2.5 1.5-4.6 1.3z"/><path fill="#423ccf" d="M497.4 489.6l4.1-3.1 2.1-2-4.2 3.8z"/><path fill="#4239c6" d="M593.8 489.2l2.1 1.5-4.2-2.1-2.1-2.1z"/><path fill="#454be7" d="M584.1 479.9l1.9 2.5 4 4.4-2-1.7z"/><path fill="#484eed" d="M501.1 486.8l3.8-4.8 2.3-2.4-3.9 5.3z"/></g>
<g opacity="0.80" shape-rendering="crispEdges"><path fill="#3f2db7" d="M532.9 479.4l4.3-.8 2.9.3-4.3 0zM553.1 478.9l2.9-.3 4.3.8-2.9-.4z"/><path fill="#3f30ba" d="M539.7 478.9l3.8-1.1 3.3.9-3.8.3zM546.4 478.7l3.3-.9 3.8 1.1-3.3.1zM519.7 481.2l4.6-1.3 1.9 0-4.6.9zM567 479.9l1.9 0 4.6 1.3-1.9-.4zM518 481.7l4.6-1.7 1.7-.1-4.6 1.3zM568.9 479.9l1.7.1 4.6 1.7-1.7-.5z"/><path fill="#3f33bd" d="M530.4 479.6l4.2-1.5 2.6.6-4.3.8zM556 478.7l2.6-.6 4.3 1.5-2.6-.1zM516.5 482l4.6-1.9 1.5-.1-4.6 1.7zM570.6 480l1.5.2 4.7 1.8-1.6-.3z"/><path fill="#3f30b7" d="M521.6 480.7l4.6-.9 2.2 0-4.7.4zM564.8 479.8l2.2 0 4.6.9-2.1-.5z"/><path fill="#4236c3" d="M536.8 478.7l3.9-1.9 2.9 1.2-3.8 1.1zM549.6 478l3-1.2 3.8 1.9-3 .4zM528 479.9l4.1-2.3 2.5.7-4.2 1.5zM510.9 483.5l4.6-2.5.9-.2-4.6 2.4zM510 483.8l4.6-2.6.9-.2-4.6 2.5zM577.7 481.2l.9.3 4.6 2.3-.9-.3zM578.6 481.5l.8.2 4.6 2.4-.8-.3zM509.2 484.1l4.6-2.6.8-.3-4.6 2.6zM579.4 481.7l.8.3 4.6 2.3-.8-.2zM508.4 484.3l4.6-2.7.8-.1-4.6 2.6zM580.2 482l.8.2 4.6 2.5-.8-.4zM507.6 484.7l4.6-2.8.8-.3-4.6 2.7zM581 482.2l.8.4 4.6 2.3-.8-.2zM506.8 484.9l4.6-2.8.8-.2-4.6 2.8zM505.9 485.2l4.6-2.7.9-.4-4.6 2.8zM505 485.7l4.6-2.9.9-.3-4.6 2.7zM504 486l4.6-2.7 1-.5-4.6 2.9zM502.9 486.5l4.6-2.7 1.1-.5-4.6 2.7z"/><path fill="#4236c6" d="M543.2 478l3.4-1.8 3.4 1.8-3.4.9z"/><path fill="#4236c0" d="M558.6 478.3l2.5-.6 4.1 2.2-2.3-.1zM575.8 480.8l1 .2 4.6 2.2-1-.3zM511.8 483.2l4.6-2.4 1-.2-4.6 2.3zM576.8 481l.9.2 4.6 2.3-.9-.3zM582.7 482.9l.9.4 4.6 2.4-.9-.5zM501.7 487l4.6-2.7 1.2-.5-4.6 2.7z"/><path fill="#423ccc" d="M534.2 478.4l3.8-2.9 2.8 1.5-3.9 1.9zM552.5 477l2.7-1.5 3.8 2.9-2.7.5zM523.9 480.1l4.2-3.3 2 .5-4.3 2.8zM563.1 477.3l2-.4 4.2 3.2-1.9 0z"/><path fill="#423fd2" d="M546.4 476.4l3.2-2.2 3.3 2.8-3.1 1.2zM540.4 477l3.3-2.8 3.1 2.2-3.4 1.8zM522.2 480.2l4.2-3.8 1.8.5-4.2 3.3z"/><path fill="#4239c6" d="M525.8 480l4.2-2.8 2.2.5-4.2 2.3zM561 477.8l2.2-.6 4.2 2.8-2.2 0z"/><path fill="#4542d8" d="M531.8 477.9l3.9-3.7 2.4 1.4-3.8 2.9zM519.4 480.5l4.1-4.4 1.5.2-4.2 4.1zM568.2 476.5l1.5-.1 4.1 4.4-1.4-.3zM569.6 476.4l1.3 0 4.2 4.4-1.4 0zM581.8 480.1l1.3.9 4.2 4.3-1.3-.5zM583.1 481l1.3 1 4.4 4.1-1.5-.8zM501.4 487.2l4.1-4.2 1.7-1.4-4.1 4.6z"/><path fill="#4542d5" d="M555.1 475.6l2.5-1.2 3.8 3.6-2.5.5z"/><path fill="#4548e4" d="M537.7 475.8l3.4-3.9 2.8 2.5-3.3 2.8zM549.4 474.4l2.7-2.5 3.4 3.9-2.8 1.4z"/><path fill="#454be7" d="M543.5 474.4l3.1-3.4 3.2 3.4-3.2 2.2zM559.6 473.2l2-1.1 3.8 5.2-2 .3z"/><path fill="#4233c0" d="M515.1 482.3l4.7-2.1 1.3-.1-4.6 1.9zM513.9 482.7l4.6-2.2 1.3-.3-4.7 2.1zM573.4 480.5l1.3 0 4.6 2.2-1.2-.4zM574.7 480.5l1.1.3 4.6 2.1-1.1-.2zM512.8 482.9l4.6-2.3 1.1-.1-4.6 2.2zM500.4 487.7l4.5-2.7 1.4-.7-4.6 2.7z"/><path fill="#4233bd" d="M572.1 480.2l1.3.3 4.7 1.8-1.3-.3z"/><path fill="#4548e1" d="M529.7 477.5l3.8-4.5 2.3 1.3-3.9 3.7zM513.4 481.8l4.3-5.4.8-.2-4.2 5.3zM512.6 481.9l4.2-5.3 1-.2-4.3 5.4zM511.8 482.2l4.2-5.4.9-.2-4.2 5.3zM511 482.4l4.1-5.3 1-.3-4.2 5.4zM510.1 482.8l4.2-5.4.9-.3-4.1 5.3zM509.2 483.1l4.2-5.3 1-.4-4.2 5.4zM508.2 483.6l4.2-5.2 1.1-.6-4.2 5.3z"/><path fill="#4545e1" d="M557.5 474.5l2.2-1.4 3.8 4.4-2.2.6zM514.2 481.5l4.2-5.3 1-.1-4.2 5.2zM507.1 484.1l4.2-5.2 1.2-.5-4.2 5.2zM586 482.4l2.2 2.5 3.9 3.9-2.1-2z"/><path fill="#423ccf" d="M565 477l1.8-.4 4.2 3.6-1.8 0z"/><path fill="#4851f3" d="M535.4 474.5l3.3-4.9 2.6 2.4-3.4 3.9zM551.9 472l2.7-2.3 3.3 5-2.6 1.2z"/><path fill="#4557f6" d="M540.9 472.2l3.1-4.5 2.8 3.5-3.1 3.4zM546.4 471.2l2.8-3.5 3.1 4.5-2.7 2.4zM523.2 476.5l3.8-6.6 1.5.5-3.8 6.2zM505.2 483.4l3.8-6 1.7-1.7-3.8 6.3z"/><path fill="#423fd5" d="M520.7 480.3l4.2-4.1 1.6.3-4.2 3.8zM566.7 476.7l1.6-.3 4.2 4-1.6-.1zM584.4 482l1.6 1.4 4.2 3.6-1.4-.9z"/><path fill="#454bea" d="M527.8 477.2l3.9-5.3 1.9 1.2-3.8 4.5z"/><path fill="#425af6" d="M533.2 473.3l3.4-5.7 2.3 2.1-3.3 4.9zM567.5 469.9l1-.1 3.7 7-1.1 0zM577.3 472.9l1.2.9 3.6 6.7-1.1-.7zM506.9 482l3.8-6.3 1.5-1.5-3.7 6.7z"/><path fill="#455af6" d="M554.4 469.8l2.2-2.1 3.4 5.7-2.3 1.4zM522 476.4l3.8-6.9 1.3.4-3.8 6.6zM566.1 470.2l1.4-.3 3.6 6.9-1.2 0zM578.5 473.8l1.2 1.1 3.7 6.5-1.3-.9zM582.9 476.9l2.2 3.5 3.4 4.9-2.2-2.5z"/><path fill="#4851f0" d="M526.1 476.8l3.8-5.7 1.9.8-3.9 5.3zM561.5 472.1l1.8-.7 3.8 5.6-1.8.3zM582.5 477.9l1.7 2 3.9 5.2-1.8-1.3z"/><path fill="#3c66f6" d="M538.5 469.9l3.1-5.5 2.6 3.4-3.1 4.5zM549 467.8l2.6-3.3 3.2 5.5-2.7 2.3zM504.7 482.4l3.4-5.7 2.2-3.2-3.4 6.5z"/><path fill="#3c6cf6" d="M543.8 467.9l2.8-4.5 2.8 4.5-2.8 3.5zM529.6 471.5l3.4-7.1 1.9 1.4-3.3 6.5zM558.4 465.9l1.8-1.4 3.4 7.3-1.9.7zM579.3 471.2l1.7 2.6 3.4 6.5-1.7-2z"/><path fill="#4542db" d="M518.1 480.8l4.2-4.8 1.3.1-4.1 4.4zM570.8 476.4l1.2 0 4.2 4.7-1.2-.3zM580.7 479.4l1.1.7 4.3 4.7-1.1-.7zM503 486.2l4.1-4.6 1.7-1.1-4.2 4.8z"/><path fill="#3f63f6" d="M531.4 472.3l3.3-6.5 2.1 1.8-3.4 5.8zM556.4 467.7l2.2-1.8 3.3 6.6-2.1 1zM517.5 476.8l3.6-7.4.8-.2-3.7 7.4zM516.6 477l3.7-7.5.8-.1-3.6 7.4zM515.8 477.2l3.7-7.5.8-.2-3.7 7.5zM514.9 477.5l3.8-7.6.8-.2-3.7 7.5zM514.1 477.8l3.7-7.4.9-.5-3.8 7.6zM513.2 478.2l3.7-7.4.9-.4-3.7 7.4zM512.2 478.8l3.7-7.4 1-.6-3.7 7.4zM581 473.8l1.9 3.1 3.4 5.9-1.9-2.5z"/><path fill="#4854f3" d="M524.6 476.6l3.8-6.2 1.6.7-3.8 5.7zM563.2 471.4l1.6-.8 3.8 6.2-1.6.2zM581 476.4l1.5 1.5 3.8 5.9-1.6-1.4zM503.2 484.9l3.9-5.3 1.9-2.2-3.8 6z"/><path fill="#4545db" d="M517 480.9l4.2-4.9 1.2 0-4.2 4.8zM571.9 476.4l1.1 0 4.2 4.9-1.1-.2zM579.7 478.8l1 .6 4.3 4.7-1-.5z"/><path fill="#3675f6" d="M536.4 467.9l3.2-6.4 2.2 3-3.1 5.5zM551.4 464.6l2.3-3 3.1 6.4-2.2 2.1zM561.6 463.4l1.4-.8 3.4 8-1.4.4zM576.5 467.4l1.3 1.7 3.4 7.7-1.3-1.5zM508.8 477.8l3.4-7.1 1.7-2.3-3.4 7.7zM580 470.8l2.2 4.4 3.1 5.6-2.2-3.5z"/><path fill="#4545de" d="M516 481.1l4.2-5.1 1.1 0-4.2 4.9zM515.1 481.3l4.2-5.2 1-.1-4.2 5.1zM572.9 476.4l1 .2 4.2 4.9-1-.2zM573.8 476.6l1 .2 4.2 5-1-.3zM574.7 476.8l.9.2 4.2 5-.9-.2zM575.5 477l1 .2 4.1 5.1-.9-.3zM576.4 477.2l.8.3 4.2 5-.9-.2zM577.1 477.5l1 .4 4.1 5-.9-.4zM578 477.9l.8.5 4.3 4.8-1-.3zM578.8 478.4l1 .4 4.2 4.8-1-.4zM505.9 484.6l4.1-5 1.4-.7-4.2 5.2zM504.5 485.3l4.2-4.8 1.4-.9-4.1 5z"/><path fill="#4557f3" d="M564.7 470.6l1.5-.4 3.8 6.6-1.5 0zM579.7 474.9l1.3 1.5 3.7 6-1.3-1z"/><path fill="#337ef6" d="M546.4 463.6l2.6-4.5 2.8 5.7-2.6 3.3zM541.4 464.7l2.8-5.6 2.6 4.5-2.8 4.5zM564.2 462.1l1.1-.4 3.4 8.5-1 .1zM574.1 464.8l1.1 1.1 3.5 8.3-1.2-.9z"/><path fill="#3081f6" d="M534.5 466.2l3.1-7.3 2.2 2.6-3.2 6.5zM553.5 461.6l2.1-2.5 3.2 7.2-2.2 1.8zM523.5 469.6l3.4-8.7 1 .2-3.4 8.7zM566.3 461.5l.9 0 3.5 8.7-1 0zM567.2 461.5l.9 0 3.4 8.8-.8-.1zM571.3 462.7l.9.5 3.5 8.7-1-.4zM572.2 463.2l.9.7 3.4 8.6-.8-.6zM513.3 473.4l3.4-8.4 1.3-1.2-3.4 8.7zM578.1 467l1.9 3.8 3.1 6.5-1.9-3.1z"/><path fill="#3972f6" d="M528.1 470.8l3.6-7.7 1.5 1.3-3.5 7.1zM560 464.5l1.6-1.1 3.5 7.6-1.6.8zM577.8 469.1l1.5 2.1 3.4 7.1-1.5-1.5z"/><path fill="#2a8df3" d="M548.8 459.2l2.3-3.8 2.8 6.5-2.3 3zM510.1 473.9l3.1-7.1 1.9-3.4-3.1 7.7z"/><path fill="#2a8df0" d="M539.4 461.8l2.7-6.4 2.3 3.8-2.8 5.6z"/><path fill="#425df6" d="M521 476.4l3.7-7 1.1.1-3.7 6.9zM568.5 469.8l1 0 3.7 7-1 0zM569.5 469.8l1 0 3.6 7.2-.9-.2zM575.5 471.5l.8.6 3.7 7.1-.9-.4zM576.3 472.1l1 .8 3.7 6.9-1-.6zM508.5 480.9l3.7-6.7 1.3-1.2-3.7 7zM502.5 485.2l3.3-4.8 2.3-3.7-3.4 5.7z"/><path fill="#2793ed" d="M544 459.3l2.6-5.2 2.6 5.2-2.6 4.5z"/><path fill="#2a8af3" d="M532.8 464.8l3.1-7.9 1.9 2-3.1 7.3zM555.4 459.1l1.9-2 3.1 7.8-1.8 1.4z"/><path fill="#3678f6" d="M526.8 470.3l3.4-8.1 1.5.9-3.5 7.7zM507.9 477.1l3.1-6.2-2.2 4.6-3.2 5.3z"/><path fill="#4260f6" d="M520 476.4l3.7-7.2 1 .2-3.7 7zM519.1 476.5l3.7-7.3.9 0-3.7 7.2zM570.5 469.8l.8.1 3.7 7.3-.9-.2zM571.3 469.9l.8.2 3.7 7.3-.8-.2zM572.1 470.1l.8.3 3.8 7.2-.9-.2zM572.9 470.4l.8.3 3.7 7.2-.7-.3zM573.7 470.7l.8.4 3.8 7.2-.9-.4zM574.5 471.1l1 .4 3.6 7.3-.8-.5zM509.8 480l3.7-7 1.3-.9-3.7 7.2z"/><path fill="#2199e7" d="M550.9 455.4l2.1-3 2.8 7.1-2.1 2.5zM537.4 459.3l2.8-7.2 2.1 3.4-2.7 6.4zM560.1 454.4l1.3-.8 3 8.9-1.3.5zM572.3 457.4l1.3 1.7 3.1 8.7-1.3-1.5zM513.7 468.8l3.1-8.3 1.5-2.3-3.1 8.7zM575.5 460.2l2 4.4 2.7 6.6-1.9-3.8z"/><path fill="#337bf6" d="M525.6 469.9l3.4-8.3 1.2.6-3.4 8.1zM563 462.6l1.2-.5 3.5 8.2-1.3.3zM575.2 465.9l1.3 1.5 3.4 7.9-1.2-1.1zM510.5 476.1l3.4-7.7 1.5-1.9-3.4 8.1z"/><path fill="#1ba2e1" d="M541.9 455.7l2.7-6.1 2.2 4.7-2.6 5.2zM546.4 454.2l2.3-4.5 2.6 6-2.3 3.8zM526.7 461.3l3-9.4 1.1.5-3.1 9.1zM563.5 452.7l.8-.2 3.1 9.4-.9 0zM564.3 452.5l.9 0 3.1 9.4-.9 0zM565.2 452.5l.8.1 3.1 9.5-.8-.2zM567.6 453.2l.9.5 3 9.4-.8-.5zM568.5 453.7l.8.7 3.1 9.2-.9-.5zM569.3 454.4l.9.7 3.1 9.2-.9-.7zM516.5 465.4l3.2-9 1.2-1.4-3.1 9.2z"/><path fill="#2793f0" d="M531.5 463.5l2.9-8.3 1.6 1.7-3 7.9z"/><path fill="#2790f0" d="M557.2 457.1l1.6-1.5 3 8.2-1.6 1.1zM574.9 461.2l1.6 2.6 3 7.8-1.5-2.1z"/><path fill="#3f60f6" d="M518.2 476.6l3.7-7.4.9 0-3.7 7.3zM511.1 479.3l3.7-7.2 1.1-.7-3.7 7.4z"/><path fill="#307ef6" d="M524.5 469.8l3.4-8.7 1.1.5-3.4 8.3zM565.3 461.7l1-.2 3.4 8.7-1 0zM573.1 463.9l1 .9 3.4 8.5-1-.8zM512 474.6l3.4-8.1 1.3-1.5-3.4 8.4z"/><path fill="#1ba5e1" d="M552.8 452.4l1.9-2.6 2.8 7.7-1.9 2zM535.7 457.3l2.9-7.8 1.8 2.6-2.8 7.2zM525.8 461.1l3.1-9.5.9.3-3.1 9.4zM566 452.6l.8.3 3.1 9.4-.8-.2zM566.8 452.9l.8.3 3.1 9.4-.8-.3zM517.8 464.2l3.1-9.2 1.1-1.1-3.1 9.4zM573.8 456.5l1.7 3.7 2.8 7.2-1.6-3.2z"/><path fill="#2496ea" d="M530 462.6l3-8.6 1.5 1.2-2.9 8.3zM558.7 455.6l1.5-1.2 3 8.6-1.5.8zM573.6 459.1l1.3 2.1 3.1 8.3-1.3-1.7z"/><path fill="#12b1d5" d="M540 452.4l2.6-6.6 2.2 3.9-2.7 6.1zM548.5 449.8l2.1-3.8 2.6 6.7-2.1 3.1zM556.1 447.8l1.5-1.4 2.7 8.4-1.5 1.2zM570.9 451l1.4 2.4 2.8 8.2-1.3-2.1zM573.2 453.9l1.9 5 2.6 6.1-2-4.4zM515.6 460.6l2.5-6.5-2 5.5-2.6 5.8z"/><path fill="#12b4d2" d="M544.4 449.8l2.2-5.2 2.3 5.3-2.3 4.6z"/><path fill="#219ce7" d="M528.8 462l3-9 1.3 1-3 8.6zM510.8 471.3l2.9-6.3 2.1-4.8-2.8 7z"/><path fill="#15aed8" d="M534.3 455.6l2.7-8.2 1.8 2.1-2.9 7.8z"/><path fill="#15aedb" d="M554.6 449.8l1.6-2 2.7 8.2-1.6 1.5zM572.3 453.4l1.5 3.1 2.9 7.7-1.6-2.6z"/><path fill="#3084f6" d="M522.6 469.6l3.4-8.9.9.2-3.4 8.7zM568.1 461.5l.8.2 3.4 8.8-.8-.2zM568.9 461.7l.8.2 3.4 8.9-.8-.3zM569.7 461.9l.8.3 3.4 8.9-.8-.3zM570.5 462.2l.8.5 3.4 8.8-.8-.4zM514.6 472.5l3.4-8.7 1.1-.9-3.4 8.9zM507.9 477.1l3.1-6.2 2.2-4.1-3.1 7.1z"/><path fill="#0fb7cc" d="M538.4 449.9l2.5-7.1 1.9 3-2.6 6.7zM550.4 446l1.9-3 2.6 7.2-1.9 2.6zM518.1 458.6l2.7-8.5 1.5-2.1-2.7 8.8zM571.5 449.7l1.7 4.2 2.5 6.7-1.7-3.7z"/><path fill="#2d84f6" d="M521.7 469.6l3.4-9 .9.1-3.4 8.9z"/><path fill="#1e9fe4" d="M527.7 461.5l3-9.1 1.2.6-3 9zM562.5 453l1.1-.3 2.9 9.2-1.1.2zM570.2 455.1l1 1 3.1 9.1-1-.9zM515.2 466.9l3.1-8.7 1.4-1.8-3.2 9z"/><path fill="#1e9ce4" d="M561.3 453.6l1.3-.6 2.9 9.1-1.2.4zM571.2 456.1l1.1 1.3 3.1 8.9-1.1-1.1z"/><path fill="#0cbac3" d="M542.4 446.1l2.3-5.7 2.1 4.3-2.2 5.3zM546.4 444.7l2.2-4.3 2.2 5.9-2.1 3.8zM527.8 451.9l2.9-9.3.8.2-2.7 9.2zM521.8 454.3l2.9-9.1 1-.8-2.9 9.1z"/><path fill="#12b1d2" d="M532.9 454.4l2.7-8.5 1.5 1.5-2.7 8.2z"/><path fill="#2d87f6" d="M520.9 469.8l3.4-9.1.8-.1-3.4 9zM520.1 469.9l3.4-9.1.8-.1-3.4 9.1zM519.3 470.1l3.4-9.1.8-.2-3.4 9.1zM518.5 470.3l3.4-8.9.8-.4-3.4 9.1zM517.6 470.8l3.4-9.1.9-.3-3.4 8.9zM516.7 471.2l3.4-9 .9-.5-3.4 9.1zM515.7 471.8l3.4-8.9 1-.7-3.4 9z"/><path fill="#0fbac0" d="M536.8 447.8l2.6-7.4 1.7 2.4-2.5 7.1zM527 451.9l2.7-9.3 1 0-2.9 9.3zM526.2 452l2.7-9.4.9 0-2.7 9.3zM522.8 453.5l2.9-9.1.8-.8-2.8 9.3z"/><path fill="#0fbac3" d="M552.1 443l1.7-2.3 2.6 7.5-1.7 2zM569.9 446.4l1.6 3.3 2.5 7.2-1.5-3.1z"/><path fill="#0fb4cf" d="M531.7 453.4l2.7-8.7 1.3 1.2-2.7 8.5zM557.5 446.4l1.3-1 2.7 8.6-1.3.8zM569.7 449.1l1.2 1.9 2.9 8.5-1.3-1.7zM516.6 460.9l2.8-8.2 1.5-2.6-2.7 8.5z"/><path fill="#2ac3a5" d="M540.7 443.1l2.3-6.2 1.9 3.6-2.3 5.7zM555.1 438.9l1.3-1.2 2.5 8.1-1.3 1zM567.5 441.6l1.1 2.1 2.5 7.7-1.3-1.9z"/><path fill="#27c3a8" d="M548.4 440.5l1.8-3.4 2.3 6.2-1.9 3.1zM519.2 453.1l2.4-7.4 1.7-3-2.5 7.8zM571.7 450.1l1.7 4.2-2.4-5.9-1.7-4.5z"/><path fill="#30c69f" d="M544.5 440.6l2.1-4.7 2.2 4.7-2.2 4.4z"/><path fill="#0fb7c9" d="M530.6 452.8l2.7-9 1.2.9-2.7 8.7zM559.8 444.5l1.1-.4 2.8 9-1.1.3zM560.8 444.1l1-.3 2.7 9.1-.8.2zM566.7 445.6l.9.8 2.8 9.1-.9-.7zM567.6 446.4l1 1.2 2.8 8.9-1-1zM519.5 456.8l2.7-8.8 1.3-1.6-2.7 9zM515.6 460.6l2.5-6.5 1.9-4.7-2.4 7.1z"/><path fill="#0fb4cc" d="M558.7 445.4l1.2-.9 2.8 8.9-1.3.6zM568.6 447.6l1.1 1.5 2.8 8.7-1.1-1.3z"/><path fill="#21c0ae" d="M535.5 446.3l2.5-7.8 1.5 1.9-2.5 7.4z"/><path fill="#1ec0b1" d="M553.7 440.7l1.5-1.8 2.5 7.9-1.5 1.4zM568.6 443.7l1.3 2.7 2.6 7.4-1.5-2.4z"/><path fill="#18a5de" d="M524.9 461l3.1-9.5.9.1-3.1 9.5zM518.9 463.3l3.1-9.4 1-.8-3.1 9.5z"/><path fill="#42c98d" d="M539.2 440.8l2.4-6.4 1.6 2.5-2.3 6.3z"/><path fill="#3fc990" d="M550 437.1l1.7-2.6 2.3 6.6-1.7 2.3zM532.2 443.6l2.5-8.2 1.1.7-2.5 8.1zM558.5 436.4l1.1-.4 2.3 8.2-1 .3zM564.3 437.7l1.1 1 2.4 8.1-.9-.8zM522.1 448.4l2.6-8 1.1-1.8-2.4 8.2zM567.8 440.2l1.5 3.7 2.4 6.2-1.7-3.3z"/><path fill="#18a8de" d="M524.1 461.1l3.1-9.6.8 0-3.1 9.5zM523.3 461.2l3.1-9.6.8-.1-3.1 9.6zM522.5 461.4l3.2-9.7.7-.1-3.1 9.6zM521.7 461.8l3.1-9.7.9-.4-3.2 9.7zM520.8 462.1l3.1-9.6.9-.4-3.1 9.7zM519.9 462.6l3.1-9.5.9-.6-3.1 9.6zM513 467.2l2.8-7 1.9-4.1-2.7 7.7z"/><path fill="#0fb7c6" d="M529.6 452.3l2.7-9.1 1.1.6-2.7 9zM561.7 443.8l1 0 2.7 9.1-1 0zM565.8 444.9l.9.7 2.8 9.2-.8-.7z"/><path fill="#54c97b" d="M542.8 437.2l2.1-5 1.9 3.8-2.1 4.8zM546.4 436l1.9-3.6 2.1 5-1.8 3.4zM551.5 434.5l1.6-1.9 2.3 6.7-1.6 1.8zM528 443.2l2.7-8.4.7-.2-2.6 8.4zM527.2 443.5l2.4-8.4 1.1-.3-2.7 8.4zM566.5 437.4l1.3 2.8 2.3 6.6-1.3-2.7z"/><path fill="#2dc3a2" d="M534.3 445.1l2.5-8 1.3 1.4-2.5 7.8z"/><path fill="#0cb7c6" d="M528.7 452l2.7-9.2 1 .4-2.7 9.1zM562.6 443.8l1 0 2.6 9.2-.9-.1zM563.5 443.8l.7.2 2.8 9.3-.8-.3zM564.2 444l.8.4 2.8 9.2-.8-.3zM565 444.4l.8.5 2.9 9.2-.9-.5zM520.7 455.4l2.7-9 1.3-1.2-2.9 9.1z"/><path fill="#5ac978" d="M537.8 438.9l2.3-6.7 1.7 2.2-2.4 6.4z"/><path fill="#36c996" d="M533.2 444.2l2.5-8.1 1.2 1-2.5 8z"/><path fill="#33c69c" d="M556.3 437.7l1.3-.9 2.4 8.1-1.2.9zM566.3 439.9l1.3 1.7 2.3 7.9-1.2-1.5zM520.7 450.5l2.5-7.8 1.5-2.3-2.5 8z"/><path fill="#75c960" d="M541.4 434.7l2-5.3 1.7 2.9-2.1 5zM548.1 432.5l1.7-3 2.1 5.3-1.7 2.7zM554.2 431.2l1.2-.8 2.3 6.8-1.3.9z"/><path fill="#81c95a" d="M544.7 432.4l1.9-4 1.9 4.2-1.9 3.7z"/><path fill="#39c996" d="M557.5 436.8l1.1-.4 2.4 8.1-1.1.4zM565.3 438.7l1.1 1.2 2.4 8.1-1.1-1.2z"/><path fill="#6cc969" d="M536.7 437.5l2.2-6.8 1.3 1.5-2.2 6.7z"/><path fill="#66c96c" d="M553 432.6l1.3-1.4 2.2 6.9-1.3 1.2zM565.2 435.1l1.3 2.3 2.3 6.7-1.1-2.1z"/><path fill="#93c94b" d="M539.9 432.6l2.1-5.5 1.6 2.3-2 5.4z"/><path fill="#90c94e" d="M549.6 429.5l1.6-2 2.1 5.5-1.6 1.9zM533.6 435.3l2.3-6.9 1 .4-2.2 7zM558.9 429.2l.9.2 2.2 7.1-.9-.2zM559.7 429.4l.8.4 2.3 7.1-.8-.4zM525.6 439l2.4-6.9 1.1-1.5-2.3 7.2z"/><path fill="#48c987" d="M531.3 443.2l2.4-8.3 1.1.5-2.5 8.2zM561 435.9l.8.2 2.6 8.3-.7-.2zM561.8 436.1l.8.4 2.6 8.3-.8-.4zM523.3 446.8l2.4-8.2 1.2-1.2-2.3 8.2zM519.8 449.8l2.4-6.1 1.7-4.1-2.4 6.5z"/><path fill="#a5c63c" d="M543.2 429.7l1.9-4.3 1.7 3.1-1.9 4.1z"/><path fill="#a5c63f" d="M546.4 428.5l1.7-3 1.9 4.3-1.7 3z"/><path fill="#7bc95d" d="M535.6 436.5l2.2-6.9 1.2 1.1-2.2 6.8zM523.7 440l2.1-5.4-1.7 4.4-2.1 5.1z"/><path fill="#12babd" d="M525.5 452.1l2.6-9.3.9-.2-2.8 9.4zM524.6 452.5l2.7-9.4.9-.3-2.6 9.3z"/><path fill="#45c98a" d="M559.5 436l.8-.1 2.5 8.3-1 0zM563.5 437l.8.7 2.6 8.3-1-.7z"/><path fill="#4ec984" d="M530.5 443l2.4-8.3.9.2-2.4 8.3zM524.5 445.6l2.3-8.2 1.1-1-2.3 8.4z"/><path fill="#a8c63c" d="M538.7 431.1l2.1-5.6 1.4 1.6-2.1 5.5z"/><path fill="#a2c63f" d="M551 427.5l1.4-1.5 2.1 5.6-1.4 1.4zM563.3 429.9l1.3 2.3 2.1 5.6-1.3-2.3z"/><path fill="#87c954" d="M534.6 435.8l2.2-7 1.1.8-2.2 6.9zM556.3 429.7l1-.3 2.4 7-1.1.4zM562.2 431l.9 1.1 2.4 7-1.1-1z"/><path fill="#7ec95a" d="M555.3 430.4l1.1-.7 2.3 7.1-1.1.4zM563.1 432.1l1 1.3 2.4 6.9-1-1.2z"/><path fill="#c0c336" d="M547.9 425.6l1.7-2.2 1.8 4.4-1.6 2.1zM541.8 427.4l1.9-4.3 1.6 2.4-1.9 4.3zM526.5 434.3l2.2-5.6 1.2-2-2 5.8z"/><path fill="#48c98a" d="M560.2 435.9l.8 0 2.7 8.3-1 0zM562.6 436.5l1 .5 2.4 8.3-.8-.5z"/><path fill="#51c981" d="M529.6 443l2.5-8.4.9.1-2.4 8.3z"/><path fill="#c9c036" d="M544.9 425.6l1.7-3.2 1.7 3.3-1.7 3.1zM555.3 423.9l1-.1 2 5.8-1 .2zM559.5 424.9l.8.8 2.1 5.7-.7-.6zM525.6 435l1.9-4.3 1.5-3.3-1.9 4.4z"/><path fill="#b7c339" d="M537.7 430l2-5.6 1.2 1.1-2 5.6z"/><path fill="#b1c639" d="M552.3 426l1.3-1 1.9 5.8-1.2.8zM562.2 428.1l1.1 1.8 2.1 5.6-1.1-1.7zM525.2 436.8l2.1-5.4 1.4-2.7-2.2 5.6z"/><path fill="#12bac0" d="M523.7 452.9l2.7-9.3 1-.5-2.7 9.4z"/><path fill="#54c97e" d="M528.8 443l2.5-8.4.9 0-2.5 8.4zM526.3 444l2.6-8.4.8-.5-2.4 8.4z"/><path fill="#d2bd36" d="M549.4 423.4l1.3-1.5 1.9 4.5-1.4 1.5zM534.9 428.4l2-5.8 1 .3-2 5.9zM561.6 425.8l1.3 2.3 1.9 4.5-1.3-2.3z"/><path fill="#d5bd36" d="M540.6 425.9l2-4.4 1.3 1.6-1.9 4.4zM528.9 431l2.1-5.6 1-1.2-2.1 5.8z"/><path fill="#96c948" d="M532.8 435.1l2.2-7.1 1 .4-2.3 6.9zM526.7 437.8l2.4-7.2 1-1-2.4 7.2z"/><path fill="#8ac951" d="M557.2 429.4l1-.2 2.2 7.1-.7.1zM561.5 430.4l.7.6 2.3 7.1-.8-.7z"/><path fill="#e1ba39" d="M546.4 422.5l1.6-2.1 1.8 3.3-1.7 2.2zM543.5 423.4l1.7-3.3 1.6 2.4-1.7 3.3zM539.5 424.8l1.9-4.4 1.4 1.1-2 4.4z"/><path fill="#c3c036" d="M536.7 429.2l2-5.7 1.1.9-2 5.6zM554.5 424.4l.9-.5 2 5.9-1 .3zM560.3 425.7l.9 1 2.1 5.8-.9-1.1z"/><path fill="#bdc339" d="M553.5 425l1.1-.6 1.9 5.7-1.1.7zM561.2 426.7l1 1.4 2.1 5.7-1-1.3z"/><path fill="#99c645" d="M532 435l2.2-7.2.9.2-2.2 7.1zM523.7 440l2.1-5.4 1.5-3.2-2.1 5.4z"/><path fill="#8dc94e" d="M558.1 429.2l.9 0 2.2 7.1-.9 0zM560.5 429.8l1.1.6 2.1 7-1-.5zM564.6 432.2l1.3 3 2.1 5.4-1.3-2.8z"/><path fill="#deba36" d="M550.5 421.9l1.3-1.1 2 4.6-1.4 1zM560.5 423.9l1.1 1.9 1.9 4.5-1.1-1.8z"/><path fill="#4239cc" d="M494.9 490.9l4.3-2.6 2.3-1.8-4.1 3.1z"/><path fill="#ccc036" d="M535.8 428.8l2-5.9 1 .6-2 5.7zM556.2 423.8l.9 0 2 5.8-.9 0zM558.6 424.4l.9.5 2.2 5.9-1.1-.6zM527.8 432.5l2-5.8 1.2-1.3-2.1 5.6z"/><path fill="#f0b73c" d="M547.8 420.5l1.4-1.8 1.7 3.5-1.3 1.6zM542.4 421.8l1.6-3.3 1.4 1.7-1.7 3.3zM537.6 423.3l2.1-4.4.8.5-1.8 4.5zM553.6 419.8l1-.2 1.8 4.6-1 .1zM557.7 420.7l.9.8 1.9 4.6-.8-.8zM529.7 427.1l2-4.5 1-1.4-1.9 4.6z"/><path fill="#f3b73c" d="M545 420.3l1.6-2.3 1.6 2.6-1.6 2.2zM554.5 419.6l.8 0 1.9 4.6-.8 0zM555.3 419.6l.8.2 1.9 4.6-.8-.2zM556.1 419.8l.8.4 1.9 4.6-.8-.4zM556.9 420.2l.8.5 2 4.6-.9-.5z"/><path fill="#9fc642" d="M531.2 435l2.2-7.1.9-.1-2.2 7.2zM530.5 435.2l2.1-7.2.9-.1-2.3 7.1zM529.5 435.5l2.2-7.1 1-.4-2.1 7.2zM528.7 436l2.3-7.1.8-.5-2.3 7.1z"/><path fill="#eaba39" d="M538.5 423.9l1.9-4.5 1.2 1-1.9 4.4zM528.5 429.1l1.7-4.5 1.5-2-2 4.5z"/><path fill="#e7ba39" d="M551.6 420.8l1.2-.7 2 4.7-1.2.6zM559.5 422.6l1 1.3 1.9 4.6-1-1.4z"/><path fill="#f9ba3c" d="M541.2 420.8l1.7-3.6 1.3 1.4-1.6 3.3zM535.2 422.9l1.9-4.5.8 0-1.9 4.5zM534.5 423l1.8-4.5.8-.1-1.9 4.5zM533.5 423.4l2-4.6.8-.3-1.7 4.5zM532.7 423.9l2-4.5.8-.6-2 4.6z"/><path fill="#f6ba3c" d="M549 418.7l1.3-1 1.7 3.5-1.3 1.1zM536 422.9l1.9-4.5.8.1-1.9 4.5zM531.8 424.6l1.9-4.5 1-.7-2 4.5zM559 420.8l1.1 1.8 1.7 3.6-1.1-1.9z"/><path fill="#51c97e" d="M525.5 444.8l2.3-8.4 1.1-.8-2.6 8.4z"/><path fill="#fcc039" d="M543.8 418.7l1.6-2.3 1.4 1.8-1.6 2.3zM546.4 418.1l1.4-1.7 1.6 2.6-1.4 1.8zM540.2 419.8l1.7-3.4 1.2.8-1.7 3.6zM551.1 417l1.1-.4 1.7 3.6-1.1.3zM557.1 418.4l.9 1 1.7 3.6-.9-1.1zM530.1 425l1.8-3.4 1.2-2-1.5 3.4z"/><path fill="#d8bd36" d="M534.1 428.2l2-5.7.9.1-2 5.8zM529.9 430l2.1-5.8.9-.7-2.1 5.8z"/><path fill="#edb73c" d="M552.7 420.1l1-.3 1.8 4.5-.9.5zM558.6 421.5l.9 1.1 1.9 4.5-.9-1zM560.1 422.6l1.2 2.4 1.8 3.5-1.3-2.3z"/><path fill="#f9bd39" d="M550.1 417.7l1.2-.7 1.7 3.5-1.2.7zM558 419.4l1 1.4 1.7 3.5-1-1.3z"/><path fill="#cfc036" d="M557 423.8l.8.2 2.1 5.8-.8-.2zM557.8 424l.8.4 2.1 5.8-.8-.4z"/><path fill="#dbbd36" d="M533.3 428.3l2.1-5.8.8 0-2.1 5.7zM532.5 428.4l2.2-5.8.7-.1-2.1 5.8zM531.6 428.8l2-5.8 1.1-.4-2.2 5.8zM530.8 429.3l2.1-5.8.8-.5-2.1 5.8z"/><path fill="#396ff6" d="M506.9 480l3.4-6.5 1.9-2.8-3.4 7.1z"/><path fill="#f6b73c" d="M536.8 423l1.8-4.5 1.2.4-2 4.4zM530.8 425.8l1.9-4.6 1-1.1-1.9 4.5z"/><path fill="#ffc636" d="M542.7 417.5l1.6-2.4 1.3 1.4-1.6 2.4zM547.6 416.5l1.3-1.1 1.6 2.6-1.3 1.1zM538.4 418.9l1.7-3.4 1.1.3-1.6 3.5zM553 416.5l.8 0 1.7 3.5-.8 0zM553.8 416.5l.8.2 1.7 3.5-.8-.2zM554.6 416.7l1 .4 1.5 3.5-.8-.4zM557.7 418.5l1.1 1.9 1.5 2.6-1.1-1.8z"/><path fill="#fcc936" d="M545.2 416.6l1.4-1.8 1.4 1.8-1.4 1.8z"/><path fill="#ffc339" d="M539.4 419.3l1.6-3.5 1.1.6-1.7 3.4zM552 416.6l1.1-.1 1.7 3.5-1.1.2zM556.2 417.6l.9.8 1.7 3.5-.9-.8zM531.5 423l1.6-3.4 1.1-1.5-1.7 3.5z"/><path fill="#454be4" d="M498.8 488.6l4-3.8 2.2-2.8-3.8 4.8z"/><path fill="#fccc33" d="M541.7 416.7l1.6-2.3 1.2.8-1.6 2.4zM536 418.9l1.8-3.4 1-.1-1.9 3.4zM535.3 419.2l1.7-3.4.8-.3-1.7 3.4zM534.5 419.8l1.6-3.4.9-.6-1.7 3.4z"/><path fill="#fcc933" d="M548.7 415.5l1.2-.8 1.6 2.6-1.2.8zM537.6 418.8l1.8-3.4.9.1-1.8 3.4zM536.8 418.8l1.9-3.4.7 0-1.7 3.4zM533.5 420.5l1.7-3.4.9-.7-1.5 3.4zM556.7 417.2l1 1.3 1.5 2.7-1-1.4z"/><path fill="#9cc645" d="M527.7 436.8l2.4-7.2.9-.7-2.2 7.1z"/><path fill="#2496ed" d="M512 471.1l3.1-7.7 1.7-2.9-3.1 8.3z"/><path fill="#2d8af6" d="M576.5 463.8l1.6 3.2 3.1 7.2-1.7-2.6z"/><path fill="#fccf30" d="M544.1 415.3l1.5-1.7 1.2 1.4-1.4 1.8zM546.4 414.9l1.3-1.1 1.4 1.9-1.3 1.1zM540.8 416.1l1.5-2.4 1.2.8-1.6 2.3zM550.7 414.4l.9-.2 1.7 2.7-1.1.1zM551.5 414.2l1 .2 1.6 2.5-.9 0zM553.9 414.8l1 .6 1.6 2.6-.8-.5zM554.9 415.4l.8.7 1.6 2.7-.9-.8zM532.9 420l1.5-2.6 1.1-1.5-1.5 2.6z"/><path fill="#fccc30" d="M549.7 414.7l1.2-.3 1.5 2.6-1.1.4zM555.7 416.1l1 1.1 1.5 2.6-.9-1z"/><path fill="#fcd52d" d="M543.1 414.7l1.5-1.9 1.2.9-1.5 1.8zM539.1 415.8l1.7-2.6 1 .2-1.8 2.5z"/><path fill="#fcd22d" d="M547.5 413.9l1.2-.8 1.4 1.9-1.2.8zM539.9 415.9l1.8-2.5.8.3-1.6 2.5zM552.4 414.4l.8.1 1.7 2.6-.9-.2zM553.1 414.5l.9.3 1.8 2.7-1-.4zM534 418.5l1.5-2.6 1-1-1.5 2.6zM555.4 415.6l1.1 1.3 1.5 2-1.1-1.3z"/><path fill="#fcd52a" d="M545.4 413.8l1.2-1.2 1.3 1.4-1.3 1.2zM538.4 415.8l1.6-2.6.9 0-1.7 2.6zM534.9 417.5l1.6-2.6 1.1-.7-1.7 2.6z"/><path fill="#75c963" d="M564.1 433.4l1.1 1.7 2.5 6.9-1.2-1.7z"/><path fill="#f9d82a" d="M542.1 414l1.5-1.6 1.2.5-1.5 1.9zM549.4 412.9l1.2-.3 1.3 1.9-.9.3zM536.7 416.2l1.6-2.5 1-.3-1.7 2.5zM553.5 413.8l1 .8 1.5 1.9-.9-.7z"/><path fill="#f9d52a" d="M548.5 413.2l1.1-.4 1.5 1.9-1.2.4zM537.5 415.9l1.7-2.5.9-.2-1.6 2.6zM535.8 416.8l1.7-2.6.9-.5-1.6 2.5zM554.4 414.6l1.1 1 1.5 2-1.1-1.1z"/><path fill="#f9db27" d="M544.4 413l1.2-1.2 1.2 1-1.2 1.2zM546.4 412.7l1.2-.7 1.3 1.4-1.2.8zM541.4 413.7l1.3-1.8 1.1.6-1.6 1.6zM551.1 412.7l.9.2 1.5 2-.8-.1zM551.9 412.9l.9.5 1.5 1.8-.9-.3zM535.2 416.3l1.6-1.9 1.1-1-1.6 1.9z"/><path fill="#12b1d8" d="M514.9 463.8l2.8-7.7 1.7-3.4-2.7 8.2z"/><path fill="#84c957" d="M524.5 440.8l2.1-6.9 1.4-1.8-2.4 6.9z"/><path fill="#f9de24" d="M543.4 412.7l1.3-1.3 1.1.5-1.2 1.3zM539.7 413.5l1.5-1.7.9.1-1.5 1.7zM536.2 415.3l1.6-1.9 1-.7-1.5 1.9z"/><path fill="#f9de27" d="M547.4 412.1l1.2-.4 1.2 1.4-1.1.4zM540.5 413.5l1.5-1.7.9.2-1.3 1.8z"/><path fill="#f9e124" d="M545.4 412l1.2-.6 1.2.8-1.2.8zM548.4 411.8l.9-.2 1.5 1.3-1.2.3zM549.2 411.7l.9-.1 1.4 1.4-.8 0zM538.9 413.8l1.5-1.9.9-.1-1.5 1.8zM550 411.7l.9.2 1.4 1.3-.9-.1zM538 414.1l1.7-1.9.8-.3-1.5 1.9zM550.8 412l.9.2 1.4 1.6-.9-.5zM537.2 414.6l1.5-1.9 1.1-.5-1.7 1.9zM551.6 412.2l.9.5 1.4 1.5-.9-.4zM552.4 412.7l1.2.8 1.2 1.5-1-.8z"/><path fill="#ffc336" d="M555.5 417.1l.7.5 1.7 3.5-.8-.5z"/><path fill="#f9d827" d="M550.4 412.6l.8.1 1.6 2.1-1-.2zM552.7 413.4l.9.4 1.6 2-1-.6z"/><path fill="#f9e424" d="M542.5 412.2l1.3-1.2 1.1.5-1.3 1.3z"/><path fill="#f9e421" d="M544.5 411.6l1.2-.8 1.1.8-1.2.6zM546.4 411.6l1.2-.6 1.2.9-1.2.5zM541.7 412.1l1.4-1.2.9.2-1.4 1.2z"/><path fill="#72c963" d="M523.1 443.1l2.2-6.7 1.4-2.5-2.1 6.9zM565.9 435.2l1.6 3.8 2 5.3-1.5-3.7z"/><path fill="#15bdba" d="M517.5 456.5l2.4-7.1 1.8-3.7-2.4 7.4z"/><path fill="#f9e721" d="M543.6 411.2l1.2-.7 1.1.5-1.2.8zM547.4 411.1l.9-.2 1.3 1-.9.2zM545.5 411l1.1-.5 1.2.7-1.2.6zM540.9 412.1l1.4-1.2.9.1-1.4 1.2zM548.2 411l.9 0 1.3.9-.9.1zM540.1 412.2l1.4-1.2.9 0-1.4 1.2zM549 411.1l.9.1 1.3 1-.9-.2zM539.4 412.5l1.3-1.1.9-.3-1.4 1.2zM549.8 411.3l.9.2 1.3 1-.9-.2zM538.4 413l1.4-1.2 1-.3-1.2 1.1zM537.5 413.8l1.4-1.4 1-.6-1.5 1.3z"/><path fill="#60c972" d="M521.5 446.1l2.4-6.5 1.5-3.2-2.2 6.7z"/><path fill="#f9ea1e" d="M542.8 411.2l1.3-.8.9.2-1.3.8zM544.6 410.7l1.1-.3 1.1.3-1.1.5zM546.4 410.6l1.3-.1.9.7-1 .2z"/><path fill="#fcc636" d="M532.5 421.6l1.7-3.5 1-1-1.7 3.4z"/><path fill="#f9ed1e" d="M542 411.2l1.3-.8.9.1-1.3.8zM547.4 410.6l.8 0 1.2.7-1 0zM543.8 410.6l1.2-.4.9.4-1.2.3zM545.5 410.6l1.1-.4 1.2.5-1.3.2zM541.2 411.3l1.3-.8.9 0-1.3.8zM548.1 410.7l.9.1 1.2.7-.9-.1zM540.4 411.7l1.4-.9.8-.2-1.4.7zM548.9 410.9l.8.2 1.3.7-.8-.2zM539.5 412.1l1.3-.9 1-.3-1.3.9z"/><path fill="#f9f01b" d="M543 410.6l1.2-.4.9.2-1.2.4zM546.4 410.3l.8.2 1.3.4-.7-.1zM544.7 410.4l1.2-.3.9.3-1.2.4z"/><path fill="#bdc336" d="M564.8 432.6l1.3 3-1.9-4.4-1.3-3.1z"/><path fill="#debd36" d="M527.1 431.8l1.9-4.4 1.3-2.8-1.7 4.5z"/></g>
<g opacity="0.80" shape-rendering="crispEdges"><path fill="#3f30b7" d="M598 489.8l2.1 1.2-4.6-.3-2.1-1.7zM486.3 495.2l4.2-.5-3.8 2.2-4 .2zM595.6 503.1l4.5 3.6-2.2.6-4.5-4zM567.1 511.9l4.5 4.5-2.2 1.1-4.6-4.2zM553.3 514.4l4.1 3.7-3.4 1.7-4.1-3.1zM543.1 515.8l3.7 2.8-4.1 2.2-3.7-2.6z"/><path fill="#3f2db4" d="M600.1 490.8l2.4 1.2-4.6 0-2.4-1.5zM490.7 492l4.6-1.3-2.5 1.7-4.7.8zM602.9 496.9l3.9 2.3-3.9.6-3.7-2.9zM479 498.4l4.1.2-4.4 1.8-4.1-.3zM598 502.9l4.5 3.3-2.5.6-4.5-3.6zM564.9 513.2l4.6 4.2-2.5 1.2-4.5-3.9zM562.6 514.6l4.5 3.9-2.7 1.3-4.5-3.5zM550.1 516.5l4.1 3.1-3.6 1.7-4.2-2.7zM539.2 518l3.7 2.6-4.3 1.8-3.8-2.3z"/><path fill="#3f2ab1" d="M602.5 491.8l2.6 1.3-4.6.7-2.6-2zM485.2 494.2l4.6-.5-3.2 1.9-4.6.2zM600.6 502.6l4.5 2.9-2.7.8-4.5-3.3zM560 516.2l4.5 3.5-3 1.3-4.5-3zM546.6 518.4l4.2 2.7-4.2 1.8-4.1-2.3z"/><path fill="#4236c0" d="M595.9 490.7l2.4 1.3-4.3-1.3-2.3-2.2zM584.7 504l4.5 5.4-1.1.4-4.5-5.6zM575.9 506.9l4.5 5.6-1.2.5-4.5-5.5zM558.7 510.1l4.2 4.8-2.7 1.7-4.2-4.3z"/><path fill="#3f2aae" d="M605 492.9l3 1.5-4.5.9-3-1.7zM482.1 495.5l4.5-.2-3.6 1.9-4.5 0zM478.6 496.9l4.5.1-4.1 1.8-4.4-.2zM606.8 496.5l3.7 1.8-3.9 1-3.9-2.2zM474.8 498.4l4.4.2-4.4 1.7-4.4-.3zM606.6 498.9l3.9 2-3.7 1.1-4.1-2.4zM603.5 502.2l4.5 2.6-3 .8-4.5-2.9zM557.1 517.8l4.5 3-3.3 1.5-4.5-2.7zM542.7 520.4l4.1 2.3-4.4 1.7-4-2.2z"/><path fill="#3f2db1" d="M488.1 493l4.7-.8-3 1.7-4.6.6zM603.7 494.9l3.3 1.9-4.2.5-3.2-2.4zM602.8 499.4l4.2 2.5-3.3.7-4.1-3z"/><path fill="#4236c6" d="M494.9 490.9l4.3-2.6-2.7 2.3-4.1 1.8zM596.2 494l3.4 3.1-3.4-.5-3.4-4.2z"/><path fill="#3f33bd" d="M598.3 491.8l2.6 1.9-4.2-.7-2.7-2.5zM489.4 493.6l4.2-1-3.2 2.4-4.2.5zM483 498.4l3.6-.1-4.5 2.2-3.6-.2zM596.8 499.4l4.1 3.5-2.7.4-4.2-4.3zM589.9 503.4l4.5 4.6-1.6.5-4.4-5zM570.7 509.7l4.5 5-1.8.9-4.5-4.8zM556.2 512.2l4.1 4.3-3.1 1.7-4.1-3.7zM546.6 513.4l3.7 3.3-3.7 2.1-3.7-2.8z"/><path fill="#4542d5" d="M592.1 488.8l2.3 2-3.9-2.7-2.3-3.2zM590.6 493.9l3.8 5.4-2.4-.4-3.8-6.3z"/><path fill="#3f2aab" d="M607.9 494.2l3.3 1.5-4.5 1.2-3.3-1.8zM606.7 501.6l4.5 2.1-3.3 1.2-4.5-2.5zM554 519.4l4.4 2.7-3.7 1.7-4.3-2.7z"/><path fill="#4233c0" d="M492.4 492.3l4.1-1.8-2.9 2.4-4.2 1zM486.7 496.5l3.8-.4-4.1 2.5-3.7.1zM587 503.7l4.5 5.1-1.3.3-4.5-5.2zM585.8 503.9l4.5 5.2-1.2.3-4.5-5.4zM574.8 507.5l4.5 5.5-1.3.5-4.6-5.4zM573.5 508.1l4.6 5.4-1.4.6-4.6-5.3zM539.9 513l3.4 3-4.1 2.4-3.4-2.5zM533.2 513.5l3 2.4-4.5 2.5-3-2.1z"/><path fill="#3f2db7" d="M600.9 493.4l2.9 1.8-4.1 0-3-2.5zM482.9 496.8l4-.2-4 2.2-4.1-.1zM599.7 499.5l4.1 3-3 .5-4.1-3.5z"/><path fill="#4545db" d="M498.8 488.6l4-3.8-2.7 3.1-4 2.9zM497 490.6l3.4-2.4-3.4 4.1-3.4 1.4zM496.4 494.4l2.8-.9-4.2 4.1-2.6.3zM497.7 496.8l2.1-.1-4.5 3.9-2.2-.1zM581.9 496.9l4.1 7.4-1.1.1-4.1-7.5zM570.9 500.4l4.2 7.5-1.4.6-4.1-7.4zM522.5 504.4l1.8 1.4-4.5 4.3-1.8-1.2z"/><path fill="#423ccc" d="M594.4 490.6l2.7 2.3-4-1.6-2.6-3.4zM593.2 495.1l3.9 4.7-2.8-.5-3.8-5.4zM589.7 498l4.1 5.6-2 .2-4.1-6.2zM563.2 506.2l4.2 6-2.3 1.4-4.1-5.4zM552.7 507.4l3.7 5.1-3.1 2.3-3.7-4.3zM528.3 509.4l2.5 2.2-4.6 3.2-2.5-2z"/><path fill="#4851f3" d="M588.6 485.3l2.3 3-3.5-4-2.3-3.9zM587.6 488.1l3.2 6.2-2.4-1.3-3.3-7.2zM503.5 491.5l2-.7-4 6-2.1.2z"/><path fill="#3f27ab" d="M611.1 495.5l3.7 1.6-4.6 1.4-3.6-1.8zM614.6 496.9l4 1.7-4.4 1.4-4.1-1.7zM610.3 498.1l4.1 1.7-4.1 1.3-3.9-2zM614.2 499.6l4.4 1.8-4 1.5-4.5-2zM610.2 500.7l4.6 2-3.7 1.2-4.5-2.1zM550.6 520.9l4.3 2.7-4.1 1.5-4.4-2.4zM546.6 522.5l4.4 2.4-4.4 1.7-4.4-2.4z"/><path fill="#423fd2" d="M496.1 490.7l4-3-2.9 3.3-4 1.8zM593.4 490.9l3 3.5-3.4-1.6-3.1-4.4zM593 492.4l3.4 4.2-3.1-1.1-3.4-5.1zM493.5 495.2l3-.7-4 3.5-3.1.2zM492.8 497.6l2.5-.3-4.5 3.2-2.7-.1zM546.6 506l3.4 4.6-3.4 3.2-3.4-3.9zM526.1 507.4l2.3 2.1-4.6 3.5-2.2-1.6zM534.4 507.4l2.8 3-4.2 3.5-2.6-2.2z"/><path fill="#4236c3" d="M597 492.6l3 2.5-3.9-.7-3-3.4zM490.3 494.6l3.7-1.1-3.7 2.9-3.8.4zM596.1 496.2l3.9 3.6-3.1 0-3.8-4.7zM486.5 498.2l3.3-.2-4.5 2.5-3.3-.1zM594.1 498.9l4.2 4.3-2.5.3-4.1-5zM583.7 504.2l4.5 5.6-1 .2-4.5-5.5zM582.8 504.5l4.5 5.5-1 .3-4.5-5.6zM581.9 504.7l4.5 5.6-.9.3-4.5-5.7zM581.1 504.9l4.5 5.7-.9.2-4.5-5.6zM580.3 505.2l4.5 5.6-.9.3-4.5-5.7zM579.5 505.4l4.5 5.7-.9.3-4.5-5.7zM578.7 505.7l4.5 5.7-1 .4-4.5-5.7zM577.8 506.1l4.5 5.7-1 .3-4.5-5.6zM576.9 506.5l4.5 5.6-1.1.4-4.5-5.6zM549.8 510.4l3.7 4.3-3.4 2.2-3.7-3.3z"/><path fill="#4854f3" d="M502.5 485.2l3.3-4.8-2.5 4.3-3.6 3.4zM582.5 489.5l3.8 8.3-1.6-.3-3.7-8.6zM563.4 495l3.7 8.6-1.9 1.4-3.7-8.1zM524.9 496.7l1.6 1.7-4.2 6.4-1.6-1.4zM546.6 496.4l3.2 5.8-3.2 4.2-3.1-4.8zM541.1 496.6l2.8 5-3.3 4.9-2.9-3.8z"/><path fill="#4548e4" d="M590.9 488.1l2.6 3.2-3.5-2.5-2.6-4.6zM590 490.4l3.5 5.1-2.8-1.2-3.2-6.2zM499.1 493.4l2.4-1-4 4.8-2.6.3zM501.7 496.4l1.7.1-4.5 4.4-1.8-.2zM519.7 502l1.4 1.1-4.5 4.8-1.5-1zM543.7 501.4l3.1 4.8-3.4 3.9-3-3.8z"/><path fill="#3f66f6" d="M585.3 480.8l2.4 3.8-3.3-4.4-2.2-5zM507.1 485l1.9-1.4-3.8 7.6-1.9.7zM529.8 490.6l2 2.4-3.8 7.5-1.9-1.7zM544 490.5l2.8 6.1-3.1 5.2-2.8-5z"/><path fill="#2a8df3" d="M580.2 471.2l2.2 4.4-3-5.8-1.9-5.2zM579.6 471.4l2.8 7.6-2.3-2.9-2.6-8.4zM510.9 472.8l2.3-3.2-3 8.3-2.3 2.4zM513.9 473.8l1.5-1.2-3.4 9.6-1.5.8zM530.1 477.4l1.6 2-3.4 9.6-1.5-1.6zM544.2 478.2l2.6 6.5-2.8 6.2-2.6-5.5z"/><path fill="#4239cc" d="M493.2 492.5l4-1.8-3.3 3.1-3.8 1.1z"/><path fill="#3f30ba" d="M599.9 494.8l3.2 2.4-3.7 0-3.4-3.1zM599.4 496.8l3.7 2.9-3.3.2-3.8-3.6zM593.5 503.2l4.5 4-2 .6-4.5-4.3zM591.6 503.4l4.5 4.3-1.8.4-4.5-4.6zM569 510.7l4.5 4.8-2 1-4.5-4.5zM536.1 515.7l3.3 2.5-4.5 2.1-3.3-2.1z"/><path fill="#454bea" d="M499.7 487.9l3.6-3.5-3 4.2-3.5 2.4zM586.1 491.4l3.9 7-2-.4-3.8-7.6zM504.8 496.2l1.5.2-4.5 5-1.4-.3zM516.3 499.7l1.1.7-4.5 5.2-1.1-.5zM528.1 500.1l2 2.4-4.2 5.3-2-1.8z"/><path fill="#3c69f6" d="M505.6 480.8l3.1-5.3-2.6 5.4-3.1 3.9zM505.8 482.6l2.3-2.7-3.4 7-2.2 1.9zM558.6 488l3.3 9.3-2.1 2.2-3.4-8.6z"/><path fill="#4557f6" d="M587.8 484.2l2.4 4.6-3.1-3.2-2.6-5.6zM587.2 485.2l3 5.6-2.6-2.3-3.1-6.7zM581 488.9l3.7 8.6-1.3-.1-3.7-9zM564.9 493.5l3.6 8.9-1.5 1.2-3.7-8.6zM523.5 495.4l1.5 1.3-4.2 6.7-1.4-1z"/><path fill="#f9e721" d="M552 412.5l.8.5-1.4-.8-.8-.6zM552.6 412.7l1.2 1.1-1.2-.6-1.2-1zM552.6 412.8l1 1.2-1-.2-1.2-1.3zM537.8 413.4l1.2-.6-1.3 1.8-1.2.6zM552.6 413.4l1.2 1.4-1.2-.2-1.2-1.6zM538.6 413.8l1.2-.1-1.7 2.3-.9.1zM551.8 414.1l1.3 2.1-1 .1-1.3-2.2zM539.7 413.7l.8.1-1.5 2.2-1 0zM551 414.1l1.3 2.2-1 .1-1.3-1.9zM550.2 414.4l1.3 1.9-.8.5-1.5-2.2zM541.1 414l1 .4-1.4 2.4-1-.6zM549.4 414.6l1.4 2.1-1.2.5-1.2-2zM541.9 414.4l1 .7-1.3 2.1-1.1-.5zM546.6 414.4l1.2 1.6-1.2 1.2-1.2-1.6zM542.7 415l1.1.8-1.5 2.2-.9-.9z"/><path fill="#f9f01b" d="M543 410.7l1.3-.4-.8.4-1.3 0zM548.5 410.8l.8.3-1.3-.3-.8-.3zM544.7 410.5l1.3-.2-.8.2-1.3-.1zM546.6 410.2l1 .4-1 .2-1-.6zM542.2 410.6l1.3 0-.7 0-1.4.5zM549.3 410.8l.8.6-1.3-.1-.8-.6zM547.4 410.4l1 .4-1 .1-1-.3zM541.5 410.8l1.3-.2-1.2.8-1.1.1zM548.2 410.6l1 .6-1 .1-1-.7zM549 410.9l1.1.8-1.1.1-1-.8zM540.7 411.2l1.1-.1-1.1.9-1.1.2zM549.9 411.4l1 1-1 0-1.1-.9zM541.6 411l1.2 0-1.2.9-1.1 0zM549 411.4l1.1.9-1 .1-1.1-.9zM540.7 411.6l1.1 0-1.2 1.2-1.1 0zM541.6 411.5l1 .2-1.2 1.2-1-.2zM549.1 412l1.1 1.2-1 .3-1.1-1.3zM542.4 411.6l1 .3-1.2 1.2-1-.3zM548.3 412.1l1.1 1.3-1 .4-1-1.3zM543.2 411.8l1 .5-1.2 1.2-1-.5zM545.7 412.1l1.1.9-1.1.9-1.1-1zM547.6 412.4l1 1.3-1 .5-1.2-1.3zM544 412.2l1 .6-1.2 1.2-1-.6zM544.8 412.7l1.1 1-1.2 1.1-1.1-1z"/><path fill="#337ef6" d="M582.5 475.5l2.2 4.9-2.8-4.4-2.4-6.2zM582 475.6l2.7 6.6-2.4-3.2-2.8-7.6zM508.7 476.5l2.3-3.7-3 7.5-2.4 2.7zM510.3 477.5l1.9-2.1-3.3 8.6-2 1.4zM575.2 477.9l3.5 10.6-1.3-.2-3.3-10.8zM518.7 481l.8.2-3.7 9.6-.9-.2zM519.5 481.2l.8.3-3.7 9.6-.8-.3zM520.3 481.5l.8.4-3.6 9.6-.9-.4zM564.3 480.8l3.4 10.8-1.4 1-3.3-10.5zM553.7 482.4l3.1 8.9-2.2 3.5-3.2-8.3z"/><path fill="#2790f0" d="M510.8 471.3l2.9-6.3-2.3 6-2.9 4.9zM511.2 470.6l2.5-4.7-2.8 7.3-2.4 3.7zM576.6 471.1l2.9 9.8-1.6-1.1-3-10.3zM515.4 472.6l1.3-.9-3.4 10.1-1.3.4zM528.9 475.7l1.3 1.7-3.3 10-1.3-1.4zM557.3 475.8l3 10.2-1.7 2.4-3.1-9.6z"/><path fill="#1ba2e1" d="M577.8 464.9l1.9 5.3-2.5-5-2.1-6.3zM513.6 465l2.4-5.4-2.4 6.7-2.5 4.7zM577.3 464.8l2.4 7-2.1-3.7-2.5-7.7zM570.3 466.4l3 11.4-1-.2-3-11.5zM562.6 468.8l2.9 11.4-1.2 1-3-11.2zM534.4 469.6l1.6 2.9-3 9.7-1.5-2.4zM553 469.7l2.8 9.5-2.1 3.6-2.8-8.9z"/><path fill="#f9de27" d="M554.8 415l1 1-1.6-1.4-.8-1.1zM553.6 416l1.6 2.8-1.1-.3-1.4-2.7zM537.5 415.7l.9-.1-1.5 3-1.1.2zM552.9 415.8l1.4 2.7-1 .1-1.4-2.7zM549.6 416.8l1.5 2.7-1.2.9-1.4-2.7zM541.6 416.8l.9.8-1.5 3.2-1.1-.9z"/><path fill="#0cbac3" d="M573.5 454.3l1.8 5-2.5-5-1.8-5.9zM518 454.1l2.3-5.3-2.3 6.5-2.2 4.7zM573 453.9l2.3 6.9-2-3.8-2.3-7.4zM565.9 455.4l2.8 11-1 0-2.7-11zM565.1 455.4l2.7 11-.9.2-2.7-11.2zM562.7 456l2.7 11.2-1 .6-2.7-11.3zM561.8 456.5l2.7 11.3-.9.5-2.8-10.9zM535.6 457.6l1.5 2.8-2.7 9.6-1.5-2.2zM552.3 457.5l2.6 9.1-1.9 3.5-2.6-8.7z"/><path fill="#2ac3a2" d="M519.8 449.8l2.4-6.1-1.9 5.1-2.4 5.7z"/><path fill="#54c97e" d="M569.5 444.3l1.7 4.5-2.2-4.8-1.5-5zM536.8 446.7l1.3 2.3-2.5 9-1.3-2.1z"/><path fill="#f9ea1e" d="M550.9 411.5l.9.9-1.3-.5-.8-.7zM551.6 412.1l1.2 1-1.2-.3-1.1-1.1zM538.8 412.4l1.2-.4-1.2 1.2-1.2.6zM551.6 412.4l1.2 1.3-1.2-.3-1.1-1.2zM538.8 412.8l1.1-.3-1.4 1.7-1 .4zM551.6 413l1.2 1.5-1 0-1.2-1.5zM550.8 412.9l1.2 1.5-1 .1-1.2-1.5zM547.6 413.8l1.2 1.6-1.2.8-1.2-1.7zM543.8 413.6l1.1.9-1.3 1.6-1.1-.8z"/><path fill="#f9f31b" d="M544 410.2l1.2.2-.9.4-1.2-.2zM545.8 410.1l1 .5-1 .2-1-.4zM543.1 410.4l1.3.2-1.3.3-.7-.2zM546.6 410.4l1 .3-1 .3-1-.4zM542.7 410.5l.8.1-.8.7-1.3 0zM547.4 410.5l1 .7-1 .1-1-.5zM548.2 410.9l1 .8-1 .1-1-.8zM548.2 411.4l1.1.9-1 .2-1.1-.9zM547.4 411.5l1.1.9-.8.4-1.3-1zM546.6 411.7l1.2.9-1.2.6-1.1-.9zM544.9 411.6l1 .7-1.1.8-1-.7z"/><path fill="#a2c63f" d="M566.2 435.5l1.5 3.9-2.1-3.9-1.4-4.3zM546.6 438.4l1.9 5.3-1.9 4.6-1.9-5.2z"/><path fill="#e1ba39" d="M563.2 428.3l1.2 3.3-1.8-3-1.3-3.6zM562.8 428.2l1.6 4.4-1.4-2.2-1.7-4.5zM561.7 428.4l1.8 5.5-1.2-1.1-1.8-5.7zM546.6 430.6l1.7 4.4-1.7 3.8-1.7-4.4z"/><path fill="#f6b73c" d="M530 425l1.9-3.4-1.4 2.6-1.7 3.6zM557.8 425.5l1.9 5.7-1-.1-1.8-5.7zM553.7 426.5l1.8 5.8-.9.8-1.9-5.7zM545.2 427.4l1.6 3.4-1.7 3.8-1.6-3.5z"/><path fill="#fcbd39" d="M560.3 422.6l1.2 2.8-1.5-2.2-1.2-2.8z"/><path fill="#fccc33" d="M531.7 422l1.5-2.6 1.2-2-1.5 2.6zM533.1 419.4l1.3-1.6-1.4 3-1.3 1.6zM557.8 419.9l1.4 3.5-1.1-.8-1.4-3.5zM541.9 421.4l1.2 1.5-1.7 4-1.2-1.5zM545.4 422.1l1.4 2.7-1.6 3-1.4-2.8z"/><path fill="#f9d82a" d="M535.2 416.2l1.7-1.8-1.1 1.5-1.7 1.9zM555.6 416.8l1.4 2.7-1.2-.5-1.3-2.8zM535.4 416.7l1.1-.6-1.4 3-1.1.7zM547.7 418.6l1.4 2.7-1.3 1.6-1.4-2.7zM545.6 418.2l1.2 2.1-1.4 2.2-1.3-2.1z"/><path fill="#fccf30" d="M557.9 418.5l1.1 2.3-1.6-1.8-.9-2.1zM557.5 418.7l1.5 2.8-1.2-1.2-1.3-2.8zM556.8 419.1l1.4 3.5-1-.5-1.5-3.5zM534.1 419.4l1.1-.7-1.6 4.1-1.1.6zM541 420.4l1.1 1-1.7 4-1-1.1zM548.9 421l1.6 3.8-1.3 1.4-1.6-3.6z"/><path fill="#f9e421" d="M537.5 413.6l1.5-1.2-1 1.2-1.5 1.2zM553.3 413.7l1.3 1.7-.9-.5-1.3-1.5zM537.8 414.2l1-.4-1.4 2.3-1.2.4zM552.6 414.2l1.3 2.2-1-.2-1.3-2.1zM548.6 415.1l1.2 2-1.1.9-1.3-2.1zM545.6 415.4l1.2 1.6-1.2 1.6-1.2-1.6z"/><path fill="#f9d827" d="M555.8 415.6l1 1.7-1.6-1.1-1-1.7z"/><path fill="#f9e424" d="M553.8 413.5l.8 1.4-1.4-.9-.8-1.2zM543.6 415.7l1.2 1.2-1.5 2.2-1.2-1.2z"/><path fill="#f9ed1e" d="M539.5 411.9l1.4-.6-1 1-1.3.4zM550.7 411.6l1.1 1.1-1.1-.2-1-1zM539.8 411.9l1.1-.2-1.2 1.2-1.1.2zM550.7 412.1l1.1 1.2-1 0-1.1-1.2zM539.7 412.5l1.1 0-1.2 1.6-1.2 0zM540.6 412.4l1 .2-1.4 1.6-.8-.2zM550 412.9l1.2 1.5-1 .4-1.2-1.6zM549.2 413.1l1.2 1.6-1 .3-1.2-1.5zM548.4 413.4l1.2 1.5-1 .6-1.2-1.6zM543 413.1l1 .6-1.3 1.7-1-.7zM545.7 413.5l1.1 1.1-1.2 1.2-1.1-1.2z"/><path fill="#f9ed1b" d="M549.9 411.1l1 .8-1-.1-1.1-.8zM549.9 412l1.1 1.2-1 .1-1.1-1.2zM541.4 412.5l1 .3-1.3 1.6-1-.3zM542.2 412.7l1 .5-1.3 1.6-1-.5zM546.6 412.8l1.2 1.2-1.2.8-1.1-1.1z"/><path fill="#f9f318" d="M545 410.2l1 .4-1 .2-1-.2zM544.3 410.4l.9.2-1 .4-1.1-.3zM545.8 410.4l1 .4-1 .3-1-.5zM546.6 410.6l1 .5-1 .3-1-.5zM545 410.4l1 .5-1 .4-1-.5zM543.3 410.5l1.1.3-1.1.6-.9-.3zM545.8 410.7l1 .5-1 .4-1-.5zM547.4 410.9l1 .8-1 .2-1-.8zM544.2 410.6l1 .5-1.1.5-1-.4zM542.7 410.9l.8.2-1.2.9-.9-.2zM546.6 411l1 .7-1 .4-1-.7zM545 410.9l1 .5-1.1.6-1-.6zM543.3 411l1 .3-1.1.9-1-.3zM545.8 411.2l1 .7-1.1.6-1-.7zM544.1 411.2l1 .6-1.1.8-1-.6z"/><path fill="#425af6" d="M503.1 484.4l3-3.9-3 5.4-3.1 2.7zM503.2 485.5l2.6-2.9-3.2 6.2-2.9 1.8zM585.2 485.8l3.3 7.2-2.3-1.2-3.3-8zM508.7 489.9l1.4-.2-4.1 7.1-1.5-.2z"/><path fill="#3c6cf6" d="M584.6 480l2.7 5.6-2.7-3.4-2.7-6.6zM506 480.5l2.7-4-3 6.5-2.7 2.9zM581 482l3.4 8.8-1.8-.9-3.3-9.4zM509 483.6l1.7-1-3.8 8.2-1.7.4zM528.3 488.6l1.7 2-3.8 8.2-1.6-1.7z"/><path fill="#454be7" d="M590.1 488.4l3.1 4.4-3.1-2-3-5.6zM503.3 496.4l1.6-.2-4.4 4.9-1.7-.3zM517.3 500.4l1.2.7-4.5 5.2-1.2-.7zM518.4 501.1l1.4 1-4.6 4.9-1.3-.8zM559.8 499.1l3.7 7.5-2.3 1.9-3.7-6.9z"/><path fill="#3f27a8" d="M618.4 498.4l4.4 1.6-4.4 1.6-4.4-1.8z"/><path fill="#307ef6" d="M508.6 475.5l2.7-4.9-2.7 6.3-2.7 4z"/><path fill="#30c69f" d="M571.1 448.4l2 5.9-2-4.3-2-6.2zM520.2 448.8l2-4.4-2.3 6.9-2 4zM525.6 449.7l.9-.2-2.7 10.6-1 .2zM530.6 450.8l.9.8-2.7 10.6-1-.7zM539.4 451.9l1.7 3.6-2.5 8.5-1.8-3.2z"/><path fill="#57c97b" d="M522.1 443.7l2-4.7-2 5.8-2 4.4zM567.9 443.6l2.2 7.9-1.4-1.7-2.2-8.2zM551.7 446.6l2.3 8.2-1.7 3.1-2.3-8z"/><path fill="#abc639" d="M525.7 434.6l1.8-3.9-1.8 4.9-1.8 3.8zM527.9 434.7l1.2-.9-2.3 8-1.2.8z"/><path fill="#fcc936" d="M558.9 420.4l1.3 2.8-1.3-1.7-1.4-2.8zM556.3 421.4l1.6 4.5-.9-.1-1.5-4.4zM552.2 422.4l1.6 4.5-1 .9-1.6-4.6z"/><path fill="#7ec95a" d="M567.6 439l1.7 5.2-1.7-3.7-1.9-5.3zM529.6 440.4l1.1 0-2.6 9.6-.9-.1zM530.6 440.4l.8.3-2.5 9.5-.9-.2zM531.3 440.7l.9.4-2.5 9.7-.9-.6z"/><path fill="#fcd52d" d="M534.3 417.4l1.4-1.6-1.4 2.4-1.3 1.6zM556.6 416.9l1.1 2.2-1.1-1.2-1.4-2.1zM556.6 417.5l1.3 2.8-1.1-.8-1.3-2.7zM554.1 418.1l1.6 3.7-1 0-1.5-3.6zM536.9 418.2l.9 0-1.6 4-.9 0zM537.7 418.2l1.1.3-1.8 3.9-.9-.2zM538.7 418.5l.7.4-1.6 4-1-.5zM551.7 418.7l1.6 3.5-1.1.6-1.5-3.6zM539.3 418.9l1 .6-1.7 4-1-.6zM550.9 419.2l1.5 3.6-1.1.8-1.6-3.6z"/><path fill="#f9e124" d="M536.7 414.4l1.3-1-1.3 1.8-1.3 1zM536.8 414.8l1.1-.6-1.6 2.3-1.1.6zM553.6 414.5l1.2 2.1-1.1-.2-1.3-2.2zM539.1 415.6l1 .3-1.5 3-1.1-.3zM539.9 415.9l1 .5-1.7 2.9-.8-.4zM547.6 415.8l1.3 2.1-1.2 1.1-1.3-2.1z"/><path fill="#f3b73c" d="M561.4 425l1.5 3.6-1.5-2.3-1.4-3.5zM530.2 425.6l1.5-1.6-1.9 5.1-1.3 1.5zM558.7 425.8l1.8 5.7-.9-.3-1.9-5.7zM533.6 426.5l1.1.1-2.1 6.5-1 0zM534.6 426.6l.8.2-2 6.6-.9-.3zM535.3 426.8l.9.4-2 6.6-.9-.4zM552.8 427.4l1.9 5.7-1.1 1.1-1.9-5.7zM548 427.8l1.8 4.5-1.7 2.9-1.7-4.5z"/><path fill="#2793ed" d="M579.6 469.8l2.5 6.2-2.5-4.2-2.4-7zM537.6 476.1l2.2 4.3-3.2 8.2-2.1-3.5z"/><path fill="#ffc339" d="M531.8 421.6l1.4-2.2-1.4 3-1.5 2.2zM531.8 422l1.3-1.6-1.5 4-1.5 1.6zM558.1 422.2l1.6 4.6-1-.6-1.6-4.5zM533.6 422.4l1.1-.5-1.9 5.2-1 .3z"/><path fill="#e7ba39" d="M528.9 427.4l1.6-3.2-1.6 4-1.6 2.9zM530.9 427.7l1.1-.7-2 6.5-1.1.7z"/><path fill="#f9de24" d="M554.4 414.5l1.2 1.7-1.2-.8-1.2-1.7zM554.3 415l1.5 2.2-1.2-.6-1.2-2.1zM538.2 415.6l1.1 0-1.7 3-.9 0zM552.1 415.9l1.4 2.7-.8.2-1.6-2.8zM551.3 416l1.5 2.8-1.1.3-1.3-2.7zM550.6 416.4l1.3 2.7-1 .5-1.5-2.8zM540.7 416.4l1.1.4-1.7 3.1-1-.6zM546.6 416.8l1.3 2-1.3 1.7-1.2-2.2zM544.6 416.8l1.2 1.5-1.5 2.3-1.2-1.7z"/><path fill="#c9c036" d="M564.3 431.2l1.6 4.4-1.6-3-1.6-4.4zM561.3 431.6l2 7.2-1-.6-2-7.1z"/><path fill="#12b4d2" d="M575.2 458.9l2.2 6.3-2.2-4.4-2.3-6.9zM529.7 462.7l1.1 1.2-3 10.9-1.1-1z"/><path fill="#f9db27" d="M555.3 415.8l1.5 2.1-1.2-.7-1.4-2.2zM535.7 415.8l1.2-1-1.6 2.3-1.2 1.1zM554.6 416.2l1.4 2.8-.9-.2-1.6-2.8zM536.4 416.1l1.2-.4-1.6 3.1-1.1.3zM548.7 417.6l1.4 2.7-1.2 1.1-1.4-2.7zM542.3 417.6l1.2 1.2-1.6 3-1.1-1z"/><path fill="#fcc039" d="M560.1 422.8l1.4 3.5-1.3-1.7-1.4-3.5zM559.1 423l1.6 4.5-1.1-.7-1.6-4.6zM532.6 423l1.1-.6-1.8 5-1.1.7zM540.4 425l1.2 1.5-1.9 5.3-1.2-1.6zM546.6 424.6l1.6 3.4-1.6 3-1.6-3.4zM544 424.8l1.4 2.7-1.7 3.8-1.3-2.6z"/><path fill="#f6ba3c" d="M530.4 424.2l1.5-2.2-1.7 4-1.4 2.2zM560.2 424.2l1.6 4.6-1.2-1.3-1.6-4.5zM557 425.4l1.8 5.7-.9 0-1.8-5.7zM556.2 425.4l1.8 5.7-.9.2-1.8-5.7zM555.4 425.6l1.8 5.7-.9.5-1.8-5.8zM554.6 426l1.8 5.8-1 .5-1.8-5.8zM541.4 426.5l1.4 1.9-2 5.2-1.3-1.8z"/><path fill="#cfc036" d="M527.4 430.7l1.6-2.9-1.8 5-1.6 2.8zM560.4 431.1l2 7.1-.8-.3-2.1-7.1zM554.6 432.7l1.9 7.2-1.1 1.1-1.9-7.2zM540.8 433.2l1.4 2.5-2.1 6.4-1.4-2.5z"/><path fill="#a5c63f" d="M565.8 435.2l1.9 5.3-1.7-2.7-1.8-5.6z"/><path fill="#54c97b" d="M569.2 443.8l2 6.2-1.8-3.4-1.9-6.5z"/><path fill="#81c957" d="M524 439l1.8-3.8-2 6.1-1.8 3.5zM540.1 441.7l1.7 3-2.4 7.6-1.6-2.9z"/><path fill="#12b1d2" d="M515.9 459.6l2.2-4.7-2.4 7.4-2.2 4zM572.4 459.9l2.7 10-1.4-1.1-2.8-10.4zM520.8 460.8l1.2-.6-3 10.9-1.2.4zM538.6 463.6l1.8 4.1-2.8 8.8-1.9-3.6z"/><path fill="#ffc636" d="M558.9 421.1l1.4 3.5-1.2-1.2-1.4-3.5zM557.2 421.7l1.6 4.5-1-.3-1.6-4.5zM534.7 421.9l.8-.1-2 5.1-.8.2zM535.4 421.8l.9 0-1.7 5.2-1.1-.1zM537.8 422.5l.9.6-1.8 5.1-.9-.6zM538.6 423.1l1.1.8-1.9 5.2-1-.9zM551.3 423.2l1.7 4.6-1.2 1.1-1.7-4.5z"/><path fill="#fcd22d" d="M534.3 417.8l1.2-1.1-1.4 3.1-1.2 1zM555.8 418.6l1.5 3.5-1-.3-1.4-3.4zM535.1 418.7l1-.3-1.5 3.9-1.1.5zM555 418.4l1.4 3.4-.7 0-1.7-3.7zM536 418.4l1-.2-1.6 4-.9.1zM540.1 419.5l1.1.9-1.6 3.9-1.2-.8zM549.9 420l1.6 3.6-1.2 1.2-1.6-3.8zM546.6 420.1l1.4 2.6-1.4 2.3-1.4-2.7zM544.3 420.2l1.3 2-1.6 3-1.3-2z"/><path fill="#f0b73c" d="M561.4 425.9l1.7 4.5-1.4-1.6-1.6-4.6zM559.6 426.4l1.8 5.6-1-.5-1.8-5.7zM532.8 426.7l.9-.2-2 6.6-.9.1zM536.1 427.2l.9.6-2 6.6-.9-.6zM542.6 428.4l1.3 2.5-1.9 5.2-1.4-2.5z"/><path fill="#484eed" d="M500.2 488.2l3.1-2.7-3.4 5.1-3.1 1.7zM501.4 492.4l2.2-.9-4.1 5.5-2.1.2zM507.4 496.4l1.2.2-4.5 5.3-1.2-.3zM508.5 496.6l1.1.2-4.5 5.4-1.1-.3zM509.5 496.8l1 .3-4.5 5.4-1-.3zM510.4 497.1l1 .3-4.5 5.4-1-.3zM511.3 497.4l.9.2-4.5 5.5-.9-.3zM512.1 497.6l.9.4-4.5 5.4-.9-.3zM512.9 498l.9.4-4.5 5.4-.9-.4zM513.7 498.4l.9.3-4.5 5.5-.9-.4zM514.5 498.7l1 .5-4.5 5.4-1-.4zM535.6 498.9l2.5 3.6-3.7 5.3-2.6-2.8z"/><path fill="#e4ba39" d="M528.9 427.8l1.4-2.2-1.7 5-1.5 2.2zM538.7 429.8l1.1 1.6-2 6.4-1.1-1.5zM550.7 430l1.9 5.8-1.4 2-1.8-5.8z"/><path fill="#c0c336" d="M564.3 432.2l1.8 5.6-1.4-2.3-1.8-5.5zM527.2 432.4l1.5-2.2-2.1 6.4-1.4 2zM562.3 432.4l2 7-1.1-.6-2-7.2zM535 434l1 .8-2.3 8.1-.9-.8zM548.1 434.8l1.9 5.6-1.7 3.5-1.9-5.4z"/><path fill="#423ccf" d="M493.9 493.4l3.3-1.4-3.9 3.6-3.2.7zM587.8 497.6l4.1 6.2-1.8 0-4.1-6.4zM565.1 504.6l4.2 6.5-2 1.2-4.2-6z"/><path fill="#75c960" d="M567.6 440.1l1.9 6.5-1.6-2.6-2-6.6z"/><path fill="#a5c63c" d="M525.7 435.2l1.6-2.8-2 6.2-1.6 2.7zM564.7 435.1l2 6.9-1.4-1.5-2-7z"/><path fill="#27c3a8" d="M571.1 449.6l2.3 7.4-1.8-3.1-2.3-7.7zM532.3 452.6l1.1 1.3-2.7 10.4-1.1-1.2zM544.7 453.4l2.1 6.2-2.2 6.2-2.2-5.5z"/><path fill="#51c97e" d="M522.1 444.4l1.8-3.5-2.3 7.2-1.8 3.2z"/><path fill="#fcc933" d="M533 420.4l1.2-1-1.6 4-1.1 1zM555.6 421.4l1.5 4.4-.9 0-1.6-4.4zM554.7 421.4l1.6 4.4-.9.2-1.6-4.5zM553.9 421.5l1.6 4.5-.9.4-1.6-4.6zM553.1 421.8l1.6 4.6-1 .5-1.6-4.5zM547.8 422.5l1.6 3.6-1.4 2.1-1.6-3.5z"/><path fill="#12b1d5" d="M575.2 460.4l2.5 7.7-2.1-3.2-2.4-8.3zM519.6 461.7l1.3-.9-3 10.7-1.4.6zM530.7 463.9l1.2 1.5-3 10.7-1.2-1.3zM556.2 463.5l2.7 10.3-1.6 2.4-2.7-10z"/><path fill="#0cb7c6" d="M518 454.9l2-4-2.4 8-2 3.4zM567.7 455.8l2.7 11-1-.3-2.7-11zM566.8 455.5l2.7 11-.9-.1-2.8-11zM560.9 457.4l2.8 10.9-1.1.9-2.8-10.8z"/><path fill="#d5bd36" d="M563 430l1.8 5.5-1.4-1.6-1.8-5.5zM528.6 430.2l1.3-1.5-2 6.4-1.4 1.5zM559.6 430.8l2.1 7.1-1.1-.1-2-7.1z"/><path fill="#1ba2e4" d="M513.6 465.9l2.2-4-2.7 8.1-2.3 3.2zM571.3 466.7l3 11.2-1.1-.1-3-11.4z"/><path fill="#90c94e" d="M566 437.4l2 6.6-1.4-2-2-6.9zM556.4 439.5l2.3 8.6-1.1 1-2.3-8.5z"/><path fill="#3c66f6" d="M584.6 481.8l3.1 6.7-2.5-2.3-3-7.6z"/><path fill="#6fc963" d="M523.8 440.9l1.6-2.7-2.2 7.6-1.7 2.3zM526.8 441.4l1.1-.7-2.3 9.4-1.1.5z"/><path fill="#3fc990" d="M569.4 446.2l2.3 7.7-1.7-2.4-2.2-7.9zM566.4 447l2.4 9.8-1.1-.6-2.4-9.8z"/><path fill="#f9ba3c" d="M531.6 424l1.1-1-1.8 5.1-1.2 1z"/><path fill="#f9e71e" d="M540.3 413.8l1 .2-1.4 2.3-1-.3zM544.7 414.4l1.1 1.2-1.2 1.6-1.2-1.3z"/><path fill="#0fb7cc" d="M573.3 456.6l2.4 8.3-1.8-2.6-2.4-8.8zM569.8 457.2l2.7 10.6-1.2-.7-2.7-10.7z"/><path fill="#21c0ae" d="M519.9 450.9l1.8-3.2-2.4 8.4-1.8 2.8zM533.3 453.9l1.2 1.6-2.7 10.3-1.2-1.5z"/><path fill="#4545de" d="M497.1 491.9l3-1.7-3.9 4.6-3 .7zM580.8 496.9l4.1 7.5-1 .2-4.1-7.6zM579.8 497l4.1 7.6-.9.3-4.1-7.8zM578.9 497.1l4.1 7.8-.9.2-4-7.7zM578.1 497.4l4 7.7-.8.2-4.1-7.8zM577.2 497.5l4.1 7.8-.8.3-4-7.9zM574.8 498.4l4.1 7.7-.9.4-4.1-7.9zM573.9 498.6l4.1 7.9-.9.4-4.1-7.8zM573 499.1l4.1 7.8-1 .4-4.1-7.7zM572 499.6l4.2 7.7-1.2.6-4.2-7.5zM557.7 501.6l3.7 6.8-2.6 2.1-3.7-5.9z"/><path fill="#eaba39" d="M560.6 427.1l1.8 5.7-1.1-.8-1.8-5.6zM537.8 428.7l1 1.1-2 6.5-1-1.1z"/><path fill="#15aed8" d="M515.7 461.9l2-3.4-2.7 8.7-2 2.8zM573.9 461.9l2.8 9.6-1.7-1.6-2.7-10zM548.7 466.1l2.6 8.1-2.3 5.1-2.6-7.4z"/><path fill="#2199e7" d="M577.6 467.7l2.6 8.4-2-2.6-2.7-9zM520.1 470.5l.9-.1-3.4 10.8-.9 0zM524.3 471.4l.8.5-3.4 10.9-.8-.5zM525.1 471.9l.9.7-3.4 10.7-.9-.5z"/><path fill="#8ac951" d="M525.3 438.2l1.4-2-2.1 7.7-1.5 1.9z"/><path fill="#4239c9" d="M490.4 496l3.2-.7-4.1 3-3.3.2zM489.7 497.9l3.1-.2-4.6 2.8-3-.1zM537 510.2l3.1 3-4.1 2.9-3.1-2.4z"/><path fill="#e1ba36" d="M529.8 428.7l1.2-1-2 6.5-1.2.9zM543.7 430.9l1.6 3.4-1.9 4.9-1.6-3.2z"/><path fill="#b7c339" d="M563.4 433.5l2 7-1.2-1.1-2-7zM529 433.8l1.1-.7-2.3 8-1.1.7z"/><path fill="#3675f6" d="M582.3 478.6l3 7.6-2.3-2-3-8.5zM508.1 479.9l2.2-2.4-3.3 7.9-2.3 1.5zM512.2 481.8l1.3-.4-3.7 8.7-1.3.2zM524.7 484.5l1.1 1.1-3.7 9.2-1.1-1z"/><path fill="#36c999" d="M521.6 447.7l1.7-2.3-2.5 8.6-1.6 2.1z"/><path fill="#0fbac0" d="M571.6 453.5l2.4 8.8-1.6-2-2.5-9.2z"/><path fill="#fcd52a" d="M553.3 418.2l1.5 3.6-.9.1-1.4-3.5zM552.6 418.4l1.5 3.5-1 .3-1.6-3.5z"/><path fill="#9fc642" d="M526.6 436.2l1.4-1.5-2.3 7.9-1.2 1.3z"/><path fill="#69c969" d="M566.6 441.6l2.2 8.2-1.2-1.4-2.4-8.3z"/><path fill="#1ba5e1" d="M575.6 464.5l2.7 9-1.7-2-2.8-9.6zM569.4 466.1l3 11.5-1-.1-2.9-11.5zM564.4 467.4l3 11.4-1 .6-2.9-11.5zM563.6 467.9l2.9 11.5-1.1.8-2.9-11.4z"/><path fill="#0fb4cf" d="M517.6 458.5l1.8-2.8-2.7 9.3-1.8 2.2zM571 458.4l2.8 10.4-1.4-1-2.7-10.6zM522.9 459.9l1-.2-3 11.1-1 .1zM523.8 459.7l1 0-3 11.2-1-.1zM524.7 459.7l1 .2-3.1 11.2-.9-.2zM525.6 459.9l.8.3-3 11.2-.9-.3zM526.3 460.2l.9.4-3 11.2-.9-.4zM527.1 460.6l.9.5-3 11.2-.9-.5zM527.9 461.1l1 .7-3 11.2-1-.7zM557.6 461.4l2.7 10.5-1.5 1.9-2.7-10.3z"/><path fill="#4bc984" d="M523.2 445.4l1.5-1.9-2.5 9-1.5 1.5zM559.6 446.9l2.3 10-1 .9-2.4-10.1z"/><path fill="#1ec0b1" d="M570 451.1l2.5 9.2-1.5-1.5-2.4-9.4zM522.2 452.1l1.3-1.2-2.7 10.3-1.3.9zM553.8 454.4l2.5 9.5-1.6 2.7-2.5-9.1z"/><path fill="#484eea" d="M500 490.2l2.8-1.8-3.9 5.4-2.8 1z"/><path fill="#78c960" d="M565.3 440.1l2.4 8.3-1.3-1-2.3-8.4zM527.8 440.7l1.1-.3-2.5 9.5-.9.2zM544.9 442.9l1.9 5.2-2.1 5.7-1.9-4.9z"/><path fill="#edb73c" d="M531.9 427l1-.3-2 6.5-1 .3zM536.9 427.8l1 .9-2 6.5-1-.8zM551.8 428.5l2 5.7-1.4 1.6-1.8-5.8z"/><path fill="#2496ea" d="M513.1 469.6l2-2.8-3 9-2 2.1zM575 469.5l3 10.3-1.4-.9-3-10.5zM518 471.1l1.1-.4-3.4 10.5-1.1.2zM526.8 473.4l1.1 1-3.3 10.5-1.1-.8zM558.8 473.4l3 10.6-1.6 2-3-10.2zM551.1 473.9l2.8 8.9-2.3 4.1-2.8-7.9z"/><path fill="#3081f6" d="M580.1 475.7l3 8.5-2-1.8-3-9.3zM574.1 477.5l3.4 10.8-1-.1-3.4-10.8zM573.1 477.4l3.4 10.8-.8 0-3.5-11zM565.4 479.8l3.3 11-1.1.8-3.4-10.8zM533 481.8l1.9 2.9-3.3 8.7-2-2.4z"/><path fill="#fcc636" d="M536.2 421.8l.9.2-1.8 5.2-.8-.2zM537 422l.9.5-1.8 5.1-.9-.4zM542.9 422.9l1.3 2-1.6 3.9-1.4-2z"/><path fill="#0fb7c6" d="M519.3 455.7l1.6-2.1-2.7 9.7-1.6 1.7zM559.9 458.4l2.8 10.8-1.3 1.2-2.7-10.8zM546.6 459.4l2.3 7-2.3 5.8-2.2-6.6z"/><path fill="#84c957" d="M564.2 439l2.3 8.4-1.1-.6-2.3-8.4z"/><path fill="#5ac978" d="M524.6 443.5l1.2-1.3-2.4 9.1-1.3 1.2z"/><path fill="#2dc3a2" d="M568.7 449.4l2.4 9.4-1.3-1.2-2.3-9.6zM531.4 451.6l1 1-2.7 10.5-1-.9zM555.2 452l2.5 9.8-1.5 2.1-2.5-9.5z"/><path fill="#1e9fe4" d="M515 466.8l1.8-2.2-3 9.6-1.8 1.6zM572.4 467.4l3 10.9-1.2-.4-3-11.2zM561.4 470l3 11.2-1.3 1.3-3-11zM546.6 471.8l2.6 7.4-2.6 5.7-2.6-6.5z"/><path fill="#2a8af3" d="M578.2 473.1l3 9.3-1.8-1.5-2.9-9.8z"/><path fill="#bdc336" d="M530 433.1l1-.3-2.2 8-1.1.3z"/><path fill="#8dc951" d="M563.2 438.4l2.3 8.4-1.1-.5-2.2-8.5z"/><path fill="#f9d52a" d="M543.3 418.7l1.2 1.6-1.6 3-1.2-1.6z"/><path fill="#66c96c" d="M525.7 442.2l1.2-.8-2.3 9.2-1.3.7zM541.6 444.7l1.6 3.9-2.3 7.3-1.7-3.6z"/><path fill="#36c699" d="M567.6 448l2.3 9.6-1.2-.8-2.4-9.8z"/><path fill="#12babd" d="M520.8 453.6l1.5-1.5-2.7 10-1.5 1.2z"/><path fill="#4554f3" d="M502.7 488.4l2.3-1.9-3.8 6.3-2.4 1z"/><path fill="#d8bd36" d="M558.7 430.7l2 7.1-.9.1-2-7.2zM557.9 430.7l2 7.2-.9.2-2-7.2zM557.1 430.9l2 7.2-.9.4-2-7.1zM556.3 431.4l2 7.1-1 .6-2-7.2zM549.6 432l1.8 5.8-1.6 2.7-1.9-5.7z"/><path fill="#c3c336" d="M530.9 432.8l.9-.1-2.2 8.1-.9 0z"/><path fill="#93c94b" d="M562.3 437.8l2.2 8.5-.9-.2-2.1-8.6z"/><path fill="#3f63f6" d="M582.9 483.8l3.4 8-2-1-3.3-8.8zM556.6 490.9l3.4 8.6-2.3 2.5-3.3-7.6zM549.2 491.2l3.1 7.1-2.7 4.1-3.2-5.8z"/><path fill="#18a8de" d="M516.7 464.6l1.6-1.7-3 10.1-1.6 1.2z"/><path fill="#c6c036" d="M531.7 432.7l1 0-2.1 8.1-1.1 0zM532.6 432.7l.9.3-2.2 8.1-.8-.3zM533.4 433l.9.4-2.2 8.1-.9-.4zM553.6 433.8l1.9 7.2-1.2 1.5-2-7.1zM545.1 434.2l1.7 4.4-1.9 4.7-1.7-4.3z"/><path fill="#96c948" d="M561.6 437.5l2.1 8.6-1 0-2.2-8.7zM557.3 438.7l2.4 8.6-1.1.8-2.3-8.6zM538.9 439.2l1.3 2.5-2.2 7.7-1.3-2.3z"/><path fill="#fcc339" d="M539.6 423.9l.9 1.1-1.8 5.2-1-1.1zM550.3 424.4l1.7 4.5-1.3 1.5-1.7-4.6z"/><path fill="#45c98a" d="M565.4 446.4l2.4 9.8-1-.3-2.5-10z"/><path fill="#99c945" d="M560.6 437.4l2.2 8.7-.9 0-2.2-8.6zM558.2 438.1l2.2 8.7-.8.5-2.4-8.6z"/><path fill="#425df6" d="M504.9 486.5l2.2-1.5-3.8 6.9-2.2.9zM578.5 488.1l3.6 9.2-1.1 0-3.7-9.4zM577.3 487.9l3.7 9.4-1 .1-3.7-9.6zM510 489.7l1.4-.1-4.2 7.2-1.2 0zM568.5 490.4l3.7 9.6-1.1.8-3.6-9.6zM567.5 491.2l3.6 9.6-1.2.7-3.7-9.3zM519.3 492.1l.9.6-4.1 7.4-.9-.5zM520.2 492.7l1.1.7-4.2 7.4-1.1-.7zM521.2 493.4l1.2 1-4.2 7.1-1.2-.7z"/><path fill="#4548e1" d="M588.3 492.6l3.8 6.3-2.2-.5-3.9-7zM499.7 496.6l2.1-.1-4.6 4.3-2-.3zM530 502.4l2.2 2.4-4.1 5-2.3-2.1zM549.6 502l3.3 5.7-3.1 3.1-3.4-4.6zM537.9 502.4l2.9 3.9-3.8 4.3-2.8-2.9z"/><path fill="#24c0ab" d="M523.4 450.9l1.3-.7-2.8 10.4-1.2.6zM548.6 454.1l2.2 7.6-2.1 4.8-2.3-7z"/><path fill="#2d87f6" d="M512.2 475.4l1.7-1.6-3.3 9.2-1.8 1zM531.6 479.4l1.5 2.4-3.3 9.2-1.6-2zM539.6 480.4l2.2 4.8-3.1 7.4-2.3-4.1z"/><path fill="#15aedb" d="M518.2 462.9l1.5-1.2-3.1 10.4-1.4.9z"/><path fill="#7bc95d" d="M528.8 440.4l.9 0-2.4 9.5-1 0zM554.3 442.1l2.2 8.5-1.3 1.8-2.2-8.4z"/><path fill="#4bc987" d="M564.4 445.9l2.5 10-1-.1-2.4-10.1z"/><path fill="#9cc645" d="M559.8 437.5l2.2 8.6-.9.3-2.2-8.7zM559 437.7l2.2 8.7-.9.4-2.2-8.7zM543.4 438.8l1.7 4.2-2.1 6-1.6-4z"/><path fill="#f9bd3c" d="M549.2 425.8l1.7 4.6-1.3 2-1.8-4.6z"/><path fill="#0fb7c9" d="M568.7 456.4l2.7 10.7-1.1-.3-2.7-11zM558.8 459.6l2.7 10.8-1.3 1.5-2.7-10.5zM537 460.4l1.7 3.2-2.8 9.3-1.6-2.9zM542.6 460l2.2 5.5-2.7 7.4-2.1-4.9z"/><path fill="#2ac3a5" d="M524.6 450.2l1.1-.5-2.8 10.6-1.1.3z"/><path fill="#d2bd36" d="M555.4 431.9l2 7.2-1 .8-1.9-7.2z"/><path fill="#4ec984" d="M563.6 445.7l2.4 10.1-.9 0-2.5-10.1zM546.6 447.9l2.2 6.4-2.2 5.5-2.1-6.2z"/><path fill="#c3c036" d="M534.2 433.4l.9.6-2.2 8.1-.9-.6z"/><path fill="#219ce7" d="M573.7 468.4l3 10.5-1.4-.6-3-10.9zM521 470.4l.9.1-3.4 10.9-.9-.2zM521.9 470.5l.8.2-3.4 10.9-.8-.2zM522.7 470.7l.8.3-3.4 10.9-.8-.3zM523.5 471l.8.4-3.4 10.9-.8-.4zM560.2 471.5l3 11-1.5 1.5-3-10.6zM535.9 472.5l1.9 3.6-3.1 9-1.9-2.9zM542.1 472.5l2.3 5.8-2.8 7.2-2.2-4.8z"/><path fill="#3972f6" d="M579.3 480.5l3.4 9.4-1.6-.6-3.3-9.9zM560.2 485.6l3.3 9.8-1.8 1.9-3.2-9.3zM551.6 486.5l3.2 8.2-2.7 3.7-3.1-7.1z"/><path fill="#51c981" d="M562.7 445.7l2.5 10.1-.9 0-2.5-10.1zM561.9 445.7l2.5 10.1-.8.2-2.6-10zM561.1 446l2.6 10-1 .4-2.5-10z"/><path fill="#30c69c" d="M526.4 449.5l1 0-2.7 10.6-1 0z"/><path fill="#bac339" d="M535.9 434.8l1 1.1-2.2 8-1.1-1zM552.4 435.4l2 7.1-1.3 1.9-2-7zM542 435.7l1.6 3.1-2 6.3-1.7-3z"/><path fill="#dbbd36" d="M539.7 431.4l1.2 1.8-2 6.4-1.2-1.8z"/><path fill="#3678f6" d="M577.8 479.4l3.4 9.9-1.3-.5-3.4-10.3zM513.5 481.4l1.3-.4-3.7 9-1.3.1zM523.7 483.7l1 .8-3.7 9.3-1-.7zM561.7 483.6l3.3 10.3-1.6 1.5-3.3-9.8zM534.7 484.7l2.1 3.5-3.4 8-2-2.8zM546.6 484.5l2.8 7-2.8 5.3-2.8-6.1zM541.6 485.1l2.6 5.5-3.1 6.4-2.6-4.5z"/><path fill="#4239c6" d="M591.8 498.5l4.1 5-2.2.1-4.1-5.6zM561.1 508.1l4.1 5.4-2.4 1.5-4.2-4.8zM543.4 509.7l3.4 3.9-3.7 2.6-3.4-3zM530.7 511.4l2.6 2.3-4.5 2.8-2.7-1.9z"/><path fill="#4851f0" d="M584.2 490.4l3.8 7.6-1.7-.2-3.8-8.3zM526.4 498.4l1.8 1.8-4.2 5.9-1.8-1.3z"/><path fill="#7bc95a" d="M532.1 441.1l.9.6-2.4 9.5-1-.4z"/><path fill="#33c69c" d="M527.3 449.5l.9.1-2.6 10.7-1-.2zM528.1 449.6l.9.2-2.7 10.8-.8-.3zM528.9 449.8l.9.6-2.7 10.6-.9-.4zM529.7 450.4l1 .4-2.8 10.7-.9-.5z"/><path fill="#0fb4d2" d="M521.9 460.2l1.1-.3-3 11-1.1.2zM528.8 461.8l1 .9-3 11.1-1-.8z"/><path fill="#b1c639" d="M536.8 435.9l1.1 1.5-2.2 7.9-1.1-1.4z"/><path fill="#4ec981" d="M560.3 446.4l2.5 10-1 .5-2.3-10z"/><path fill="#78c95d" d="M532.9 441.7l.9.8-2.4 9.5-.9-.8z"/><path fill="#2493ed" d="M516.7 471.7l1.3-.6-3.3 10.3-1.4.4zM527.8 474.4l1.2 1.3-3.3 10.3-1.2-1.1z"/><path fill="#337bf6" d="M576.5 478.5l3.4 10.3-1.2-.3-3.5-10.6zM515.9 480.8l1 0-3.7 9.4-1-.1zM516.9 480.8l.9 0-3.7 9.5-.9-.1zM517.8 480.8l.9.2-3.8 9.6-.8-.3zM521.1 481.9l.8.5-3.7 9.5-.7-.4zM521.9 482.4l.9.5-3.7 9.6-.9-.6zM522.8 482.9l.9.8-3.7 9.4-.9-.6zM563.1 482.1l3.3 10.5-1.5 1.3-3.3-10.3z"/><path fill="#a8c63c" d="M537.8 437.4l1.2 1.8-2.2 7.9-1.2-1.8zM551.2 437.4l2.1 7-1.6 2.6-2.1-6.9z"/><path fill="#87c954" d="M555.4 440.6l2.3 8.5-1.3 1.5-2.2-8.5z"/><path fill="#396ff6" d="M510.7 482.6l1.5-.8-3.7 8.5-1.6.5zM527 487l1.4 1.6-3.7 8.5-1.4-1.3z"/><path fill="#4542d8" d="M495.2 497.2l2.6-.3-4.6 3.7-2.5-.2zM584.5 497.1l4.3 6.8-1.6.2-4.1-7.1zM583.2 497l4.1 7.1-1.3.2-4.1-7.4zM568.3 502l4.2 7.2-1.6.9-4.2-6.9zM524.2 505.7l2 1.8-4.5 4-2-1.5z"/><path fill="#0fbac3" d="M564.3 455.4l2.7 11.2-.9.2-2.6-11.2zM563.6 455.6l2.6 11.2-.9.4-2.7-11.2z"/><path fill="#72c963" d="M533.7 442.5l1.1 1-2.5 9.5-1-1zM548.3 443.5l2.1 6.7-1.8 4.3-2.2-6.5z"/><path fill="#6cc969" d="M534.7 443.5l1.1 1.4-2.5 9.4-1.1-1.3zM553.1 444l2.2 8.4-1.5 2.4-2.2-8.2z"/><path fill="#48c987" d="M558.6 447.7l2.4 10.1-1.1 1-2.4-10.1zM543 448.6l1.9 4.9-2.3 6.9-1.9-4.6z"/><path fill="#18a5de" d="M568.6 466l2.9 11.5-.9.1-3-11.6zM567.7 466l3 11.6-.9.2-3-11.6zM566.9 466.2l3 11.6-.9.2-3-11.6zM566.1 466.4l3 11.6-.9.4-3-11.6zM565.3 466.8l3 11.6-1 .4-3-11.4z"/><path fill="#2199ea" d="M519.1 470.7l1-.2-3.4 10.7-1 0zM526 472.6l.9.8-3.4 10.7-.9-.8z"/><path fill="#90c94b" d="M549.8 440.1l2.1 6.9-1.7 3.3-2.1-6.8z"/><path fill="#4557f3" d="M505.4 490.8l1.8-.4-4.1 6.4-1.7 0zM533.4 495.8l2.4 3.2-3.8 6.1-2.3-2.4z"/><path fill="#63c972" d="M535.7 444.9l1.2 1.8-2.5 9.2-1.2-1.6z"/><path fill="#42c98d" d="M557.6 448.7l2.4 10.1-1.2 1.2-2.5-9.8zM538 449l1.5 2.9-2.5 8.9-1.5-2.8z"/><path fill="#455af6" d="M579.7 488.4l3.7 9-1.3-.1-3.6-9.2zM507.1 490.4l1.7-.5-4.2 6.7-1.6.2zM566.2 492.2l3.7 9.3-1.4.9-3.7-8.9zM522.3 494.4l1.3 1-4.1 7-1.4-.9zM554.6 494.4l3.3 7.5-2.6 3-3.4-6.8z"/><path fill="#36c996" d="M556.4 450.2l2.5 9.8-1.3 1.8-2.5-9.8z"/><path fill="#3084f6" d="M572.2 477.2l3.5 11-1 .1-3.4-11.2zM571.3 477.1l3.4 11.2-.8.1-3.4-11.2zM567.2 478.4l3.5 11.2-1.1.5-3.3-11.1zM566.4 479l3.3 11.1-1.1.7-3.3-11z"/><path fill="#423fd5" d="M586.1 497.4l4.1 6.4-1.5.1-4.3-6.8zM566.8 503.2l4.2 6.9-1.8 1-4.2-6.5zM540.6 506.1l3 3.8-3.7 3.5-3.1-3z"/><path fill="#3378f6" d="M514.8 481l1.1-.2-3.7 9.3-1.1-.1z"/><path fill="#2d84f6" d="M570.5 477.2l3.4 11.2-.8.2-3.4-11.2zM569.7 477.4l3.4 11.2-.8.3-3.4-11.3zM568.9 477.6l3.4 11.3-.8.3-3.4-11.2zM568.1 478l3.4 11.2-.8.4-3.5-11.2z"/><path fill="#3cc990" d="M550.2 449.9l2.3 8-1.9 3.9-2.2-7.7z"/><path fill="#18bdb7" d="M534.4 455.5l1.3 2.1-2.7 10.2-1.3-2z"/><path fill="#4260f6" d="M576.3 487.8l3.7 9.6-.9.1-3.6-9.7zM575.5 487.8l3.6 9.7-.8.3-3.8-9.9zM511.3 489.6l1.1.1-4.1 7.3-1.2-.2zM574.5 487.9l3.8 9.9-.9.1-3.7-9.9zM512.4 489.7l1 .1-4.1 7.4-1-.2zM513.4 489.8l.9.1-4.1 7.6-.9-.3zM514.3 489.9l.8.3-4 7.6-.9-.3zM570.5 489.2l3.6 9.8-.9.5-3.7-9.8zM516 490.4l.8.3-4.1 7.7-.8-.4zM569.5 489.7l3.7 9.8-1 .5-3.7-9.6zM516.8 490.7l.9.4-4.2 7.7-.8-.4zM517.7 491.1l.7.4-4.1 7.6-.8-.3zM518.4 491.5l.9.6-4.1 7.5-.9-.5zM531.6 493l2 2.8-3.7 7-2.1-2.3z"/><path fill="#1bbdb4" d="M540.9 455.5l1.9 4.5-2.6 8.1-1.8-4.1z"/><path fill="#3f60f6" d="M573.7 488l3.7 9.9-.7.2-3.8-9.9zM572.9 488.2l3.8 9.9-.9.3-3.7-9.9zM572.1 488.5l3.7 9.9-.8.4-3.7-10zM571.3 488.8l3.7 10-.9.2-3.6-9.8zM515.1 490.2l.9.2-4.1 7.6-.8-.2zM538.7 492.2l2.6 4.5-3.4 6.1-2.5-3.6z"/><path fill="#12aed8" d="M531.8 465.4l1.3 2-3 10.4-1.3-1.7z"/><path fill="#4233bd" d="M588.5 503.5l4.4 5-1.5.3-4.5-5.1zM572.2 508.8l4.6 5.2-1.7.8-4.5-5z"/><path fill="#0fb4cc" d="M550.6 461.4l2.6 8.7-2.1 4.2-2.6-8.2z"/><path fill="#18a8db" d="M533 467.4l1.5 2.2-2.9 10.2-1.6-2zM540.2 467.7l2.1 4.8-2.7 8.3-2.2-4.3z"/><path fill="#15abdb" d="M554.7 466.2l2.7 10-1.8 3-2.7-9.5z"/><path fill="#454eea" d="M506.2 496.4l1.3 0-4.5 5.2-1.3-.2zM515.4 499.2l1 .5-4.5 5.4-1-.5z"/><path fill="#12b1d8" d="M544.6 465.4l2.2 6.6-2.6 6.6-2.3-5.8z"/><path fill="#4545e1" d="M576.5 497.7l4 7.9-.8.2-4.1-7.8zM575.6 498l4.1 7.8-.8.3-4.1-7.7zM521 503l1.6 1.5-4.5 4.5-1.6-1.2z"/><path fill="#2d8af6" d="M555.6 478.8l3.2 9.6-2.2 2.9-3.1-8.9zM549 478.9l2.8 7.9-2.6 4.8-2.8-7z"/><path fill="#3672f6" d="M525.8 485.6l1.2 1.4-3.7 8.8-1.2-1z"/><path fill="#396cf6" d="M536.6 488.2l2.3 4.1-3.3 7-2.4-3.1z"/><path fill="#4542db" d="M569.7 501.1l4.1 7.4-1.4.7-4.2-7.2zM532 504.7l2.6 2.8-4.1 4.3-2.5-2.1z"/><path fill="#484ef0" d="M561.7 496.9l3.7 8.1-2.1 1.6-3.7-7.5zM552.1 498l3.4 6.8-2.8 3-3.3-5.7z"/><path fill="#453fd5" d="M555.3 504.5l3.7 5.9-2.8 2.2-3.7-5.1z"/></g></g><circle cx="535.4" cy="431.4" r="3.3" fill="#000"/><circle cx="535.4" cy="431.4" r="3.3" fill="#f1b73c" fill-opacity="0.75"/><circle cx="529.5" cy="448.1" r="3.3" fill="#000"/><circle cx="529.5" cy="448.1" r="3.3" fill="#7ec95a" fill-opacity="0.75"/><circle cx="529.5" cy="451.0" r="3.3" fill="#000"/><circle cx="529.5" cy="451.0" r="3.3" fill="#33c79b" fill-opacity="0.75"/><circle cx="565.9" cy="451.0" r="3.3" fill="#000"/><circle cx="565.9" cy="451.0" r="3.3" fill="#45c88a" fill-opacity="0.75"/><circle cx="572.8" cy="454.0" r="3.3" fill="#000"/><circle cx="572.8" cy="454.0" r="3.3" fill="#0db9c3" fill-opacity="0.75"/><circle cx="575.7" cy="464.8" r="3.3" fill="#000"/><circle cx="575.7" cy="464.8" r="3.3" fill="#12b1d6" fill-opacity="0.75"/><circle cx="524.6" cy="467.8" r="3.3" fill="#000"/><circle cx="524.6" cy="467.8" r="3.3" fill="#10b4ce" fill-opacity="0.75"/><circle cx="528.5" cy="467.8" r="3.3" fill="#000"/><circle cx="528.5" cy="467.8" r="3.3" fill="#11b3d3" fill-opacity="0.75"/><circle cx="527.5" cy="473.7" r="3.3" fill="#000"/><circle cx="527.5" cy="473.7" r="3.3" fill="#11b3d3" fill-opacity="0.75"/><circle cx="512.2" cy="477.6" r="3.3" fill="#000"/><circle cx="512.2" cy="477.6" r="3.3" fill="#2e87f7" fill-opacity="0.75"/><circle cx="563.3" cy="478.6" r="3.3" fill="#000"/><circle cx="563.3" cy="478.6" r="3.3" fill="#1e9fe4" fill-opacity="0.75"/><circle cx="568.8" cy="487.4" r="3.3" fill="#000"/><circle cx="568.8" cy="487.4" r="3.3" fill="#2f83f7" fill-opacity="0.75"/><circle cx="580.6" cy="485.5" r="3.3" fill="#000"/><circle cx="580.6" cy="485.5" r="3.3" fill="#3872f6" fill-opacity="0.75"/><circle cx="572.8" cy="495.7" r="3.3" fill="#000"/><circle cx="572.8" cy="495.7" r="3.3" fill="#4160f5" fill-opacity="0.75"/><circle cx="514.7" cy="494.3" r="3.3" fill="#000"/><circle cx="514.7" cy="494.3" r="3.3" fill="#4161f5" fill-opacity="0.75"/><circle cx="558.0" cy="416.6" r="3.3" fill="#000"/><circle cx="558.0" cy="416.6" r="3.3" fill="#fbd32d" fill-opacity="0.75"/><path d="M558.00 419.90A3.3 3.3 0 0 0 558.00 413.30Z" fill="#000"/><circle cx="534.4" cy="426.5" r="3.3" fill="#000"/><circle cx="534.4" cy="426.5" r="3.3" fill="#fec736" fill-opacity="0.75"/><path d="M534.40 423.20A3.3 3.3 0 0 0 534.40 429.80Z" fill="#000"/><circle cx="523.2" cy="460.9" r="3.3" fill="#000"/><circle cx="523.2" cy="460.9" r="3.3" fill="#10b4cf" fill-opacity="0.75"/><path d="M523.20 457.60A3.3 3.3 0 0 0 523.20 464.20Z" fill="#000"/><circle cx="565.9" cy="462.8" r="3.3" fill="#000"/><circle cx="565.9" cy="462.8" r="3.3" fill="#0eb9c2" fill-opacity="0.75"/><path d="M565.90 466.10A3.3 3.3 0 0 0 565.90 459.50Z" fill="#000"/><circle cx="511.8" cy="492.7" r="3.3" fill="#000"/><circle cx="511.8" cy="492.7" r="3.3" fill="#4160f5" fill-opacity="0.75"/><path d="M514.13 490.37A3.3 3.3 0 0 0 509.47 495.03Z" fill="#000"/>
<path d="M469.4 500.9 L546.6 527.5 L623.8 500.9" fill="none" stroke="#1a1a1a" stroke-width="2.3" stroke-linejoin="miter"/>
<circle cx="557.4" cy="424.1" r="3.3" fill="#000"/>
<circle cx="569.8" cy="431.4" r="3.3" fill="#000"/>
<circle cx="580.6" cy="499.2" r="3.3" fill="#000"/>
<path d="M470.6 501.0 V399.0" stroke="#1a1a1a" stroke-width="2.7"/>
<path d="M469.6 500.0 h-3 M469.6 469.7 h-3 M469.6 439.4 h-3 M469.6 409.1 h-3" stroke="#1a1a1a" stroke-width="2"/>
<text x="463.7" y="503.6" text-anchor="end" style="font-family:'Liberation Sans',sans-serif;font-size:15px" fill="#262626">0</text>
<text x="463.7" y="473.3" text-anchor="end" style="font-family:'Liberation Sans',sans-serif;font-size:15px" fill="#262626">1</text>
<text x="463.7" y="443.0" text-anchor="end" style="font-family:'Liberation Sans',sans-serif;font-size:15px" fill="#262626">2</text>
<text x="463.7" y="412.7" text-anchor="end" style="font-family:'Liberation Sans',sans-serif;font-size:15px" fill="#262626">3</text>
<text transform="translate(449.4,450.4) rotate(-90)" text-anchor="middle" style="font-family:'Liberation Sans',sans-serif;font-size:14.6px" fill="#262626">Visibility (<tspan font-style="italic">d</tspan>′)</text>
<text transform="translate(499.6,528.3) rotate(19.3)" text-anchor="middle" style="font-family:'Liberation Sans',sans-serif;font-size:14.6px" fill="#262626">Vert.</text>
<text transform="translate(593.4,528.3) rotate(-19.3)" text-anchor="middle" style="font-family:'Liberation Sans',sans-serif;font-size:14.6px" fill="#262626">Hori.</text>
<text x="108.2" y="238.1" text-anchor="middle" style="font-family:'Liberation Sans',sans-serif;font-size:14.5px" fill="#1a1a1a">0.01 seconds</text>
<text x="327.4" y="238.3" text-anchor="middle" style="font-family:'Liberation Sans',sans-serif;font-size:14.5px" fill="#1a1a1a">0.02 seconds</text>
<text x="546.5" y="238.1" text-anchor="middle" style="font-family:'Liberation Sans',sans-serif;font-size:14.5px" fill="#1a1a1a">0.05 seconds</text>
<text x="108.2" y="392.6" text-anchor="middle" style="font-family:'Liberation Sans',sans-serif;font-size:14.5px" fill="#1a1a1a">0.10 seconds</text>
<text x="327.4" y="392.7" text-anchor="middle" style="font-family:'Liberation Sans',sans-serif;font-size:14.5px" fill="#1a1a1a">0.20 seconds</text>
<text x="546.7" y="392.7" text-anchor="middle" style="font-family:'Liberation Sans',sans-serif;font-size:14.5px" fill="#1a1a1a">0.40 seconds</text>
<text x="0.4" y="16.9" style="font-family:'Liberation Sans',sans-serif;font-size:19px;font-weight:bold" fill="#000">a</text>
<text x="199.8" y="16.9" style="font-family:'Liberation Sans',sans-serif;font-size:19px;font-weight:bold" fill="#000">b</text>
<text x="424.6" y="16.9" style="font-family:'Liberation Sans',sans-serif;font-size:19px;font-weight:bold" fill="#000">c</text>
<text x="-0.8" y="231.0" style="font-family:'Liberation Sans',sans-serif;font-size:19px;font-weight:bold" fill="#000">d</text>
<text x="218.3" y="231.0" style="font-family:'Liberation Sans',sans-serif;font-size:19px;font-weight:bold" fill="#000">e</text>
<text x="442.5" y="231.0" style="font-family:'Liberation Sans',sans-serif;font-size:19px;font-weight:bold" fill="#000">f</text>
<text x="-0.3" y="396.9" style="font-family:'Liberation Sans',sans-serif;font-size:19px;font-weight:bold" fill="#000">g</text>
<text x="218.3" y="397.2" style="font-family:'Liberation Sans',sans-serif;font-size:19px;font-weight:bold" fill="#000">h</text>
<text x="441.3" y="397.2" style="font-family:'Liberation Sans',sans-serif;font-size:19px;font-weight:bold" fill="#000">i</text>
<defs><linearGradient id="cb" x1="0" y1="0" x2="0" y2="1"><stop offset="0.000" stop-color="#f9fb15"/><stop offset="0.036" stop-color="#f9ec1e"/><stop offset="0.071" stop-color="#fadc27"/><stop offset="0.107" stop-color="#fccf2f"/><stop offset="0.143" stop-color="#fec338"/><stop offset="0.179" stop-color="#f5b73d"/><stop offset="0.214" stop-color="#e2bb38"/><stop offset="0.250" stop-color="#c8c037"/><stop offset="0.286" stop-color="#abc739"/><stop offset="0.321" stop-color="#8cc84f"/><stop offset="0.357" stop-color="#6ec966"/><stop offset="0.393" stop-color="#52c97f"/><stop offset="0.429" stop-color="#37c897"/><stop offset="0.464" stop-color="#22c0ad"/><stop offset="0.500" stop-color="#0db9c3"/><stop offset="0.536" stop-color="#0fb5cd"/><stop offset="0.571" stop-color="#12b1d6"/><stop offset="0.607" stop-color="#19a7de"/><stop offset="0.643" stop-color="#209ce6"/><stop offset="0.679" stop-color="#2791ef"/><stop offset="0.714" stop-color="#2e87f7"/><stop offset="0.750" stop-color="#347af6"/><stop offset="0.786" stop-color="#3b6df6"/><stop offset="0.821" stop-color="#415ff5"/><stop offset="0.857" stop-color="#4852f4"/><stop offset="0.893" stop-color="#4547e1"/><stop offset="0.929" stop-color="#433cce"/><stop offset="0.964" stop-color="#4031bb"/><stop offset="1.000" stop-color="#3e26a8"/></linearGradient></defs>
<rect x="649.3" y="374.5" width="23" height="152" fill="url(#cb)" stroke="#333" stroke-width="0.8"/>
<path d="M672.3 425.2 h-3 M672.3 475.9 h-3" stroke="#333" stroke-width="1"/>
<text x="678" y="379.3" style="font-family:'Liberation Sans',sans-serif;font-size:13.6px" fill="#262626">3</text>
<text x="678" y="430.0" style="font-family:'Liberation Sans',sans-serif;font-size:13.6px" fill="#262626">2</text>
<text x="678" y="480.7" style="font-family:'Liberation Sans',sans-serif;font-size:13.6px" fill="#262626">1</text>
<text x="678" y="531.3" style="font-family:'Liberation Sans',sans-serif;font-size:13.6px" fill="#262626">0</text>
</svg></body></html>
